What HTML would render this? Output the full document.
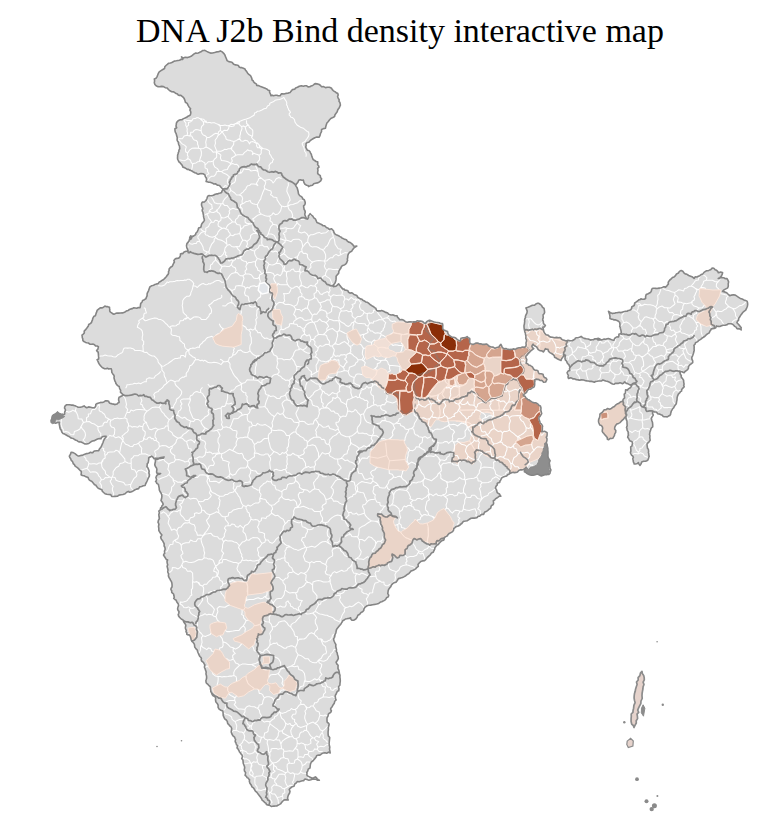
<!DOCTYPE html>
<html><head><meta charset="utf-8"><title>DNA J2b Bind density interactive map</title>
<style>
html,body{margin:0;padding:0;background:#fff;}
body{width:771px;height:815px;position:relative;overflow:hidden;font-family:"Liberation Serif",serif;}
#title{position:absolute;left:0;top:14px;width:800px;text-align:center;font-size:34px;line-height:1;color:#000;white-space:nowrap;letter-spacing:0px;}
</style></head><body>
<div id="title">DNA J2b Bind density interactive map</div>
<svg width="771" height="815" viewBox="0 0 771 815" style="position:absolute;left:0;top:0">
<defs><clipPath id="cc"><path d="M154.3 78.9l1.7-.6 1-1.4 .6-1.6 .6-1.6 1-1.9 1.8-1.2 1.8-1.1 1.8-1 .2-1.7 1.2-1.3 1.3-1.1 1.2-1.1 2-.3 1.9-.8 1.8-1.1 2.1-.3 1.6-.3 1.7-.3 1.5-.9 1.7 .2 -.5-1.4 -.8-1.2 .9 .6 1 .6 1-.5 1-.4 2 .4 1.9-.7 1.8-.6 1.5-1.2 1.5-1.2 1.7-.9 1.2 .2 1.2-.2 1.1-.5 1.1-.6 1.1-.5 1-.8 1.2-.1 1.2-.1 1.8 1 1.8 .9 2 .8 2.1-.1 2-.5 1.9-.6 2-.2 1.9-.8 1.8 1 1.5 1.4 1.2 1.7 .7 1.9 .8 1.8 .7 1.9 1.7 1 2 .4 1.1 .2 .8 .9 .7 .9 1 .5 1.1 .4 1.1 .1 1.1 .2 .9 .7 .6 1.1 1.2 .6 1.2-.1 1.2 .6 1.1 .5 1.1 .5 .5 1.1 .9 .9 1.1 1.8 1.3 1.5 1.7 1.3 1 1.9 .4 1.2 .1 1.2 1.1 .7 .5 1.1 .8 1 1 .6 1.1 .7 .2 1.3 2.1 .2 1.8 1 2 .7 1.9 .7 1.3 .6 1.4 .6 1 1.1 1.5 .3 -.2 1.4 .6 1.3 .5 1.2 .4 1.3 1.1-.7 1.2 .6 1.1-.2 1.2-.2 1.1-.1 1.1 .4 1.2 .2 1.1 0 .6-1 .8-.9 1.2-.2 1.1 .3 2-.6 2.1-.2 1.1-.4 1.2-.4 .7-1 .8-.9 .8-1 1.2-.1 1.2-.4 .7-1 1.9-.7 1.8-1.1 2-.5 2.1 .5 1.6-.4 1.7 0 1.4 1.1 1.8-.2 1.3-.8 1.5-.4 1.2-1 1.2-.9 1.8 .3 1.8 .4 1.6 1 1.3 1.4 2.1-.1 1.8 1 1.9-.4 2 0 1.2 .5 1.1 .8 .6 1.2 1 .9 1 .8 1.2 .6 .9 .9 1.3 .3 .5 1.7 -.6 1.7 .6 1.7 1 1.4 -.2 1.5 .9 1.2 .3 1.4 .2 1.3 -.6 1.3 -.5 1.3 -.8 1.1 -.8 1.2 -.5 1.8 -1.1 1.4 -1.1 1.5 -.4 1.8 -1.8 1.1 -2 .9 -1.4 1.5 -1.3 1.7 -1.2 1.3 -.6 1.8 -.5 1.6 -.3 1.8 -2 .4 -1.9 .9 -.1 2.1 -1 1.9 -.5 2 -1 1.8 -2.1-.2 -2.1 .6 -1.8 1.1 -1.8 1.1 -1.3 1.1 -1.1 1.2 -1.7 .3 -1.1 1.3 .1 1.7 -.4 1.7 .8 1.5 .8 1.5 1.5 .3 1.1 1 .6 1.3 .7 1.3 .6 2 .7 1.9 .7 1.6 1.5 .9 1.4 1 1.6 .4 .1 1.4 -.2 1.4 1 1 .4 1.4 -1.4 1.3 .4 1.9 -.3 1.6 0 1.7 1.2 1.1 1.4 1 .2 1.8 1.1 1.3 -.9 2 -1.7 1.4 -1.7 .7 -1.8 .3 -1.8 .6 -1.2 1.5 -2.1 .3 -1.8 1 -.6-1.1 -1.3-.3 -1-.5 -1-.7 -.9-1.9 -.4-2 -1.5 .1 -1.4-.5 -1.5 .3 -.8 1.4 -.4 1.1 -.9 .9 -.6 .9 -.7 1 .7 1.3 .8 1.2 .6 2 .5 2 .3 2.1 1.2 1.7 1.3 .8 1.2 1 .6 1.6 1.5 .8 .6 1.5 .4 1.7 -.5 1.7 -1.2 1.2 .1 1.2 .2 1.1 .2 1.2 .8 1 .1 1.1 .2 1.2 -.4 1.1 .1 1.2 .5 1.1 .4 1.1 .6 1.1 1.1 .6 1-1.3 -.2-1.6 .9-1.1 .9-1.2 1.3 1.3 1.4 1.2 1 1.6 1.5 1.1 .9 1.8 .7 1.8 1.9 .7 1.7 .9 1.3 .6 1.1 1 1.5 0 1.2 1 .8 .8 1.1 .4 1 .5 .6 1 1.3-.3 1.2-.4 .9 1 .9 .9 .6 1.9 1.1 1.6 1.7 1 1.8 .7 1 .6 .9 .5 1.1 .4 .6 1 1.1 .3 .9 .6 1.1 .2 1.1 .3 .9 1.4 1.4 1 1.6 .4 1.3 1.1 1.2 1.1 .8 1.3 1.6 .3 1.6-.2 -1.6 1 -1.5 1.1 -1.1 1.5 -1 1.6 -1.9 .9 -1.3 1.6 -.6 2 -.1 2 -.4 1.3 .3 1.3 -.5 1.1 -.4 1.2 -.8 1.1 -1 .8 -1.2 .6 -1.2 .4 -.9 .7 -.5 1 -.4 1.1 -.7 .8 -.5 1 -.7 1 0 1.1 -.2 1.1 -1.3 1.4 -1.2 1.4 0 1.8 -.1 1.9 -.4 1.7 -.7 1.6 -1.3 1.4 -.2 1.8 1.5 0 1.5-.5 1.1-1 1.1-1.1 .7 1.1 .9 .9 .7 1.1 .9 1 .9 1 1.4 .2 .9 1 1.4 .1 1.5 .6 .7 1.5 1.4 .8 1.6-.3 1.3 .7 1.1 1 1.4 .4 1.4 .5 .7 1.6 1.4 1 1.4 .9 1.7 .4 .8 .9 1.1 .5 1 .6 1 .7 1.2 .3 1.1 .6 .9 .8 .9 .8 1.8 1.2 1.9 1 .9 .9 1.2 .6 .4 1.2 .4 1.2 1.2 .4 1.3-.2 1.2 .2 1.2-.4 2.1 .7 1.9 1.1 1.1 .2 1.1 .3 .6 1 1 .6 1.9 .5 2-.1 1.9 .8 2 .1 .3 1.2 .8 .9 .8 .9 .7 .9 2.1-.2 2 .8 1.6 1.4 2 .6 1.6-.4 1.6-.2 1.7 .3 1.6-.3 1.8 .2 1.4-1.1 1.6 .3 1.7-.1 1.4 .3 1.4 .7 1 1.1 1.4 .5 .6-1.2 .9-1 1.2-.6 1.2-.6 1.6 .6 1.6 .6 1.6 .6 1.7 .3 1.7 .2 1.6 .2 1.5 .9 1.7 0 .3 1.6 -.1 1.7 0 1.8 1.1 1.3 1.8 .8 1.9 .7 .4 1.9 1 1.8 1.5 1 1.5 1 1.8 .1 1.7 .5 1.1 .9 1 1 1.2 .9 1.3 .5 .6-1.3 .4-1.5 1.4-.4 1.5 0 1.7-.3 1.5-1 1.1 1.2 1.5 .7 .1 1.3 -.2 1.4 .3 1.3 .5 1.2 1.3 .3 1.3 .4 1.6-.6 1.6-.7 1.2-.1 1.1 .3 1.1 .7 1.2-.3 1.8 .7 2 0 1.8-.4 1.5 1 1.4 1.3 1.8 .7 2.1 .1 1.8 1.2 1.9-.7 2-.6 .8-1.4 1.2-1.2 .8 1.5 .5 1.7 1.2 .7 1.3 .6 1.2-.3 1.1 .5 1.2 .2 1.1 .3 2-.2 1.9-.5 2.1 .5 1.8-1.1 1.9-.5 2-.2 1.8-.6 1.8 .4 1.3-1.3 .3-1.3 -.2-1.3 .1-1.3 .5-1.2 -.2-1.3 -.6-1.2 .1-1.4 0-1.3 -.4-1.3 -.1-1.3 -.6-1.2 -.2-1.4 -.3-1.3 -.2-1.3 -.1-1.3 0-1.3 .4-1.3 .1-1.3 .2-1.3 -.1-1.3 .2-1.4 .7-1.1 -.1-1.4 .5-1.3 1-1.8 .3-2.1 -.6-1.6 -.7-1.6 2-.6 1.9-.7 1-.7 1.1-.5 1.3-.2 1.2 .1 1.4-1.3 1.8-.7 1.2 0 .9 .7 .9 .7 .9 .6 .9 1.9 1.7 1.3 .2 1.3 .2 1.3 .1 1.3 -.5 1.3 -1 1 0 1.5 .2 1.4 -.5 1.3 -.1 1.2 .6 1.1 0 1.2 .2 1.1 .9 1 1 .9 -.9 1.5 -1.7 .4 .4 1.3 .3 1.3 .3 1.8 .9 1.5 1.3 1.5 2 .4 1.2 1.2 1.4 .8 2 .1 1.9 .5 2-.3 1.9 .3 1.2-.2 1.2 .4 .5 1.1 1 .7 1.9 .6 1.9 .7 1.9-.7 2 .4 2.1 .1 1.8-1.1 1-.6 .6-1.1 1.1-.2 1.2-.1 1.7-.5 1.6-.8 1.5 1.2 1.7 .8 1.9 .4 2 .2 1.2 .5 1.3 .6 1.3-.3 1.4-.1 1.5-.9 1.7 .1 1.7-.2 1.7 .3 -1.4-.6 -1.5 .1 .9 1.5 1.8-.1 1.5 0 1.5-.4 1.4-.5 1.5 .3 1.4-.5 1.4-.3 1.3 .5 1.3 .6 1.4 .4 1.4 .2 .6-1.5 1-1.1 1.4-.7 1.6 .1 .4-1.4 0-1.4 1.4-.5 1-1 -.3-2.1 -.6-2.1 -.2-1.1 -.5-1 .3-1.1 -.1-1.1 -.2-1.7 -1.2-1.2 -1.4-.8 -1.5-.6 -1.5 0 -1.4-.6 -1.4-.2 -1.4-.6 .1-1.9 -.3-1.8 -.6-1.7 -.6-1.8 .9 .7 .9 .7 1.1 .4 1.1 .5 1.1-.4 1.1 0 1.1-.4 1.2 0 1.1-.3 1.1-.2 1 .3 1.2-.2 2.1-.7 2.1-.4 1.4 0 1.2-.8 1.3-.3 1.2-.5 .9-1.2 .1-1.5 1.2-.8 1.3-.6 .3-1.3 .2-1.4 1.2-.7 1.1-.8 1-.7 .8-.9 1.2-.2 .9-.9 1.1 .6 1.3-.1 1.2-.1 1.1-.6 0-2.1 .6-1.9 1.9-.8 1.8-.9 .9-.8 .6-1.1 .2-1.3 .6-1 1.2-.4 1.2 .1 1.2 .1 1.2 .1 2.1-.4 2.2-.3 1.1-.4 1-.5 1.1 0 1.1 .2 1.5-1.5 1.3-1.6 -.3-1.1 .4-1.1 .6-.9 .7-.9 1.4-1.1 1.2-1.4 1.7-.6 1.4-1.2 1-1.8 1.9-.8 1-1.7 1.8-.9 1.6 .8 1.1 1.5 1.3 1.1 1.8 .4 1.7 1.2 1.9 .8 2 .8 1.5 1.4 1-1.6 1.8 .1 1.4-.7 1.5-.6 1.4-1.2 1.7-.6 1.1-1.5 1.5-1 1-.6 1.2-.1 1.1-.3 1-.5 1.1-.5 .8-1 1.2-.3 1.2 .4 1 1.2 1.5 .6 1.1 1 .6 1.5 1.1-.4 1.1-.4 1.1 .2 1 .6 -.5 1.8 -.9 1.6 -1.3 1.4 -1.6 .9 1.2-.1 .8-.8 1.2-.2 1.1 .2 1.2 .1 .9 .8 1.1 .1 1.1-.1 1 1.6 .7 1.8 -.4 1.9 .1 1.9 -.2 1.1 -.4 1 -.9 .6 -1 .5 -1.8 1 -1.4 1.5 2.1 .5 2 .9 1.5 1.5 1.6 1.4 1.8-.6 1.8-.4 1.9 .4 1.6 1.1 1.7 1.1 1.7 1.1 1.9 .7 1.8 .8 1.5 .5 1.5 .7 .5 1.5 .2 1.6 -.3 2 -.8 1.9 -.9 2 -1.7 1.2 -1.3 1.2 -1 1.6 -1.2 1.4 -.8 1.6 -1.1 1.3 0 1.7 -1.1 1.2 -.6 1.5 1.5 1.5 1.4 1.6 .7 .9 .7 .8 -.2 1.2 .2 1.1 -1-.6 -1-.7 -1.1 .4 -1.2-.5 -.8-1.4 -1.4-.7 -1-1.1 -1.1-1.1 -1.4-.5 -1.5 0 -1.6 .1 -1.2 1 -1.8 .5 -1.9-.1 -1.7 .5 -1.7 .8 -1.7-.1 -1.7-.5 -.6 1.8 -1.7 .8 -1.4 .1 -1.4 .3 -.6 1.3 -.9 1.1 -.5 1.5 -1.4 .9 -1.3 .8 -1.1 1.1 -1.3 1.2 -1.6 .9 -1.3 1.2 -1.5 1 -1.2 .6 -.8 1 -1.1 .6 -1.2 .6 -.5 1.5 -1.1 1.1 .3 1.6 -.1 1.5 .1 1.9 -.4 1.8 -.5 1.7 -.6 1.8 -.9 1.7 .1 1.8 .8 1.7 0 1.9 -1.5 1.1 -1.5 1.1 -1.2 1.5 -.1 2 -.8 1.3 -1.3 .9 -1.3 .9 -.9 1.2 -1.1-.4 -1-.6 -1.1-.2 -1.1-.2 .2 1.5 .4 1.4 .9 1.2 -.1 1.6 1.2 1.6 1.2 1.6 .1 1.9 .4 2 -.4 1.3 .5 1.3 -.8 1 -1 .9 -.8 1.1 0 1.3 -1.1 .6 -.7 1.1 -1.4 1.4 -.8 1.8 -.5 1.9 -.1 2 -.4 1.9 -.3 2 -1.2 1.5 -1 1.7 -.6 1.1 -1 .8 -.4 1.1 -.7 1 -.3 1.2 -.4 1.2 -.2 1.2 -.7 1 -1.3 .6 -1.2 .8 -1.4-.1 -1.4 0 -1.4-.4 -.8-1.2 -1.3-.5 -1.2-.6 -2.1-.4 -1.2-1.7 -2 0 -1.8-.8 -.2 2 .8 1.9 -1 1.6 -1 1.7 .5 2.1 .7 2.1 .2 2.1 0 2.2 -1 .7 -.6 1 -.4 1.1 -.3 1.2 -.5 1.1 -.1 1.2 -.3 1.1 .4 1.2 0 1.2 -.1 1.2 .2 1.2 .2 1.2 -.8 1 -.7 1 -1 .7 -.7 1 .2 2.2 .3 2.1 .8 .9 .2 1.2 .1 1.1 -.2 1.1 .4 1.2 0 1.2 .4 1.3 -.5 1.1 -.3 1.4 -.5 1.2 -1.1 .7 -1.2 .5 -2 0 -1.9 .7 -.6 1.9 -1.2 1.6 -.9-1.3 -.6-1.5 -.9 .8 -1 .4 -1.2 .2 -1.1 0 -.3-1.1 -.6-1 0-1.1 -.3-1.1 -.2-1.2 .6-1.2 -.6-1.1 -.9-.8 -.7-.9 -.5-1 -.3-1.2 .5-1.1 -.1-2.1 -.1-2.2 1.2-.8 .3-1.5 .3-1.3 -.3-1.4 -1.2-.7 -1.3-.5 -.6-1.2 -.6-1.2 -.8-.9 .1-1.2 .7-1 -.3-1.2 0-1.1 -.1-1.2 -.6-.9 -.5-1 0-1.1 -.5-1.1 .4-1 .3-1.1 -.2-2.1 0-2.2 -.5-1 -.4-1.1 -.2-1.1 -.3-1.1 -1.2 1 -.8 1.3 -1.2 1 -1.1 1 -1.2 1.4 -1.6 .8 -1.7 .7 -1.2 1.4 -.8 1.7 -.2 1.9 1.2 1.5 -.2 2 -.9 1.3 -.3 1.7 -.8 1.3 -.8 1.4 -1.2 .2 -1.2-.1 -1 .6 -.9 .8 -1.2-.8 0-1.5 -.9-.9 -.8-1.1 -1-.9 -.8-1.2 -1-.9 -.6-1.3 .2-1.5 .3-1.5 -.4-1.5 -1-1.2 -1.4-.4 -.6-1.3 -.6-1.3 -.2-1.3 .2-1.8 .8-1.7 .4-1.8 0-1.8 1.2-1 1.3-.8 .9-1.2 .9-1.3 1.9-.2 1.5-1.1 1.9 .7 1.8-.8 1.4-1.1 1.7-.7 1.1-1.5 1.5-1 1.5-.5 1.3-1.1 1.3-.9 1.6-.4 .5-1.9 1.4-1.4 -.2-1.9 -.2-1.9 1-.7 .3-1.2 0-1.2 .1-1.2 1.9 .3 1.2-1.5 1.6-.8 1-1.4 .7-1.4 .6-1.5 1.7 .4 1.3-1.2 -1.8 .5 -1.6 1.1 -1.9 .8 -1.8-1 -1.1-.6 -1.1-.1 -.8-.9 -1.1-.6 -.7 1.2 -1.3 .6 -1.2-.6 -1.3-.4 -1.4 .7 -1.5 0 -1.6 0 -1.4 .8 -1.5-.2 -1.4-.7 -1.2-.9 -1.4-.6 -1.4-.5 -1.4-.3 -1.4-.6 -1.4-.4 -1.3 .9 -1.5 .1 -1.5 0 -1.5 .3 -1.5 .2 -1.3 .7 -1.4-.5 -1.5-.3 -1.5 0 -1.4-.4 -1.4-.1 -1.4-.2 -2.1-.7 -2.1-.3 -1.1 .4 -1.1 0 -1.1-.2 -1.1-.1 -1.1-.2 -1-.6 -1.1-.3 -1.1 .2 -.9-.7 -1.1-.4 -1.2 .3 -1.1 .3 -.5-1.5 .4-1.5 -.8-1.3 -.5-1.4 1-1.6 1.7-.6 -.3-1.8 .5-1.7 -.7-1.1 -.4-1.3 -1-.8 -.8-1.1 -.4-1.6 -1.3-1 -.4-1.5 .1-1.6 .4-1.8 -1.9-.6 0 1.7 -1.1 1.3 -1 1.3 -.5 1.5 -1.7-.6 -1.6-.7 -1.5-1.1 -1.7-.8 -.2-1.5 -1.1-1.1 -1.6-1.1 -1.7-.9 -1.4-1.4 -.5-1.8 -1.4-.1 -1.2-.6 -1 1.6 -.9 1.7 -1.5-1.1 -1.8-.2 -1.1-.6 -.9-.6 -.7-1 -.5-1.1 -.9-.8 -1.1-.5 -1.1-.8 -.8-1.1 -.7 .9 -.6 1 .7 1.5 1.2 1.1 -1.3 1 -1.3 1 -.9 .7 -.7 .9 -.9 .7 -.7 .9 -.6 1 -.9 .7 -.6 1 .1 1.2 .9 1.5 -.3 2 -.4 1.9 1.5 .6 1.1 1.3 1.1 .1 1 .7 .9 .5 .9 .7 .9 1.9 1.7 1.3 1.5 0 1.3 .7 .3 1.4 .8 1.2 2 .2 1.9 .4 .4 1.7 .9 1.5 1.6 .6 1 1.4 -.6 1.3 -.7 1.3 -2 .3 -1.2-1.6 -1.2-.3 -1.2 .1 -1-.9 -1.2-.2 -1.7-.3 -1.5 .9 .3 1.3 -.3 1.3 .1 1.3 -.1 1.3 -.5 1.7 -1.5 .9 -1.1 .4 -.8 .9 -1.8 .2 -1.5 1.1 -.9 1.9 -1.6 1.4 -1 .7 -.3 1.2 1.6 .9 .9 1.7 1 .6 .8 .9 1.2 .2 .9 .9 1.9 1.1 2 .8 2.1 .2 1.8 1.1 1 1.3 1.6 .7 .6 2 -.2 2 .4 1.8 .5 1.8 -.6 1 -.6 .9 -.6 1 -.9 .7 -.1 1.2 .1 1.2 .5 1.1 .4 1.1 .2 1.4 1.2 .8 .8 1.1 .5 1.2 -.3 1.4 .1 1.4 -.3 1.3 -.4 1.4 1.4-.3 1.5-.2 1.3 .6 1.2 .8 0 1.2 0 1.1 -.2 1.2 -.7 1 .8 1.7 -.1 1.9 -.6 1.9 .8 1.8 .2 1.8 .5 1.8 0 1.8 .2 1.8 0 1.9 -.1 1.8 .2 1.9 .8 1.7 1.2 1.7 -.8 2 .2 1.8 .4 1.8 .1 1.9 .9 1.7 -.6 1.8 -.4 1.8 -1 .9 -1.3-.3 -1.1 .7 -1.2-.4 -1.2 .7 -1.4 .4 -1.4 .4 -1.4-.6 -1.3-.8 -1.4-.6 -1.4 .6 -1.4 .5 -1.4 .2 -1.4 .1 -1.3-.4 -1.3-.5 -1.2-.5 -1.2-.6 -1-1 -1.2-.6 .1-1.3 0-1.3 1.1-.7 .7-1.2 -1.3 1.2 -1.5 1.1 -1.8 .4 -1.8 0 -1.4 .8 -1 1.2 -1.5 .5 -1.6 .2 -1.2-.2 -1.2 .1 -1 .6 -1.1 .4 -1.1 .7 -1.2 .6 -.8 1.1 -1.4 .4 -1.5 .4 -1.4 .7 -1.2 1 -.5 1.5 -.8 1.1 -.3 1.4 -1.3 .3 -1.2 .8 .1 1.4 -1 .9 -.5 1.1 -.4 1.2 .7 1 .5 1.1 .3 1.2 .3 1.2 1.1 .7 1.1 .7 .7 1.1 .7 1.1 -1.5 0 -1.2 .9 -1.3 .9 -1.4 .9 -.8 1.2 -1.3 .6 .2 1.4 .1 1.4 -.7 1.3 -1.3 .6 -.6 1.2 -.2 1.4 -.9 .7 -1 .5 -.8 .9 -.9 .7 -1.1 .7 -1.3 .5 -.7 1.2 -.5 1.2 -1.5-.1 -1.3 .7 -1.1 1.2 -1.6 0 -.9 1.2 -1.5 .6 -1.5 .1 -1.5-.1 -1.6 .2 -1.3 .8 -1.3 .9 -1.3 .8 -1.6 .3 -1.6 .2 -1.3 1 -.9 1.3 -1.2 .7 -.8 1 -1.2 .7 -1.3 .3 -1.3 .5 -1 .9 -1.2 .9 -.2 1.5 -1 1.6 -1.6 1 -1.8 .8 -1.3 1.3 -.5 1.1 -1.1 .6 -1 .5 -.9 .8 -.2 1.3 -.5 1.1 -1.3 .3 -1 .8 -.9 .7 -.8 .9 -.8 .8 -.6 1 -1.1 .4 -.9 .8 -.6 1 -.8 .9 -.1 1.2 -.5 1.1 -.6 1.1 -.4 1.2 -1.2 .3 -1 .7 -.5 1.2 -.9 .9 -1.4 1.2 -1.3 1.3 -1.1 1.5 -1.4 1.2 -2 .3 -1.8 .7 -1.5 1.4 -1.2 1.5 .3 1.9 -1.6 1.2 -1.1 1.3 -1.5 .8 -1.5 .7 -1.6 .6 -1 1.3 -1.1 1.3 -1.7 .9 -1.4 1.2 -1.6 .9 -1.7 .9 -2.1 .6 -2 .5 -1.1 1.9 -1.3 1.7 -1.8 .4 -1.5 1 -1.2 1.3 -.7 1.7 -.8 .9 -.7 .9 -.6 1 -.5 1.1 -.2 1.6 -.2 1.6 .9 1.5 -.5 1.7 -1.7 .9 -.9 1.7 -1.1 .9 -1.4 .7 -1.3 .6 -1.4 .4 -1.7 1.3 -2 .6 -2 .4 -2.1 .3 -2 .4 -2.1 .2 -1.9 .8 -1.7 1.2 -.9 1.5 -.3 1.7 -1.1 1.3 -1.6 .7 -1.3 1.7 -1.8 1.1 -.8 2 -1.3 1.7 -1.8 1.2 -2.1 .1 -1-1.1 -.3-1.5 -1.2 .7 -1.4 .1 -1.3 .3 -1.3 .2 -1.1 1 -1.3 .5 -.7 1.2 -.8 1.2 -.8 1.5 -1.1 1.1 -1 1.3 -1 1.3 -1.1 1.4 -.4 1.8 -.3 1.7 -.8 1.6 -.2 1.4 -.3 1.3 -.8 1.3 0 1.4 .6 1.5 .8 1.6 .8 1.5 -.2 1.7 .4 1.7 .4 1.6 -.2 1.7 .9 1.5 .2 1.7 .7 2 .2 2.2 -1 1.8 -1.2 1.8 .7 1.6 1.3 1.3 -.1 1.7 0 1.8 .8 1.5 .4 1.7 .2 1.7 .6 1.6 -.1 2 .3 1.9 .1 2 -.3 1.9 -.1 2.2 -1.5 1.5 .6 2 -.3 2.1 -1.3 .5 -.7 1.2 -.4 1.2 -.7 1.1 -.4 1.3 .2 1.3 .1 1.3 .6 1.2 -1.4 1.4 -.4 1.9 -1.1 1.5 -.9 1.7 -.8 1 -.8 1 0 1.3 .7 1.1 -.4 1.1 -.8 .8 -1 .5 -.8 .9 -.4 2 -1 1.8 0 2 .1 2 .7 .9 1 .6 .3 1.1 -.2 1.1 -.6 2 .1 2.1 -.3 2 0 2.1 .2 2.1 1.4 1.6 -.2 1.9 -.2 2 -.2 1.9 .2 2 .5 1.9 -.3 2 .4 1.9 .3 1.9 -1.8-.9 -1.7 1.2 -1.7-.6 -1.8 .3 -1.3 .6 -1.1 .9 -1.3 .8 -1.5-.2 -1.4 .7 -.6 1.5 -1 1.1 -.9 1.1 -1.3 1.5 -1.6 1.2 -.7 1.8 -.3 2 -.2 2 -1.8 1.1 -.4 1.8 -1 1.6 .2 1.1 -.2 1.2 .6 1 1 .6 1.7 .8 1.7 .8 1.9-.2 1.7-.9 1 .8 .8 1.1 1 .9 1.1 .6 -1.7-.1 -1.5-.9 -1.7 0 -1.6-.3 -1.9 .7 -2 .5 -2-.6 -1.9-.6 -.8 .8 -.6 1 -1.1-.1 -1.1 .4 -2.1 .7 -2.1-.2 -1.1 1.5 -1.5 1.1 -.6 2 -2 .6 -1.5 1.2 -1.3 1.5 .8 1.8 -.5 2 -1 1.5 -.6 1.7 -.4 1.8 .7 1.7 -1.2-.2 -1.2 .1 -1.3-.1 -1.1 .7 -1 1 -1 1.2 -.9 1.2 -1.3 .7 -1.2 .6 -1.2 .8 -1.4 0 -1.4 .1 -1.4 .1 -1.3 .3 -1.1-.9 -1.3-.4 -1.3-.3 -1.2-.5 -.5-1.3 -1.2-.6 -1.1-1.3 -1.4-.9 -.6-1.6 -1-1.4 -1.2-1.6 -1.3-1.6 -1.2-1.7 -1.5-1.3 -.9-1.6 -1-1.6 -1.6-1.1 -.7-1.9 -1.3-1.7 -.6-2.1 .3-1.2 -.8-.9 -.7-.9 -1-.5 -.7-1.3 -1.3-.9 .3-1.5 .2-1.5 -1.1-1.3 -.2-1.7 .4-1.6 -.3-1.6 -.6-1.5 -.6-1.5 -.1-1.6 -.2-1.6 -1.2-1.5 .8-1.8 -.5-1.7 -1.2-1.2 -.5-1 -.8-.8 -.4-1.1 -.6-1 -.6-1.1 -.9-.9 .3-1.2 .4-1.2 -1.1-.6 -.4-1.1 -.3-1.1 -.7-1 .1-1.2 .3-1.1 -.6-1.1 -.4-1.1 -1.6-1.4 -1.1-1.8 -.7-2 .3-2.1 .2-1.3 -.4-1.2 -.7-1 -1.1-.7 -.6-1 -.9-.8 -.5-1.1 -.1-1.2 -1.1-1.6 -1.6-1.1 -.8-1.7 -.7-1.8 -.1-2.1 -.2-2.2 -2-.9 -1.8-1.1 -1-1.8 0-2.1 -.9-1.8 -1.3-1.5 -.3-1.2 -.1-1.2 .2-1.3 -.4-1.2 -1.1-.7 -1.1-.5 -.8-1 -.5-1.2 -.4-1.1 -.6-.9 0-1.2 -.3-1.1 -.1-1.1 0-1.2 -.8-.9 -.9-.8 -.8-.9 -.9-.7 -.8-.9 -.2-1.2 -.1-1.2 .4-1.1 .3-1.1 0-1.2 -.1-1.2 -.4-1.2 -.1-1.2 .2-1.2 -.3-1.2 -.5-1.1 -.3-1.2 -.6-1.1 0-1.3 .4-1.3 -.7-1.1 -.6-1.2 -.9-1 -1.1-.7 -.4-1.3 .2-1.4 -.7-1 -.8-.8 -.6-1 -.5-1.1 -.4-1.1 -.5-1 -.4-1.1 -.2-1.2 -1-.8 -.8-1.1 -.8-1.1 -.1-1.3 -.2-1.3 -.7-1.2 -.8-1.1 -1-.8 -.8-1.6 -.3-1.7 -.5-1.6 -1-1.5 -1.4 0 -1.1-.7 0-1.4 -.8-1.1 .3-1.2 -.5-1.1 -.4-1.1 0-1.2 .4-1.2 -.2-1.2 -.6-1 -.7-.9 -.6-1 -.4-1.1 -.6-1.1 -1.2-.3 -1-1 -1-1.1 -.9-1.2 -.4-1.4 .6-1.4 .2-1.6 -.9-1.2 -.5-1.5 .3-1.5 .6-1.5 0-1.6 -.9-1.3 -.9-1.3 -.5-1.5 -1.3-.7 -1.2-1 .6-1.3 -.4-1.4 -.2-1.5 -.9-1 -1.1-1 0-1.5 -.8-1.2 .2-1.4 .9-1.2 .1-1.5 -.1-1.4 -.2-1.4 -.5-1.3 -.8-1.2 -.6-1.3 -.8-1.1 -.7-1.9 .2-2 -.9-1.9 .3-2 -.4-1.8 -.5-1.8 .6-1.6 -.5-1.7 -.2-1.6 .6-1.6 -1.2-.3 -.6-1 -1.2-1.8 -1.1-1.8 .5-1 .8-.9 -.3-1.1 0-1.2 .6-1.1 0-1.2 -.2-1.2 -.7-1.1 -.1-1.1 .1-1.2 -.5-1.1 -.5-1 -.8-1.4 -1-1.2 -.5-1.1 -.3-1.2 .7-.9 .6-1.1 -1.4-1.7 -1.2-1.8 -.5-1.1 0-1.1 0-1.2 -.3-1.1 .1-1.2 .3-1.2 -.3-1.1 -.6-1.1 .4-2 1-1.8 -.4-2 -.2-2 .6-1.8 -.6-1.7 1.5-1.2 .3-1.8 1-.7 .2-1.3 .9-.8 .5-1.1 -.9-1.9 -1.3-1.7 .6-2 .3-2.1 -.2-1.8 -.7-1.6 -1-1.5 -.7-1.6 -.1-1.8 -.4-1.8 -.4-1.9 -1.7-1 -.2-1.2 -.9-.7 .6-.9 .4-1.1 -.7-2 .8-1.9 .8-.8 1-.5 1.1-.2 1-.6 -2 0 -1.9-.5 -.1-1.7 .3-1.7 -.4-1.7 -1.1-1.4 -.6-1.6 .2-1.7 .4-1.5 0-1.7 1-.7 1.2 .1 .9-.8 1.1-.4 1.3 .1 .9-.9 1.1-.2 1.1-.3 -.6 1.4 -1.5 0 -1.3-.7 -1.3 .4 -1.3 .4 -1.3-.2 -1.4 0 -1.2 .5 -1.1-1.5 -1.5-1.1 -1.4 .9 -1.4 1 0 1.7 -.3 1.6 -.2 1.4 -1 1.1 0 1.3 -.3 1.4 1 1.4 .7 1.6 .6 1.7 -.3 1.8 .6 1.7 -.2 1.7 -.9 1.5 -.7 1.6 -.6 1.5 -.7 1.5 -.8 1.4 -.5 1.6 -1.8 .3 -1.7 .7 -2 .4 -1 1.7 -2.1 .5 -1.9 .9 -1.8 1.2 -2 .7 -1.2 .4 -1-.9 -1.1 .3 -.9 .6 -1.5 1.5 -2.1 .7 -2 .3 -2 .3 -1.7 1.2 -2.1 .1 -1.8 .1 -1.7-.1 -1-1.8 -2-.1 -1.9-.2 -1.8-.6 -1.4-1.2 -1.3-1.3 -.4-1.4 -1.3-.6 -1.2-.5 -1.2-.5 -.9-.9 -.8-1 -.7-1.2 -1.3-.4 -.9-1.1 -.8-1.1 -.9-1.1 -1.3-.6 -1.2-.7 -.8-1.2 -.5-1.4 -1.4-.6 -1.4-.5 -1.3-.7 -1.6-.2 -1.3-.8 .2-1.7 0-1.6 -1.3-1.1 -1.1-1.2 -.9-.9 -1-.9 -1.1-.7 -1-.8 -.5-1.3 -1.1-.7 -.4-1.3 -.5-1.2 -1.2-1 -.5-1.5 -.9-1.2 -.5-1.5 1.2-1.8 .6-2 2.1 .3 1.8 1 .9 .7 .9 .8 1 .6 1.1 .4 2-.7 2-.3 1.9-.8 1.9-.7 2-.4 1.9-1 1.1 .5 1.2 0 .5-1.1 1.1-.6 2.1-.2 2.1-.2 .9-1.9 1.4-1.6 .7-1.6 .7-1.6 .7-1.6 .5-1.7 .6-1.1 .6-1.1 1-.9 .3-1.3 -1.5 .1 -1.5 .2 -1.5 .8 -.6 1.5 -1.7-.3 -1.7 .5 -1.6 .7 -1.5 .9 -2.1 .4 -1.9 1.1 -1.7 1.4 -2.1 .5 -2.1-.1 -1.8-1 -1.8-.9 -2.1-.1 -.9-.6 -.9-.7 -1.1-.3 -.9-.5 -1-.6 -.8-.7 -1.1-.2 -1.1-.3 -1.5-1.2 -1.7-.8 -1.7-1 -1.6-.9 -1.6-.7 -1.2-1.4 -.5-1.7 -1.1-1.4 -.4-1.6 -.2-1.6 -.4-1.7 .3-1.6 -2 0 -1.9 .8 -1.9-.6 -2-.2 -.6-1.7 .6-1.6 1-1.4 -.2-1.8 1.1-1.2 1.6-.5 1.4-.6 1.6-.3 1.1 .4 1.1 .4 .9 .8 .7 1 0-.4 1.1-1 1.5-.3 .1-2.1 .8-2 -.4-1.1 -.6-.9 .2-1.2 .5-1 1.2-1.1 1.7 0 1.5-.1 1.5 .4 1.4 0 1.3 .3 1.3 .4 1.2 .6 1.9 .9 2.1-.1 1.9-.5 1.9-.8 1.2 1.1 1.4 .7 1.9-.8 2 .4 1.9 .4 2 0 1.2-1.5 .1-1.9 1.4-.9 1.7-.5 1.7-.5 1.7 .1 1.6-.6 1.4-1 1.7-.2 1.7 .5 .3 1.2 1 .9 1.2 .3 1.1 .4 1.3 .1 1.1 .5 1.2-.3 1.2-.3 .8-1.1 1.2-.4 -.1-1.3 -.4-1.3 .1-1.3 .4-1.3 1.1-.5 1-.6 1.1-.5 .7-1 -1.3-1.3 -1.3-1.3 .3-1.2 -.3-1.1 -.6-1 -.4-1.1 -.2-1.2 -1.2-.6 -.8-.7 -.7-.9 -.7-1 -.2-1.2 -.7-1 -.3-1.1 -.4-1.2 -.2-1.1 .2-1.2 -.3-1.2 -1.1-1.4 -1-1.5 -.1-1.8 -.4-1.8 -1.3-.1 -1.3 .3 -1.3-.8 -1.3 .6 -1.5-.1 -1.4-.6 -1.2-.8 -1-1.1 -1.3-1.4 -1-1.6 -.7-1.8 -.9-1.7 1.5-.7 .1-1.7 -.2-1.4 -.1-1.4 -.1-1.1 -.1-1.2 -.9-.7 -.7-.9 .7-.9 .7-.8 .1-1.1 .3-1.1 -1.3-.7 -1.6-.1 -1-1.1 -1.3-.7 -1.7 .2 -1.7-.2 -1.4-1.1 -1.7-.2 -1.1-.4 -1.1-.6 -1-.6 -.7-1 0-1.3 -.5-1.2 -.1-1.3 -.2-1.3 1.3-1 1-1.2 -.1-1.8 1.2-1.2 1.3-1.6 1.3-1.7 .5-.9 .2-1.2 .9-.5 1-.6 .9-1 .4-1.3 .6-1.2 .2-1.3 .6-1.2 .7-1.1 1.4-.5 .4-1.5 .7-1.9 .6-2 1.5-1.3 1.6-1.3 1.3 .1 1.3-.2 1.1-.8 1-.9 1.1 .6 1.2-.1 1.2 .4 1.1 .4 .1 1.1 .2 1.1 -.1 1.1 .3 1.1 .9 .7 1 .6 .9 .8 1.1 .5 1.5-.7 1.6-.5 1.7 0 1.7-.1 2.1-.1 2-.6 1.7-1.2 2-.7 1.2-.9 1.5-.6 1.5-.3 1.4-.8 1.5 .2 1.5 .2 1.5-.6 1.6 .2 .4-1.1 .1-1.1 .2-1.1 .1-1.2 .9-.7 .6-1 .4-1.2 1.2-.4 1-.6 1-.6 .5-1.1 .4-1.1 .4-1 0-1.2 .1-1.1 .5-1 .9-1.7 .6-1.8 .7-1.9 1.6-1.1 1.1-.3 1-.3 1-.6 1-.3 1.1-.4 1.2-.1 .7-.9 .7-1 1.3-.4 .9-.9 1.2-.6 1.1-.7 .9-.9 .8-.9 1-1 .6-1.1 1-1 .5-1.3 -.1-1.4 .6-1.2 0-1.5 .9-1.1 1-1 1.3-.6 .6-1.4 .6-1.4 .9-1.5 -.5-1.6 .8-1 1-.8 1.3-.2 1.3-.1 1.1-.8 .7-1 .4-1.3 -.1-1.3 1.1-.4 1.2 .2 .7-.9 .7-.9 2-.7 2.1 .1 -.6-1.9 -.8-1.8 -.3-2 .4-2 .7-.8 .8-.9 .6-.9 .4-1 .9-.8 .3-1.1 -.2-1.2 .4-1.1 -.7 .9 -.4 1.1 -.1 1.1 -.3 1.1 1.1-.6 .9-.8 .5-1.1 .5-1.1 1.2-.3 1-.7 1.1-.8 .2-1.3 1.5-1.5 .8-2 .3-1.1 .5-1 1.2-.1 .9-.8 .3-1.5 .4-1.4 .9-1.2 1-1.1 .8-1.2 -.2-1.4 -.4-1.3 -.3-1.4 0-1.3 -.4-1.3 -.1-1.3 -.7-1.2 -.1-1.2 .6-1.1 -.3-1.2 -.5-1.1 -.4-1.1 -.1-1.2 .2-1.2 .6-1 2.1-.1 1.5-1.5 1-1.7 .5-1.9 .6-1 1.1-.4 1.1 .2 1.1 0 2.1-.4 1.8-1 1.3-.4 1.4 0 1.2-.6 1.3-.3 1.2-.5 .3-1.2 .7-1 .4-1.1 -1-.9 -1-1 -.8-1.1 -1.1-.9 -1.4 0 -1.2-.8 -1.2-.7 -1.4 .2 -1.8-1.1 -2-.6 -2-.2 -2-.7 .5-1.7 -.3-1.7 -1-1.4 -.4-1.7 -1.8-1.1 -2.1-.2 -1.3 .1 -1.2 .6 -1.3-.4 -1-.9 -1.2-.1 -1-.6 -1.1-.6 -1-.7 -1.1-.6 -1.2-.3 -1.1-.8 -1.3 .1 -1-.8 -1.1-.6 -1.1-.6 -1.2-.3 -.5-1.6 -1-1.3 -1.1-1.3 -1.3-1 -.5-1.3 -.7-1.2 -.2-1.3 .1-1.4 0-1.4 .4-1.3 .3-1.3 .6-1.2 0-1.4 .8-1.2 -.1-1.4 -.1-1.3 -.6-1.2 -.4-1.3 -.1-1.4 -.8-1.1 -.5-1.3 .1-1.4 0-1.3 -.5-1.3 -.3-1.3 -.4-1.3 -.7-1.2 -.3-1.3 -.1-2 1.8-1 -.7-1.7 .3-1.8 .1-1.2 .5-1 .8-.9 .9-.7 1-.4 1-.4 1.2 0 1-.6 1.1-.5 1-.5 1.1-.5 1-.6 1-.8 1.1-.4 1.1-.7 .4-1.2 .2-1.3 -.2-1.3 -.7-1.3 .7-1.3 -1.4-1.5 -1.1-1.8 -.9-2 -1.8-1.1 -.5-1.9 -.7-1.8 -1.2-1.6 -1.5-1.2 -1-.5 -1.2 .1 -1.1-.4 -.7-.9 -2-.9 -1.8-1.3 -2-.2 -1.7-.9 -1.6-1.3 -1.2-1.5 -2-.3 -1.7-1.1 -2-.2 -2 .3 -1.8-.1 -1.6-.8 -1.2-1.3 -.6-1.7 .3-2z"/></clipPath></defs>
<path d="M154.3 78.9l1.7-.6 1-1.4 .6-1.6 .6-1.6 1-1.9 1.8-1.2 1.8-1.1 1.8-1 .2-1.7 1.2-1.3 1.3-1.1 1.2-1.1 2-.3 1.9-.8 1.8-1.1 2.1-.3 1.6-.3 1.7-.3 1.5-.9 1.7 .2 -.5-1.4 -.8-1.2 .9 .6 1 .6 1-.5 1-.4 2 .4 1.9-.7 1.8-.6 1.5-1.2 1.5-1.2 1.7-.9 1.2 .2 1.2-.2 1.1-.5 1.1-.6 1.1-.5 1-.8 1.2-.1 1.2-.1 1.8 1 1.8 .9 2 .8 2.1-.1 2-.5 1.9-.6 2-.2 1.9-.8 1.8 1 1.5 1.4 1.2 1.7 .7 1.9 .8 1.8 .7 1.9 1.7 1 2 .4 1.1 .2 .8 .9 .7 .9 1 .5 1.1 .4 1.1 .1 1.1 .2 .9 .7 .6 1.1 1.2 .6 1.2-.1 1.2 .6 1.1 .5 1.1 .5 .5 1.1 .9 .9 1.1 1.8 1.3 1.5 1.7 1.3 1 1.9 .4 1.2 .1 1.2 1.1 .7 .5 1.1 .8 1 1 .6 1.1 .7 .2 1.3 2.1 .2 1.8 1 2 .7 1.9 .7 1.3 .6 1.4 .6 1 1.1 1.5 .3 -.2 1.4 .6 1.3 .5 1.2 .4 1.3 1.1-.7 1.2 .6 1.1-.2 1.2-.2 1.1-.1 1.1 .4 1.2 .2 1.1 0 .6-1 .8-.9 1.2-.2 1.1 .3 2-.6 2.1-.2 1.1-.4 1.2-.4 .7-1 .8-.9 .8-1 1.2-.1 1.2-.4 .7-1 1.9-.7 1.8-1.1 2-.5 2.1 .5 1.6-.4 1.7 0 1.4 1.1 1.8-.2 1.3-.8 1.5-.4 1.2-1 1.2-.9 1.8 .3 1.8 .4 1.6 1 1.3 1.4 2.1-.1 1.8 1 1.9-.4 2 0 1.2 .5 1.1 .8 .6 1.2 1 .9 1 .8 1.2 .6 .9 .9 1.3 .3 .5 1.7 -.6 1.7 .6 1.7 1 1.4 -.2 1.5 .9 1.2 .3 1.4 .2 1.3 -.6 1.3 -.5 1.3 -.8 1.1 -.8 1.2 -.5 1.8 -1.1 1.4 -1.1 1.5 -.4 1.8 -1.8 1.1 -2 .9 -1.4 1.5 -1.3 1.7 -1.2 1.3 -.6 1.8 -.5 1.6 -.3 1.8 -2 .4 -1.9 .9 -.1 2.1 -1 1.9 -.5 2 -1 1.8 -2.1-.2 -2.1 .6 -1.8 1.1 -1.8 1.1 -1.3 1.1 -1.1 1.2 -1.7 .3 -1.1 1.3 .1 1.7 -.4 1.7 .8 1.5 .8 1.5 1.5 .3 1.1 1 .6 1.3 .7 1.3 .6 2 .7 1.9 .7 1.6 1.5 .9 1.4 1 1.6 .4 .1 1.4 -.2 1.4 1 1 .4 1.4 -1.4 1.3 .4 1.9 -.3 1.6 0 1.7 1.2 1.1 1.4 1 .2 1.8 1.1 1.3 -.9 2 -1.7 1.4 -1.7 .7 -1.8 .3 -1.8 .6 -1.2 1.5 -2.1 .3 -1.8 1 -.6-1.1 -1.3-.3 -1-.5 -1-.7 -.9-1.9 -.4-2 -1.5 .1 -1.4-.5 -1.5 .3 -.8 1.4 -.4 1.1 -.9 .9 -.6 .9 -.7 1 .7 1.3 .8 1.2 .6 2 .5 2 .3 2.1 1.2 1.7 1.3 .8 1.2 1 .6 1.6 1.5 .8 .6 1.5 .4 1.7 -.5 1.7 -1.2 1.2 .1 1.2 .2 1.1 .2 1.2 .8 1 .1 1.1 .2 1.2 -.4 1.1 .1 1.2 .5 1.1 .4 1.1 .6 1.1 1.1 .6 1-1.3 -.2-1.6 .9-1.1 .9-1.2 1.3 1.3 1.4 1.2 1 1.6 1.5 1.1 .9 1.8 .7 1.8 1.9 .7 1.7 .9 1.3 .6 1.1 1 1.5 0 1.2 1 .8 .8 1.1 .4 1 .5 .6 1 1.3-.3 1.2-.4 .9 1 .9 .9 .6 1.9 1.1 1.6 1.7 1 1.8 .7 1 .6 .9 .5 1.1 .4 .6 1 1.1 .3 .9 .6 1.1 .2 1.1 .3 .9 1.4 1.4 1 1.6 .4 1.3 1.1 1.2 1.1 .8 1.3 1.6 .3 1.6-.2 -1.6 1 -1.5 1.1 -1.1 1.5 -1 1.6 -1.9 .9 -1.3 1.6 -.6 2 -.1 2 -.4 1.3 .3 1.3 -.5 1.1 -.4 1.2 -.8 1.1 -1 .8 -1.2 .6 -1.2 .4 -.9 .7 -.5 1 -.4 1.1 -.7 .8 -.5 1 -.7 1 0 1.1 -.2 1.1 -1.3 1.4 -1.2 1.4 0 1.8 -.1 1.9 -.4 1.7 -.7 1.6 -1.3 1.4 -.2 1.8 1.5 0 1.5-.5 1.1-1 1.1-1.1 .7 1.1 .9 .9 .7 1.1 .9 1 .9 1 1.4 .2 .9 1 1.4 .1 1.5 .6 .7 1.5 1.4 .8 1.6-.3 1.3 .7 1.1 1 1.4 .4 1.4 .5 .7 1.6 1.4 1 1.4 .9 1.7 .4 .8 .9 1.1 .5 1 .6 1 .7 1.2 .3 1.1 .6 .9 .8 .9 .8 1.8 1.2 1.9 1 .9 .9 1.2 .6 .4 1.2 .4 1.2 1.2 .4 1.3-.2 1.2 .2 1.2-.4 2.1 .7 1.9 1.1 1.1 .2 1.1 .3 .6 1 1 .6 1.9 .5 2-.1 1.9 .8 2 .1 .3 1.2 .8 .9 .8 .9 .7 .9 2.1-.2 2 .8 1.6 1.4 2 .6 1.6-.4 1.6-.2 1.7 .3 1.6-.3 1.8 .2 1.4-1.1 1.6 .3 1.7-.1 1.4 .3 1.4 .7 1 1.1 1.4 .5 .6-1.2 .9-1 1.2-.6 1.2-.6 1.6 .6 1.6 .6 1.6 .6 1.7 .3 1.7 .2 1.6 .2 1.5 .9 1.7 0 .3 1.6 -.1 1.7 0 1.8 1.1 1.3 1.8 .8 1.9 .7 .4 1.9 1 1.8 1.5 1 1.5 1 1.8 .1 1.7 .5 1.1 .9 1 1 1.2 .9 1.3 .5 .6-1.3 .4-1.5 1.4-.4 1.5 0 1.7-.3 1.5-1 1.1 1.2 1.5 .7 .1 1.3 -.2 1.4 .3 1.3 .5 1.2 1.3 .3 1.3 .4 1.6-.6 1.6-.7 1.2-.1 1.1 .3 1.1 .7 1.2-.3 1.8 .7 2 0 1.8-.4 1.5 1 1.4 1.3 1.8 .7 2.1 .1 1.8 1.2 1.9-.7 2-.6 .8-1.4 1.2-1.2 .8 1.5 .5 1.7 1.2 .7 1.3 .6 1.2-.3 1.1 .5 1.2 .2 1.1 .3 2-.2 1.9-.5 2.1 .5 1.8-1.1 1.9-.5 2-.2 1.8-.6 1.8 .4 1.3-1.3 .3-1.3 -.2-1.3 .1-1.3 .5-1.2 -.2-1.3 -.6-1.2 .1-1.4 0-1.3 -.4-1.3 -.1-1.3 -.6-1.2 -.2-1.4 -.3-1.3 -.2-1.3 -.1-1.3 0-1.3 .4-1.3 .1-1.3 .2-1.3 -.1-1.3 .2-1.4 .7-1.1 -.1-1.4 .5-1.3 1-1.8 .3-2.1 -.6-1.6 -.7-1.6 2-.6 1.9-.7 1-.7 1.1-.5 1.3-.2 1.2 .1 1.4-1.3 1.8-.7 1.2 0 .9 .7 .9 .7 .9 .6 .9 1.9 1.7 1.3 .2 1.3 .2 1.3 .1 1.3 -.5 1.3 -1 1 0 1.5 .2 1.4 -.5 1.3 -.1 1.2 .6 1.1 0 1.2 .2 1.1 .9 1 1 .9 -.9 1.5 -1.7 .4 .4 1.3 .3 1.3 .3 1.8 .9 1.5 1.3 1.5 2 .4 1.2 1.2 1.4 .8 2 .1 1.9 .5 2-.3 1.9 .3 1.2-.2 1.2 .4 .5 1.1 1 .7 1.9 .6 1.9 .7 1.9-.7 2 .4 2.1 .1 1.8-1.1 1-.6 .6-1.1 1.1-.2 1.2-.1 1.7-.5 1.6-.8 1.5 1.2 1.7 .8 1.9 .4 2 .2 1.2 .5 1.3 .6 1.3-.3 1.4-.1 1.5-.9 1.7 .1 1.7-.2 1.7 .3 -1.4-.6 -1.5 .1 .9 1.5 1.8-.1 1.5 0 1.5-.4 1.4-.5 1.5 .3 1.4-.5 1.4-.3 1.3 .5 1.3 .6 1.4 .4 1.4 .2 .6-1.5 1-1.1 1.4-.7 1.6 .1 .4-1.4 0-1.4 1.4-.5 1-1 -.3-2.1 -.6-2.1 -.2-1.1 -.5-1 .3-1.1 -.1-1.1 -.2-1.7 -1.2-1.2 -1.4-.8 -1.5-.6 -1.5 0 -1.4-.6 -1.4-.2 -1.4-.6 .1-1.9 -.3-1.8 -.6-1.7 -.6-1.8 .9 .7 .9 .7 1.1 .4 1.1 .5 1.1-.4 1.1 0 1.1-.4 1.2 0 1.1-.3 1.1-.2 1 .3 1.2-.2 2.1-.7 2.1-.4 1.4 0 1.2-.8 1.3-.3 1.2-.5 .9-1.2 .1-1.5 1.2-.8 1.3-.6 .3-1.3 .2-1.4 1.2-.7 1.1-.8 1-.7 .8-.9 1.2-.2 .9-.9 1.1 .6 1.3-.1 1.2-.1 1.1-.6 0-2.1 .6-1.9 1.9-.8 1.8-.9 .9-.8 .6-1.1 .2-1.3 .6-1 1.2-.4 1.2 .1 1.2 .1 1.2 .1 2.1-.4 2.2-.3 1.1-.4 1-.5 1.1 0 1.1 .2 1.5-1.5 1.3-1.6 -.3-1.1 .4-1.1 .6-.9 .7-.9 1.4-1.1 1.2-1.4 1.7-.6 1.4-1.2 1-1.8 1.9-.8 1-1.7 1.8-.9 1.6 .8 1.1 1.5 1.3 1.1 1.8 .4 1.7 1.2 1.9 .8 2 .8 1.5 1.4 1-1.6 1.8 .1 1.4-.7 1.5-.6 1.4-1.2 1.7-.6 1.1-1.5 1.5-1 1-.6 1.2-.1 1.1-.3 1-.5 1.1-.5 .8-1 1.2-.3 1.2 .4 1 1.2 1.5 .6 1.1 1 .6 1.5 1.1-.4 1.1-.4 1.1 .2 1 .6 -.5 1.8 -.9 1.6 -1.3 1.4 -1.6 .9 1.2-.1 .8-.8 1.2-.2 1.1 .2 1.2 .1 .9 .8 1.1 .1 1.1-.1 1 1.6 .7 1.8 -.4 1.9 .1 1.9 -.2 1.1 -.4 1 -.9 .6 -1 .5 -1.8 1 -1.4 1.5 2.1 .5 2 .9 1.5 1.5 1.6 1.4 1.8-.6 1.8-.4 1.9 .4 1.6 1.1 1.7 1.1 1.7 1.1 1.9 .7 1.8 .8 1.5 .5 1.5 .7 .5 1.5 .2 1.6 -.3 2 -.8 1.9 -.9 2 -1.7 1.2 -1.3 1.2 -1 1.6 -1.2 1.4 -.8 1.6 -1.1 1.3 0 1.7 -1.1 1.2 -.6 1.5 1.5 1.5 1.4 1.6 .7 .9 .7 .8 -.2 1.2 .2 1.1 -1-.6 -1-.7 -1.1 .4 -1.2-.5 -.8-1.4 -1.4-.7 -1-1.1 -1.1-1.1 -1.4-.5 -1.5 0 -1.6 .1 -1.2 1 -1.8 .5 -1.9-.1 -1.7 .5 -1.7 .8 -1.7-.1 -1.7-.5 -.6 1.8 -1.7 .8 -1.4 .1 -1.4 .3 -.6 1.3 -.9 1.1 -.5 1.5 -1.4 .9 -1.3 .8 -1.1 1.1 -1.3 1.2 -1.6 .9 -1.3 1.2 -1.5 1 -1.2 .6 -.8 1 -1.1 .6 -1.2 .6 -.5 1.5 -1.1 1.1 .3 1.6 -.1 1.5 .1 1.9 -.4 1.8 -.5 1.7 -.6 1.8 -.9 1.7 .1 1.8 .8 1.7 0 1.9 -1.5 1.1 -1.5 1.1 -1.2 1.5 -.1 2 -.8 1.3 -1.3 .9 -1.3 .9 -.9 1.2 -1.1-.4 -1-.6 -1.1-.2 -1.1-.2 .2 1.5 .4 1.4 .9 1.2 -.1 1.6 1.2 1.6 1.2 1.6 .1 1.9 .4 2 -.4 1.3 .5 1.3 -.8 1 -1 .9 -.8 1.1 0 1.3 -1.1 .6 -.7 1.1 -1.4 1.4 -.8 1.8 -.5 1.9 -.1 2 -.4 1.9 -.3 2 -1.2 1.5 -1 1.7 -.6 1.1 -1 .8 -.4 1.1 -.7 1 -.3 1.2 -.4 1.2 -.2 1.2 -.7 1 -1.3 .6 -1.2 .8 -1.4-.1 -1.4 0 -1.4-.4 -.8-1.2 -1.3-.5 -1.2-.6 -2.1-.4 -1.2-1.7 -2 0 -1.8-.8 -.2 2 .8 1.9 -1 1.6 -1 1.7 .5 2.1 .7 2.1 .2 2.1 0 2.2 -1 .7 -.6 1 -.4 1.1 -.3 1.2 -.5 1.1 -.1 1.2 -.3 1.1 .4 1.2 0 1.2 -.1 1.2 .2 1.2 .2 1.2 -.8 1 -.7 1 -1 .7 -.7 1 .2 2.2 .3 2.1 .8 .9 .2 1.2 .1 1.1 -.2 1.1 .4 1.2 0 1.2 .4 1.3 -.5 1.1 -.3 1.4 -.5 1.2 -1.1 .7 -1.2 .5 -2 0 -1.9 .7 -.6 1.9 -1.2 1.6 -.9-1.3 -.6-1.5 -.9 .8 -1 .4 -1.2 .2 -1.1 0 -.3-1.1 -.6-1 0-1.1 -.3-1.1 -.2-1.2 .6-1.2 -.6-1.1 -.9-.8 -.7-.9 -.5-1 -.3-1.2 .5-1.1 -.1-2.1 -.1-2.2 1.2-.8 .3-1.5 .3-1.3 -.3-1.4 -1.2-.7 -1.3-.5 -.6-1.2 -.6-1.2 -.8-.9 .1-1.2 .7-1 -.3-1.2 0-1.1 -.1-1.2 -.6-.9 -.5-1 0-1.1 -.5-1.1 .4-1 .3-1.1 -.2-2.1 0-2.2 -.5-1 -.4-1.1 -.2-1.1 -.3-1.1 -1.2 1 -.8 1.3 -1.2 1 -1.1 1 -1.2 1.4 -1.6 .8 -1.7 .7 -1.2 1.4 -.8 1.7 -.2 1.9 1.2 1.5 -.2 2 -.9 1.3 -.3 1.7 -.8 1.3 -.8 1.4 -1.2 .2 -1.2-.1 -1 .6 -.9 .8 -1.2-.8 0-1.5 -.9-.9 -.8-1.1 -1-.9 -.8-1.2 -1-.9 -.6-1.3 .2-1.5 .3-1.5 -.4-1.5 -1-1.2 -1.4-.4 -.6-1.3 -.6-1.3 -.2-1.3 .2-1.8 .8-1.7 .4-1.8 0-1.8 1.2-1 1.3-.8 .9-1.2 .9-1.3 1.9-.2 1.5-1.1 1.9 .7 1.8-.8 1.4-1.1 1.7-.7 1.1-1.5 1.5-1 1.5-.5 1.3-1.1 1.3-.9 1.6-.4 .5-1.9 1.4-1.4 -.2-1.9 -.2-1.9 1-.7 .3-1.2 0-1.2 .1-1.2 1.9 .3 1.2-1.5 1.6-.8 1-1.4 .7-1.4 .6-1.5 1.7 .4 1.3-1.2 -1.8 .5 -1.6 1.1 -1.9 .8 -1.8-1 -1.1-.6 -1.1-.1 -.8-.9 -1.1-.6 -.7 1.2 -1.3 .6 -1.2-.6 -1.3-.4 -1.4 .7 -1.5 0 -1.6 0 -1.4 .8 -1.5-.2 -1.4-.7 -1.2-.9 -1.4-.6 -1.4-.5 -1.4-.3 -1.4-.6 -1.4-.4 -1.3 .9 -1.5 .1 -1.5 0 -1.5 .3 -1.5 .2 -1.3 .7 -1.4-.5 -1.5-.3 -1.5 0 -1.4-.4 -1.4-.1 -1.4-.2 -2.1-.7 -2.1-.3 -1.1 .4 -1.1 0 -1.1-.2 -1.1-.1 -1.1-.2 -1-.6 -1.1-.3 -1.1 .2 -.9-.7 -1.1-.4 -1.2 .3 -1.1 .3 -.5-1.5 .4-1.5 -.8-1.3 -.5-1.4 1-1.6 1.7-.6 -.3-1.8 .5-1.7 -.7-1.1 -.4-1.3 -1-.8 -.8-1.1 -.4-1.6 -1.3-1 -.4-1.5 .1-1.6 .4-1.8 -1.9-.6 0 1.7 -1.1 1.3 -1 1.3 -.5 1.5 -1.7-.6 -1.6-.7 -1.5-1.1 -1.7-.8 -.2-1.5 -1.1-1.1 -1.6-1.1 -1.7-.9 -1.4-1.4 -.5-1.8 -1.4-.1 -1.2-.6 -1 1.6 -.9 1.7 -1.5-1.1 -1.8-.2 -1.1-.6 -.9-.6 -.7-1 -.5-1.1 -.9-.8 -1.1-.5 -1.1-.8 -.8-1.1 -.7 .9 -.6 1 .7 1.5 1.2 1.1 -1.3 1 -1.3 1 -.9 .7 -.7 .9 -.9 .7 -.7 .9 -.6 1 -.9 .7 -.6 1 .1 1.2 .9 1.5 -.3 2 -.4 1.9 1.5 .6 1.1 1.3 1.1 .1 1 .7 .9 .5 .9 .7 .9 1.9 1.7 1.3 1.5 0 1.3 .7 .3 1.4 .8 1.2 2 .2 1.9 .4 .4 1.7 .9 1.5 1.6 .6 1 1.4 -.6 1.3 -.7 1.3 -2 .3 -1.2-1.6 -1.2-.3 -1.2 .1 -1-.9 -1.2-.2 -1.7-.3 -1.5 .9 .3 1.3 -.3 1.3 .1 1.3 -.1 1.3 -.5 1.7 -1.5 .9 -1.1 .4 -.8 .9 -1.8 .2 -1.5 1.1 -.9 1.9 -1.6 1.4 -1 .7 -.3 1.2 1.6 .9 .9 1.7 1 .6 .8 .9 1.2 .2 .9 .9 1.9 1.1 2 .8 2.1 .2 1.8 1.1 1 1.3 1.6 .7 .6 2 -.2 2 .4 1.8 .5 1.8 -.6 1 -.6 .9 -.6 1 -.9 .7 -.1 1.2 .1 1.2 .5 1.1 .4 1.1 .2 1.4 1.2 .8 .8 1.1 .5 1.2 -.3 1.4 .1 1.4 -.3 1.3 -.4 1.4 1.4-.3 1.5-.2 1.3 .6 1.2 .8 0 1.2 0 1.1 -.2 1.2 -.7 1 .8 1.7 -.1 1.9 -.6 1.9 .8 1.8 .2 1.8 .5 1.8 0 1.8 .2 1.8 0 1.9 -.1 1.8 .2 1.9 .8 1.7 1.2 1.7 -.8 2 .2 1.8 .4 1.8 .1 1.9 .9 1.7 -.6 1.8 -.4 1.8 -1 .9 -1.3-.3 -1.1 .7 -1.2-.4 -1.2 .7 -1.4 .4 -1.4 .4 -1.4-.6 -1.3-.8 -1.4-.6 -1.4 .6 -1.4 .5 -1.4 .2 -1.4 .1 -1.3-.4 -1.3-.5 -1.2-.5 -1.2-.6 -1-1 -1.2-.6 .1-1.3 0-1.3 1.1-.7 .7-1.2 -1.3 1.2 -1.5 1.1 -1.8 .4 -1.8 0 -1.4 .8 -1 1.2 -1.5 .5 -1.6 .2 -1.2-.2 -1.2 .1 -1 .6 -1.1 .4 -1.1 .7 -1.2 .6 -.8 1.1 -1.4 .4 -1.5 .4 -1.4 .7 -1.2 1 -.5 1.5 -.8 1.1 -.3 1.4 -1.3 .3 -1.2 .8 .1 1.4 -1 .9 -.5 1.1 -.4 1.2 .7 1 .5 1.1 .3 1.2 .3 1.2 1.1 .7 1.1 .7 .7 1.1 .7 1.1 -1.5 0 -1.2 .9 -1.3 .9 -1.4 .9 -.8 1.2 -1.3 .6 .2 1.4 .1 1.4 -.7 1.3 -1.3 .6 -.6 1.2 -.2 1.4 -.9 .7 -1 .5 -.8 .9 -.9 .7 -1.1 .7 -1.3 .5 -.7 1.2 -.5 1.2 -1.5-.1 -1.3 .7 -1.1 1.2 -1.6 0 -.9 1.2 -1.5 .6 -1.5 .1 -1.5-.1 -1.6 .2 -1.3 .8 -1.3 .9 -1.3 .8 -1.6 .3 -1.6 .2 -1.3 1 -.9 1.3 -1.2 .7 -.8 1 -1.2 .7 -1.3 .3 -1.3 .5 -1 .9 -1.2 .9 -.2 1.5 -1 1.6 -1.6 1 -1.8 .8 -1.3 1.3 -.5 1.1 -1.1 .6 -1 .5 -.9 .8 -.2 1.3 -.5 1.1 -1.3 .3 -1 .8 -.9 .7 -.8 .9 -.8 .8 -.6 1 -1.1 .4 -.9 .8 -.6 1 -.8 .9 -.1 1.2 -.5 1.1 -.6 1.1 -.4 1.2 -1.2 .3 -1 .7 -.5 1.2 -.9 .9 -1.4 1.2 -1.3 1.3 -1.1 1.5 -1.4 1.2 -2 .3 -1.8 .7 -1.5 1.4 -1.2 1.5 .3 1.9 -1.6 1.2 -1.1 1.3 -1.5 .8 -1.5 .7 -1.6 .6 -1 1.3 -1.1 1.3 -1.7 .9 -1.4 1.2 -1.6 .9 -1.7 .9 -2.1 .6 -2 .5 -1.1 1.9 -1.3 1.7 -1.8 .4 -1.5 1 -1.2 1.3 -.7 1.7 -.8 .9 -.7 .9 -.6 1 -.5 1.1 -.2 1.6 -.2 1.6 .9 1.5 -.5 1.7 -1.7 .9 -.9 1.7 -1.1 .9 -1.4 .7 -1.3 .6 -1.4 .4 -1.7 1.3 -2 .6 -2 .4 -2.1 .3 -2 .4 -2.1 .2 -1.9 .8 -1.7 1.2 -.9 1.5 -.3 1.7 -1.1 1.3 -1.6 .7 -1.3 1.7 -1.8 1.1 -.8 2 -1.3 1.7 -1.8 1.2 -2.1 .1 -1-1.1 -.3-1.5 -1.2 .7 -1.4 .1 -1.3 .3 -1.3 .2 -1.1 1 -1.3 .5 -.7 1.2 -.8 1.2 -.8 1.5 -1.1 1.1 -1 1.3 -1 1.3 -1.1 1.4 -.4 1.8 -.3 1.7 -.8 1.6 -.2 1.4 -.3 1.3 -.8 1.3 0 1.4 .6 1.5 .8 1.6 .8 1.5 -.2 1.7 .4 1.7 .4 1.6 -.2 1.7 .9 1.5 .2 1.7 .7 2 .2 2.2 -1 1.8 -1.2 1.8 .7 1.6 1.3 1.3 -.1 1.7 0 1.8 .8 1.5 .4 1.7 .2 1.7 .6 1.6 -.1 2 .3 1.9 .1 2 -.3 1.9 -.1 2.2 -1.5 1.5 .6 2 -.3 2.1 -1.3 .5 -.7 1.2 -.4 1.2 -.7 1.1 -.4 1.3 .2 1.3 .1 1.3 .6 1.2 -1.4 1.4 -.4 1.9 -1.1 1.5 -.9 1.7 -.8 1 -.8 1 0 1.3 .7 1.1 -.4 1.1 -.8 .8 -1 .5 -.8 .9 -.4 2 -1 1.8 0 2 .1 2 .7 .9 1 .6 .3 1.1 -.2 1.1 -.6 2 .1 2.1 -.3 2 0 2.1 .2 2.1 1.4 1.6 -.2 1.9 -.2 2 -.2 1.9 .2 2 .5 1.9 -.3 2 .4 1.9 .3 1.9 -1.8-.9 -1.7 1.2 -1.7-.6 -1.8 .3 -1.3 .6 -1.1 .9 -1.3 .8 -1.5-.2 -1.4 .7 -.6 1.5 -1 1.1 -.9 1.1 -1.3 1.5 -1.6 1.2 -.7 1.8 -.3 2 -.2 2 -1.8 1.1 -.4 1.8 -1 1.6 .2 1.1 -.2 1.2 .6 1 1 .6 1.7 .8 1.7 .8 1.9-.2 1.7-.9 1 .8 .8 1.1 1 .9 1.1 .6 -1.7-.1 -1.5-.9 -1.7 0 -1.6-.3 -1.9 .7 -2 .5 -2-.6 -1.9-.6 -.8 .8 -.6 1 -1.1-.1 -1.1 .4 -2.1 .7 -2.1-.2 -1.1 1.5 -1.5 1.1 -.6 2 -2 .6 -1.5 1.2 -1.3 1.5 .8 1.8 -.5 2 -1 1.5 -.6 1.7 -.4 1.8 .7 1.7 -1.2-.2 -1.2 .1 -1.3-.1 -1.1 .7 -1 1 -1 1.2 -.9 1.2 -1.3 .7 -1.2 .6 -1.2 .8 -1.4 0 -1.4 .1 -1.4 .1 -1.3 .3 -1.1-.9 -1.3-.4 -1.3-.3 -1.2-.5 -.5-1.3 -1.2-.6 -1.1-1.3 -1.4-.9 -.6-1.6 -1-1.4 -1.2-1.6 -1.3-1.6 -1.2-1.7 -1.5-1.3 -.9-1.6 -1-1.6 -1.6-1.1 -.7-1.9 -1.3-1.7 -.6-2.1 .3-1.2 -.8-.9 -.7-.9 -1-.5 -.7-1.3 -1.3-.9 .3-1.5 .2-1.5 -1.1-1.3 -.2-1.7 .4-1.6 -.3-1.6 -.6-1.5 -.6-1.5 -.1-1.6 -.2-1.6 -1.2-1.5 .8-1.8 -.5-1.7 -1.2-1.2 -.5-1 -.8-.8 -.4-1.1 -.6-1 -.6-1.1 -.9-.9 .3-1.2 .4-1.2 -1.1-.6 -.4-1.1 -.3-1.1 -.7-1 .1-1.2 .3-1.1 -.6-1.1 -.4-1.1 -1.6-1.4 -1.1-1.8 -.7-2 .3-2.1 .2-1.3 -.4-1.2 -.7-1 -1.1-.7 -.6-1 -.9-.8 -.5-1.1 -.1-1.2 -1.1-1.6 -1.6-1.1 -.8-1.7 -.7-1.8 -.1-2.1 -.2-2.2 -2-.9 -1.8-1.1 -1-1.8 0-2.1 -.9-1.8 -1.3-1.5 -.3-1.2 -.1-1.2 .2-1.3 -.4-1.2 -1.1-.7 -1.1-.5 -.8-1 -.5-1.2 -.4-1.1 -.6-.9 0-1.2 -.3-1.1 -.1-1.1 0-1.2 -.8-.9 -.9-.8 -.8-.9 -.9-.7 -.8-.9 -.2-1.2 -.1-1.2 .4-1.1 .3-1.1 0-1.2 -.1-1.2 -.4-1.2 -.1-1.2 .2-1.2 -.3-1.2 -.5-1.1 -.3-1.2 -.6-1.1 0-1.3 .4-1.3 -.7-1.1 -.6-1.2 -.9-1 -1.1-.7 -.4-1.3 .2-1.4 -.7-1 -.8-.8 -.6-1 -.5-1.1 -.4-1.1 -.5-1 -.4-1.1 -.2-1.2 -1-.8 -.8-1.1 -.8-1.1 -.1-1.3 -.2-1.3 -.7-1.2 -.8-1.1 -1-.8 -.8-1.6 -.3-1.7 -.5-1.6 -1-1.5 -1.4 0 -1.1-.7 0-1.4 -.8-1.1 .3-1.2 -.5-1.1 -.4-1.1 0-1.2 .4-1.2 -.2-1.2 -.6-1 -.7-.9 -.6-1 -.4-1.1 -.6-1.1 -1.2-.3 -1-1 -1-1.1 -.9-1.2 -.4-1.4 .6-1.4 .2-1.6 -.9-1.2 -.5-1.5 .3-1.5 .6-1.5 0-1.6 -.9-1.3 -.9-1.3 -.5-1.5 -1.3-.7 -1.2-1 .6-1.3 -.4-1.4 -.2-1.5 -.9-1 -1.1-1 0-1.5 -.8-1.2 .2-1.4 .9-1.2 .1-1.5 -.1-1.4 -.2-1.4 -.5-1.3 -.8-1.2 -.6-1.3 -.8-1.1 -.7-1.9 .2-2 -.9-1.9 .3-2 -.4-1.8 -.5-1.8 .6-1.6 -.5-1.7 -.2-1.6 .6-1.6 -1.2-.3 -.6-1 -1.2-1.8 -1.1-1.8 .5-1 .8-.9 -.3-1.1 0-1.2 .6-1.1 0-1.2 -.2-1.2 -.7-1.1 -.1-1.1 .1-1.2 -.5-1.1 -.5-1 -.8-1.4 -1-1.2 -.5-1.1 -.3-1.2 .7-.9 .6-1.1 -1.4-1.7 -1.2-1.8 -.5-1.1 0-1.1 0-1.2 -.3-1.1 .1-1.2 .3-1.2 -.3-1.1 -.6-1.1 .4-2 1-1.8 -.4-2 -.2-2 .6-1.8 -.6-1.7 1.5-1.2 .3-1.8 1-.7 .2-1.3 .9-.8 .5-1.1 -.9-1.9 -1.3-1.7 .6-2 .3-2.1 -.2-1.8 -.7-1.6 -1-1.5 -.7-1.6 -.1-1.8 -.4-1.8 -.4-1.9 -1.7-1 -.2-1.2 -.9-.7 .6-.9 .4-1.1 -.7-2 .8-1.9 .8-.8 1-.5 1.1-.2 1-.6 -2 0 -1.9-.5 -.1-1.7 .3-1.7 -.4-1.7 -1.1-1.4 -.6-1.6 .2-1.7 .4-1.5 0-1.7 1-.7 1.2 .1 .9-.8 1.1-.4 1.3 .1 .9-.9 1.1-.2 1.1-.3 -.6 1.4 -1.5 0 -1.3-.7 -1.3 .4 -1.3 .4 -1.3-.2 -1.4 0 -1.2 .5 -1.1-1.5 -1.5-1.1 -1.4 .9 -1.4 1 0 1.7 -.3 1.6 -.2 1.4 -1 1.1 0 1.3 -.3 1.4 1 1.4 .7 1.6 .6 1.7 -.3 1.8 .6 1.7 -.2 1.7 -.9 1.5 -.7 1.6 -.6 1.5 -.7 1.5 -.8 1.4 -.5 1.6 -1.8 .3 -1.7 .7 -2 .4 -1 1.7 -2.1 .5 -1.9 .9 -1.8 1.2 -2 .7 -1.2 .4 -1-.9 -1.1 .3 -.9 .6 -1.5 1.5 -2.1 .7 -2 .3 -2 .3 -1.7 1.2 -2.1 .1 -1.8 .1 -1.7-.1 -1-1.8 -2-.1 -1.9-.2 -1.8-.6 -1.4-1.2 -1.3-1.3 -.4-1.4 -1.3-.6 -1.2-.5 -1.2-.5 -.9-.9 -.8-1 -.7-1.2 -1.3-.4 -.9-1.1 -.8-1.1 -.9-1.1 -1.3-.6 -1.2-.7 -.8-1.2 -.5-1.4 -1.4-.6 -1.4-.5 -1.3-.7 -1.6-.2 -1.3-.8 .2-1.7 0-1.6 -1.3-1.1 -1.1-1.2 -.9-.9 -1-.9 -1.1-.7 -1-.8 -.5-1.3 -1.1-.7 -.4-1.3 -.5-1.2 -1.2-1 -.5-1.5 -.9-1.2 -.5-1.5 1.2-1.8 .6-2 2.1 .3 1.8 1 .9 .7 .9 .8 1 .6 1.1 .4 2-.7 2-.3 1.9-.8 1.9-.7 2-.4 1.9-1 1.1 .5 1.2 0 .5-1.1 1.1-.6 2.1-.2 2.1-.2 .9-1.9 1.4-1.6 .7-1.6 .7-1.6 .7-1.6 .5-1.7 .6-1.1 .6-1.1 1-.9 .3-1.3 -1.5 .1 -1.5 .2 -1.5 .8 -.6 1.5 -1.7-.3 -1.7 .5 -1.6 .7 -1.5 .9 -2.1 .4 -1.9 1.1 -1.7 1.4 -2.1 .5 -2.1-.1 -1.8-1 -1.8-.9 -2.1-.1 -.9-.6 -.9-.7 -1.1-.3 -.9-.5 -1-.6 -.8-.7 -1.1-.2 -1.1-.3 -1.5-1.2 -1.7-.8 -1.7-1 -1.6-.9 -1.6-.7 -1.2-1.4 -.5-1.7 -1.1-1.4 -.4-1.6 -.2-1.6 -.4-1.7 .3-1.6 -2 0 -1.9 .8 -1.9-.6 -2-.2 -.6-1.7 .6-1.6 1-1.4 -.2-1.8 1.1-1.2 1.6-.5 1.4-.6 1.6-.3 1.1 .4 1.1 .4 .9 .8 .7 1 0-.4 1.1-1 1.5-.3 .1-2.1 .8-2 -.4-1.1 -.6-.9 .2-1.2 .5-1 1.2-1.1 1.7 0 1.5-.1 1.5 .4 1.4 0 1.3 .3 1.3 .4 1.2 .6 1.9 .9 2.1-.1 1.9-.5 1.9-.8 1.2 1.1 1.4 .7 1.9-.8 2 .4 1.9 .4 2 0 1.2-1.5 .1-1.9 1.4-.9 1.7-.5 1.7-.5 1.7 .1 1.6-.6 1.4-1 1.7-.2 1.7 .5 .3 1.2 1 .9 1.2 .3 1.1 .4 1.3 .1 1.1 .5 1.2-.3 1.2-.3 .8-1.1 1.2-.4 -.1-1.3 -.4-1.3 .1-1.3 .4-1.3 1.1-.5 1-.6 1.1-.5 .7-1 -1.3-1.3 -1.3-1.3 .3-1.2 -.3-1.1 -.6-1 -.4-1.1 -.2-1.2 -1.2-.6 -.8-.7 -.7-.9 -.7-1 -.2-1.2 -.7-1 -.3-1.1 -.4-1.2 -.2-1.1 .2-1.2 -.3-1.2 -1.1-1.4 -1-1.5 -.1-1.8 -.4-1.8 -1.3-.1 -1.3 .3 -1.3-.8 -1.3 .6 -1.5-.1 -1.4-.6 -1.2-.8 -1-1.1 -1.3-1.4 -1-1.6 -.7-1.8 -.9-1.7 1.5-.7 .1-1.7 -.2-1.4 -.1-1.4 -.1-1.1 -.1-1.2 -.9-.7 -.7-.9 .7-.9 .7-.8 .1-1.1 .3-1.1 -1.3-.7 -1.6-.1 -1-1.1 -1.3-.7 -1.7 .2 -1.7-.2 -1.4-1.1 -1.7-.2 -1.1-.4 -1.1-.6 -1-.6 -.7-1 0-1.3 -.5-1.2 -.1-1.3 -.2-1.3 1.3-1 1-1.2 -.1-1.8 1.2-1.2 1.3-1.6 1.3-1.7 .5-.9 .2-1.2 .9-.5 1-.6 .9-1 .4-1.3 .6-1.2 .2-1.3 .6-1.2 .7-1.1 1.4-.5 .4-1.5 .7-1.9 .6-2 1.5-1.3 1.6-1.3 1.3 .1 1.3-.2 1.1-.8 1-.9 1.1 .6 1.2-.1 1.2 .4 1.1 .4 .1 1.1 .2 1.1 -.1 1.1 .3 1.1 .9 .7 1 .6 .9 .8 1.1 .5 1.5-.7 1.6-.5 1.7 0 1.7-.1 2.1-.1 2-.6 1.7-1.2 2-.7 1.2-.9 1.5-.6 1.5-.3 1.4-.8 1.5 .2 1.5 .2 1.5-.6 1.6 .2 .4-1.1 .1-1.1 .2-1.1 .1-1.2 .9-.7 .6-1 .4-1.2 1.2-.4 1-.6 1-.6 .5-1.1 .4-1.1 .4-1 0-1.2 .1-1.1 .5-1 .9-1.7 .6-1.8 .7-1.9 1.6-1.1 1.1-.3 1-.3 1-.6 1-.3 1.1-.4 1.2-.1 .7-.9 .7-1 1.3-.4 .9-.9 1.2-.6 1.1-.7 .9-.9 .8-.9 1-1 .6-1.1 1-1 .5-1.3 -.1-1.4 .6-1.2 0-1.5 .9-1.1 1-1 1.3-.6 .6-1.4 .6-1.4 .9-1.5 -.5-1.6 .8-1 1-.8 1.3-.2 1.3-.1 1.1-.8 .7-1 .4-1.3 -.1-1.3 1.1-.4 1.2 .2 .7-.9 .7-.9 2-.7 2.1 .1 -.6-1.9 -.8-1.8 -.3-2 .4-2 .7-.8 .8-.9 .6-.9 .4-1 .9-.8 .3-1.1 -.2-1.2 .4-1.1 -.7 .9 -.4 1.1 -.1 1.1 -.3 1.1 1.1-.6 .9-.8 .5-1.1 .5-1.1 1.2-.3 1-.7 1.1-.8 .2-1.3 1.5-1.5 .8-2 .3-1.1 .5-1 1.2-.1 .9-.8 .3-1.5 .4-1.4 .9-1.2 1-1.1 .8-1.2 -.2-1.4 -.4-1.3 -.3-1.4 0-1.3 -.4-1.3 -.1-1.3 -.7-1.2 -.1-1.2 .6-1.1 -.3-1.2 -.5-1.1 -.4-1.1 -.1-1.2 .2-1.2 .6-1 2.1-.1 1.5-1.5 1-1.7 .5-1.9 .6-1 1.1-.4 1.1 .2 1.1 0 2.1-.4 1.8-1 1.3-.4 1.4 0 1.2-.6 1.3-.3 1.2-.5 .3-1.2 .7-1 .4-1.1 -1-.9 -1-1 -.8-1.1 -1.1-.9 -1.4 0 -1.2-.8 -1.2-.7 -1.4 .2 -1.8-1.1 -2-.6 -2-.2 -2-.7 .5-1.7 -.3-1.7 -1-1.4 -.4-1.7 -1.8-1.1 -2.1-.2 -1.3 .1 -1.2 .6 -1.3-.4 -1-.9 -1.2-.1 -1-.6 -1.1-.6 -1-.7 -1.1-.6 -1.2-.3 -1.1-.8 -1.3 .1 -1-.8 -1.1-.6 -1.1-.6 -1.2-.3 -.5-1.6 -1-1.3 -1.1-1.3 -1.3-1 -.5-1.3 -.7-1.2 -.2-1.3 .1-1.4 0-1.4 .4-1.3 .3-1.3 .6-1.2 0-1.4 .8-1.2 -.1-1.4 -.1-1.3 -.6-1.2 -.4-1.3 -.1-1.4 -.8-1.1 -.5-1.3 .1-1.4 0-1.3 -.5-1.3 -.3-1.3 -.4-1.3 -.7-1.2 -.3-1.3 -.1-2 1.8-1 -.7-1.7 .3-1.8 .1-1.2 .5-1 .8-.9 .9-.7 1-.4 1-.4 1.2 0 1-.6 1.1-.5 1-.5 1.1-.5 1-.6 1-.8 1.1-.4 1.1-.7 .4-1.2 .2-1.3 -.2-1.3 -.7-1.3 .7-1.3 -1.4-1.5 -1.1-1.8 -.9-2 -1.8-1.1 -.5-1.9 -.7-1.8 -1.2-1.6 -1.5-1.2 -1-.5 -1.2 .1 -1.1-.4 -.7-.9 -2-.9 -1.8-1.3 -2-.2 -1.7-.9 -1.6-1.3 -1.2-1.5 -2-.3 -1.7-1.1 -2-.2 -2 .3 -1.8-.1 -1.6-.8 -1.2-1.3 -.6-1.7 .3-2z" fill="#dcdcdc" stroke="none"/>
<g clip-path="url(#cc)">
<path d="M516 405.2l-1 1.8 -3.2 3.2 -2.3 0 -3.5 1.6 -6.8 5 -4.4 1.4 -2.6-.7 -1 1.5 -4.4 2.5 -2.3 0 -1 2.3 -5.7 .2 -4 2.2 -1.6 3 -.7 .3 .5 3.7 3 1.8 3.5 .8 9 3.7 -.5 1 0 2 .5 1 5.7 6 1.6 3.3 .4 4.7 -.7 1 1 0 7.5 5.3 6 6.2 .8 1.2 0 2.3 2.2-1.3 2.2 .3 5.3-2.7 3-.8 3.5-1.8 3.2-4.7 8.8-3.5 4.8-5.8 1.7-3.2 .5-2.2 2-3.3 -.8-1.7 .3-1.3 -.5-2.7 .8-5.8 -3-.5 -1.8-1 -1.8 3 -2.2 6.3 -3.5-2.3 -1.3-3.3 0-4 -1-5.2 -2-4 -1.2-1.5 0-1 -4.8-2.3 -3.7-3.7 .7-3.3 -7-.2z" fill="#ead4c8" stroke="#fde8dd" stroke-width="0.9" stroke-linejoin="round"/>
<path d="M455.8 421l5.4 .5 4 1.3 1.3 1 1.7 3 2.6 1.4 .7 1 .5 0 1.2-2.4 -.4-1 -3.8-3 -10.5-1.8zM479.5 418l1.5 2.5 2 2.3 .5 0 .7-1.3 -3.2-2.3 -1-1.4zM485.2 412.2l4.3 .6 2.5 2.4 .2 2 2 .6 -1.2-4.3 -5.5-1.5zM415.2 398.8l-1.7 13 2 .7 2.7 3 2.8 4 4.8 3.7 2 3.8 1.4-.5 1.8 .5 4.2-6.5 1-.7 1.8 0 2-5 0-4.6 -.8-2.2 .6-4 4-3.2 2-1 -.6-.3 -3.4 2.3 -3 2.7 -3.8-3.3 -6-3zM473 391l0 1 2 0 -.8-1.5z" fill="#ead4c8" stroke="#fde8dd" stroke-width="0.9" stroke-linejoin="round"/>
<path d="M438.2 419.8l.8 0 1.8 1.2 4 .8 5.4-1 8.3 0 9.5 1.4 1.8 .8 3.7 3.2 4.5-2.7 5.5 0 0-.5 -1.3-.8 -3-3.7 .6-.7 0-2.3 .7-1 -.3-.7 .8-1.3 6.5-.7 5.5 1.4 .8 1 1 3.8 5-1.8 5-4 4.4-2 -8.7-.2 -8.7 .5 -2.3-.7 -7.5 0 -2.2 .7 -4.6 0 -1.7-.5 -13.5 .2 -.8-3.2 .6-8.2 1.4-.8 -3.7 1 -4 2.2 -3.7 .8 -1-.2 -2.8-2 -6 4.2 -.5 4 .7 2.2 0 4.6zM498.2 397l-3 .8 -4.2-.3 -2.5 2.7 2.5-2 4.8 0z" fill="#ead4c8" stroke="#fde8dd" stroke-width="0.9" stroke-linejoin="round"/>
<path d="M415 397.5l.5 1 4.7-.3 -4.2-1.4zM474 388.8l-2.2 0 -8 7.7 -3.3 1.5 3.5-1.5 3.5-3.5 4.3-2.2 2.2-.6zM466.8 382.8l-3.8 2.4 -4-.4 -2.2-4 .7-5.3 -4.5 3 -3 1 4.2-1.3 .6 .3 .4 5.3 -2.7 2.2 -3.5-1 0-5 .5-.5 -4 0 0 2.3 3.3 3.2 -4 3 -3.8 5.2 -5 2.6 -4.8 .7 -1.2-.5 -1-1.8 6-8.2 -4.5 5.2 -2 3.6 -3.3 3 -2.4 .4 6.2-.2 6 3 3.8 3.2 3-2.7 3.4-2.3 4 2.6 4.3-.8 4-2.2 2.3-.6 -.6-4 -2.7 2.8 -3 .8 -3.5 2 -4.8-1.3 -1-.7 -2.2-3.6 1.8-3.2 .7-2.5 5.3-2.3 5.4 0 3.8 1.3 .5 1.7 .5-3 2.8-.7 3.4-1.7z" fill="#ead4c8" stroke="#fde8dd" stroke-width="0.9" stroke-linejoin="round"/>
<path d="M564.2 352l-1.4 4 -2.8 4 1 .2 .2-1.4 1.6-1.8zM560.2 338.5l0 1.5 7 1.2 -1.2 6.6 .8-1.6 .4-5.2 -1.4 0zM526 337.2l.5 4.6 -.5 3.4 -1 1.6 1.8 .7 .4-.3zM542 329.2l-4-.7 -13.5 2 .7 2.3 .3 2.2 0-4 2.5-.5 5 0 4.2-1.3z" fill="#ead4c8" stroke="#fde8dd" stroke-width="0.9" stroke-linejoin="round"/>
<path d="M525.5 331.2l.3 4.8 1.2 5.2 .5 6.3 2 2.5 0 1.8 4-3.3 -1.7-2.3 1.2-2.2 1 1.5 2.5 1.3 1 1.7 1.7 0 .8-3.3 -.5-2.4 0-11.6 .5-1.7 6.8 6.5 1.7 2.2 4.7 .3 6.8 1.5 .2-1.8 -1-.7 -5.7-.3 -2.7 .6 -3-2.8 -1.8-.5 -1.8-1.7 -2-3.3 -5 0 -4.2 1.3 -5 0z" fill="#ead4c8" stroke="#fde8dd" stroke-width="0.9" stroke-linejoin="round"/>
<path d="M516.8 378.2l-2.3 0 -1.7-.7 -.3 1 -2.3 2.3 -5 3.7 -3 10.5 -.7 .8 -2.7 1 0 7.2 .7 2.2 -.5 3.8 12.8 0 3-3 4-7.5 .4-5.5 1.3-2.8 .7-.4 2 2 -1.2-5 -3-4.3z" fill="#ead4c8" stroke="#fde8dd" stroke-width="0.9" stroke-linejoin="round"/>
<path d="M460 398.8l-.5 5.7 .5 5.5 13.5-.2 1.7 .4 4.6 0 2.2-.7 7.5 0 2.3 .7 7-.2 .4-2.5 -.7-3.5 .3-7 -3 1.5 -4.8 0 -5.2 4.5 -4-3.5 -3.6-2.3 -2.7-4 -2.5-1 -.2-1.2 -1 0 -4 2.2 -4 3.8z" fill="#ead4c8" stroke="#fde8dd" stroke-width="0.9" stroke-linejoin="round"/>
<path d="M540 329.8l-.2 13 .4 2.4 -.7 2.3 .3 2.7 1.4 .6 2.8-.6 1.2-1.7 1.3 .7 1.3 0 1 2 2.2 1 .8 1.6 2.4 1.7 .3 1.5 3 2 2.5 .8 2.5-3.8 1-3 2-3.2 .5-4.8 1-3.8 -4-.2 -9.8-2.2 -4.7-.3 -2-2.5z" fill="#ead4c8" stroke="#fde8dd" stroke-width="0.9" stroke-linejoin="round"/>
<path d="M477 450l-2-.5 -1-.7 -4.5-8 -5.7 1.7 -5-.5 -4 3.8 -1.3 5 .5 2.4 -.2 4.8 -2.8 4 4.2 0 2.3 2 3.7-3.5 2-.3 5.6 1.6 3.7 2.7 2.5-3 1.2-3.7 -.2-4 1.5-1.8z" fill="#ead4c8" stroke="#fde8dd" stroke-width="0.9" stroke-linejoin="round"/>
<path d="M472 433.5l-2.2 7.3 4.4 8 2.8 1 .8 2 2.4 0 4.8 3.4 7.2 3.6 1.8-.3 1-1 -.5-4.7 -1.5-3.3 -5.8-6 -.4-1 0-2 .4-1 -8.7-3.5 -3.5-.8z" fill="#ead4c8" stroke="#fde8dd" stroke-width="0.9" stroke-linejoin="round"/>
<path d="M519.5 359.8l.5 4.7 2 1.5 1.8 3 -.3 3 -2.3 2.5 2.6 .5 2.4 4 4.3 0 3.5 .8 .5 .4 1-1 1.3-.2 5.7 1.5 3 1.5 1.3-2.8 -2.8-2.2 -.8-1.2 -.2-1.8 -4-.5 -3.5-2.7 -2.3-2.3 -1-1.7 -4.4-2.3 -1.8-1.7 .8-3.6 -1.3-1 -.7-1.7 -1.3 0z" fill="#ead4c8" stroke="#fde8dd" stroke-width="0.9" stroke-linejoin="round"/>
<path d="M459 387.8l-3.8-1.3 -5.4 0 -5 2 -.8 2.5 -1.8 3.2 2.6 3.8 5.2 1.5 3.5-2 3-.7 2.7-2.8z" fill="#ead4c8" stroke="#fde8dd" stroke-width="0.9" stroke-linejoin="round"/>
<path d="M1049.9 -80.4l-.1 1.9 .8 1.7 -1.9 .7 -1 1.7 -.3 3.2 -1.7 2.8 -1.7-1.1 -1.7 1 -1.1 1.4 -1.6 .8 -2.6 2 -2.2 2.3 -3.2-.8 -3.3 .7 -1.9 2.7 -2.9 1.5 -2.5 1.7 -2.8 1.3 -1.5 2.9 -3.2 .8 -2.5 1.8 -3.1 .8 -3.2-.1 -2.7 1.8 -3.1 0 -3.1 .6 -2.8-1.8 -3.3 1 -1.4-3.1 -2.9-1.6 -3-1.1 -2.9-1.4 -3-1.3 -3.2 .6 -3.1-.4 -3.2 .1 -.6 3 .1 3.1 -.3 3.1 .7 3 -.9 3.1 -2.7 2 -1 1.5 -.8 1.5 -1.8 .5 -1.8-.4 -1.7 .3 -1.6 .6 -.1 1.9 -1.5 1.1 -2.9 1.2 -3.1 .4 .9 3.2 -1.5 3 -1.5 2.7 -1.3 2.8 -1.5 2.7 .5 2.9 -.6 3 -2.3 1.9 -.4 1.8 .4 1.9 -1.6 .9 -1.6 .7 .7 1.7 1.6 .8 -.3 1.7 -.2 1.7 .4 2.9 -.9 2.8 2.3 2.3 -.9 3.2 -1.5 1.3 -2 .2 .2 1.9 -.5 1.9 1.3 3 1.7 2.8 .8 1.7 1.4 1.3 .3 1.9 -.6 1.8 .4 1.7 -.1 1.8 .8 1.6 .1 1.8 -.5 1.8 -.4 1.8 -.1 1.9 .8 1.7 -1.4 1.9 1.1 2.1 -1.9 .8 -1.5 1.3 1 1.5 1 1.4 -.3 2 1.4 1.4 0 1.8 -.5 1.7 1 1.6 -.2 1.8 2.2-.4 1.6 1.5 1 1.7 1.4 1.3 .7 1.8 0 1.9 .4 1.8 .3 1.8 2.1 .7 2.2 .2 1.6 1.4 2 1.1 1.6-1.6 2.2-.4 1.6-2 2.5 .5 1.1-1.7 1.3-1.6 1.8-1.3 2-.4 1.2-2 2.4 .1 2-.2 2.1-.3 2.2-.1 2.2 0 2 1 2.3 .1 1.5 1.7 1.4 1.7 1.1 1.9 1 1.9 -1.2 2.1 -.1 2.5 1.7 1.6 1.6 1.7 2.1 1.1 2.2 .8 1.7 2.2 -1.2 2.5 -.9 1.7 -1.5 1.1 -.3 2 -1.5 1.4 .2 1.9 1.3 1.5 -.1 1.9 .3 1.9 .2 2.3 -.2 2.2 2.3 .5 1.7 1.6 .7 2.2 -1.5 1.6 -1.6 1.3 -.7 2 -1.8 .2 -1.8-.1 -1.8-.4 -1.7 .5 -1.8-1 -2 .6 -1.8 .5 -1.5 1.2 -1.3 1.3 -.7 1.8 -1.1 1.5 -1.8 .6 -.9 1.9 -.6 2 -1.8 1.2 -2.2-.5 -1.6 2.8 -1.9 2.7 .6 3.2 .7 3.2 -1.2 2.9 -2.2 2.1 .2 3.4 -2.4 2.3 -1.9 2.8 -1.3 3.1 .9 1.8 1.1 1.6 -1.2 1.5 -.8 1.8 1.8 .5 1.7 .8 1 1.5 .9 1.6 .1 2 -1 1.7 1.5 1.3 .9 1.7 -.1 2.1 1.4 1.6 1.6 1 1.1 1.7 -1.1 1.7 0 2 -1.2 1.5 -1.3 1.4 -2.8 1.9 -3.2 .8 -2.7 1.9 -2.6 2 -1.7 .3 -1.7-.6 -.8-1.6 -1.5-1 -1.1 1.5 -.7 1.7 -1.9 1.1 -1.8-1.2 -2.9 .2 -2.9-.3 -2.9 .6 -2.3 1.9 -2.7 .9 -2.7-.9 -1.9 2 -2.2 1.6 -2.6 0 -2.5 .4 -2.2 1.4 -2.6 .4 -2.1-2.1 -1.9-2.2 -3 .1 -2.7-1.3 -2.2 1.8 -2.8 .7 -2.9-.4 -2.6 1.5 -2.7-1.2 -2.7-1.1 -2.7-1.4 -3 0 -1.6-1.3 -.1-2.1 .4-2 1.8-1 -1.4-1 -1.7-.5 -.7-1.6 -.5-1.6 -2.2-2.3 -3.2-.6 -2.8-1.1 -2.4-2 -2.5 1.7 -2.6 1.5 -1.8 1 0 2 -1.8-.2 -1.7 .4 -2.4-.2 -2.5 0 -2.2-1.2 -2.6 .1 -2.5-.1 -2.5 .7 -1.9-2.2 -2.8 .7 -1.7-2 -1.7-2 -2.3-1 -2.2-1.4 -2.5-.5 -2.4-.7 -2.6 .3 -2.5-.7 -1.8-.3 -1.1-1.6 -1.7-.4 -1.7 .6 -3 1.3 -3 1.3 -2.8-1.6 -3.2 .4 -3.2 0 -2.7-1.7 -1.9-.9 -1.8-1 -2.1-.2 -1.8-1.2 -1.5 1.5 -2 .8 -1.4 1.6 -1.6 1.3 .4-2 -1.4-1.5 -.8-1.7 -1-1.5 -1.3-1.3 -1.1-1.5 -1.3-1.4 -1.7-.6 .3 2.3 -1.5 1.8 -2 .7 -2.1 .5 -1.6 1.1 -1.9 .2 -1.9 .1 -1.9 .1 -1.8 0 -1.8 .5 -1.7-.7 -1.8 .4 -1.6 1.4 -2-.7 -1.8-.2 -1.7 .6 .3 1.9 -.3 1.8 -.1 1.9 0 1.9 -1.7 1.6 .6 2.3 -1.9 .9 -1.7 1 -.2 1.8 .1 1.7 .1 1.8 -.1 1.8 .7 1.9 .9 1.8 -2.1 1 0 2.3 -.6 1.9 .7 1.8 -1 1.9 -2.2 0 1.5 2.9 2.1 2.4 1.8 2.6 2.6 2 -1.7 2.8 -.3 3.2 .9 2.9 1.2 2.7 -.5 3 -1.6 2.6 .9 1.6 1 1.4 -.9 1.6 -.9 1.5 -3.3 .9 -1.5 3 -2 2.6 -1.6 2.7 .8 3.1 1.3 2.9 .6 1.9 -1 1.6 .6 1.6 1.1 1.5 -.9 1.5 -1.1 1.3 -1.4 1.2 -1.8 .1 -1.8 2.6 -1.8 2.5 -3.1 0 -3 .9 -2.4 1.7 -2.5 1.4 -2 2.1 -1.6 2.4 M718.5 281.4l-2 2.2 -.2 3 2 2 1.6 2.3 M728.7 294.8l-2.6 .3 -2.4-.9 -2.8-.5 -1-2.8 M130.6 750.7l1.7 1.8 2.4 .7 2.4 .5 2.3-1.1 .8-2.4 .1-2.6 3 .6 1.9-2.3 1.7-1.2 1.7-1.2 .4-2.1 1.1-1.8 1-1.8 -.3-2.1 0-2 .3-2 1.8-.5 1.4-1.3 1.9-.5 1.3-1.4 1.2-1.8 2-.8 -.2-2 .1-2.1 .3-1.9 1.3-1.3 0-1.9 1.2-1.4 .5-1.7 .3-1.8 1-1.5 1.2-1.4 2.1 .9 1.7-1.5 1.1-1.5 1.3-1.4 1.5-1.1 1.4-1.2 1.6-1.1 .3-1.9 1.5-1.1 1.4-1.2 1.2-1.6 2-.1 1.8-.6 1.8-.6 1.7 1 2-.6 1.6 1.3 1.9 .8 1.4-1.6 2.2-.5 1.8 .8 1.9-.9 1.2-1.5 1.8-.7 1.8-.1 1.4-1.2 1.4-1.4 2 .3 1.7-.3 1.7-.4 1.7-.7 1.4-1 M145.4 680l1.8 1.8 2.6 .3 1.8-1.7 2.3-.9 2.1 0 2-.8 2-.6 2.2 0 2 1.1 2.2-.7 2.2-.3 2 .8 2.3-.9 2 1.5 2.2-.4 1.9-.9 2-1.3 1.8-1.3 2.3 .8 2.2-.9 2-2 2.7 .8 .7-2.3 1.5-1.9 1.3-2.2 2.5-.6 2.4 .3 2.3 .6 2.4-.8 2.1-1.5 2 1.6 2.1 1.3 M211.3 668.9l.9 2.6 .8 2.7 2.3 1.7 2.8 .6 M218.1 676.5l.1 2.8 -.3 2.8 -.8 2.8 .6 2.8 M1140.9 740.9l-2.9 0 -2.6-1.3 -1.9 2.4 -3.1 .2 -2.4-1.2 -2.7-.6 -2.5-1.7 -2.8 1.5 -1.1-2.7 -1.7-2.2 -2.2-2.2 -3.1 .3 .2-3 -2.4-1.8 -2.2-1.6 -1.4-2.4 -1.9-2 -.6-2.7 -.1-2.7 -.8-2.5 -2.8-.6 -1.7-2.3 -1-2.6 -2.7-1.1 -2.6-.4 -2.7 .3 -2.3-1.2 -2-1.8 -2.2-1.3 -2.3-.9 -2.6-.4 -2.4-.8 -2.9-.5 -2.9 .3 -3 .5 -2.2 2.1 -2.5 1.2 -2.7 1 -2.5 1.2 -2.6 1.1 -1.4-1.2 -1.7-.9 -.3-1.8 -.8-1.7 -.2-1.8 -.5-1.8 .8-1.7 .7-1.7 -3.1-1.2 -3.3-.3 -1-1.7 -1.7-.9 -1.9 .3 -1.8 .9 -2 1.7 -1.7 2.1 -3-.7 -2.1 2.4 -2.5-1.8 -2.8 1.4 -2.6 .6 -2.4 1.2 -1.6-2.4 -1.6-2.4 -2.9-.6 -2.9 .5 -2.6-.4 -2.6 .2 -2.5-.9 -2.6-.2 -2.2-1.7 -2.7 .5 -2.3-1.3 -2.6-.2 -2.4-.9 -2.4-.7 -2.4-1 -2.6-.1 -1.3 1.2 -1.3 1.3 -1.7 .6 -1.8 .2 -1.7-.6 -1.8-.4 -.9-1.6 -1.3-1.2 -2.7-1.9 -.2-3.3 -1-2.8 -1.2-2.7 -3.2 .6 -3-1.3 -2.4-2 -2.3-2 -1.4-2.6 -.9-2.9 -.5-2.9 -1.4-2.7 -3-.6 -2.5 1.6 -2.7 0 -2.8 .3 -2.7-.5 -2.7-.1 -2.7-.3 -2.8-.3 1.4-2.7 1.8-2.4 2.9-1.6 .9-3.1 -1.5-2.9 -.5-3.3 1.5-2.9 1.7-2.8 -1.9-.3 -1.9 .3 -1.2-1.5 -1.7-.9 -1.1-1.5 -1.4-1.1 -.4-1.7 -1.3-1.4 1.9-1.1 2-.7 .7-2.1 .1-2.2 -1.6-1.5 .1-2.1 0-2 -1.2-1.7 -.7-1.8 .7-1.9 -.8-1.7 -.4-1.8 -1.7-.6 -1.7-.8 -2-.6 -.6-2 .4-3.3 .6-3.3 -.2-3.4 .6-3.3 -2.3-1.2 -2.2 1.4 -.5 2.2 -1.3 1.8 -1.6-1.6 -1.8-1.1 -2.5-.6 -1.6 2 .4-2.2 -.2-2.2 -2-1 -1.2-1.9 -2.1 .6 -1.8-1.2 -1.6-1.4 -2.1 .1 -1.6-1.8 -2.2-1 -1.8-1.8 -2.5-.1 -2.1-1.2 -1.4-1.9 -1.9-1.4 -2-1.2 -.5-3 .5-3.1 -2.4-1.7 -2.4-1.9 -2.7 .5 -2.8 .2 -2.8-.1 -2.6-1 -1.7-2 -1.8-1.8 -2.3-1.3 -2.6-.6 -2.4-1.9 -3.1-.1 -2.7 1.5 -1.7 2.5 -2.6 .5 -2.5-.8 -2.5 .7 -1.9 1.8 -2.1-1.5 -2.6-.1 -2.3-.8 -2.1-1.2 -1.1-2.2 -2.2-1.2 -1.8-1.4 -2.1-1.3 -2-1.3 -2.4-.3 -2.3-.3 -2.2-.7 -.9-2.6 -.1-2.7 -1.9-2 -2.4-1.4 -2.8 .6 -2.6 1.1 -2.9-.6 -1.8-2.4 -2.6 .6 -2 1.7 -2.5-1.1 -2.6 0 -3.2 .2 -1.7-2.7 -2.9 .4 -2.1 2 -2.9-.5 -2.6-1.6 -1.1-1.3 -1-1.3 .4-1.7 .9-1.5 -2.6-1.5 -2.8 1 -1.5-2.3 -1.9-2 -2.3-.9 -2.3-1.3 -.2-2.8 -2.3-1.7 -.9-2.7 -2.8-.4 -2.2-1.4 -.8-2.5 -1.1-2.8 -2.9-.4 -2.5-.7 -2.6 .4 -2.4-.9 -2.4-.5 -2.5 .7 -2.4-.9 -1.3-2 -1.5-1.8 -1.5-2 -2-1.3 -2.7-.5 -1-2.5 -2-1.4 -1.3-2.1 -.2-2.4 -1.2-2.2 -.9-2.3 -1.8-1.7 -.8-2.4 -2.2-1.3 -1.5-2 -.4-2.4 -2-1.4 -2.1-1.1 -2-1.4 -1.8-1.5 -2.5-1.4 -2.4 1.5 -2.3-.3 -2.4-.6 -2.2 1.9 -2.9 0 -1.9-2 -2.1-1.6 -1.7-1.9 -2.5-.3 -2-1.6 -2.5 .5 -2.4-1.6 -2.8 .7 -.3-3 -2.8-1.2 -.9-2.6 0-2.8 -2.2-1.7 -2.8-.6 -2.1 1.9 -2.9-.1 -2.1-1.7 -2.4-1.4 -2.5-1 -1.4-2.3 -2.6-1.1 -2.5 1.3 M637.9 454l-1.8-.5 -1.9-.1 -1.5 1.2 -1.5 .9 -1.9-.4 -1.9-.1 -.7 2 -2.2 .3 -.4 2 .2 2.1 -.4 1.9 -.5 2 -1.8 .8 -2 .6 -1.7 1.2 -2 .1 -.5 2 -1.8 .8 -1.9 .3 -1.5 1.2 -1.4 1.3 -.3 1.9 0 1.8 -.1 1.8 -1.6 .8 -1.2 1.4 -1.8 .6 -1.8-.5 -1.4 1.1 -1.7 .6 -1.5 1.1 -.5 1.8 M718.5 281.4l-3.2 .4 -2.9-1.6 -3.1 .1 -3.1 0 M624.3 -87.7l.7 2.6 -.5 2.7 2 2.4 -1.2 2.9 2.8 1.3 .2 3.1 1.7 2.2 .7 2.6 -2.6 1.8 -2.4 2.1 .6 1.9 -1.4 1.5 1.4 1.2 .5 1.7 -2.5 1.9 -3.1-.5 -2.5 1.7 -1.2 2.8 -2.4 1.7 -.8 2.9 -2.8-.6 -2.8 .3 -3.1-.3 -1.8 2.6 -1.3 2.3 -.4 2.7 -2.1-2 -2.7 .9 -2.4 .8 -2.5 0 -2.2 1.5 -2.7 .2 -2.3-1.3 -2.5-.8 -.9 2 -1.9 1 -2 .8 -1.5 1.5 -2.3-.6 -2.4-.5 -1.1 2.3 -2.1 1.4 -2.6-.1 -1.7 2 -2.3 .9 -1.8 1.5 1.4 2.4 -1.4 2.4 -.1 2.3 0 2.4 -1.1 1.8 -1.9 1.1 -1.6 1.5 -.1 2.3 -1.7 1.3 -1.3 1.7 -2.1 0 -2 1 -1.9 1.9 .4 2.7 -1.9 1.5 -2.1 1.1 -2.2 .6 -2.4 0 -2.2-.5 -2.2-.8 2 2.2 .6 3 -2.5 2.3 1 3.2 2.8 .7 1.6 2.4 2.7 .7 2.1 1.9 -2.9 0 -2.1 2 -1 2.6 -1.1 2.4 -1.3 2.3 -1.4 2.2 -.3 2.6 .5 2.6 .3 2.4 1.8 1.7 -1.4 2.3 1.4 2.3 1.5 1.7 2.1 .8 1.8 1.4 2 1 .6 2.2 1.9 1.2 2.3 .3 1.2 2.1 1.1 2.4 2.7 .3 -1.2 2.4 1.5 2.2 2.7 .3 1.4 2.3 2.3 1.7 -.4 2.7 .9 2.2 1.1 2.1 1.8 1.5 1.3 2 1.1 2.5 1.1 2.5 2.9-.2 2.4 1.8 -.8 2.5 1.2 2.4 .6 2.5 -.2 2.5 -2.7 1.1 -.4 2.8 -2.4 .7 -2.2 1.3 -1.1 2.1 -.7 2.4 -1.2 2.2 0 2.5 -1.9 1.7 -2.2 1.3 -2.7 .9 -1 2.6 -1 2.9 -2.1 2.2 1.1 2.8 2 2.3 1.2 1.9 1.2 1.9 2.3 0 2.2-.4 2.1-.1 2.1 .7 1.9 1.1 .6 2.2 .9 1.8 1.2 1.7 1.3 2 2.4-.2 1.6 1.1 1.6 1.2 2.1-.2 1.7 1.3 2.7 .1 2.6-.3 .5 2.8 2.2 1.8 -.9 2.3 .9 2.3 -.7 2.2 .5 2.3 1.4 2.1 -.8 2.5 .7 2.2 1.5 1.8 2.7-.1 1.4 2.4 2.3-.7 2.4 .4 2.9 1 .5 3.1 2.8 0 2.4 1.5 -1.3 2.7 1.6 2.5 1 2.5 -.4 2.6 2.6 0 2.4-.7 1.9 2.3 2.9-.6 2.8 .3 2.7 .9 1.9 2.4 -.2 3 2.7-.7 1.8-2.1 2.2 1.6 2.4 1 2.1-1 2.2-.7 2.5-.3 1.4-2.1 1-2.2 2.3-.9 1.8-1.5 2.1-.9 2.4 .7 2.2-1.2 1.8-1.5 2.4-.5 2.4 .1 1.7 1.7 2 1.1 2.3 .4 -1.2 2.3 1.5 2.2 .9 2.1 .5 2.3 1.5 1.3 1.2 1.6 1.6 1.4 1.9 .6 1.2 1.8 2.1 .5 1.9 .9 .8 2 .5 2.3 1.8 1.5 -1.2 1.9 -.5 2.2 1.1 1.9 -.8 2 .7 2.1 -.9 1.9 1.6 1.7 1 2.1 2.1 1.4 .2 2.6 -.9 2.2 -1.7 1.6 -1.2 2 -.8 2.2 1.4 1.9 1.7 1.8 .4 2.7 2.7 .9 -.5 2.4 -.2 2.4 -.6 2.4 -1.2 2.1 1.1 2.1 1.8 1.6 2.3 .5 2.3-.3 1.7 1.4 1.9 1 2.3-.2 2 1.2 .7 2.5 -.8 2.6 -2.5 .7 -2.1 1.6 2.1 2 -.2 2.8 -1 2.5 -2.4 1.3 .6 2.4 .6 2.4 2 1.8 2.7-.2 .5 2.5 2.2 1.1 1.6 1.9 -.7 2.4 M1199.8 84.5l-1.5-1.2 -.7-1.8 -1.8-.5 -1.8-.4 -1.8-.5 -1.3-1.4 -1.8 .2 -1.9 .2 -.9-1.7 .8-1.8 .6-1.6 0-1.8 -.8-1.6 -.6-1.6 -.2-1.8 0-1.7 -1.8 .5 -1.7-.6 -1.5 .9 -1.5 .9 -1.7-.9 -1.7 .9 -1.6 .8 -1.5 .8 .7-2 -.9-1.9 -1.5-1.3 -1.4-1.3 -2-.4 -1.9 .4 -1.9-.8 -.9-1.8 -.5 1.7 .4 1.7 -1 1.5 -1.1 1.3 -1.3 1.1 -1.6 .6 -1.7-.6 -1.8 .4 -2.5 1.6 -2.7 1 -2.5 1.7 -3 .1 -3-.7 -2.7-1.6 -2.7-1.7 -3.2 0 -2.6 1.9 -2.2 2.4 -3.3-.4 -3.1 1.2 .6 3 -1.2 2.9 2.7 1.9 -.1 3.4 -2.2 2.4 -.4 3.2 2.1 .2 .8 2 .1 1.8 -.7 1.8 -3.1 1.1 -2.7 1.8 -3.3 .8 -2.8 1.9 -1.2 1.5 -.8 1.7 -.8 1.7 -1.1 1.6 1.3 1.4 .6 1.8 0 2.1 1.4 1.4 -3-.6 -2.1 2.3 -2.2 1.8 -2.5 .9 -2.9 .1 -2.8 .5 -1.8 2.2 -2.4 1.6 -.1 1.7 -.4 1.7 .5 1.7 .4 1.7 -1.4 1 -1 1.5 -1.7 .5 -1.1 1.4 -1.2 1.5 -.5 1.9 -1.9-.4 -1.9 .8 -1.8-.4 -1.2-1.5 -1.7 .2 -1.8 .3 -2.6 .3 -2.3 1.5 -2.2 1.4 -2.7 .3 -2.7-.1 -2.6-.7 -2.2 1.9 -2.9 0 -1.7-1 -1.8 .8 -1.8 1 -1.7-1.1 -.9-1.5 -1.1-1.4 -1.6-1.4 .5-2 -1.8-.4 -1.7 .8 -1.9 .1 -1.6-.7 -.7 1.6 -.7 1.7 -.8 1.6 -1.4 1.2 -2.9 .7 -.7 2.9 -2.2 1.5 -2.2 1.3 -2.7 .4 -1.8 2.1 -2.4 1.3 -1.3 2.3 -3-1.4 -3.1-1.3 -.5 1.8 -1.5 1 -1.4 1.1 -1.8 .2 -1.3 2.7 -.5 2.9 -1.9 2.2 -2.5 1.7 -.5 3.1 2.4 2.1 -.4 2.7 -.5 2.7 -.6 2.7 -1.4 2.4 -.1 2.8 .7 2.7 1.2 2.4 1.6 2.2 .2 2.9 2.3 1.8 -1.1 2.8 1.2 2.7 1.6 2.3 .4 2.8 -1.8 .7 -1 1.5 .4 1.8 -.9 1.7 1.5 2.9 2 2.6 -.6 1.7 -1.3 1.3 .9 1.6 -.1 1.9 -3.2 .7 -3 1.3 -.6 1.7 -.8 1.5 -1.9-.4 -1.4 1.3 -3 1 -3 .7 1.6 1.1 0 2 1.2 1.3 .7 1.7 -1.4 1.2 -.4 1.8 -.8 1.7 -1.2 1.3 -2.7 .6 -2.4-1.6 -1.8 1.9 -1.6 2.1 -2.6 .3 -2.7-.2 -.8 2.5 -1.6 2.1 -2.3 .3 -2 1.3 -2.3-.3 -2.2 .7 -2.1 1 -1.8 1.4 -2.5-.1 -1.7 1.9 -1.6-2.2 -.2-2.6 -2.9 0 -2-2 -2.5 .5 -2.6-.3 -2.6-1.1 -1.2-2.5 -2.4-.5 -2.2 1.2 -2.3-.3 -2.4-.1 -2.4 .1 -2.4 .4 -2.2-.9 -2.3-.8 -2.5 .4 -2.2 1.1 -2.6 0 -2.3 1 -2.3-1 -2.5-.5 -1.8-2 -2.7-.1 -2-1.8 -2.3-1.4 -2.5-1 -2.6-.8 -2.9-.8 -2.9 .9 -2.1 2.1 -1.6 2.4 -.5 3.1 -1.8 2.4 -2.6 1.7 -1.7 2.6 1.9 .8 2 .1 .9 1.8 0 2.1 -.7 1.7 -1.5 1.2 -.1 1.8 .4 1.8 -1.9 .3 -1.8 .4 .1 2 -1.3 1.5 -2.9-1.4 -3.1-.9 -2.3 1.6 -2 1.9 -2.2 1.7 -2.1 1.8 -1.9 1.3 -2.4 .4 -2 1.7 -2.5-1 -2.5-1.3 -2.7 .4 -.4 3 -2.9 1.1 -.7 1.7 -.7 1.5 .5 1.7 1.3 1.2 -3 1 -2.2 2.3 -2.6-.8 -2.6 .8 -2.6 .4 -2.6 .3 -2.1 1.1 -2.2 1 -2 1.5 -2.3 .7 -1.4 2.2 -1.7 2.2 -2.6 1 -2.7-.8 .8 2.7 .7 2.7 .3 2.8 -.3 2.8 -2.3 1.9 -1.3 2.7 -3.2-.1 -2.3 2.1 -2.2 .9 -2.5 .3 -2.1 1.2 -1.9 1.5 -2.2-1.1 -2.4 0 -2.5-.1 -2.1-1.2 -2.4 .9 -2.1-1.3 -2.1-1.1 -2.4 .3 -.9-2.6 -2.6-.9 -2.4 1.5 -2.5-1.3 -3-1.5 -.6-3.3 -3 .3 -2.9 .6 -1.2-2.9 -3-.3 .1-3.1 -2.7-1.5 -2.6-.2 -2.7 .4 -1.7 2.1 -2.3 1.4 -2.5 .6 -2 1.6 -2.4 1.3 -2.7-.5 M1157.5 490.9l-2 .9 -2.1 .7 -2.1-.8 -2.2 0 -.8 2 -1.4 1.7 -1.3 1.8 -2.2 .8 -1.5 1.3 -1.5 1.4 -1.9 .7 -2 .5 -1.8 1.3 -1.5 1.8 -2.4 .4 -2-1.6 -2.3 .8 -2.5 .2 -2 1.9 .5 2.8 -2.3 .2 -1.9 1.3 -1 2 -1.3 1.9 -2-1.3 -2-1.4 -2.2 .9 -2.2 1 -1.9 1.4 -2.3 0 -2-.9 -2.2-.3 -.7-2.4 -1-2.3 -1.9-1.6 -1.8-1.7 -1.6 2.4 -2.9 .1 -2.7-.1 -2.3-1.4 -1.9-1.7 -.4-2.5 -2.2-1 -2.3-.7 -2.2-1.4 -2.4 .9 -2.4 .3 -1.9 1.3 -1.8 1.4 -1.4 1.9 -2.2-.6 -2.3 .3 -2.1 .1 -2.1 .3 -1.8 1 -2.1 .4 -2.5 .1 -2.3-.9 -1.7-1.9 -2.2-1.2 -2.6 .4 -2.4 1.1 -.5 2.7 -2.1 1.7 -2.2-1.1 -2.4-.1 -1.1-2.2 -2.1-1.4 -2 1.1 -2.1 .9 -1.7 1.6 -2.4 .3 -2.1-.9 -2.2 .7 -1.2-1.8 -1.9-1.2 -1.6-1.5 -.8-2 -1.9-.7 -1.9-1 -2.3-.2 -2.1-.7 -.3-2.3 -1.5-1.8 -1.9-.8 -2.1 .1 -1.7-.9 -1.8-1 -1.9-1.9 -2.5 .9 -2.2-.6 -2.3-.6 -2-1.5 -.5-2.5 1.3-2.3 -1.1-2.5 -2.3 1 -2.4 .6 -2.3 1.1 -1.4 2.2 -1.5-2.4 -2.7-.6 -2.6 .7 -2.5-.7 -1.9-2 -2.7 .1 -2.4-.4 -2.3-1 -2.5 .5 -2.2 1.1 -1.7 2 -2.1 1.4 -1.2-2.5 -1.4-2.4 -2.7 .8 -2.8-.8 1.2-2.6 -.2-2.9 -1.2-3 -3.2-.4 1.5-2.4 .6-2.7 -1.2-2.6 -.3-2.7 -2.3-1.4 -2.1-1.5 -3 .1 -1.5-2.7 -2.5 0 -2-1.4 -2.1-1.4 -2.4-.3 -.7-2.3 -1.7-1.8 -2.1-1.8 .6-2.7 -2.6 .4 -1.6-2.1 -.9-2.3 -2.4-.7 -2.4-.9 -.6-2.4 -1.5-1.7 -.7-2.2 2.3-1.5 1-2.6 -.7-2.6 -.9-2.6 2.2-1.3 2-1.5 1.8-2.2 -.6-2.8 .7-2.4 -.4-2.4 -.6-2.3 -.4-2.4 -1.5-1.8 -1.5-2 -1.7-1.8 -.3-2.5 .9-2.3 .5-2.3 -1.1-2.1 -.6-2.3 -1.5-1.7 -1.7-1.5 -1.1-2 -1.5-1.7 -1.2-2 -1.8-1.4 -2.2-.7 -2.3 .1 -2.3 .1 -1.9-1.3 -1.7-1.4 -1.6-1.5 -2.2 .6 -2-1 -2.2 .3 -2.1-.3 -1.2-1.9 -1.8-1.2 -2-.8 -1.7-1.4 -1.6-1.3 -1.4-1.7 -1.7-1.3 -2.1-.3 -1.3-2 -2.3-.4 .5-2.5 -2-1.6 -1.9 2.1 -1 2.7 -2.8-.7 -2.8 .9 -2.4 1.2 -1.9 1.9 -.6 2.6 -.3 2.7 -2.8 .5 -1.8-2.2 -2.7 .9 -2.1-2 -2.4-1 -2.5 .9 -2.2 1.5 -2.6-.1 -2.3 .5 -2.2-1.2 -1.7 1.9 -2.6-.5 -2.3 .1 -2 1 -2.2-.7 -2.3 .6 -2.8-.9 -2.2 2.1 -2.1-1.6 -1.3-2.3 -2.7-.8 -1.1-2.6 -2.7 .2 -2.2 1.4 -2.4-.7 -2.4-.1 -2.4-.8 -2.5 .8 -3.1-.2 -1.7-2.6 -2.4 1.3 -2.5 1.3 -1.2-2.2 -1-2.4 -2.2-1.2 -2.3-1.1 -2-1.4 -1.8-1.6 -1.5-2 -2-1.4 -1.5-2 .3-2.5 -1.3-1.9 -1.5-1.8 .7-2.4 -1-2.3 -2.3-1.3 -.5-2.6 1-2.7 -1.8-2.4 .4-2.6 .2-2.5 -2.1-1.5 -1.9-1.8 -2.7-.5 -1.8-1.9 M737.6 318.3l-2-2.3 -.2-3 -1.3-2.6 -1.8-2.2 M728.7 294.8l-.9 1.6 -1.4 1.3 0 1.8 -.8 1.7 -.1 2 1.4 1.3 1.3 1.3 1.4 1.2 M732.3 308.2l-2.7-1.2 M276.9 797.5l1.2 2.2 .2 2.5 1 2.2 .5 2.4 1.3 2.2 .2 2.6 -.2 2.6 -1.1 2.3 .6 2.6 .9 2.5 2.8 .5 1.4 2.5 2.4 1.1 1.5 2.2 2.8-.8 2 2.2 -1.6 2.2 -1.3 2.4 -1.5 2.5 .5 2.8 -2.3 2.1 -1 2.9 -2.8 1.3 -3-.8 -.3 2.6 -.3 2.6 .1 2.8 1.8 2.1 -.6 2.6 1.2 2.4 1.2 2.3 .9 2.4 2.5 .8 1.7 1.9 .6 2.6 -.8 2.5 .7 2.1 .1 2.2 2 1.5 -.4 2.5 .4 2.6 2.4 .9 .2 2.2 1.5 1.8 .6 2.2 0 2.2 .7 2.2 1.4 1.7 .8 2.2 .9 2.2 2.3 .6 2 1.3 -.1 2.8 2.2 1.6 2.4 1 2.5-.2 2.6 .1 2.5-.6 2.1 1.5 2.2 1.3 1.2 2.5 -.7 2.6 2.6 1.2 .7 2.7 1.1 2.3 .5 2.7 -1.3 2.6 1.3 2.6 1 2.5 1.5 2.3 1.1 2.9 -1.6 2.5 -.1 2.8 -1.1 2.7 -1.4 2.4 -2.2 1.8 -2.8 .4 -2.6 1.2 -1.3 2.6 -2.4 1.6 -1.9 1.8 -2.7 .3 -1.9 1.6 -1.5 2.1 -2.8-1.7 -3 1.2 -1.7 2.3 -1.4 2.6 -.9 2.6 -1.1 2.5 -2.5 1.3 -2.2 1.6 1 2.7 -1.5 2.5 .4 2.6 -.3 2.6 .2 2.8 -.2 2.7 .8 2.6 1.1 2.5 1.8 2.4 3 .6 .5 2.8 1.8 2.3 -2.4 1.9 -2.4 1.8 .9 2.9 0 3.1 .3 3.2 -2.6 1.7 2 2.5 -1.2 2.9 0 2.7 .1 2.7 2.4 1.9 -.4 3.1 3.1 .3 1.1 2.9 1.5 2.3 2.3 1.4 2.6 .5 2 1.6 1.5 2.1 2.2 1.4 .3 3.2 2.9 1.4 2.9-.9 2.8 1 -2.5 1.2 -1.4 2.4 -2.6-.7 -2.6 .3 -.3 2.5 -1.5 2.1 0 2.5 -1 2.2 -1.6 1.6 -.5 2.2 -1.3 1.9 -.2 2.2 -1 1.9 -.8 2 -.4 2.2 -1.3 1.7 -2 .9 -1.7 1.3 -1.7 1.4 -1.3 1.7 -1.8 1.9 -2.5-.5 -1.2 1.8 -1.6 1.6 -2.4 .8 -1.1 2.2 -1 2.1 -.4 2.3 -2.2 .7 -1.6 1.6 -2.2 .7 -2.1 .6 .2 2.7 -.8 2.6 2.3 1.3 2.1 1.6 -1.2 2.3 .9 2.4 2.2 1.5 .1 2.6 1.4 2.6 2.7 1 -1 2.6 .3 2.8 -.8 2.2 -.2 2.5 -2.3 1.5 .3 2.8 -1.8 1.9 -1.5 2.1 1 2.4 0 2.6 -1.5 2.4 -2.8-.3 -.5 2.6 -1.8 1.7 -2.4 1.1 -1.8 2 1.4 2.4 -.6 2.7 -2.7 .6 -.8 2.6 -1.2 2.2 .5 2.5 .3 2.6 -.1 2.6 -1.8 2 -2.3 1.3 -2.3 1.1 -2.6-.5 -2.4 1.3 -.9 2.5 -2.4 1.2 -2.7 .3 -1.1 2.5 0 2.7 -1.2 2.1 -1.4 2 .6 2.3 -.2 2.5 -.6 2.6 -2.3 1.4 -1.6 2 -2.1 1.4 -1.2 2.6 -2.1 1.8 .7 2.7 .5 2.7 .7 2.8 2.8 .8 1.1 2.2 1 2.3 1.1 2.3 -.2 2.6 0 2.5 1.1 2.3 -2.2 .3 -2.3 .1 -2.1 .5 -2.1 .8 -2.6 .2 -1 2.4 -1.6 1.5 -1.3 1.8 -2.2 1.4 -2.5 .2 -2.4 .7 -2.6 0 -1 2.2 -.7 2.4 -.4 2.5 -.4 2.4 -2 1.3 -2.4-.2 -1.9 1.6 -2.5-.6 -2.3 1.3 -2.6 .4 .9 2.8 -1.7 2.4 -2.6-1.5 -2.9 .8 -.7 3.2 -3.1 .9 -.6 2.4 -.7 2.4 .1 2.5 -.3 2.5 M276.9 797.5l2.9-.4 2.7-1 M327.8 832.4l-1.7-1.3 -2.2-.2 -1.9 .6 -2.1 .4 -1.6-1.2 -1.8-1.1 -2.1 0 -2 .4 -2.2-.4 -2.1 .5 -2.1-.7 -1.6-1.4 -2-1.5 .5-2.5 -1.9-1.2 -1.9-1.1 -1.9-1.4 -2.4-.1 -.3-2.7 -2.5-1 -.2-2.3 1.2-2 -.8-2.2 .4-2.3 -2.4-.3 -2.4 .7 -1.8-1.8 -.8-2.3 -.6-2.3 -2-1.3 .4-2.2 -.5-2.1 M314.9 723.5l2.5 1.3 1.6 2.3 1.2 2.7 2.6 1.1 M314.9 723.5l1.9-1.7 1.6-1.8 .7-2.4 .8-2.3 M319.9 715.3l1.8 .1 1.7 .5 1.7-.8 1.8 .6 1.8 .6 1.2 1.6 .1 1.9 .4 1.9 3.1-.7 2.9-1 3.2 1.1 2.9-1.7 M322.8 730.9l2.3-2.1 2.2-2.1 3-1.1 3.1 .9 1.9-.5 1.1-1.6 .1-1.8 -.2-1.8 2.9-1.5 3.3 .1 M233.9 675.5l-2 .6 -2 0 -1.9 .4 -2 .3 -2-.4 -2 .7 -1.9-.6 -2 0 M233.9 675.5l2.2 1.1 .5 2.4 -.2 2.3 .6 2.2 -.3 2.5 -.6 2.3 2.7 .8 .5 2.8 M217.7 687.7l2.9-.5 2.8 .3 1.3 2.5 2.1 2 1.9 1.7 1.8 1.7 2.3 1.1 2.1 1.3 M239.3 691.9l-1.8 .8 -.7 1.9 -.6 1.8 -1.3 1.4 M130.6 750.7l-.5-2.3 1.1-2 1.5-1.7 2.1-.6 2 1 2.2 .6 2-.9 1.6-1.6 .9-1.7 .2-1.8 1-1.9 -1.2-1.8 -.7-2.2 1.5-1.7 1.8-.9 1.5-1.2 1.9 1.1 2-.8 1.5-1.7 2.2 .5 .3-2 1.2-1.5 1-1.7 .7-1.8 1.4-1.5 1.9 .5 1.5-.8 1.4-1 .6-1.7 1.3-1.2 1.4-1 1.4-1 2.2 .4 1.9 1 2-.8 2.1-.6 2.2 .1 1.5 1.7 2.1 .2 2.1-.4 1.9 .9 2.1 .7 1.8 1.3 .7 2.1 .8 1.9 .8 2 1.8 1.1 .9 2 1.2-1.6 1.8-1 1.9-.9 2-.2 1.3-1.5 1.3-1.6 0-2.3 2-1.1 .2-2.4 2-1.4 2.3 0 2-1.2 2.3-.6 1.8-1.5 1.3 2.4 2.8 0 M234.9 697.8l-.3 2.5 M222.4 713.1l.8-2.3 1.7-1.8 1-2.2 .2-2.4 .6-2.9 2.8-.9 2.6-.1 2.5-.2 M594.7 -23.8l-.9 2 1.3 1.8 2 .1 1.6 1.3 .7 3.2 .9 3.1 1.6 .5 1.7 .5 1.7 .9 .2 1.9 .3 1.8 .7 1.6 1.5 .8 1.6 .9 1.5 .8 1.7 .7 1.7-.8 1.8 .7 .2-2.2 1.7-1.3 2 .5 2-.5 1.5-1.3 1.9-.3 1.8-.5 1.8-.5 1.9 .9 .7 1.8 1.6 1.1 1.4 1.2 .9 1.5 1.3 1.1 1.3 1.3 1.5 .8 1.4 1.1 .7 1.7 .7 1.6 .7 1.5 -1.4 1.3 -.5 1.8 -1.4 1.2 -.7 1.7 .3 1.8 .1 1.8 .9 1.8 -.6 1.8 3.4 .3 3.4-.4 1.1 1.4 1.7 .6 .9 1.4 .9 1.5 3.2 .8 2.7 2 1.6 2.9 1.5 2.8 -1.9 2.6 -2.1 2.3 -.7 3.1 -1 3 -1.5 2.9 -1.2 3.1 1.1 1.5 1.3 1.3 -1.3 1.6 .1 2 1.7 2.9 -.6 3.3 2 2.6 2.4 2.1 3.2 1.1 1.8 2.9 .4 3.2 1.3 3 -.7 1.6 -1 1.5 -.4 1.8 -1.6 1 .8 1.6 .4 1.7 1.1 1.5 .1 1.8 -.1 3.3 .7 3.1 2.4 2.3 1 3.2 .6 1.7 1 1.4 .8 1.7 -.1 1.8 1.4 1.7 -.7 2.1 1.4 1.6 2.1 .1 1.7 .8 1.8-.6 1.8-.6 1.6 1 2.1 .2 .9 1.9 1.8-.4 1.9-.3 .9 3.2 2.8 1.9 2 2.4 2.1 2.3 2.6 1.9 1.5 2.9 2.9 1.3 2.1 2.5 -.4 1.8 -1.2 1.4 .2 1.7 .2 1.8 1.1 2.1 -1.4 1.9 1.7 1.1 1.7 1 2 2.6 2 2.6 2.7 2 2.1 2.5 2.1 2.6 3.3 1 -.4 1.8 .9 1.6 1.3 1 1.2 1.3 1.9 2.5 2.6 1.9 .9 3.1 2.3 2.4 1.6 1.4 -.4 2.1 1 1.7 1.8 .7 1.7 .8 1.7 .6 2 .4 .8 1.9 -.8 2.1 -2.1 .7 -.6 1.9 -.8 1.9 .9 1.7 .7 1.8 -.2 2.1 1.2 1.7 -1 1.6 -1.5 1 -1.3 1.3 -1.7 .7 -1.9-.1 -1.4 1.4 -1.5 1 -1.7 .5 -1.1 1.5 -1 1.5 -1.5 1.4 -2-.2 -1 1.7 -1.8 .6 -1.7 1 -1.9-.2 -1.4 1.4 .6 2 0 1.8 .4 1.8 .4 1.8 -.9 1.6 -.2 1.8 -.2 1.7 .2 1.9 -.7 1.7 .9 1.6 .3 1.8 0 1.8 -.3 1.8 -.5 1.7 .6 1.8 -1 1.5 -1.1 1.5 .1 2 -1.4 1.5 1.5 1.4 -.2 2.1 .9 1.6 .1 1.9 -2 .4 -1.3 1.6 -1.9-1.2 -1.9 .9 .8 2.2 -1.3 1.9 -2.1 .4 -1.4 1.7 -2.3 2.4 -1.2 3.2 -.3 3.3 .4 3.3 -1.5 1.2 -.1 1.9 -1.7 .3 -1.6 .7 -1.8 2.7 -2.2 2.3 M659.3 276.6l1.3 2.9 .5 3.1 -1.2 1.6 .3 1.9 1.7 .8 .9 1.6 2.8 1.4 3.1 .6 2.9 1.2 3.1 .7 M691.1 286l-2.3 .5 -1.9 1.4 -2.4 .7 -.9 2.4 -2.4-.8 -2.4-.5 -2 1.4 -2.1 1.3 M312.9 706l1.1-1.5 .7-1.7 1.9-.1 1.4-1.3 .5-1.9 1.6-1 1.6-.8 1.5-.9 M312.9 706l1.9 2.2 1.4 2.6 3 1.3 .7 3.2 M361 715.6l-1.2 1.5 -2-.1 -1.2-1.5 -1.9 0 -.9-3.1 -2-2.5 -2.8 .2 -2.7-.2 -2.4-2 -3 .8 -1-3 -2.7-1.8 -2.3-2.4 .3-3.4 -2.9-1.6 -3.1 1.1 -3-.5 -3-.3 M413 500.3l2.5 0 1.9-1.8 2.4-.1 2.2 1.1 1.9-1.4 2-1 1.7-1.7 1.5-1.7 M413 500.3l-1.5-.9 -1.7-.6 .8-1.7 -1-1.7 -1-2.8 -2.1-2.1 M406.5 490.5l1.6-2.4 -.3-2.7 M429.1 493.7l-.8-2 .2-2.1 -1.3-1.5 -1.6-1.3 -2-1.2 -.5-2.3 0-2.2 1-1.9 M407.8 485.4l2.5-.3 1.4-2 2.2-.5 2.3 .3 2.1-.8 2.3-.2 1.9-1.2 1.6-1.5 M328.8 744.3l-2.8 .8 -2.3 1.7 -2.9-.6 -2.8 1 M328.8 744.3l1.8 .3 1.4 1 .7 2 2 .3 1.8-.4 1.2-1.3 1.1-1.6 1.9-.2 3.1 1 2.8-1.5 3-.7 3 .3 -.7 1.9 -.5 1.9 -1.9 1.1 -.7 2 2.1 .8 .8 2.1 -.4 2.1 1.1 2 1.8 .8 1.5 1.2 .9 1.8 .5 1.9 1.9-.1 1.9-.2 2.2-.4 1.4 1.7 2-2.2 2.4-1.8 2-2.4 3-.9 2.3-1.9 2.3-1.9 1.3-2.9 2.5-1.8 1.3 1.7 1.1 2 2.3 .3 2.1-.8 1.2-1.7 2-.4 2.1-.4 1-1.8 .5 1.6 .8 1.5 1.9 .7 .3 2 1.6 1.2 2-.7 1.2 1.4 .9 1.7 0 3.1 1.1 2.9 1.5 2.9 -1.1 3.2 .7 1.8 -.9 1.7 -1.3 1.2 -.9 1.5 .6 2 2.1 .4 0 1.8 -.1 1.9 1.7-.9 1.8 .2 1.7 .6 1.2 1.3 1.7 .9 1.4 1.3 2.1-.1 1.3-1.5 2.3 2.3 2 2.6 1.8 .2 1.3 1.4 -.1 1.9 1.4 1.3 3.3 .1 2.6-2.1 2.9-.8 3.1-.4 1.9 2.4 1.9 2.5 3.3 .7 2.1 2.5 2.9 .2 2.4-1.6 2.7-.3 2.8 .2 2.7 .3 2.7-.6 2.6 1.4 2.8-1.2 2.7 2.1 3 1.4 1.9 1.1 -.1 2.1 -.8 1.7 -.7 1.7 2.9 1.5 2.9 1.8 1.1-1.3 1.4-1 1.6-.7 1.8-.1 2.4-.8 2.5-1 2.1-1.4 2.6-.7 2.4-1.3 2.7-.3 2.5 1 2.7 .1 2.6 .9 1.3 2.4 2.5 .4 2.5 .1 2.4-1 2.5 .5 2.2 1.4 2.5 0 1.6 2.1 2.6 .2 1.9 1.6 2.5 .3 2.8 0 2.7-.6 1 2.7 2.4 1.6 2.5 1.6 3.1-.2 2.7-1.1 2.5-1.4 2.8 .4 2.6-1.3 2.6-.8 2.6-.7 1.3 2.8 2.9 .9 2.3 1.5 2 1.9 1.3 2.5 2 1.9 1.6 2.3 .9 2.6 2.1 1.6 1.3 2.2 2.3 1.3 2.7-.4 2.2 1.3 2.5 .1 1.8 1.8 1.3 2.2 2.4 .3 2.3 1 1.7 1.7 2.1 1.3 1.4 2.1 1.6 2 2.7 0 2.4 .9 M325.4 765.9l-.3-3.4 -2.9-1.7 2.4-2.1 .6-3.1 -1.3-2.3 -2-1.8 -2.9 0 -1.8-2.3 M317.2 749.2l.8-2 M322 732.8l-1.6 2.1 -1 2.5 -2.8-1.3 -2.4 1.8 M322 732.8l1 1.5 .3 1.7 -.3 1.8 1.1 1.5 1.6 .8 .9 1.6 1.9 .6 .3 2 M314.2 737.9l1.6 2.6 2.9 1 -2.1 2.6 1.4 3.1 M322 732.8l.8-1.9 M312.9 706l-2.1 .1 -1.4 1.5 -2 .1 -1.6-1.2 M314.9 723.5l-1.7-1.4 -2 .6 -1.7 .8 -1.7 .9 M307.8 724.4l-1.5-1.9 -.9-2.2 -.7-2.3 .2-2.4 .8-2.3 -.8-2.3 1.8-2 -.9-2.5 M226.6 758.8l-.1-1.9 .7-1.7 1.7-.7 1.3-1.3 2.5-2.2 1.5-3 3.1-1.5 2.8-1.8 1.3-1.1 1.1-1.3 .6-1.7 1.1-1.3 M228.5 758.8l.4-2.4 2.4-.8 2.1-.2 2.1 .6 1.7-.9 1.4-1.3 1.3-1.5 .4-1.9 2.1-.2 2 .7 1.9 .8 1.2 1.8 2.1 .5 2.1-.6 2.2-.8 .8-2.2 M254.7 750.4l.5-1.8 1-1.7 -1.3-1.5 -.2-2.1 M254.7 743.3l-2.9-1.4 -3 1.3 -2.2-2 -2.4-1.9 M109.1 419.2l-1.5-.9 -1.7-.7 -.7-1.7 -.7-1.7 -1.4-.9 -1.1-1.3 -1.7-.4 -1.2-1.4 0-2.1 .6-2 -.5-2.2 -2-1.1 1.1-1.6 1.6-1.1 1.2-1.5 1.2-1.5 M109.1 419.2l-1.4 1.3 -.7 1.9 -2.1-.3 -1.5 1.4 -.6 2.2 -2.3 .5 -2.1 .6 -1.8-1.2 M102.3 397.1l-1.5 1.2 -.9 1.7 .1 2 -1 1.7 -.6 1.9 -1.8 .8 -.6 1.9 -1.4 1.2 -2.3 .1 -1 2 -.8 2.2 -2.2 .3 .2 2.3 -2 1.3 .1 2 -.2 2 M96.6 425.6l-2.3-1.6 -2.6-.8 -2.4-1.7 -2.9 .2 M46.2 453.8l-.1-1.9 0-1.9 1.2-1.4 1.5-1.3 .2-1.8 .9-1.7 1.8-.6 1-1.7 1.8-1.1 1.3-1.7 1.3-2.1 -1.3-2.1 1.7-1 1.9-.1 2-.3 1.7-.9 M85.9 444.7l-.9-2.7 -2-2 1.8-2.2 .7-2.8 -.4-2.5 -1.3-2.1 -1.7-1.8 -1.1-2.2 M63.1 432.2l2.8-.7 2.8 .8 2.1 2.2 3 .2 .6-3.1 3-1.1 2.5-1.5 1.1-2.6 M79.1 394.8l-.2 2.3 -1.2 2 0 2.3 -.2 2.3 -.8 2.2 -.6 2.2 -.8 2.4 1.3 2.2 M60.8 413.3l1.9-.5 2-.2 1.9-1.4 2 1 2.3-.6 1.9-1.5 2 1.1 1.8 1.5 M63.1 432.2l.2-2.5 -1.2-2.2 -.9-2.2 -.1-2.5 .2-2.4 -.1-2.4 -1.4-2.2 1-2.5 M86.4 421.7l-2.9 .7 M83.5 422.4l-1-1.6 -.6-1.8 -1.8 .1 -1.8-.3 -.5-3.2 -1.2-2.9 M81 426.4l1.2-2 1.3-2 M40 324.7l-1.6-.9 -1.8 .5 -1.5-.9 -1.2-1.2 -1-1.7 -.2-1.9 -1.9-.4 -1.9-.3 .1-2.1 -1.6-1.3 -.7-1.9 .6-1.9 -1.8-.6 -1.6-.9 -1.6-1.3 -2.1 .4 -1.8-.8 -1.9 .4 -1.7-1.1 -2 .7 -.7-1.9 -1.7-1 -.9-1.8 -1.6-1 -1.8-.4 -1.8 .1 -1.7 .8 -1.8 .4 -1.1 1.5 -1.7 .7 -1.9 .1 -1.4 1.2 -3.1-1.2 -3.3-.2 -1.6 1.1 -1.9 0 -1.4-1.2 -1.5-1 -1.9 .3 -1.9 .6 -2.1-.9 -.5-2.1 -3.2 .9 -3.3 .7 -2-.7 -1.5-1.4 -2.1 .2 -1.9 .9 -1.8 .9 -1.9-.4 -2-.3 -1.6 1.3 -1.2 1.9 -2.1 .9 .7 2 -.1 2.2 -.7 1.9 -1.7 1 -1.8 1 -.5 1.9 M637.9 454l.5-1.9 M620.6 440.2l3.4 .4 3.3-.1 1.8 .1 1.4 1.3 1.7 .6 1.7-.6 M638.4 452.1l-2.1-2 -.8-2.8 -1.5-2.5 -.1-2.9 M737.6 318.3l-1.6 1.2 -1.8 .8 -1.5 1.2 -.8 1.9 -1.4 1.4 -1.9 .6 -1.2 1.6 -1.2 1.4 M729.6 307l-2.1-.1 -1.1 1.8 -1.7 .7 -1.5 1.1 -1.6 1.1 -1.9-.1 -1.9-.5 -1.7 1.2 M716.1 312.2l0 .2 M716.1 312.4l.5 2.5 .6 2.5 2.1 1.4 2 1.5 1.1 2.1 1.4 1.9 1.2 2.1 1.2 2 M710.4 298.4l.1 2 -.8 1.8 .1 2 .6 1.8 M710.4 298.4l-1.1-1.4 -.7-1.8 -.3-1.9 -1.4-1.4 -.9-1.9 -1-2 -2.2-.6 -2.2 .5 M710.4 306l-3.1-.3 -3-.6 -2 2.7 -3.3 .3 M699 308.1l-2.4-1.4 -2.6-.6 -2.1-2.1 .4-3 M692.3 301l1.6-.8 .7-1.7 -.7-1.8 1.1-1.6 .5-1.6 .8-1.5 .7-1.9 -1.4-1.5 M700.6 287.9l-2.3 1.9 -2.7-1.2 M719.9 290.9l-3.1 .8 -2.9 1.5 -2 2.4 -1.5 2.8 M716.1 312.2l-1.2-1.7 -1.3-1.7 -1-2.1 -2.2-.7 M706.2 280.3l-2.5 .9 -.7 2.6 -1.3 2 -1.1 2.1 M691.1 286l2.4 1 2.1 1.6 M710.5 319.9l1.4-2.1 2.3-1 1.7-1.9 .2-2.5 M710.5 319.9l-.1 2.2 -.4 2.3 .6 2.2 1 2 1.6 1.5 1.6 1.6 1.8 1.2 1.8 1.2 -.4 2.5 2.1 1.6 .5 2.2 -1.1 2.1 -.3 2.5 -2.3 1 -.9 2 .2 2.3 M674.7 292.4l.4 2.9 M692.3 301l-1.4 1.8 -2.2 .5 -2.2 .5 -2.1-.6 M684.4 303.2l-1.8-.2 -1.7-.8 -1.8-.1 -1.7 0 .4-2 .4-2.1 -1.2-1.8 -1.9-.9 M433 579.9l-2.1 .2 -1.8-.8 -2 .2 -1.9-.7 -1.8-1 -1.9-.6 -1.5-1.4 -1.4-1.4 -1.1-1.8 -.7-1.9 -1.7-1.3 -.9-2 -1.8-1 -2-.3 -2-.8 -1.9-.5 M433 579.9l-.9-1.8 -.9-1.7 -1.2-1.6 -1.5-1.3 -.9-2 .5-2.1 -1.3-1.5 -1.2-1.7 -.1-2.1 -.3-2.1 -.8-1.9 .1-2.2 -.7-2.3 -.7-2.3 -2.6 .6 -2.2-1.6 M418.3 552.3l-1.7 2.9 -3.1 1.3 -3.2-.1 -3.1 1 M406.5 564.8l-.8-2 1.4-1.7 -.7-1.9 .8-1.8 M422.2 516.1l-1.7 1.3 -.3 2.1 -2.1 .2 -1.5 1.5 -1.3 1.5 -.9 1.8 .7 2 -.5 2 M422.2 516.1l-1.2-1.4 -1-1.5 -.4-2 -1.8-1 -1.9-.1 -1.7-.9 -.6-2.1 -2-.7 M414.6 528.5l-2.1-1.5 -2.5-.3 -1.8 1.8 -2.4 .6 -2-1.2 -2.3-.5 -.4-2.5 -2-1.5 M411.6 506.4l-1.6-1.2 -2.1 .3 -1.6 1.4 -2.1-.8 -1.3 1.4 -.4 2 -1.4 1.3 -1.6 1 M399.5 511.8l.3 3 .9 2.8 -1.6 2.7 0 3.1 M413 500.3l-1.3 1.3 -1.3 1.3 1.4 1.5 -.2 2 M429.6 494.1l-.5-.4 M429.6 494.1l-1.2 2.7 1 2.9 -2.5 1.7 -.7 2.9 -.7 2.8 .2 2.9 2.2 2 .7 2.9 M428.6 514.9l-1.7 .3 -1.7-.7 -1.8 .3 -1.2 1.3 M406.5 490.5l-1.9-.2 -1.9-.4 -2-.1 -1.9-.2 -2 .8 -1.6 1.3 -1.1 1.8 -.4 2 M391.6 504.7l1.4-2 0-2.5 .8-2.3 -.1-2.4 M391.6 504.7l2.9 .6 2.4 1.5 2.1 2 .5 3 M380.1 525.4l-1.6-2.9 -3.1-1.3 M380.1 525.4l2.1-1.2 2.4 .3 2.1 1.1 2.3 .5 2.2-.1 2.2-.7 2.2 0 2.1-.7 M397.7 524.6l1.4-1.2 M391.6 504.7l-1.3 1.3 -2 .1 -1.8-.4 -1.7 .6 M375.4 521.2l2.9 .1 1.3-2.5 1.5-2.3 -.8-2.6 -.2-2.5 2-1.5 1.1-2 1.6-1.6 M412.3 540l.5 3.3 2 2.7 1.3 3.1 2.7 2 M412.3 540l1.2-2.1 0-2.4 1.5-1.9 .6-2.4 M415.6 531.2l1.6 .9 1.7 .8 1.8-.1 1.9 .3 1.3 1.5 2-.1 1.9 .2 1.3 1.5 M429.1 536.2l-1.5 2.3 .5 2.6 -.1 2.6 1.1 2.3 M418.8 551.1l3.2 .8 2.5-2.1 2.9-1.2 1.7-2.6 M418.3 552.3l.5-1.2 M395.6 545.9l1.4-1.9 1.8-1.6 2.1-1 2-1.4 2.6-.3 2.1 1.8 1.9-2.1 2.8 .6 M395.6 545.9l-.4 .4 M407.2 557.4l-1.8-1.4 -1.2-1.8 .6-2.5 -1.9-1.7 -.7-2.5 -2.1-1.5 -2.3 1.1 -2.6-.8 M397.7 524.6l.4 2.7 .1 2.7 1.5 2.6 -1.1 2.8 -2.6 1.9 -2 2.4 .2 3.3 1.4 2.9 M414.6 528.5l1 2.7 M428.6 514.9l1.6 .8 1.8 .6 M432 516.3l1.9 1.7 .3 2.6 -1.5 1.9 -1.2 2.1 1.2 2 2.1 1.2 -.5 2.2 .2 2.3 M434.5 532.3l-1.5 1.1 -1.9-.1 -1.2 1.3 -.8 1.6 M501.6 595.4l.1-2 -.8-1.8 -1.5-1.5 -2.1-.1 1.4-1.2 .1-2 -.1-1.7 .2-1.8 -2.6-1.7 -2.9-1.1 -1.7 0 -1.8-.1 -1.4-1.3 -.4-1.8 -1.8-2.5 -2.1-2.2 -3.1 .3 -2.9-1 -3.3 .5 -3.3-.7 -1.5-2.9 -1.4-3 -3.3 0 -2.5-2.1 -2.8-1.2 -2.6-1.4 -3.3 0 -2.6 2.2 -3-1.5 -3.2 1 -.7-3.2 -.4-3.2 -1.7-.9 -1.9 .1 .4-2.1 -1.4-1.5 -2.9-1.1 -2.3-2.1 -3.2-.5 -2.2-2.3 M419.1 676.5l-3.3-.8 -3.2 .7 -3.1 1 -3.2 .5 -1.6-.8 -1.5-1 -1.5 1.5 -2-.7 -2.6-2 -3-1.4 -1.6 2 -2.5-.6 .1 2.3 -1.3 2 -1.9-1 -2 .7 -1.6-1.4 -2.1-.2 -1.9-.6 -2-.1 -2.3-.4 -1.5 1.8 -2.5 .2 -1.4-2.2 -.5-2.1 0-2.2 -1.7 .7 -1.8 .1 -.9 1.6 -1.3 1.2 -1.1 1.5 -1.8 .4 -1.8 .2 -1.7 .1 -1.2 1.3 -.9 1.4 -1.8 .5 -1.1 1.4 -1.7 .3 -1.6 .7 -1.6 .6 -1.5 .8 -1.2 2 -2.3-.1 -2.1-.1 -2 .2 -1.3 1.6 -2 .6 -1.5 1.7 -2.3-.6 -.5-2.3 -2.3-.5 -1.7-1.3 -.3-2.1 -1.3-1.7 -1.6-1.2 -2.1-.1 -1.7-1.3 M319.4 679.3l1.1 2.3 1 2.4 1.3 2.5 2.8 .6 -.7 2.6 .7 2.6 -2 1.9 -.4 2.6 M406.5 564.8l-3.3 .6 -2.9 1.6 -1.4 3 -2.7 2 M396.2 572l-1.3 2.7 .6 2.9 -.6 2.9 -1.9 2.3 M499.6 715.1l-3.2-.3 -3.2 .7 -3.1 .7 -2.9 1.5 -2.8-1.7 -3.2-1.1 -3.2 .9 -3.3 .6 -1.7-3 -2.6-2.2 -1.7 .4 -1.8 .5 -1.7-.6 -1.4-1.3 -2.8-1.5 -2.8-1.7 -1.1-1.7 -2 .1 -1.7 .6 -1.6 .7 -.1-2.2 -.2-2.2 -1.6-1.7 -.9-2.1 1.9-1.6 2.6-.1 1.7-2 -.3-2.6 -1.4-2.3 -2.5-1 -2.4 .8 -2.3 1.1 -1.5-1.7 -1.5-1.8 .2-2.3 0-2.4 -1.8-.2 -1.9 0 -1.8-.4 -1.9-.2 -2-.2 -1.7 1.2 -1.6-1.3 -2.1 0 -1.2-1.5 -1.4-1.4 0-2 -.4-1.9 -.4-1.9 -.2-1.9 -1.3-1.4 -1.1-1.6 2.4 .3 2.1 .9 1-2.5 2.7-.3 -.4-2.2 .6-2.2 .2-2.3 2-1.4 -.3-1.9 .9-1.7 1.7-1.1 .5-1.9 -.7-1.9 1.1-1.8 .6-1.7 -.1-1.8 -1.2-1.4 -1.2-1.5 -1.7-.7 -1.3-1.5 -1.3-1.7 -2.2-.7 1.3-2 -.8-2.2 -.4-2.2 -.7-2 -1.5-1.5 -1.6-1.4 1.2-1.8 1.8-1.3 -.2-2.2 .9-2 -2.8-1.9 -3-1.6 -3.3-.2 -3.2-1.2 .9-1.8 -.4-1.9 -1.1-1.5 -1.2-1.4 -1.3-1.3 -1.3-1 -1-1.4 -1-1.4 -2.9-1.5 -2-2.6 -2.2-2.2 -1.5-2.8 -1.7-.9 -1.9 .1 -2-.2 -1.2-1.6 -1.1-1.7 .6-1.9 -1.3-1.7 .8-1.9 M481.8 499.1l-1.6 2.1 -1.3 2.4 .3 2.8 -1.5 2.4 2.4 1.6 .4 2.9 1 2.5 .1 2.7 M481.8 499.1l-2.2-.1 -2.2-.6 -1.3-1.8 -1.7-1.4 -2.6 0 -1.2 2.2 -2.2 .1 -2.2-.4 M481.6 518.5l-1.8 .3 -1.7-.9 -.5-1.9 -1.9-.6 .6-1.7 .2-1.8 -.8-1.5 -.6-1.7 -2.9 .7 -2.9 1.2 -3.1-.5 -2.9-1 M463.3 509.1l.2-3.1 1.2-2.9 0-3.2 1.5-2.8 M409.8 450.3l-1.7 2.5 0 3.1 -1 2.8 .1 2.9 M409.8 450.3l-1.4-2.2 -2.3-1.1 -2.8-.9 -.5-2.9 M407.2 461.6l-3.3 .1 -2.2-2.4 -2.9-.1 -3 .6 M395.8 459.8l-1.6-.9 -1.2-1.5 .2-1.9 -.5-1.7 -1-1.8 .7-1.8 -1.4-1.2 -1.1-1.5 M402.8 443.2l-3.1 0 -2.9 1.2 -3.2-1 -2.9 1.7 M389.9 447.5l.8-2.4 M-103.6 1117.5l-.7-2.5 -1.3-2.2 1.6-2 1.6-2 2-1.4 2.5 0 1.1-2.1 1.4-1.9 -1.1-2.2 1.3-2.1 -1.1-1.9 .1-2.2 -.1-2.2 .2-2.3 1.8-1.3 1.2-2 2.4-.7 1.2-2.3 1.7-2.1 2.7 .5 2.4-.2 1.7-1.8 2.4-.5 1.7-1.7 .4-2.4 -.5-2.3 -.7-2.3 -.7-2.3 1.1-2.1 .4-2.4 -.1-2.4 .9-2.2 2.8 .4 2.7 1 1.9 2.1 2.3 1.8 2.1-.2 .9-1.9 1.6 1 1.7 .7 1.4-2.9 1.4-2.8 .1-2.5 .2-2.5 1.8-1.8 1.2-2.2 2.5-.6 2-1.8 .6-2.5 1.5-2.1 2.3-.7 2.3-.4 2.6-.9 .5-2.8 0-2.4 -.1-2.4 1.7-1.7 1.4-2 1.2-1.9 .4-2.2 -1.6-2 .9-2.4 1.1-2.1 1.8-1.4 .6-2.2 -.4-2.3 0-2.7 .2-2.6 1-2.9 3-.4 1.6-1.9 1.4-2 2.1-1.3 2.3-.8 .8-2.5 -1.2-2.3 1.2-2.6 -1.7-2.2 .8-2.5 1.9-1.6 .8-2.3 .3-2.4 1-2.3 1.8-1.6 2.2-1.3 .8-2.5 .2-2.5 .7-2.6 1.7-2.1 2.5-.8 2.6 .1 2.5-.5 1.9-1.7 1.8-1.8 2.2-1.3 2.5 .1 2.4 .1 2.4-.5 2-1.1 2.2-.3 2.2-1.5 2.3 1.3 2.2-.3 2.2 .7 2.3-1 2 1.6 2.5-.9 1.4-2.2 2.5-.7 2.5 .6 1.7 2.1 2.8-.5 1.6 1.8 2.4 .6 1.7 2.3 2.8 .3 2.5-.2 2.6-.6 2.8-.4 2.8-.2 1-2.7 1.1-2.6 1.5 2.2 1.7 2 2.2 1.4 2.5 .7 3.2-1.3 2.6 2.2 .7-3.2 3.1-1.1 -.4-2.3 .9-2.1 1-2 .6-2.1 1.9-1.2 1.6-1.5 1.6-1.4 1.9-1.2 1.5-1.8 2.2-.8 1.4-1.8 1.8-1.4 1.9 1.4 2.3 .7 2.7 1 2-1.9 1.2-2 2.1-.9 2.1-.7 2.3 .4 2 .3 2.1 .1 2.2 .1 1.9-.9 1.5-2.1 -1-2.4 1.9-1.4 .6-2.2 2.2-.8 1.4-1.7 1.9-1 2-.9 -.3-2.6 .5-2.6 2.9-.1 1.7-2.3 1.7-1.4 1.8-1.4 2.1-.7 1.9-1.4 2.4-.6 2.1 1.4 2.4 .5 2.2-.8 2.4-.7 2.3-.5 2.7-1 .4-2.8 .4-2.7 2.2-1.7 1.8-2.4 3 .3 -2.2-1.8 -1.8-2.3 1.5-2.5 .2-3 .2-2.2 1.1-1.9 1.7-1.7 0-2.3 -1-2.1 -1-2.1 1.1-2.1 .2-2.4 .3-3.1 2.9-1.2 2.3-1.5 2.6-.6 1.7-2.2 2.6-1 1.8-2 .8-2.6 1.7 1 1.8-.7 .1-2.1 1.9-.8 2.7 1.4 2.5 1.7 2.4 1.5 2.8 .4 1.2 2.7 2.5 1.5 -1.1-3.1 1.5-2.9 2.6-1.8 1.3-2.8 2.7-1 2.5-1.4 2.5-1.9 3.1 .6 .4-2.6 -.5-2.7 -.2-2.6 -.4-2.6 -2.4-1.6 -.7-2.8 -.9-2.5 -.8-2.6 1.2-2.5 2.9-.1 .5-2.4 1.2-2.2 .1-2.5 -.9-2.3 2.2-1.7 -.1-2.7 -.4-2.5 -1.2-2.1 1-2.3 1.4-2 1.5-2.2 1.8-1.8 -.8-2.5 -.9-2.4 1.1-2.3 2.5-.8 1.4-1.9 2-1.5 2.2-1.3 2.3-1.1 2.8-.3 2.2 1.7 2.4-.2 2.1 1 2.4-.3 2.2 .8 2.4 .7 2.2-1.1 2.1-1.2 2.3 .1 M36.2 1293.1l3.2 .9 2.9-1.5 2.2-2.1 2.3-2 2.1 2.3 2.8 1.2 1.2 1.3 1.7 .6 1.8 .1 1.3-1.4 1.8-2.4 2.3-1.9 3-.6 2.7-1.3 -1.4-3 -.3-3.4 .5-1.8 .4-1.9 1.8-.4 1.9-.7 2.8-.2 2.8-.7 3-1 1.1-3 -.6-2.9 -.9-2.8 0-1.8 .2-1.7 1.6-.7 1.5-.8 .6-2.7 1.6-2.2 -2.2-2.3 1-3 1.3-2.3 1.2-2.4 2.4-1.2 2.1-1.6 .9-3.1 1.5-3 .9-3.1 1.3-3 -.6-1.7 -1-1.4 -1.6-.8 -1.7-.5 -1.3-1.1 -1.5-.9 -.3-1.7 -.7-1.6 1.6-2.5 .7-2.9 .1-2.9 -.8-2.9 .9-3.1 -1-3.2 2.1-2.4 2.8-1.5 2.4-2.1 3-.8 2.8-1.4 2-2.4 2.1-.6 .8-2 1.9 .5 2-.1 2 .2 2 .7 .3 2.1 .8 1.9 1.2-1.2 1.4-1.1 -.5-1.7 -.2-1.8 1.6-.7 1.7-.4 0-1.8 .6-1.7 3-1.7 1.9-2.8 3.3 0 3.2 .6 .1-2.4 -1.4-2.2 -1-2.2 0-2.4 .9-2.4 .7-2.5 -1.3-2.2 -.6-2.5 1.6-2 .1-2.6 -.5-2.5 .2-2.5 1-2.2 1.5-1.9 .3-2.5 1.8-1.8 .1-2.9 2.5-1.4 2.1-2 -.8-2.8 -.2-2.4 -1.1-2.3 -.7-2.4 .1-2.5 .7-2.3 -.2-2.5 .4-2.7 -2.1-1.8 -.4-2.5 .6-2.5 -1.3-2.2 -1.7-1.8 .8-2.5 .1-2.6 -.9-2.5 -.1-2.6 -1.2-2.3 -.8-2.4 0-2.6 -.6-2.5 -.6-2.7 .7-2.7 .6-2.7 2-2 1.8-2.2 2.7-.7 1.5-2.2 1.7-2 -1.7-2.8 -.6-3.3 2.3-2.3 2-2.6 -2.4-1.4 -2.1-1.8 -1-3.1 -3.2-.6 .2-2.4 -1.1-2.3 -.5-2.3 -.4-2.4 -1.3-2.4 -2.1-1.8 1.5-2.4 .4-2.8 1.5-2.9 2.8-1.7 1.7-2.6 2.4-2.1 3-1.4 2.6-1.9 1.9-.4 1.4 1.5 1.5-.9 1.6-.8 1.8-.8 1.6-1.1 -.2-1.9 .2-1.9 .5-1.7 .6-1.7 1.9-.1 1.2-1.6 3.4 .4 3.4 .2 1.4-1.1 1.4-1 1.7-.3 1.8-.2 -.1-1.9 -.7-1.8 .3-1.9 -1-1.8 1.6-1.5 2.1 .2 2.1-1.1 .1-2.3 .4-1.8 1.1-1.4 1.8-.1 1.5-1 2.1-2.6 1.2-3.1 .9-1.6 .6-1.8 -1.4-1.2 -.9-1.7 -1.7-2.9 -.1-3.3 -.9-3.2 -.2-3.3 1.6-2.9 .2-3.4 -.7 2 .1 2.1 .8 2.3 2.3 .6 1.1 1.5 1.2 1.5 1.5 1.4 -.3 2.1 2.1 1.2 .1 2.4 2.1-.8 2.1 .9 1.3 1.6 2 .3 1 1.7 1.1 1.5 2 .6 2 .8 1.8 1.2 .7 2.2 1.9-1 2.1 .1 1.6-1.4 2.1-.4 1.1-1.9 1.8-1.1 2.5 .2 1.4-2.1 2.4 .7 2.3-.9 2.2 1.4 .6 2.5 .4-1.8 1.5-1.1 -.2-1.9 1.1-1.5 1.3-1.6 2.1-.2 1.1-1.8 -.4-2 1.7-.9 2 .1 1.9 .2 1.8 .4 1-1.7 1.3-1.3 1.5-1.1 1.4-1.3 3.1-1.1 3.2-.6 1.8-.1 1.7 .1 1.2-1.4 1.6-.7 1.4-1.1 1.8-.1 1.7-.3 1.7-.4 1.3-1.1 1.4-1 .8-1.6 1.2-1.3 -1.3-2.9 .5-3.1 -.6-3 -2-2.5 -1.3-2.9 -2.6-2 -3-.9 -3.1-.8 -.7-3.1 -2.7-1.8 -1.3-2.7 -1.5-2.6 -.8-3 1.1-2.9 -.5-3.1 1.4-2.8 1.1-2.7 0-2.9 -1.8-2.8 1.6-2.9 2.4-2 -.3-3.2 .5-3 2.1-2.1 1.2-2.6 1.5-2.5 2.3-1.7 2.2-1.9 .6-2.8 1.6-2.4 .4-2.8 1.8-2.4 -1.7-1.3 .4-2.2 -1.9-.9 -.3-2.1 .9-1.7 1.6-1.1 0-2.1 1.7-1.2 2.7-2.1 1.5-3 1.8-.2 1.7 .4 1.3-1.2 1.4-1 -1.3-2.8 .2-3.2 -2.8-1.3 -1.7-2.7 1-3.1 -1.9-2.6 -1.1-2.7 -1.8-2.3 -3.1-1 -2.5-2.1 -.5-3.1 -.7-3.2 .9-1.5 .2-1.8 -1.3-1.4 .3-2 -3-1.6 -2.9-1.6 1.6-.7 1.6-.7 1.7-.3 1.5-.9 1-1.4 1.3-1.2 1.1-1.3 1.2-1.2 -.4-2.2 1.6-1.4 -.8-1.7 -1.3-1.4 .1-3.4 -.8-3.3 M256.8 790l2.2 0 2.1 .5 2-.7 2-.6 M265.1 789.2l2.6 1.1 1.6 2.2 M276.9 797.5l-1-1.9 -1.3-1.7 -2.2 .1 -1.8-1.4 M269.3 792.5l1.3 .1 M318.1 766.7l.4 2.2 -1.5 1.5 -2 .8 -1.2 1.6 -.9 1.8 -1.1 1.6 -1.7 1 -1.8 .8 M309 797.9l1.3-2.4 .8-2.6 .6-2.7 1.3-2.4 -1.8-2.2 -.4-2.8 -1.2-2.4 -1.3-2.4 M154 458.5l-.6 2.5 .9 2.3 -2 1.2 -2 1.3 -1.8 1.5 -1.9 1.4 .8 2.2 -.3 2.4 M154 458.5l2.3 1.3 2.4 1.1 2.5-.6 2.3-1.3 1.4 2.1 2 1.5 2 1.9 -.5 2.7 M168.4 467.2l-.6 2 1.2 1.7 .6 1.8 -.8 1.8 M168.8 474.5l-1.6 1.4 -2 .8 -1.9 .9 -2.1 .6 -2 1.1 -2.3-.5 -2.5 .3 -.9 2.4 M147.1 473.3l.1 2.9 1.7 2.3 2.1 1.8 2.5 1.2 M139.4 512.2l-1.2-1.9 -.3-2.3 -1.7-1.6 -1.8-1.3 .2-2.3 1.5-1.8 .9-2 1.4-1.7 -1.7-1.1 -1.2-1.6 -.6-1.8 -.4-1.9 -1.7-1.2 -1.5-1.4 -.9-1.9 .5-2.1 M130.9 484.3l1.4-2.8 1.5-2.8 1.3-1.2 1.4-1.2 .4-1.8 -.6-1.7 M136.3 472.8l2.3-2.4 3.2-.3 2.8 1.4 2.5 1.8 M273.4 699.4l2.2-1 2 1.4 2.3-.9 .3-2.4 -.4-2.2 0-2.1 1.3-1.9 2.3-.5 M273.4 699.4l-1.7-2 -2.5-.6 -2.5 0 -2.4 .9 M256.5 687.4l2.1 2.7 .7 3.3 1.8 .2 1.6 1 .6 1.7 1 1.4 M256.5 687.4l.1-2.1 .2-2.2 .9-1.9 1-1.9 M283.4 689.8l.8-2.2 -.9-2.2 -1.4-2.1 .9-2.3 -.1-2.3 -1.6-1.8 -1.5-1.6 -1.5-1.7 M258.7 679.3l2.5-.4 2.6 .2 2.3-1.3 2.6-.4 1.6-2.3 2.7-.5 2.6-.2 2.5-.8 M140.7 397.1l.5 1.8 .7 1.8 -.9 1.7 -.4 1.9 1.9 .7 .4 2.1 1.2 1.3 1.1 1.5 M119 393.5l2.1 2.1 2.8 .7 1.4 2.6 .6 2.8 .6 2.7 -.7 2.7 1.9 2.3 -.9 3 M145.2 409.9l-2.4-.2 -2.3-.2 -2.3 .1 -2.4 .1 -2.3 1.2 -2.5-.9 -1.4 2.4 -2.8 0 M110.9 420.3l1.8-.5 1.4-1.2 1.8-.1 1.7-.5 1.7 .7 1.9-.3 1.7-.2 1.8-.3 M110.9 420.3l-1.8-1.1 M126.8 412.4l-1.2 2.7 -.9 2.8 M153.6 457.7l-2.5-1.9 -3-.9 -3-1.1 -3.2 .3 M153.6 457.7l1.9-1 .4-2.1 -.8-1.7 -.5-1.8 1.4-.9 1.5-.8 1.2-1.3 .7-1.6 M159.4 446.5l-.4-1.8 0-1.9 -1.4-1.2 -1.5-1.1 M156.1 440.5l-2-.1 -.8-1.8 -1.9 0 -1.2-1.5 -2 .3 -1.1 1.8 -2.1 .1 -1.5-1.3 M141.9 454.1l-.5-2.9 .4-3 -1.8-2.3 -1.5-2.6 M143.5 438l0 2.1 -1.7 1.3 -2 .4 -1.3 1.5 M136.3 472.8l-1.5-2.9 -3.1-.7 -.6-2.9 .2-2.9 M154 458.5l-.4-.8 M131.3 463.4l-.2-2.2 0-2.2 1.7-1.3 1.2-1.9 2 0 2.1-.1 1.7-1.4 2.1-.2 M172.4 445.9l-.3 2.2 -1.7 1.4 0 2.1 1.3 1.7 1.6 1.2 1.6 1.2 -.4 2.1 1.1 1.9 M172.4 445.9l-1.8 .8 -1.5 1.1 -1.6-1 -1.6-1 -3.4-.3 -3.1 1 M175.6 459.7l-1.6 2.4 -2.8 .6 -2.6 1.6 -.2 2.9 M142.8 426.4l-1.9 .1 -1.7-.7 -1.5 1.5 -2-.6 -1.9-.1 -1.8 .6 -1.5-1.3 -1.9-.1 M142.8 426.4l0 3.3 2.5 2.3 -.3 3.2 -1.5 2.8 M128.6 425.8l-.9 2 .7 2.2 -1.1 1.9 -1.9 1.2 -1.6 1.6 -1.9 1.4 1.4 2 -.5 2.5 M122.8 440.6l1.4 1.9 1.4 1.8 2.3 .7 2 1.2 2.6 .4 1.6-2.1 2.3-.3 2.1-.9 M145.2 409.9l1.8 1.3 M142.8 426.4l1-2.8 2.6-1.4 M128.6 425.8l-.2-2.3 -1.3-1.9 -.1-2.6 -2.3-1.1 M147 411.2l-2 2.4 -1 2.9 .2 1.8 -.4 1.7 1 1.4 1.6 .8 M156.1 440.5l.3-1.9 -1.3-1.4 -.1-1.8 .4-1.7 .5-1.8 1.1-1.4 1.5-1.2 1.9-.3 M146.4 422.2l.5 2.2 1.1 2.1 1 2.4 2.4 .8 2.1-1 2.3-.6 2.1 1.3 2.5-.4 M172.4 445.9l2-1.6 1.6-2 .6-2.7 2.2-1.7 M178.8 437.9l-2.1-.4 -1.9-1.2 -1.8-1.3 -.8-2.1 -1.8-1.5 -2.1-1 .1-2.4 -.3-2.3 M160.4 429l2-.5 2.1-.5 1.3-2 2.3-.3 M-30.7 669.6l1.7-1.6 1.6-1.7 2.1-1.2 2.5 .4 1.6-1.9 -.9-2.4 -.3-2.2 .1-2.3 .7-1.8 .4-1.9 1.1-1.8 -.1-2 -1.1-2.1 1.2-1.9 .1-2.1 -1.3-1.7 1.8-1.2 2-1.2 2.4-.6 1.4-1.9 2.3-.3 2.2 1.1 2.3 .2 2.2-.7 1.3-2.3 -1.5-2.2 -1.2-2.2 .5-2.3 -.3-2.6 1.8-1.9 1.7-1.6 1.5-1.7 1.7-2 -.6-2.5 1-2.2 -.6-2.3 -1.4-2 -1.7-1.6 -.4-2.3 -.4-2.3 .2-2.7 2.4-1.1 .6-2.3 2.1-1.3 2-1.1 2-1.2 2.2-.9 2.3 0 .5-2.3 .1-2.4 -.8-2.2 .1-2.5 -.3-2.9 2.3-1.9 2-2.2 2.9 .7 2.2-1.2 2.5-.1 2.3 .8 1.8 1.6 1.3-2.2 2.4-.6 2.1-1.2 2.4 .4 1.7-2.2 2.8-.5 2.4 .9 2.4 1 2.4-.5 1.7-1.9 2.6 1.2 2.2-1.7 2.3-1.4 2.7-.7 1.9-2 2.6-1 -2-2.4 .9-3 .3-2.8 .8-2.6 .1-2.8 2.5-1.3 2.6-.1 1.9-1.7 1.4-2 1.6-1.8 2.1-1.5 2.6 .2 2.7-.4 2.8-.3 1.8 2 1.4 2.4 2.2-1.5 2.5 .6 2.4 .7 2.4-.7 -1.8-2.6 -3.1-.3 -3-1.5 -.1-3.3 2.3-2.3 -1-3.1 .2-2.8 .4-2.7 -.9-2.4 -1.5-2 -1.4-2.1 -.4-2.5 -2.2-1.5 -.8-2.5 -2.3-1.2 -1.2-2.3 2.1-1.6 2.3-.9 1.7-1.9 2-1.5 2.4-1.5 .2-2.9 .8-2.4 1-2.3 2.2-1.7 2.6-1.1 2.1-1.8 2.8-.7 1-2.7 0-2.8 -1.7-2.7 1.6-2.8 M-384.1 764.2l2.4-1.7 1.9-2.2 1-2.7 2.2-2 1.6-2.3 1.6-2.4 0-3.1 2.2-2.2 2.2-1.9 2.8-.9 2.8-1.3 1.4-2.7 1.4-3 -.4-3.2 3.2-.9 1.9-2.6 .7-1.6 .6-1.7 1.7-.3 1.6-.7 1.8 1.1 1.9-.8 1.2-1.4 .7-1.7 3.3 0 3.2 1.1 3-1.2 2.7-1.9 .1-1.9 .2-1.8 .5-1.7 .3-1.8 -1.1-1.7 .4-1.9 -.6-1.8 -1.1-1.5 2-1 1.2-1.8 1.9 1 2.2 .1 1.2-1.5 .8-1.7 1.2-1.4 1.3-1.4 1.8 .3 1.7 .5 .4-2 1.9-.7 1.2-1.7 -.8-1.8 1.2-1.3 1.8-.3 1.7-.9 1.1-1.5 .2-1.8 .2-1.8 1.9-.7 1.5 1.3 1.7-.5 1.7-.1 1.4 1.2 1 1.4 1.7-.7 1.9 .5 3.1-.7 3.1-.8 -.6-2 1-1.8 1.7-.9 1.9-.5 3.1-1.1 3.3 0 3.2-.1 3-.8 3.4-.3 2.8 1.7 2.8 1.2 2.8 1.4 2.5 1.8 2.7 1.5 2.2-2.3 2.1-2.4 2.5-2.1 3.1-1.1 3.1-.8 3.1-.4 3.2 .8 3.2-.2 1.3 1.8 .9 1.9 2 1.1 2.2-.6 1.6-1.3 2-.2 2.1-.8 1.8 1.2 1-2.1 2.1-.9 1.7-1.2 2.1-.5 2.3-1.5 2.5 1.3 .5 2.6 2.1 1.5 2 .3 2-.9 2.2 .9 1.8-1.5 1.8-1.1 1-1.9 1.7-1.1 2.1-.6 -.7-2.7 1.6-2.3 -2.3-1.4 -1-2.4 .3-2.7 2-1.6 2-1.5 2.4-.5 2.2 .3 1.1 1.7 2-.4 1.6-1.1 1.8 .4 1.3 1.4 1.7-.6 1.8 .6 1.5 1.2 1.8 .2 1.9-.3 1.7 .5 1.3 1.5 1.8 .5 1.8 1.1 .1 2.1 1.1 1.9 -.5 2.2 -1.5 1.6 -.5 2.1 .6 2 .2 2 1.5 1.7 -.8 2.2 2.3-.9 2.1-1.2 1.9 1.9 2.6 .1 1.3 1.8 1 2 1.5 1.6 1.2 1.9 3 1.5 3 1.3 2.1 2.6 1.9 2.7 1.9 .1 1.8 .4 2-.3 1.7-.8 1.7 1 1.2 1.5 1.2 1.7 0 2.1 0 3.2 .7 3.2 .3 1.8 1.4 1.3 -.6 1.7 -.7 1.6 1.5 1.2 .6 1.6 1.5 1 1.3 1.1 -1.2 1.6 .2 2 1.1 1.5 .6 1.7 2.1 .4 2.1 .2 1.7 1.2 1.9 .9 2.1-.4 1.7-1.4 .3-2.3 2.1-1.2 1.2 1.4 1.2 1.3 1.3 1.3 .6 1.7 1.6 1 1.1 1.4 1.4 1.2 .5 1.9 1.8 .2 1.8-.1 1.7-.7 1.2-1.3 1.5 .7 1.6 .7 1.9 .3 .9 1.7 3.2 0 3.2-.6 2.6-1.8 2.9-1.5 1-2.6 1.4-2.4 1.5-3 3.2 0 .9-2.7 2.2-1.9 -.7-2.9 1.8-2.4 .6-2.6 .5-2.7 .1-2.8 2.1-2 1.4-2.4 .3-2.8 -1.1-2.6 1-2.8 .1-2.7 -.4-2.8 -2.1-2 -.6-2.8 -1.4-2.8 -1.6-2.6 .7-3.2 2.3-2.2 -.3-1.8 -1.3-1.2 -1.4-1.1 -1.2-1.2 .4-1.7 .5-1.6 .9-1.5 .9-1.4 .2-3.1 2.3-2.2 2.2-2 2.4-1.8 3 .7 2.9-.9 2.9-1.2 3.1 .7 3.1-.2 3.1-.5 3.2 .4 2.4 2.1 1.8-.7 1.4-1.3 2.2-.5 1.4 1.7 1.4-1.2 .5-1.7 .7-1.6 1.5-1 1.9-.4 1-1.6 1.2-1.2 .8-1.6 .1-1.9 1.1-1.6 -.1-1.9 -1.3-1.5 1.7 .5 1.7 0 1.7 .2 1.8-.1 .1-1.9 1.6-1 .8-1.6 1.2-1.2 2.9-1.5 1.3-3 1.8-.3 1.6 1.1 .8-1.7 1.5-1 -1.7-2.9 -1-3.2 .8-3.3 2.1-2.6 .4-3.1 2.2-2.3 .6-3 1.3-2.7 .3-3.3 -.2-3.3 1.9-.4 1.8-.7 .1-2 .6-1.8 3 1.5 3.4-.4 1.7-.7 1.7 .6 1.5-.9 1-1.5 2.4-1.3 1.5-2.4 1-2.5 1.7-2.1 -.6-3.1 1.8-2.5 3-.7 1.9-2.3 2 .3 1.8-.9 .4-2 1.5-1.3 -.8-1.7 -.3-1.8 .1-2 1.3-1.4 -1.6-2.6 -1.4-2.8 -1.6-.7 -1.6-.7 -.5-1.7 0-1.8 -1.9-2.3 -.1-2.9 2.1-2.5 -1.2-3.1 .7-2.7 2-2 1.3-2.6 -.3-2.8 2.5-1.8 1.5-2.7 1.5-1 .8-1.6 1.5 1.1 1.9-.3 2.8-.9 2.2-2 2.9-.3 2.7-1.4 1.6-2.6 -.2-3.2 1.1-2.8 1-2.8 1.3-1.4 1.2-1.6 -.5-1.9 -1-1.8 -.3-1.8 -1.1-1.4 -1.4-1.1 -1.8-.5 2.3-2.4 1.8-2.9 -.8-1.5 -1.4-1.1 -.4-1.7 0-1.8 1.7-2.7 2.5-2.2 1.4 1.4 1.6 1 1.7-1 1.8-.6 2.2-1.8 .5-2.8 1.1-2.4 .2-2.7 1.3-2.8 3.1-.2 2.5-.9 2.6-.7 M101.3 479.8l-.9-2.3 -1.7-1.7 -1-2.3 -2-1.5 -2.6-.2 -2.7 .5 -1.6-2.1 -1.8-1.9 M82.4 448.9l1.7 1.6 -.3 2.2 0 2.1 .4 2 1.5 1.4 .5 2.1 1.8 1.1 .8 2 M87 468.3l1.2-2.4 .6-2.5 M307.8 724.4l-1.1 1.2 M306.7 725.6l-3 .9 -2.9 1.1 -3-1.3 -1.5-3 M305.8 706.5l-1.8-2.3 -2.9 .3 M301.1 704.5l-1.8 .6 -1.2 1.5 -1 1.7 -1.7 .9 M295.4 709.2l.8 2.4 -.5 2.4 -2.6 .3 -1.4 2.2 .8 2.2 2.2 .8 -.2 2.4 1.8 1.4 M273.4 699.4l.9 2 1.3 1.7 -1.4 1.7 -.2 2.2 2.1 1.2 -.1 2.3 2.2 .2 1.6 1.4 M297.5 691.6l-1.8 1.3 -1.4 1.7 -2.2 .5 -2.2-.8 -1.9-.6 -1.3-1.7 -1.1-2 -2.2-.2 M297.5 691.6l.6 3.3 .7 3.3 1.1 1.5 1.4 1.2 -.7 1.8 .5 1.8 M279.8 712.1l.2 0 M295.4 709.2l-2.2 .4 -1.9-1.1 -1.3 1.8 -2.2 .6 -1.7 1.3 -2 .6 -2.2 .6 -1.9-1.3 M85.7 805l2.4-1.6 1.5-2.4 2.1-2 2.9-.4 1.5-2.4 2.1-1.9 1.7-2.3 2.9-.7 2-2.2 2.9-.5 3 1.4 2.6-2 2.6-1.5 3 0 3.2-.9 2.3 2.5 2.9 1.4 2.7 1.7 2.6-1.9 2.7-1.6 2.5-1.4 2.7-.7 1.9-2 2.2-1.7 1.8-2.5 3.1 .2 2.8-.7 1.6-2.5 2.7 .2 2.7-.3 2.3-1.8 2.9 .5 3-1.5 .3-3.3 2.1-2.1 2.7-1.1 .1-3 2-2.3 1.1-2.7 1.8-2.1 3 .3 2.5-1.5 2.7-.9 2.6-1.1 2.9-.4 2.3-1.7 2.9 .1 2.7-.7 2.6-1.8 .5-3.1 2.9-1.6 .2-3.3 2.4-2.1 2.9-1.3 3.3-.2 2.9 1.7 2.5-.8 2.3-1.4 2.4-1.2 2.6-.6 2.7-.6 1.9-2.1 2-2 2.8-.2 M222.4 713.1l2 .2 1.7 1.1 2 .3 1.8 1 1.7 1.3 .4 2.1 1.4 1.4 1.7 1.1 M236.1 730.4l.4-2.2 .3-2.3 -.8-2.2 -.9-2.1 M244.2 739.3l.5-3.1 -1.1-3 M236.1 730.4l1.9 .7 1.7 1 2.1-.1 1.8 1.2 M243.6 733.2l1.5-2.2 .7-2.5 2.7-.6 1.7-2.1 M235.1 721.6l2.2-1.2 2.3-1 2.6-.2 2.5-.2 M250.2 725.8l-1.9-1.2 -1.2-1.9 -.4-2.4 -2-1.3 M234.6 700.3l1.1 2.3 -1.5 2 1.5 1.6 1.4 1.7 1.7 1.2 2.1-.1 2.1 .2 2 .1 M244.7 719l.9-2.7 -2-2.2 1.4-2.2 0-2.6 M239.3 691.9l1.8-1.8 2.5 .2 2.6 .3 1.4-2.1 2.3-.5 2.1-.7 2.3 .3 2.2-.2 M264.3 697.7l-1.3 3 -.5 3.2 -1.6 .9 -1.8 .2 -.3 1.8 -1.2 1.4 M257.6 708.2l-1.6-.5 -1.5-.9 -1.7-.1 -1.7-.3 -1.9-.6 -1.9 .6 -1.4 1.3 -.9 1.6 M200.6 392.4l0-2.9 1.9-2.1 M200.6 392.4l2 1.2 1.1 2.1 1.5 1.7 1.1 2.1 -.7 2.6 .2 2.7 2 1.8 2.4 1.2 M210.2 407.8l2.6 .9 2.8 .7 2.6-.9 2.8-.6 M207.8 384.2l2.1 2.4 3.1-.8 2.6 .7 2.2 1.7 2.4 1.4 2.4 1.3 2.7 .5 2.5 1 M227.8 392.4l-.2 2.8 0 2.8 -.6 2.7 -1 2.7 M221 407.9l1.3-1.6 2 .2 1.4-1.3 .3-1.8 M87.9 215.9l1.8 1.9 .3 2.6 -.1 2.6 .1 2.5 1.8 2 -.2 2.7 1 2.3 .2 2.4 1.2 2.4 1.3 2.3 1.2 2.4 0 2.8 2.2 1.4 2.4 1 2.8 .6 1.5 2.3 2.5 .2 2.4-.6 2.4 .9 2.5-.2 2.7-.8 2.1 1.9 2.1 1.2 2.5 .3 2.6-.5 2.4 1.3 2.4 .7 2.5-.4 1.9-2 2.8 .1 2-1.7 2.7 .3 M187.9 251.3l-.5-2.4 .6-2.4 -2.4-1 -.9-2.4 M221.4 364.1l2.1-2.5 M220 359.3l1.9 .8 1.6 1.5 M241.5 383.5l-1.4 1.5 -2 .8 -1.9 .9 -1.2 1.8 -1.5 1.5 -2.1 .3 -1.2 2.1 -2.4 0 M241.5 383.5l-2.5-2.2 -1.8-2.8 -2.4-2.3 -1.8-2.8 -1.3-3 -1.6-2.9 -.2-1.7 .2-1.8 -.9-1.5 -1.3-1.2 M223.5 361.6l2.2 .1 2.2-.4 M250 350.9l-.3-2.7 .3-2.7 1.4-2.4 -.1-2.8 -.1-2.7 -1.1-2.5 .3-2.8 -1.8-2.3 M250 350.9l-2.3 1.3 -2.6 .4 -2.5-.9 -2-1.8 -2.5 .6 -1.3 2.2 -1.7 1.8 -2.4 .7 M248.6 330l-1.9-.8 -.9-1.9 -1.6-1 -1.7-1 -2-.6 -1.8 1.1 -1.8 .8 -2-.2 M232.7 355.2l.2-1.8 1.1-1.4 -.5-1.9 .9-1.6 -1.2-1.3 -.8-1.6 -.2-1.8 -.4-1.7 -1.7-.9 -1.5-1.3 -1.6-1.1 -1-1.7 0-2.1 1.4-1.5 .1-1.9 .1-1.9 M234.9 326.4l-2.1 .1 -1.6 1.5 -1.5 1.3 -2.1 .4 M232.7 355.2l-1.1 1.9 -2.2 .5 -.6 1.9 -.9 1.8 M215.2 335.6l2.3-1.5 2.7-.7 1.3-2.4 1.6-2.2 M227.6 329.7l-2.3-.3 -2.2-.6 M77.4 202.9l1.8-2.1 2.7 .6 1.2-2.2 1.7-1.6 2.1-1.5 1.9-1.6 2.8-.9 2.2 2 2 1.1 2 1 2.3 .4 2 1.2 1.8-2.3 2.8 .5 2 1.6 2.6 .2 1.4-2.1 -.6-2.4 1.8-1.5 2-1.1 1.8-1.5 1-2 0-2.3 .3-2.2 .6-3 -2.3-1.9 -.2-2.7 1.4-2.3 2.3-.9 2.1-1.4 1.2-2.6 2.8-.3 1.6 2 1 2.3 2.3 .9 2.6 0 1-2.4 2.2-1.3 2.4-.8 2.5 .4 -.1-2.5 1-2.2 1.8-1.9 2.6-.1 2.2 .5 2.1 .7 2.6 .5 1.6-2.1 2.3-.1 2.1 .9 2 1.1 1.9 1.1 2.2-2 -.7-2.9 2.6-.1 2.4-.9 1.6-1.4 2.1-.2 2 .4 1.8 .9 1.9 .1 1.9 .5 2 .3 1.8-.9 M191.6 188.7l-1.9-.7 -.3-1.9 -.1-1.9 -1.3-1.3 .7-1.6 1-1.5 -.5-1.8 .4-1.7 1.2-3 .7-3.1 .8-3.1 .3-3.1 M186.2 159.9l2.2-1.2 2.1 1.5 .6 2.1 1.5 1.7 M546.6 529.5l-1-2 -1.2-2 -.9-2.3 -2.1-1.2 1.9-1.6 1.4-1.9 .7-2.3 .1-2.4 0-2.2 -.5-2.2 -1.9-1.2 -1.9-1.1 -2.3-.3 -2.3-.3 .2-2.6 -1.9-1.7 2-1.2 .6-2.3 1-2 0-2.2 2.4-.5 2.2-1.1 .4-2.3 .7-2.3 .7-2.2 -.9-2.1 -.5-2.3 -1.7-1.5 -1.7-1.4 -1.3-1.8 .3-2.3 -.8-2.1 M522.1 503.2l1.2-2.8 -1.3-2.8 1.8-2.7 -1.6-2.8 2.8-.9 2.3-1.6 2-2 1.7-2.3 -1.8-2.3 -2.1-2 -.7-3.1 1.6-2.7 -2-1.9 -2.6-.7 -3-.6 -1-3 M538.3 472.6l-2.3-2.4 -3.2-1.3 -.1-1.9 0-1.9 -2.1 0 -1.3-1.7 M529.3 463.4l-1.7 2.6 -2.1 2.3 -2.9 1.6 -3.2-.9 M482 498.9l1.4-1.6 2-1 2.3-.7 1-2.2 1.9-1.1 1.8-1.1 1.7-1.4 1.9-1 2.3-1.3 2.2 1.5 1.4 2 2.4 .5 2 1.7 2.5-.6 1 2.2 1.8 1.5 M482 498.9l-.2 .2 M682.2 315.2l-2 .6 -1.8-.9 -2-.5 -1.9 .4 M682.2 315.2l-1.7-1.1 .1-2.1 .5-1.8 1.5-1.1 .3-3.1 1.5-2.8 M675.1 295.3l-1.1 2 -.6 2.3 .8 2.1 .8 2.1 -1.5 1.5 -1.8 1.3 -1.8 1.5 -2.4-.3 M674.5 314.8l-2-2.3 -3 .3 -1.5-2.3 -.5-2.7 M659.3 276.6l0 2 .5 1.9 -1.4 1.7 .7 2.2 .3 2.1 1.5 1.6 -.3 2 -.7 2 -.7 1.9 -1.5 1.4 .2 2.1 .1 2 -.6 1.9 0 2 -.6 1.9 -1.2 1.6 M655.6 306.9l1.4 1.9 M667.5 307.8l-3-.1 -2.5-1.7 -2.7 1 -2.3 1.8 M393.7 495.5l-1.2-2.9 -2-2.3 -2.8-1.7 -1-3 M375.4 499.1l1.4 3 3.2 .7 -.1 1.9 1.4 1.3 1.8 0 1.7 .3 M375.4 499.1l-.6-2.1 .5-2.2 -1.8-1.3 -.6-2.2 .8-2.2 0-2.4 2.1-1.3 2.4-.2 M378.2 485.2l1.5 2.3 2.6 .4 2.9 .1 1.5-2.4 M407.8 485.4l-.9-2.5 -1.6-2 -2.2-1.4 -1.6-2.1 M401.5 477.4l-1.8-1.1 -2.1 .3 -1.9 1 -2-.6 M386.7 485.6l1.7-2.4 .7-2.8 2.5-1.4 2.1-2 M407.2 461.6l1.6 2.4 M408.8 464l-2 1.2 -2.2 .5 -.4 2.2 -.1 2.2 -1.6 1.4 -.2 2.1 -.8 1.8 0 2 M395.8 459.8l-1.1 2.4 -1.4 2.2 -1.9 1.7 -2.1 1.6 M393.7 477l-1.4-2.7 -3-.9 -.1-2.9 .1-2.8 M205.3 428l-1.7-1.2 -1.1-1.7 -1.1-1.7 -.5-2 M205.3 428l-1.6 2.1 -1.5 2.2 -1.6 2.2 -.3 2.7 M200.3 437.2l-2.4 0 -1.1 2.1 -1.6 1.4 -.7 2 -1.6-1.8 -2-1.2 -2.2 .6 -2 1.1 M200.9 421.4l-2.4-1.8 -3-.1 M179.2 437.9l2.5-1.3 1.6-2.2 2.4-1.4 2-1.8 2.4-2 -.7-3.1 .5-2.6 .7-2.6 M179.2 437.9l2.2 0 1.8 1.1 1.4 1.7 2.1 .7 M195.5 419.5l-2 2.1 -2.9-.7 M217 430.2l1.8-.8 1.9 .5 1.6-1.1 .5-1.8 M217 430.2l-3 .9 -3.2-.4 -2.8-1.3 -2.7-1.4 M222.8 427l-1.3-2.3 .7-2.5 -.7-2.3 -.2-2.4 .1-2.4 0-2.4 -.1-2.5 -.3-2.3 M210.2 407.8l-1.3 1.7 -.8 2.1 .9 2.3 -1.7 1.9 -2 .9 -1.4 1.7 -1.7 1.3 -1.3 1.7 M192.3 458l-.6-2.2 -.1-2.2 -.5-2.2 .1-2.3 -2.6-.6 -.7-2.6 -.8-2.2 -.4-2.3 M192.3 458l2.1 .3 2.1-.1 M205.7 451.9l-.7 3.2 -2.4 2.1 -3.2-.5 -2.9 1.5 M205.7 451.9l.5-2.2 -1.2-2 0-2.1 .7-2 -.8-2.1 -2-1.1 -2.2-.8 -.4-2.4 M200.6 392.4l-1.9-.1 -1.8-.8 -1.8 .6 -1.5 1.1 -1.1 1.9 -2 .6 -.7 2 .8 1.9 M190.6 399.6l-1 2.7 -1.2 2.5 1.3 2.7 0 2.9 1 2.5 1.1 2.6 1.1 2.6 2.6 1.4 M178.8 437.9l.4 0 M175.6 459.7l3.2-.1 3.1 .8 1.6 .5 1.4 1.1 1.7-.4 1.6-.7 M188.2 460.9l1.4-2.4 2.7-.5 M241.5 383.5l.5 .1 M250 350.9l1.7 2.1 1.9 1.8 2.5 1.2 2.7-.3 M258.8 355.7l-1.9 .4 -.6 1.9 -.5 1.6 .3 1.8 .2 3.2 -.8 3.1 -.3 3.1 .1 3.2 -1.9 2.7 .2 3.3 M253.6 380l-3.2 0 -3.3-.3 -1.9 2.8 -3.2 1.1 M394.5 546.6l-1.2 1.4 -.5 1.7 -1.3 1.4 -1.8 .4 -.1 1.9 1.1 1.6 -.2 2 -1.4 1.4 M394.5 546.6l-2.1-.2 -2.1 0 -1.8 1.3 -2.3 0 -.5-2.1 -1.4-1.8 -2.1-.8 -1.4-1.8 M380.8 541.2l-3.2 0 -1.8 2.7 M375.8 543.9l-.6 1.9 -.7 1.9 -1.3 1.5 -1.1 1.6 1.7 1.5 1.4 1.8 .3 2.5 -1.7 1.8 M389.1 558.4l-2 0 -1.3-1.6 -1.5 1 -1.9 .1 -3 1.4 -2.8 2 M376.6 561.3l-1.7-1.2 -1.1-1.7 M396.2 572l-2-1.1 -2.2-.6 -2.1-1 -1-2.2 -.4-2.2 .4-2.2 -.4-2.2 .6-2.1 M395.2 546.3l-.7 .3 M380.1 525.4l1.4 1.9 1.8 1.5 2.1 1.6 -.4 2.7 -1 2.1 -1.2 1.9 -.1 2.5 -1.9 1.6 M376 576l-1-2.4 1-2.3 2.7-.1 1.3-2.4 -.6-2 -.8-1.9 -.8-2 -1.2-1.6 M376 576l.2 1.7 .9 1.5 1.3 1.1 1.7 .7 M380.1 581l1.7 1.3 2.2-.2 .1 2.3 1.9 1.3 2 0 1.6-1.2 2-.4 1.4-1.3 M459.9 511.2l-2-.8 -2.2-.1 -1.9 1.1 -1.4 1.7 -1.5-1.2 -1.2-1.5 -1.2-1.6 -1.8-.8 M459.9 511.2l-.8 1.8 -1.1 1.6 -.1 2.3 2 1.2 -1.3 1.5 .5 1.9 -.5 1.8 -1.3 1.2 .3 2.2 -1.4 1.7 1.3 1.6 1.7 1.2 .2 1.9 .4 1.8 -.1 2.2 -2 .9 M455.8 536.8l.2-2.1 -1.7-1.1 -.1-1.9 -1.4-1.3 -1.2-1.3 -1.2-1.3 -1.9-.2 -1.5-1.1 -1-3.2 -.8-3.3 -1-1.4 -.4-1.7 -.6-1.7 -1.3-1.1 M441.9 514.1l1.1-1.6 1.5-1.3 .6-1.9 1.6-1.3 M463.3 509.1l-1 2.1 -2.4 0 M444.9 496.7l2.3-1.1 2.4-1.1 2.7-.1 2.2 1.5 2.9-.9 .9-2.8 2.5 1.3 2.8-.8 M444.9 496.7l2.6 2.1 -.4 3.3 -1.1 2.9 .7 3 M466.2 497.1l-.6-2.6 -2-1.8 M434.5 532.3l3.1-.9 3.3-.1 .7 1.7 -.2 1.9 1.6 .9 1.8 .6 2.7 .1 2.8-.1 2.8-.7 2.7 1.1 M432 516.3l2.6 1.1 2.9 .4 3-.9 1.4-2.8 M429.6 494.1l1.9 .5 1.6 1.3 1.5-1.2 1.7-1 1.3 1.5 1.8 .4 2 .3 1.6-1.1 M443 494.8l1.9 1.9 M482 498.9l-.7-1.9 -.5-2.1 -.1-2.1 -.5-2 -.8-2.3 1.6-1.8 -.4-2.3 1.6-1.7 M482.2 482.7l2.9 0 3-.1 2.9-1.3 1.5-2.8 1.7-.7 1.5-1 1.7 .8 1.4 1 2.4 2.3 1 3.1 M251.5 764.7l.6-1.8 1.6-1.1 1.8 .5 1.8-.6 M251.5 764.7l-.7 3 -.3 3 -.9 1.6 .2 1.9 1.5 1 1.3 1.2 M257.3 761.7l1.8 2.8 3.3 .8 M262.4 765.3l.1 2.7 1.3 2.4 -.7 2.6 -1 2.4 M262.1 775.4l-1.8 .5 -1.8 .2 -1.9 .1 -1.5 1.2 M252.6 776.4l2.5 1 M228.5 758.8l3.1 .1 3.1 .2 3.1 .2 3-.6 0 1.9 .9 1.7 1.3 1.5 2 0 1.8-.4 1.7-.5 2.1 0 .9 1.8 M254.7 750.4l1.4 2.1 1.8 1.6 M257.9 754.1l-.8 1.8 -.4 1.9 .6 1.9 0 2 M-177.2 905.4l-.6-2.7 -1.4-2.4 -1.6-2.2 -1.8-2.1 1.4-2.9 1.3-2.8 -2-2.5 -1.7-2.7 .9-2.8 2.1-2.2 1.2-2.8 -.9-3 1.7-.8 1.6-1 1.2 1.8 2.1-.2 1.6-2.9 1.3-3 -.1-2.5 -.8-2.2 -.1-2.4 -.4-2.4 .4-2.5 -.5-2.4 -.3-2.5 1.5-2.2 1.3-2.2 1.6-2 1.4-2.2 1.7-1.9 -.6-2.6 .6-2.6 -1.5-2.3 0-2.7 1-2.8 -1-2.7 1.7-2.2 1.9-2 2.6-1 1.4-2.4 2-1.7 1.2-2.4 2.5-.8 2-1.9 1.7-1.9 1.3-2.3 .9-2.7 2.6-.9 2.3-1.5 .8-2.6 1-2.6 -.1-2.8 1.3-2.5 -.3-2.8 1.5-2.3 1.1-2.5 .6-2.7 1.3-2.5 -1-2.5 -1.1-2.6 -2.1-1.7 -1.1-2.6 -.6-2.7 -.8-2.6 -1.5-2.3 -.8-2.6 .5 1.7 .2 1.7 .2 1.8 .2 1.8 1.8 .6 1.9-.1 1.5 1.2 1.1 1.5 1.7 .9 1.6 .9 1.1-1.8 2.1-.3 1.2 1.4 1.2 1.3 1.7-.5 1.8 .3 1.6-.7 1.7-.7 1.6-.9 .6-1.8 .7-1.7 1.3-1.2 2 0 1.1-1.6 1.3 1.7 .4 2 2 0 2.1 .3 1.7-.4 1.7 .7 1.8 .1 1.6 .9 1.6 1.3 1.6 1.2 2 0 1.9-.7 -.1-2.3 2-1.1 2.1-.1 1.3-1.7 -.6-1.7 .7-1.7 .3-1.8 -1-1.5 1.9-.4 1.3-1.6 -.3-1.9 .5-1.9 1.2-2.7 1.7-2.4 -1-3.1 2-2.6 2.9-.9 2.8-1.1 1.4-2.7 2.1-2.2 .9-2.6 2.4-1.5 2.2-1.5 2.3-1.4 2.3 2 2.9-1.1 2.8 1.1 2.4-1.9 1.1-2.4 1.6-2 1.2-2.4 1.6-2 2.4-1.1 2.7-.2 2.3-1.1 2.4-.9 .1-2.2 1.8-1.2 -.3-2 -1.3-1.6 1.2-1.7 1.9-.2 .9-1.6 1-1.5 2.3 .6 2-1.1 1.5 1.7 1 1.9 .7-1.9 1.6-1.4 1.8-1.2 2.2 .4 -.8 1.8 .2 1.9 1.6 1.4 -.2 2.1 1.5 1.1 1.7 .8 1.7 .8 1.9-.1 1.5 1 1.3 1.2 1.9 .1 1.5-1.1 3.2-.4 3.1-.6 1.4 1.3 1.9-.1 0 1.8 .5 1.7 3.2-.9 2.9 1.5 2.9 .5 2.9 .3 3 .8 1.6 2.7 3.2-.6 2.7-1.8 2.7 1.7 3.1 .8 3-.8 1.9-2.5 1.6-2.9 3.4 0 2-1.9 2.3-1.6 2.7-1 1.8-2.3 2.6-1.8 1.5-2.8 -1-2.9 -.1-3.1 .5-1.9 1.2-1.4 1.4-1.2 1.5-1.1 1.6 1.3 1.9-.5 1.7 .7 1.8 0 1.1-3.2 -1.4-3.1 .5-3.1 1.7-2.8 2.9-.3 2.5 1.6 3 1.1 2.5-1.9 2.7 .7 2.8-.2 2.7-.2 2.7-.4 1.6-2.9 3.2-1.1 2.9 1.4 3.1 .3 3.1 .3 2.7-1.3 -.7-1.9 1.3-1.5 1.7-.4 1.6-.7 2.4 1.7 2.2 2 2.9 1 3 .1 1 2.8 .9 2.7 1.3 2.6 1.5 2.5 2.1 1.8 1.6 2.3 2.1 1.8 1.7 2.1 1.5 2.4 1.2 2.6 -1.2 3 2.2 2.4 2.2 1 1.7 1.8 1.6 2.1 2.6 .1 2 1.4 2.3 .8 2.2 1.5 2.5-.7 1.7-2 2.7-.5 2.3-.9 2.6 .1 2.4 .7 2.4 .5 2.5 .3 2.2 1.1 3 1.3 .7 3.2 2.8 .8 2.9-.2 -1.6 2.5 1 2.8 1.3 2.6 -.7 2.8 .6 2.6 1.6 2.1 -.6 2.6 .8 2.6 2.9 0 1.8 2.2 2.8-.1 1.9 2.1 2-1.8 2.5-.8 2.6-.6 2-1.9 2.4 1.1 2.7 .2 2.8-1.3 2.3 1.9 2.2 1.8 2.8 0 1.7 2.2 2.7 .7 2.8 1.1 2.7-.9 2-2 2.7-1 2.9-.1 2.9 .4 1.6 .8 1.8-.4 1.4 1.4 -.2 1.9 1.4 2.4 .1 2.9 .1 2.8 .8 2.7 3 0 2.6 1.6 1.4 2.6 1.3 2.6 -1.2 2.7 1 2.7 1.4 2.5 -.6 2.8 M256.8 790l.5-1.6 -.4-1.8 -1.1-1.2 -.8-1.5 -.2-3.3 .3-3.2 M265.1 789.2l2-2.6 -1.2-3 .7-2.8 .4-2.8 M267 778l-2.4-1.4 -2.5-1.2 M205.7 451.9l1.9 .7 1.8-.7 1.8 .7 1.3 1.4 1.7-.8 1.8 0 1.8-.1 1.8 .3 M217 430.2l1.9 2.6 1.1 3 -1.9 2.7 -.2 3.4 1.3 2.7 -.2 3 -.8 3 1.5 2.8 M219.6 453.4l.1 0 M222.8 427l1.7 .2 1.8-.4 1.7 .6 1.7 .3 M226 403.4l2.9 .5 2.8-.8 1.2 2.8 2.5 1.7 .6 3 2.8 .9 2.4 1.3 1.2 2.5 M229.7 427.7l1.3-2.1 .8-2.3 .8-2.2 .9-2.3 2.5-.1 2.4-.5 1.7-1.9 2.3-1 M242 383.6l-.7 1.8 .4 1.9 -.7 2 1.2 1.8 1.6 1.4 2.1 .3 -.1 2.2 1.5 1.6 -.4 1.9 .3 1.8 0 2.1 1.7 1.1 -.9 1.8 .8 1.8 0 2 1.4 1.4 M250.2 410.5l-.8 2.4 -2 1.7 M247.4 414.6l-2.6-.2 -2.4 .9 M221.6 453.8l-1.9-.4 M221.6 453.8l2.7-1.1 2.5-1.6 2.8-1.9 3 1.6 M229.7 427.7l1.7 1.1 1.4 1.4 2 .3 2 .4 .2 2.1 -.5 1.9 -.4 2.3 1.9 1.4 M232.6 450.8l1.7-2.9 2.1-2.7 -.4-1.8 .4-1.7 .7-1.6 .9-1.5 M271.2 429.2l.2 .5 M271.2 429.2l-1.6-2 -2.2-1.3 -2.4-1.5 -2.7 .9 -2.6-.6 -2.2-1.3 -1.9 2.4 -3-.5 M271.4 429.7l0 2.5 -2.1 1.4 -1 2.1 .2 2.3 M268.5 438l-2 .5 -2 0 -1.7 1.2 -1.3 1.6 -1.8 .9 -2.1-.2 -1.3 1.5 -1.9 .9 M252.6 425.3l-1.4 1.5 -2 .3 0 1.9 0 1.9 -1.2 3 -.3 3.3 M254.4 444.4l-1.4-2.1 -1-2.3 -2.3-1.2 -2-1.6 M252.6 425.3l-.9-1.5 -.5-1.7 -1.8-.2 -1.5-1 -.7-3.1 .2-3.2 M247.7 437.2l-2.5-.2 -2.4 .8 -2.5 0 -2.3 .8 M168.8 474.5l2 2.2 2.1 1.9 M148.3 504.9l2.2-2.6 2.6-2.1 1.5-1 1-1.6 .3-1.8 -.2-1.8 1.8-.6 1.5 1.1 1.4-1.3 1.9 .3 3.2 .8 3.2 1.1 M168.7 495.4l1.1-1.9 1.2-1.9 .6-2.1 0-2.3 1.9-1.6 1.3-2.3 -1.5-2.1 -.4-2.6 M188.2 460.9l1.7 2.3 -1.3 2.7 -1.1 2.5 1.1 2.5 .4 2.7 1.1 2.5 -1.1 2.5 -1.5 2.3 M172.9 478.6l1.1 1.9 2 .6 1.8 1.2 2.1-.3 2.1 .5 1.6-1.5 2-.8 1.9 .7 M196.5 458.2l1.6 2.6 2.4 1.9 2.9 1.2 2.1 2.3 1.4 2.8 -.5 3.1 1.2 2.8 .3 3.1 M207.9 478l-1.8-2.8 -3.3-.5 -3.2 .4 -2.1 2.4 -2.8-.1 -2.9-.3 -2.7 1.3 -1.2 2.8 M187.9 481.2l-.4-.3 M-25.3 666.4l1.9-1.7 2.4 .8 2.2 .2 2.2 .2 1.4 1.8 .7 2.1 1.1 2.1 2.1 .9 1.8-1.3 2.1 .4 1.9 .8 1.9 .5 2-.1 1.9 .8 1.9-.1 1.9-.3 1.8-.6 1.9-.6 1.4-1.7 2.2 .4 1.7 1.4 2.2-.2 1.8-.9 1.9-.8 2.1 1.1 2.4-.2 2.2 1.2 1.1 2.1 2.2-.6 2.1-.9 1.7-1.6 1.3-1.9 1.4 1.8 1.7 1.4 1.9 1.3 2.3 .1 2.3 .1 1.7 1.5 1.8 1.3 1.7 1.2 2.1-1.1 1-2.2 2-1 1.8-1.3 1.7-1.9 2.1-1.5 2 2.2 2.9-.4 1 2.1 .8 2.2 1.3 2.1 2.4 .6 .4 2.4 0 2.4 1.9 1.4 1.9 1.6 1.7-1.9 1.6-2.1 2.6 .1 2.6-.2 1.9 2 2.6-.7 2.7-.7 1.9 1.9 1.8-2.3 2.1-2.2 -2.2-2.3 .1-3.2 2.9-1.2 .4-3 2.3-1.3 2.6-.6 1.5-2.3 .8-2.6 2.8-.2 2.2-1.8 2.1-1.8 2.8 0 2.4 1.5 2.7-.7 2.5 1.1 2.6 .3 1.2 2.4 2.2 1.6 1.9 2.3 3 .4 .5 2.8 .4 2.7 2.5-1.5 2.8-1 2.8 1.1 1.9 2.4 2.3-1.5 2.2-1.8 2.4 1.4 2.9 .1 -2.3-1.6 -1.2-2.4 -.5-2.6 -.5-2.6 1.6-2.3 .4-2.6 2.4-1.3 1.3-2.4 1.8-.1 1.7-.1 1.6 1.1 .3 1.9 2.7-1.4 2.3-1.9 0-2.8 .7-2.6 3-1 .7-3 1.5-1.5 2-.8 2.1-.7 1-1.9 1.2-2.2 2.1-1.3 2.2 1.3 2.4 0 .9-2.4 2.4-.3 1.6-1.9 2.4 .6 1-2.4 -.7-2.5 1.9-1.6 2.4-.5 M145.4 680l2.1-.8 1.6-1.5 1.6-1.8 2.4 .1 .5-2.2 1.8-1.5 1.7-1.5 1.9-.9 1.9-1.3 1.1-1.9 1.7-1.3 2-1 .7-2.1 .3-2.3 1.8-1.4 1.7-1.5 2.2-.1 1.8-1.1 1.8-1.3 2.1-.5 2-.6 2.2-.2 2.3 .4 1.7-1.5 2.4 1.4 2.4 1 2.8 0 2.3-1.7 3.1-.1 1.3-2.9 -.1-2.7 .9-2.6 M195.6 627.4l2.4 1.7 1.3 2.5 2 1.9 1.7 2.2 M201.4 644.6l.7-2.2 -.3-2.3 -.3-2.5 1.5-1.9 M211.3 668.9l.6-2.2 1-2.2 .3-2.6 2.5-1.1 M201.4 644.6l.5 1.9 1.6 1.3 1.7 .8 1.6 1 1.7-1.7 2.3 .7 .7 2.3 2.3 .7 M215.7 660.8l-.3-2.4 -1.6-2 1.4-2.4 -1.4-2.4 M233.9 675.5l-.1-3.1 1.3-2.8 2.2-2.1 2.2-2.1 M258.7 679.3l.9-2.3 .5-2.4 -1.5-2.1 .2-2.6 -1.7-1.7 -1.6-1.6 -2.2-1.1 -2.1-1.1 M251.2 664.4l-3 .1 -2.9-.6 -3.1 .2 -2.7 1.3 M215.7 660.8l2.8-.3 1.1-2.6 2.6-.2 2.2 1.3 2.4-.3 2 1.6 2.3-.4 2.2-.7 M239.5 665.4l-1.7-1.7 -2.2-.6 -1-2.1 -1.3-1.8 M297.5 691.6l1.7-2.3 1.2-2.5 3.2-1.1 .5-3.2 M278.1 673.6l1.6-1.9 .6-2.3 M280.3 669.4l2.7-1.2 3-.2 2.7-1.1 2.7-.9 M291.4 666l3.2 .7 3.3-.6 .6 1.8 .4 1.7 1.8 .4 1.7 .7 1.9 2.5 .6 3.2 .3 3.1 -1.1 3 M319.4 679.3l-.7-.5 M318.7 678.8l-1.9 1.2 -2-1.2 -1.6 1 -1.7 .9 -1.8 .7 -2 0 -2.1-.5 -1.5 1.6 M280.3 669.4l.7-1.7 -.1-1.7 -.2-1.7 -.1-1.8 -.8-1.5 -.9-1.5 -1.2-1.3 -1.6-.7 -2.9-1.4 -2.7-1.8 -1.6-2.9 -2.5-2.1 M251.2 664.4l2.3-.5 2.3-.5 2.1-1.2 1.4-1.9 -.7-2.3 .1-2.3 .9-2.2 -.1-2.3 M266.4 649.3l-2 1 -.9 2 -2.2 .1 -1.8-1.2 M130.9 484.3l-2.7 .5 -2.8 .2 -1.6-2.4 -2.7-.9 -2.6-.4 -2.4-1 -1.1-2.8 -2.9-.4 M131.3 463.4l-3.3-.4 -3-1.4 M125 461.6l-2.4 1.4 -2.6 .6 -1.3 2.6 -2.5 1.3 -1.6 2.1 -1.5 2.2 .1 2.8 -1.1 2.5 M101.3 479.8l2.4-.3 1.5-1.9 2.2 .1 2.2-.8 M88.8 463.4l2 .6 2-.3 2 0 2 .5 1.9-1.1 2.2-.2 1.7-1.4 .6-2.2 M109.6 476.9l-2-1.6 -2-1.5 -.3-2.7 -1.9-1.9 -1.4-2.3 -.4-2.6 .2-2.7 1.4-2.3 M119.1 535.7l-1.3-1.8 .9-2 -.3-2.1 1.5-1.5 .3-1.9 -.7-1.8 -.5-1.8 -.2-1.9 .2-2.6 -2.3-1.3 .7-2.3 1.8-1.5 -.9-2 .4-2.1 -2.4-.3 -.9-2.3 -1.9-1 -.9-1.9 -.8-1.9 .2-2.1 .1-2.1 1.2-1.6 .4-2 -.6-1.9 -.7-1.8 0-1.9 .8-1.9 -1.3-1.7 -.9-1.8 -.9-1.8 1.4-1.6 -.3-2.1 M109.6 476.9l1.6 .5 M111.2 477.4l.9-.3 M293.9 725.3l-2.6 .2 -1.4-2.1 -2.3 1 -2.1-1.4 M293.9 725.3l-2 2.5 -1.2 2.9 .6 3.2 1.6 2.8 M292.9 736.7l-2.8 0 M290.1 736.7l-2.4-.9 -2.2-1.3 -2.5-1.3 -.9-2.5 M282.1 730.7l1.7-1.5 .9-2 1-2 -.2-2.2 M280 712.1l.5 3.1 1.1 2.9 2.4 2.1 1.5 2.8 M296.3 723.3l-2.4 2 M275.5 739.4l2 .5 2.1 .2 .6 2 .7 1.9 M275.5 739.4l1.5-1.7 1.2-1.9 .1-2.4 .9-2.1 M279.2 731.3l2.9-.6 M280.9 744l1.4-2.8 2.4-1.9 2.6-1.6 2.8-1 M251.6 725.8l1.2-2.8 2.7-1.5 2.3-1.9 2.7-1.4 M251.6 725.8l-.6 2.2 1.3 1.8 .6 2.3 2.3 .7 1.4 1.4 1.3 1.4 1.7 1.1 2 .5 M263.7 737.1l.6-2 .3-2 2-.6 1.5-1.4 .1-1.9 .2-1.9 1-1.6 .6-1.8 M263.7 737.1l-2.1 .1 M260.5 718.2l1.7 2.1 2.1 1.8 2.7-.8 2.8 .4 M269.8 721.7l.2 2.2 M250.2 725.8l1.4 0 M257.6 708.2l1.8 2.1 .4 2.7 1.5 2.5 -.8 2.7 M254.7 743.3l2.7-.2 2.6-.8 .7-2.6 .9-2.5 M267.6 740.1l2-.5 2 .5 2.1 .5 1.8-1.2 M267.6 740.1l-2.4-.9 -1.5-2.1 M279.2 731.3l-2-2.2 -2.5-1.7 -2.3-1.8 -2.4-1.7 M267.6 740.1l-.5 2.9 .9 2.9 .5 2.9 .1 3 M257.9 754.1l2.3-2.1 3 .9 2.6-.9 2.8-.2 M279.8 712.1l-1.5 1.1 -.6 1.7 -1.4 1.2 -1.7 .6 -.3 1.9 -1.8 .9 -1.3 1.2 -1.4 1 M180.6 399.9l.2 2.2 1.2 1.8 -1.3 1.9 .7 2.3 -1 2 -1.9 1 -.5 2.1 -.5 2.1 M161.5 402.4l-.7 2.7 -1.7 2.3 M159.1 407.4l1.5 1.4 .6 2 1.2 1.6 1.6 1.3 .9 1.8 1.5 1.4 1.4 1.4 1.4 1.4 M169.2 419.7l2.2-1.3 1.3-2.2 2.5-.3 2.3-.6 M190.6 399.6l-2.3-.9 -2.4 .4 -2.4-.2 -2.3 .5 M190.6 420.9l-1.7-.7 -1.7-.6 -1.2-1.3 -1.6-1 -1.9 .9 -1.9-.8 -1.4-1.1 -1.7-1 M147 411.2l2.8-1.8 2.6-2 3.3-.3 3.4 .3 M168.1 425.7l-.2-3.1 1.3-2.9 M203.4 270.1l.1 0 M203.5 269.8l0 .3 M184.7 243.1l1.8-1.5 2.2 .3 1.4 1.9 2.2 .4 1.9-.7 2-.1 1.1-1.8 2.1-.3 M203.3 255l2.5-1 1.7-2.1 M199.4 241.3l2.1 2.6 1.5 3 .2 1.9 .8 1.7 1.7 .8 1.8 .6 M223.1 328.8l-2.5-2.1 -1.3-2.9 M115.1 -408.9l1.1 2.8 3 .3 2.2 1.5 2.7 .3 2.3 1.4 2.2 1.7 2.7-.6 2.7-.2 .6 2.6 1.4 2.2 .1 2.6 -.3 2.6 1.5 2.5 -1.4 2.5 .4 2.6 .8 2.4 .5 2.9 -1.2 2.7 2.9 1 1.2 2.8 -.1 2.6 .4 2.5 1 2.3 .8 2.4 -2.3 1.3 -2.7 .5 -.6 2.9 -2.8 1.2 -.5 2.8 -2.5 1.4 -2.4 1.8 .5 3 2.4 0 1.1 2.2 1.8 1.1 1.4 1.6 1.6 1.3 1.6 1.3 2.2 .7 1 2 1.7 1.7 1.4 1.8 -.4 2.3 0 2.4 1.3 1.6 1.6 1.4 1.7 1.3 1.3 1.8 -.4 2 -.3 2.1 -.3 2.1 0 2.1 -1.1 2.3 .1 2.5 1.3 2.2 2.4 1 .3 2.5 -1.6 2.1 -1 2.1 -.6 2.4 2.7 .7 2.7 .7 -1 3.1 2.2 2.4 1.3 2.2 1.6 2 .6 2.9 -2.3 1.9 2.5 1.3 .8 2.7 .7 3 -2.3 2 -2.5 1.7 .1 3.1 -.2 2.7 -1.3 2.4 -.6 3.2 1.6 2.9 2.7 1.5 3.1 .5 0 2.8 -1.3 2.5 .5 2.8 1.8 2.1 1.9 1.9 1.1 2.4 1.6 2.2 2.5 .9 -.5 2.9 -2.7 1.2 -1.3 2.3 -1.6 2 .3 2.8 1.5 2.3 -1.8 2.4 1.1 2.9 -3 .5 -1.6 2.6 -2.8 .2 -2.6 1.3 -2.8 .4 -2.8-.7 -2.9 .4 -2.3 1.7 .1 3 .3 2.9 -2.9 1.4 -1.1 3.1 -.4 2.9 -1.4 2.5 .2 2.9 1 2.7 -1 3.1 -1.1 3.1 -3.4-.3 -3.1 1.3 -1.7-2.7 -3.1-.4 -2.6-1.3 -3 .2 -2.1 1.3 -1.5 1.9 -2.2 1.1 -1.7 1.7 -2.1 1.5 -2.5 .3 -1 2.5 -2.6 .8 1.8 1.8 2.1 1.6 .4 2.8 -1.6 2.2 -.8 2.1 .1 2.3 -.7 2.2 .5 2.2 1.2 2.4 2.1 1.6 -.9 2.5 -1 2.4 -1.4 2.1 -2 1.3 -.5 2.4 .2 2.5 -2.3 .9 -2.4 .9 -2.7 .3 -1.7 2.1 -1.9 1.6 -2 1.6 -2.6 .6 -1.8 1.9 2 2.2 -1 2.8 .3 2.6 -.9 2.4 .3 2.6 .9 2.4 0 2.6 -1 2.5 -2.1 1.5 -2.2 1.4 -1.6 2.3 .2 2.8 -2.3 1.1 -2.3 1 -2.1 1.7 -1 2.4 -.8 2.9 2.2 2 -1.2 2.4 -.3 2.5 -2 2.1 -1.7 2.3 .6 2.9 1.5 2.4 2.6 1.6 1.5 2.7 2.8-.9 3 .5 1.8 2.2 .5 2.8 2 1.8 2.2 1.7 -.4 3.2 -2.6 1.9 2.9 1.8 .3 3.3 -1 2.5 -.3 2.7 -.3 3 2.1 2.1 2.4 .8 2.3 1.1 .8 2.5 2.1 1.7 .5 2.4 .2 2.5 .1 2.5 -1.2 2.3 .7 2.5 2.2 1.3 .2 2.5 -.9 2.2 -1.1 2.5 1.6 2.2 2.7 .5 1 2.5 2.6-.1 1.4 2.3 1.6 2.1 2.6-.3 1.3 1.9 1.2 1.9 .9 2.1 1.1 2.1 2.4 0 2.1 1.1 2 1.5 .6 2.4 2.4 .6 .9 2.4 1.5 1.6 1.1 1.9 2.3 1 2.3 1.1 2-1.5 2.4-1 1.2 2.4 2.1 1.6 2.4-1 2.7 0 2.2 .9 2.4 .5 .1 2.6 1.9 1.8 2.6 .8 .5 2.7 2.2 1.1 2.4-.2 2.2 .9 1.8 1.6 1.1 2.1 1.8 1.6 1.7-2.3 2.9 .5 2.7-.1 2 1.7 1.2 2.3 2.5 0 1.5 1.6 1.4 1.7 1.8 1.3 1.8 1.1 1.5 1.6 1.5 1.6 M200.5 148.8l-2-.6 M200.5 148.8l.9 3.2 -.1 3.2 -1.1 3.1 -.9 3.1 M199.3 161.4l-1.8 .4 -1.5 1.1 -1.8 .3 -1.6 .8 M186.2 159.9l1.4-1.3 .6-1.9 -.9-1.7 .4-2 M187.7 153l1.7-2.8 2.6-1.9 3.2-.4 3.3 .3 M187.7 153l-2-1.3 -.2-2.4 .8-2.4 -1.8-1.8 -2-1 -1.5-1.5 -1.6-2 -2.5 .4 M198.5 148.2l-.1-2.1 -.8-1.9 0-2.1 -1.4-1.7 -2.1-.5 -1.3-1.6 -1-2.2 -2.3-.2 M176.9 141l2.1-2.5 3.3 .2 1.8-2.6 3-.9 M189.5 135.9l-2.4-.7 M518.2 453.7l-1.8 2.4 -2.5 1.7 -1 2.7 -.7 2.9 M518.2 453.7l-1.2-2.2 -.4-2.5 -2.7-.9 -.5-2.9 M513.4 445.2l-1 1.6 -1.7 1 -1.8-.8 -1.9 .1 M507 447.1l-.1 2.8 -1.1 2.6 -.6 2.8 -2.2 1.9 M503 457.2l2.1 1.5 2.7 .5 1.7 2 1.2 2.3 M510.7 463.5l1.5-.1 M529.8 454.8l-.9-1.6 -1.4-1 -1.7 .4 -1.7 .4 -3-.5 -2.9 1.2 M529.8 454.8l-.2 2.5 -1.9 1.7 .9 2.2 .7 2.2 M519.4 469l-1.4-2.3 -2.7 .1 -1.5-1.7 -1.6-1.7 M501.2 476.6l-.7 1.9 .6 1.9 .2 1.9 .9 1.7 M501.2 476.6l2.1-.6 1.9-1.1 .9-2.1 2-1.2 1.5-1.8 1.5-1.7 .1-2.3 -.5-2.3 M638.4 452.1l1.4-1.4 .1-2.1 2.1-.5 1-1.8 1.4-1.6 1.5-1.5 2 .9 2.2 .2 M633.9 441.9l1.1-1.4 1.7-.6 1.1-1.2 1.2-1.3 M639 437.4l1.9-.7 1.9 .5 .5 2 1.5 1.3 2.6 1.9 2.7 1.9 M529.8 454.8l1.9-2.3 2.3-2.1 M538.3 472.6l1.2-1.7 2.1-.1 .5-1.9 1.3-1.4 1.8 .7 1.9-.5 1.7-.9 1.8-.4 .5-1.9 1.5-1.3 0-1.9 .7-1.8 -1.5-1.6 -1.8-1.1 .5-2.1 .4-2.1 M534 450.4l1.5-2.1 2.2-1.6 2.6 .3 2.7 .2 1.1 2.4 1.5 2.2 2.9-1.2 2.4 2 M639 437.4l.3-3.1 .2-3.2 M625.6 428.5l1.1 1.8 2.1 .4 1.7 .8 1.5 1.2 1.6-1.4 1.8-.9 2 1 2.1-.3 M679.8 441.6l-2.8-.4 -2.9 .1 -1.5-2.5 -1.2-2.6 -2.6 0 -2.6 .1 -2.5-.9 -2.1-1.6 -2.6-.2 -2.5-.5 -2.1-1.4 -2-1.6 -2.4-.7 -2.4-.9 -2.6 .6 -2.3-1.3 M639.5 431.1l1.4-1.8 1.8-1.5 M601.4 431l.7-1.7 1.6-1 1.2-1.3 1.1-1.3 0-1.9 1-1.5 .4-1.7 .5-1.7 M601.4 431l2.4 1.5 2.8-.3 2.7-.9 1.3-2.6 2.6-1 2.6 1 2.3 1.5 1 2.6 M619.1 432.8l-2.2-.5 -1.2-1.9 -1.8-1 -1.9-.8 -1.5-1.8 -.2-2.4 1.6-1.8 .4-2.2 M607.9 418.9l2.2 .9 2.2 .6 M699 308.1l-2.2 2.3 -.3 3.2 -1.7 .5 -1.4 1 -.1 1.8 -.2 1.7 M682.2 315.2l2.4 2.3 M693.1 318.6l-2.1-1.2 -1.9-1.4 -2.5-.2 -2 1.7 M674.5 314.8l-1.8 1.4 -.5 2.3 -.7 2 -1.4 1.7 M657 308.8l-.8 2.1 0 2.3 -1 2 -.1 2.3 M655.1 317.5l1.7 2.1 2.2 1.8 2.9 0 2.1 2.1 M670.1 322.2l-3.3-.7 -2.8 2 M474.5 349l1.1 1.9 -1.2 1.9 -1.2 2 1.2 1.9 -1.8 1 -1.2 1.5 -1.5 1.7 -2.1-.1 M474.5 349l-2.6-1.8 -.1-3.1 .4-3 -2-2.3 M460.6 353.2l.5-2.3 -.4-2.4 M460.6 353.2l0 2.5 .5 2.5 2.2 1.3 2.5 .5 M470.2 338.8l-1.4 1 -1.6 .7 -1.3 1.2 -1.2 1.2 -1.2 1.5 .2 2 -1.6 .8 -1.4 1.3 M465.8 360l2 .8 M489.4 364.1l.8-2 1.8-1.2 .3-2.1 .2-2.1 M489.4 364.1l-1.5 3 -3.2 .1 -2.8-.3 -2.8-.2 M479.1 366.7l-2.4-2.3 M476.7 364.4l-.6-2.4 1.8-1.6 2-.8 2.2 0 -1.4-1.7 .6-2.1 0-2.1 1.8-1.3 M492.5 356.7l-2.6 0 -2.2-1.4 -2.4-1 -1.7-2 M483.6 352.3l-.5 .1 M469.2 378.1l-3.1-1.2 -.5-3.4 M469.2 378.1l2.5-.9 1.9 1.6 M473.6 378.8l2.7-1.6 2.5-1.7 .5-3 0-3.1 M479.3 369.4l-.2-2.7 M469.2 362.4l1.3 1.4 -.2 1.9 .8 1.6 -.3 1.7 -1.2 1.5 -1.8 .4 -.9 1.5 -1.3 1.1 M469.2 362.4l2 .1 2-.1 2.4-.1 1.1 2.1 M474.5 349l2.5-.4 2.1 1.3 1.6 1.9 2.4 .6 M469.2 362.4l-1.4-1.6 M494.3 315.5l-1.8 2 -.7 2.6 .9 2.7 -1.2 2.6 1.4 2.2 .5 2.6 .4 2.6 .3 2.6 -1 2.4 -.6 2.5 -2.5 1.1 -1.6 2.1 -2.2 2 -2.8 1 -1.3 2.9 1.5 2.9 M503.6 341.5l-1.4 1.8 -1.7 1.3 -1.4 1.7 -1.5 1.5 -.9 2 -1.1 1.9 -.2 2.2 -.9 2.1 M494.5 356l-2 .7 M460.7 348.5l-1.6-1.6 -1.4-1.9 -2.3-.1 -2.2-.7 M453.2 344.2l-1.2-2.3 .6-2.6 -1.9-2.1 .8-2.8 M282.7 302.8l2.6 1.7 3.1-.3 2.8 .8 2.6 1.4 M282.7 302.8l2.1-1.9 -.7-2.7 .3-2.5 -.9-2.3 2.7 .3 2.7-.5 1.5-2.3 .9-2.6 M301.5 296.6l-1.9 .1 -1.4 1.4 .2 1.9 -.4 1.8 -1.2 3.1 -3 1.5 M301.5 296.6l.6-2.6 -1.8-1.8 -.1-2.4 -1.5-1.9 M291.3 288.3l2.1-.1 1.5-1.3 2.2-.6 1.6 1.6 M204.1 270.3l-.6-.2 M207.4 271l1.6-1.1 1.5-1.2 -.2-1.9 .4-1.9 1.6-.9 .8-1.7 1.3-1.1 1.1-1.4 M207.5 251.9l1.3 .1 M208.8 252l.6 1.9 1.9 .8 1.9-.2 1.5 1.2 M215.5 259.8l.1-2.1 -.9-2 M271.2 429.2l1.5-3.1 -.7-3.3 1.1-2.9 1-3.1 M250.2 410.5l1.2-1.8 2-.6 2 .2 2-.3 1.7-1 2-.1 1.9-.1 1.9-.4 M264.9 406.4l1.1 1.4 1.3 1.2 .7 1.6 .8 1.6 1.4 1.1 1.1 1.4 1.6 .7 1.2 1.4 M501.2 476.6l-2.9-.9 -2.7-1.7 -.5-3.1 -1.6-2.7 M503 457.2l-3-.7 -2.7 1.4 M497.3 457.9l-1.1 2.8 -2.7 1.6 .3 3 -.3 2.9 M424.1 479.2l.5-1.3 M443 494.8l2.1-.6 1.3-1.7 0-2 -.3-2.1 1.6-1.4 -.3-2.1 -.3-2 -1.1-1.6 M446 481.3l-2.8-1.3 -2.4-1.7 .1-3.1 -1.2-2.8 M439.7 472.4l-1.7 1.6 -.9 2.2 -1.7 1.4 -1.8 1.4 -2.2 1.8 -2.5-1.1 -2.3-.7 -2-1.1 M408.8 464l2.7-1.9 3.2 1.3 2.2 1.9 2.1 2 M419 467.3l1.4 2.7 1.2 2.7 2.1 2.2 .9 3 M402.8 443.2l.6-1.9 1.6-1.3 .1-2 .8-1.9 .4-2 1.4-1.4 .7-1.8 .7-1.8 M388 439.7l1.3 2.7 1.4 2.7 M388 439.7l1.9-1.2 1.8-1.5 1.3-2.1 -.7-2.4 .9-2.3 1.7-1.8 -1.1-2.2 -1-2.2 M392.8 424l1.9 .1 1.5-1.2 M409.1 429.1l-1.9 .3 -2-.5 -1-1.6 -1.6-1.1 -2-.8 -.6-2 -1.9 0 -1.9-.5 M284.8 774.6l-2.9-.6 -2.9 .2 -1.5 2.4 -1.5 2.5 M284.8 774.6l1 3.1 -.8 3.2 1.1 3 1.7 2.8 M276 779.1l-1.5 1.4 .6 2.1 1.5 1.2 .5 1.8 M277.1 785.6l1.9 .4 1.8 .7 1.4 1.5 2 .6 M284.2 788.8l1.8-1 1.8-1.1 M270.6 792.6l1.5-2.6 -.4-2.9 2.2-2.3 3.2 .8 M267 778l1.9-.6 2-.4 M270.9 777l2.2 1.8 2.9 .3 M282.5 796.1l.3-2.3 2-1.1 -.1-2 -.5-1.9 M297.4 788.7l-2.3-1.4 -2-1.8 -2.8-.2 -2.5 1.4 M268.6 751.8l1.1 .9 M280.9 744l.4 2.3 .2 2.4 M281.5 748.7l-1.7 0 -1.7 .5 -1.6-.6 -1.7-.2 -1.9 .2 -1.8 .5 -.1 2 -1.3 1.6 M262.4 765.3l2.8 .4 2.9 .6 2.6-1.3 1.9-2.2 M269.7 752.7l.3 2.7 -.4 2.8 1 2.6 2 2 M289.3 435.6l-2.8-.1 -1.3-2.5 -1.8-1.8 -2.2-1 -2.5-.1 -2.4 .4 -2.5 0 -2.4-.8 M289.3 435.6l.4 2.2 -1.1 2 .3 2.2 -.4 2.1 -.1 2.3 -1.5 1.7 .6 2.4 -1.7 1.8 M268.5 438l.1 1.8 .3 1.9 .6 1.8 .4 1.8 .4 1.9 .9 1.7 1.2 1.5 1.5 1.2 M285.8 452.3l-1.7 1.1 -1.8-.9 -1 1.4 -1.6 .9 -2.6-2.1 -3.2-1.1 M190.5 607.9l2.6 .4 2.4-1.2 2.5-.7 1.7-2 1.5-2.1 1.4-2.2 0-2.5 .3-2.6 M190.5 607.9l-1.3 1.8 .7 2.1 1.1 1.6 1.6 1.3 1.7 .7 1.3 1.2 1.7 .5 1.6 .9 M198.9 618l.8-1.9 2-.6 1.7-.7 1.6-1 1.7 1.1 2-.6 1.8 .3 1.8 .3 M212.3 614.9l1.2-2.7 .9-2.8 -1.7-2.4 -2.1-2 -2.2-1.6 -1.1-2.4 .2-2.8 -1.4-2.3 M202.9 595l3.2 .9 M157.6 607.3l2.2-.1 2-.8 2.3-.3 1.5-1.7 2.2 .3 2.1 .4 2.1 0 2.1 .4 1.8-1.5 2.4-.1 2.3 .2 1.9 1.4 1.4 1.9 2.3 .4 2.2-.9 2.1 1 M195.6 627.4l2-2 -.5-2.8 .8-2.3 1-2.3 M216 616.8l-2.1-.5 -1.6-1.4 M216 616.8l1.2 3 2.2 2.4 1.1 3.2 -1 3.2 M219.5 628.6l-2.2 .4 -2.2 .7 -1.9 1.4 -1.7 1.5 -1.5 2 -2.3 .8 -2.3 1.1 -2.4-.8 M230.2 604.7l-2.7 1 -2.4 1.6 -2.8-.4 -2.9-.4 -2.3 2.1 .8 3.1 -1.1 2.5 -.8 2.6 M230.2 604.7l-1.1-2.3 .3-2.6 -2.8 .3 -1.9-2 -.9-2 -1.5-1.6 -1.3-1.7 -.4-2.2 M220.6 590.6l-2 .3 -2-.2 -2.1-.2 -1.8 1.1 -2.1 0 -1.9 1 -.8 2.1 -1.8 1.2 M223 584l-.8-2.5 -2.3-1.4 -.6-2.5 -2-1.6 .9-2.5 .2-2.6 -1.7-2.1 -.9-2.5 M223 584l-.8 1.8 -1.5 1.1 .1 1.9 -.2 1.8 M202.9 595l.4-2.3 .3-2.2 .1-2.4 -1.2-2.1 -2.4-1 -1.1-2.3 -2.3-.9 -2.4 .4 M215.8 566.3l-1.5 2.3 -.6 2.6 3 1 .4 3.1 -1.7 1.8 -2.5 .2 -1.2 2 -1.9 1.4 -1.7 1.6 -1.4 1.9 -2.5 .1 -1.7 1.8 -2.3-.8 -1.6-1.8 -1.7-2 -2.6 .7 M110.3 549.7l1.2 2.1 1.5 2 2.6 .4 1.5 2.3 2.5 0 2.4-.3 2.3 .8 2.3 .9 2.4 .7 2.4 .1 1.3 2.5 2.8 .1 2.4-.9 2-1.5 2.3 1.7 2.6-1.2 2.9 .7 2.7-1 .5-2.9 1.9-2.2 2.4 .5 2.3-1 2.5-1 2.4 1 2.4-.6 2.1-1.5 1.2-2.2 .7-2.3 1.3-2.5 2.8-.1 .2-2.6 2-1.7 M57.2 602.7l1.9-.4 1.2-1.5 -.6-1.9 .8-1.8 2.5-2 2.9-1.6 2.7 2 3.2 .8 1.6 1 1.8 .8 1.1-1.7 2-.4 3-.2 3.1 .1 2.5-1.7 1.7-2.5 2.8 0 2.8-.7 2.7-.5 2.7-.7 .9 2.9 .3 3.1 2.7 1.8 1.5 2.8 1.5 3 3.1 1.5 3.2-.2 3.2 0 1.7 2.4 1.8 2.3 3.1 .2 2.3 2 2.9 1.6 3 1.3 0 3.3 .2 3.3 1-2.4 .8-2.4 1.7-2 1.7-1.9 2.8-.1 1.5-2.4 1.8-2 2.6-.4 1.5-2.4 -.8-2.6 1.9-1.8 1.3-2.2 1.9-1.7 .5-2.5 1.7-1.8 .4-2.5 -1.1-2.8 1.8-2.4 2.6-1.2 .8-2.8 2.9 0 2.2-1.9 2.2-2 0-2.9 2.1-2.2 3 .5 2.2-1.9 .4-2.9 2.9 .3 2.8 1.1 2.4-1.7 1.4-2.6 M175.1 540l1 2.1 2.2 .5 1.9 .9 1 1.9 M181.2 545.4l.2 2.2 -.2 2.1 1.3 1.8 .4 2.2 -2 1.7 .5 2.6 1.5 1.8 .2 2.4 M181.9 564.6l1.2-2.4 M157.6 607.3l1.6 1.1 1.9-.2 .9 1.7 1.7 1 1.6 .9 1.9-.5 1.7 .2 1.8-.2 1.6-.9 1.8-.3 1.9-.3 1.4-1.3 1.5-1.6 -.7-2.1 2-.7 .3-2.2 1.8 .3 1.8-.4 1.8-.5 1.5-.9 .9-1.6 1.4-1.1 .6-1.8 1.6-.9 -.5-1.7 .1-1.7 -.1-1.9 1.2-1.4 .1-3.3 -.2-3.4 M181.9 564.6l.9 3 2.9 .9 1.7 2.7 3.2-.2 2 2.2 .1 2.9 .2 2.8 -.4 2.7 M192.5 581.6l1.8 .6 M144.6 509.6l3.1-1 3.2 .5 2 .7 .3 2.2 1.7-1 1.9 .3 1.7 .4 1.5 1 1.9 .5 1.4-1.4 2.8 1.8 1.9 2.8 M175.1 540l2.6-1.3 1-2.8 -1.4-2.4 -.4-2.8 M168 516.4l1.4 2.1 -.8 2.4 -.5 2.4 1.2 2.1 1.3 2.4 .9 2.5 2.8-1.2 2.6 1.6 M181.2 545.4l2-2 2.7-.6 3.1 0 1.5-2.7 2.7 1.2 2.9 .3 1.7-2.9 3.3 0 M203 535.5l-2.7-.6 -2.9 .4 -.7-2.8 -1.7-2.3 .3-2.8 -1.1-2.6 -2.7-.7 -2.3-1.6 M203 535.5l.1 .3 M189.2 522.5l-1.9 .6 -2.1-.4 -1.7 1.1 -1.3 1.5 -1.2 1.8 -2.1 .3 -1.3 1.5 -.7 1.8 M201.1 538.7l1-1.4 1-1.5 M183.1 562.2l2.7-1 2.7 1 2.8 .4 2.7-.5 2.4-1.4 2.5-1.2 2.9 .3 2.3-1.9 M201.1 538.7l.2 2.5 .7 2.3 .9 2.3 1 2.3 0 2.5 .8 2.4 -.7 2.4 .1 2.5 M215.8 566.3l0-.2 M204.1 557.9l2.1 0 1.7 1 2-.1 1.9 .6 1.6 1.3 .7 1.9 .7 1.8 1 1.7 M207.9 478 M219.6 453.4l-1.9 .7 -1.9 .7 -.9 2 -2 .8 -.7 2.2 1.5 1.7 .7 2.1 -1 1.9 -2.3-.2 -2 .9 -.7 2.2 -1.5 1.7 .9 2 1.5 1.7 -.5 2.1 -.8 2 M207.9 478l.1-.1 M230 473.5l-1.1 2.5 M230 473.5l-.6-2.8 -.4-2.8 -.6-2.9 .9-2.8 -3.2-1.1 -3.2-.8 -.3-1.8 -1.4-1.2 .5-1.7 -.1-1.8 M208 477.9l1.5 1.3 0 2 1.7 .3 1.8-.1 3.3 0 2.7 1.6 2.2-2.1 2.6-1.7 2.5-1.6 2.6-1.6 M207.9 478l-1 3.2 1.2 3.1 1.7 2.7 .8 3 M228.9 476l1.2 1.9 2 1 .7 2.4 2.5 .4 -1.8 1.8 .4 2.4 -.8 2.4 1.5 2 M234.6 490.3l-1.2 1.8 -2.1 .5 -2.1 .5 -1.6 1.3 -2.2 .1 -1.6 1.4 -2 .4 -2.1-.1 M210.6 490l1.6 2.5 2.8 1 2.2 1.6 2.5 1.1 M243.5 528.3l-1.7-1.5 -1.7-1.5 -1.8 1.9 -2.6-.6 -1.2-2.2 -2.5-.5 -1.7 1.8 -2.5 .1 M243.5 528.3l1.5-2.8 2.8-1.3 1.8-2.3 1.4-2.6 M251 519.3l-.1-1.9 -1.5-1.2 .1-1.7 -.5-1.7 -1.7-.9 -.3-1.9 -1-1.5 .1-1.9 M227.8 525.8l.6-2.5 -1.6-2.1 -1.5-1.9 -.1-2.5 M225.2 516.8l3-.9 .7-3.1 2.6-.9 1.9-2 2.7-.6 2.5-.9 3.2-.1 1.4-2.8 M246.1 506.6l-2.9-1.1 M203 535.5l1.7-2.3 1.9-2.2 1.6-2.4 1.4-2.5 -1.9-2.7 -1.3-3.1 2.3-2.5 1.3-3.1 M222.1 538.9l-2.8 .1 -1.7-2.2 -2.4-.2 -2.3-.9 -1.9-2.4 -3 .5 -2.8 .2 -2.1 1.8 M222.1 538.9l1.3-1.2 1-1.6 -.1-1.9 .8-1.8 .9-2.2 -1.5-1.9 1-2.2 2.3-.3 M210 514.7l2.1-.8 2.2-.8 2.2-1.3 2.3 1 M218.8 512.8l1.6 1.3 .9 1.7 1.9 1 2 0 M234.6 490.3l.3 .1 M218.8 512.8l0-2.3 -1.1-2 1.3-1.8 .6-2.2 .1-2.1 .4-2.1 -1.4-1.9 1-2.2 M234.9 490.4l1.1 1.9 1.4 1.6 .9 2 1.5 1.6 .6 2.2 .6 2.1 .9 2 1.3 1.7 M291.4 666l1.4-1 1.6-.8 .5-1.7 .5-1.7 1.3-3 1.4-3 M318.7 678.8l1.3-2.4 1.9-2 -1.7-2.2 -.3-2.8 1.4-2.3 .5-2.7 -2.6-1.5 -.7-2.8 M298.1 654.8l2.6 .6 2.3 1.5 2.1 1.8 2.9 0 2 2.4 2.8 1.5 1.8 .1 1.7 .1 1.1-1.3 1.1-1.4 M365.2 652.5l-3.2-.4 -2.9-1.7 -1.7 .5 -1.3 1.3 -1.9 .2 -1.5-1.3 -3.1-.8 -2.7-1.8 -3.3 .3 -3-1 -1.7 .8 -1.8-.5 -1.3 1.3 -1.9 .2 -.7 1.6 -.8 1.4 -1.5 1.1 -.4 1.8 -1.5 1.1 -.9 1.5 -1 1.5 -1.5 1 -1.7 .6 -1.9-.3 -1.7-.3 -1.7-.6 M343.3 634l-1.7 .5 -1.4 1 -1.3-1.2 -1.7-.5 -1.7 .3 -1.7 .1 -1.4 1.2 -.3 1.8 -1 1.4 -1 1.5 -1.7 .5 -1.5 .9 -1.8 .5 -1.9-.4 -.8-1.8 -1.7-1 M320.7 638.8l1.1 3 1.2 2.8 2.6 2.1 .4 3.4 .6 1.8 -.7 1.8 -1.8 .4 -1.4 1.2 -1.4 2.9 -2.7 1.8 M318.6 660l-.1 .1 M375.8 543.9l-.5-2.7 -2.1-1.8 -1.8-2 -2.7-.7 -2.1 2.1 -1.9 2.2 -2.7-1.5 -3 0 M373.8 558.4l-2.1-.5 -2.1-.4 -2.3-.7 -1.9 1.4 -1.9 1.4 -2.3-.7 -2.2 .1 -2-.8 M357 558.2l2.2-1.6 1.4-2.3 .6-2.8 -1.5-2.5 -.7-2.3 .2-2.4 .4-2.4 -.6-2.4 M376 576l-2.5 .3 -2.5 .5 -2.4-.9 -2.3-1 -2.3-.9 -2.3-.9 -2.4 1.7 -2.6-1.3 M357 558.2l-1.6 1 -.8 1.8 -2.1 .6 -.5 2.1 M352 563.7l0 .4 M356.7 573.5l-3.2-.6 -1.3-3 -.2-2.9 0-2.9 M243.2 625.9l1.5 1.2 .7 1.8 -.4 1.8 .1 1.8 .4 1.8 -.5 1.7 .8 1.6 -.2 1.9 M243.2 625.9l-2.3 2 -1.9 2.5 -3.1 .1 -3 .6 -3 .5 -3 0 -2.5-1.8 -3.1 0 M245.6 639.5l-1.8 .9 -1.5 1.2 -.3 2.1 -1.5 1.5 -1.3 1.7 -1.7 1.1 -2.1 1.1 -2.1-1.3 M233.3 647.8l-3-.8 -2.1-2.4 -2.4-1.9 -2.9-1 M221.3 629.8l-1.4 3 .3 3.2 2 2.6 .7 3.1 M233.3 659.2l-.5-1.7 -.2-1.8 1.2-1.4 1.5-.8 -2.2-2.4 .2-3.3 M259.5 651.2l-2.7 0 -2.6-.5 -.7-2.6 -1.3-2.4 -1.1-2.1 -1.9-1.3 -2.2-.9 -1.4-1.9 M213.8 651.6l1.9-1.1 2 .7 1.8-1.2 .2-2.1 2.2-.3 1.2-1.8 -.1-2.1 -.1-2 M219.5 628.6l1.8 1.2 M304 573.4l2.2 1.6 -.2 2.7 -.4 2.7 2.1 1.8 M304 573.4l-3.2-.8 -2.5 2.1 -2.6-1.4 -2.4-1.8 M307.7 582.2l-2 .9 -1 1.9 -1.5 1.3 -1.7 1.1 -2.2 .4 -1.2 1.9 -.5 2.2 -2.2 .8 M282.7 580.4l1.7-.7 1-1.4 2-.2 .9-1.8 -.6-2.2 1.7-1.7 2.1 .2 1.8-1.1 M282.7 580.4l.6 2.6 1.8 1.9 .4 2.5 -.2 2.5 M285.3 589.9l2.1 1.9 2.5 1.3 2.7-.7 2.8 .3 M230.2 604.7l3.1-.8 3.1 .4 2.9 1.2 2.7 1.6 M243.2 625.9l1.7-2.6 1.3-2.7 M246.2 620.6l-1.3-1.4 -1.3-1.4 0-2.2 -1.9-1 .4-1.9 0-1.9 -.1-1.8 0-1.9 M223 584l2.6-.5 1.8-2.1 2.7 .4 2.4-1.3 2.4 1.1 2.5 .8 2.6-.7 2.6 .1 M242.6 581.8l2.4 1.5 -.1 2.8 1.5 2 1 2.3 -.4 3.2 -2.9 1.5 2.5 1.9 .1 3.2 M242 607.1l1.8-1.5 0-2.4 1.3-1.7 1.6-1.3 M262.2 543.3l2.6-1 .8-2.6 M262.2 543.3l-1.7-1.6 -.9-2.2 -1.9-1.7 -2.5 0 -2.3-.2 -2.1 1 -1.9 1.7 -2.4-.6 M246.5 539.7l-.3-2.9 -.9-2.9 -2.4-2.3 .6-3.3 M251 519.3l2.2 .6 2.3-.5 2.3 .6 1.4 1.9 M265.6 539.7l-1.3-2.8 .3-3.1 -2.7-1.4 -3-.3 0-2.8 -1.4-2.3 1.3-2.4 .4-2.7 M270.8 505.3l1.3 1.7 .5 2.1 -1.5 1.9 .7 2.3 M270.8 505.3l-1.6-.8 -1-1.5 -1.5-1 -.5-1.7 -1.5-1.1 -1.8-.1 -1.6-.7 -1.8 .4 M259.5 498.8l.6 2.6 -2 1.7 -2.4-.2 -2.1 1 -1.7 1.2 -1.8 1 -2.2-1 -1.8 1.5 M259.2 521.9l2-1.3 .3-2.5 2.3-.2 2.2 .5 .9-2 2-.6 1.3-1.4 1.6-1.1 M122.8 440.6l-1.3 2.9 -.7 3.2 -.6 3.1 -.6 3.2 M122.8 440.6l-1.7-2.3 -2.4-1.5 -3 1 -2.5-1.9 M119.6 453l-1.4-1.9 -2.2-.9 -1.7 1.6 -2.4 .2 -2.1 .1 -2 .4 -1 1.9 -1.8 1.2 M113.2 435.9l-1.9 .2 -1.6-.8 -1.1 1.4 -1.1 1.4 -3.1 0 -3 .9 M105 455.6l-.4-1.9 .5-1.8 -1.7-1.4 .4-2.1 -2-.5 -.6-2.1 -.7-1.9 -2-.5 M122.8 440.6 M125 461.6l-.2-2.7 -1.7-2.1 -1.6-2 -1.9-1.8 M110.9 420.3l-.8 2.2 .1 2.5 1.4 2.1 2.4 .7 .9 2 -.3 2.1 -.2 2.2 -1.2 1.8 M103.2 459.3l2-1.3 -.2-2.4 M96.6 425.6l1.4 1.4 -.1 2 .6 1.6 .9 1.6 1.5 1.4 -.4 2 1.5 1.4 -.6 2 M304.7 744.6l-1.6-1.2 -1.9-.5 -2 1.1 -2-1 M304.7 744.6l3.2 .3 2.9-1.5 .1-1.7 -.5-1.8 1-1.4 1.6-.8 M306.7 730.6l1.8 1.6 1.1 2.2 1.5 1.9 1.9 1.4 M306.7 730.6l-2-.4 -1.4 1.5 -1.8 .3 -1.4 1.2 -.7 1.9 -.2 1.9 -1.8 .9 -1.7 .8 M295.7 738.7l1.5 1.9 0 2.4 M314.2 737.9l-1.2-.2 M317.2 749.2l-2.5-.3 -1.4 2.1 -2.1 .4 -2.1 .1 M309.1 751.5l-1.7-1.4 -1.8-1.2 -.2-2.2 -.7-2.1 M306.7 725.6l-.2 2.5 .2 2.5 M292.9 736.7l1 1.5 1.8 .5 M294.9 748.6l1.9-2.4 .4-3.2 M294.9 748.6l-2 2.7 -3.3-.5 -2.8 .4 -2.9 0 M281.5 748.7l1.9 .6 .5 1.9 M309.1 751.5l-1.2 2.8 M312.5 763.8l.7-2.9 -1.1-2.8 -2.5-1.5 -1.7-2.3 M294.9 748.6l2.7 .8 .5 2.8 -.1 2.4 .1 2.4 M307.9 754.3l-3.2 .3 -1.2 2.8 -2.7-.7 -2.7 .3 M199.4 241.3l-.2-1.8 -1.3-1.3 0-1.8 1.2-1.3 2.1-2.5 3.1-1 M204.3 231.6l-2.5-1.4 -1.8-2.2 -2.2-1.9 -2.8-.9 -2.2-2.2 -3.2-.2 -1.1-2.8 -1.5-2.6 M200.3 119.3l1.6 1 1.3 1.3 M203.2 121.6l1.9 .3 1.8-.8 M192.6 120.3l-1.9 1.4 -2.3 .8 .2 2.7 -2 1.7 M186.6 126.9l-.9-1.7 .2-2 -1.2-1.5 -.8-1.7 -1.5-1.6 -2.1 0 -1.9 .6 -1.9 .1 M201.3 131.1l-.2-2.4 .6-2.4 2.1-2 -.6-2.7 M201.3 131.1l-1.7-.8 -1.8-.5 -1.9-.3 -1.7 .9 -1.3 1.8 -2.2 .1 0 2 -1.2 1.6 M187.1 135.2l.5-2.1 -.6-2 .3-2.1 -.7-2.1 M711.1 345.7l-2.8-1 -2.7-1.4 -3 .9 -2.9-1.3 -2.4-1.8 -1.4-2.7 -2.3-1.8 -2.2-2 M711.1 345.7l-1.9-.4 -1.9 .2 -.4-2 -1.3-1.5 -2.2-2.5 -1-3.2 -1-3.1 -.4-3.2 0-3.2 -.8-3.2 M691.4 334.6l1.7-.9 1.3-1.2 .3-2.1 2-.7 -.5-2.1 1.6-1.6 -1.2-1.5 -.6-1.9 M700.2 323.6l-1.9-1.3 -2.3 .3 M710.5 319.9l-1.3 3 -3.3 .2 -2.7 1.9 -3-1.4 M693.1 318.6l1.5 1.9 1.4 2.1 M625.6 428.5l-.7-2.5 1.2-2.4 1.6-1.9 .4-2.5 M612.3 420.4l.8-2.4 1.6-1.9 2.8 .8 2-2 M619.5 414.9l2.6-.3 2.1 1.6 2.8 .3 1.1 2.7 M607.3 418l.6 .9 M607.3 418l1-2.5 -1-2.5 .3-2.6 -1-2.3 1.4-2.2 1.3-2.3 -1.6-2.5 1.1-2.7 M608.8 398.4l1.9 2.2 1.9 2.2 3 .3 2.3 2.1 M619.5 414.9l.1-2.9 1.6-2.4 -1.5-2.3 -1.8-2.1 M642 420l.2 2 .6 1.9 -.2 1.9 .1 2 M642 420l-3.1 .1 -3-.7 -3.1-.6 -2.9-.9 M629.9 417.9l-1.8 1.3 M655.6 306.9l-2.5-1.5 -2.9-.6 -2.8 0 -2.8-.6 M644.6 304.2l-1.7 1 -1.9 0 -1.4-1.6 -2.1 .3 -1.2-1.5 -1.1-1.4 -.4-1.8 -.4-1.8 -1.3-2.8 -1.3-2.7 0-3.2 -1.3-2.9 .6-1.7 .4-1.7 .5-1.8 -1.1-1.6 -1.6-.7 -1.5-.7 -2-.3 -.7-1.9 1.4-2.9 .3-3.2 -1.1-3 -1.6-2.7 -3-.9 -1.7-2.7 -2.7-1.4 -2.7-1.3 .7-2 -1.5-1.5 .6-1.6 .2-1.8 -.9-1.6 -1.7-.9 -1.8-.1 -1.7-.7 -3.1 0 -2.4-1.9 -2.7-1.5 -3.1 .4 -.9-3.3 -3.2-1.2 -2.7-1.5 -3.1-.3 .6-3 1.3-2.8 -1.1-3.1 1.3-3 -.5-1.9 -1.7-1.1 -1.9-.6 -1.9 .6 .8-1.7 .1-1.9 -1.3-1.3 -.9-1.7 2.1-2.7 .5-3.3 -1.7-.7 -1.7-.8 .6-2 -1.3-1.6 -2.4-1.7 -1.8-2.4 0-3 -1.2-2.8 -.1-1.9 -1.1-1.6 1.5-1.2 .8-1.8 .5-3.3 1.9-2.8 -1.3-1.3 -.1-1.8 -.5-1.8 -1.7-.9 -1.7-1.2 -.3-2.2 -2-.5 -1.9 .7 -1.3-2.7 -.5-3 2.1-2.3 .3-3.1 -1.8-2.6 -.3-3.1 2.5-2.2 .1-3.3 M300.1 186.6l1.6 .5 1.8 .3 0 1.7 .9 1.6 1.7 2.6 -.1 3.2 M288.2 182.4l.2 3 -1.2 2.9 -.4 3 1.2 2.8 1.4 2.9 .8 3.1 -2 2.6 -.5 3.2 M306 196.5l-2.2 1.7 -1 2.5 -2.9 0 -2.1 2 -2.5 .8 -2.4 1 -2.6 .3 -2.3 1.2 M288 206l-.3-.1 M296.3 220.2l-1.6-2.2 -2.7 0 .7-2.4 -.7-2.4 -.8-2 -1.8-1.3 -1-1.8 -.4-2.1 M296.3 220.2l2.2-1.8 2.7 1.1 2.8-.2 1.6-2.2 2.1-1.7 2.7 0 1.9-1.8 1.5-2 1.5-2.2 2.1-1.6 1.3-2.4 2.5-1.2 3.4 .2 1.7-2.8 2.9 .6 2.4 1.5 M257.4 204.5l1.1-1.9 .9-2 1.4-1.7 .4-2.3 .9-2 .7-2.1 .9-2 .9-2 M257.4 204.5l.4 2.7 1.7 2.1 -.3 2.9 2.3 1.9 M264.6 188.5l3.1 1.4 3.2 1 .5 2 -.9 1.8 1.7 .9 1.2 1.5 1.8 .2 1.7 .5 .1 1.8 1 1.6 1.6 2.6 2 2.3 M281.6 206.1l-.4 2.2 -.5 2.2 -1.2 1.9 -1.6 1.6 -2.6 .7 -2.1-1.8 -1.4 2 -2.2 1.2 M261.5 214.1l1.9 1 1.9 .7 2.1 .4 2.2-.1 M264 180.4l1.8 1.7 -.6 2.3 -1 2 .4 2.1 M264 180.4l2.6-.5 2.6-.5 2.5 1.3 1.4 2.3 1.7-2 1.4-2.3 2.6-1.2 2.7 1.1 M287.7 205.9l-3 .9 -3.1-.7 M559.9 317.1l-.2 2.9 -.4 2.9 -.9 2.8 -.4 2.9 -.1 3.3 -3.1 1.5 -.6 3.2 -2.9 1.4 M551.3 338l1.4 2.3 1.7 2.2 1.1 2.5 .6 2.6 M572.6 333.1l.5 3 .5 3 -2.2 2.1 -2.1 2.3 M556.1 347.6l1.9-.4 1.7 .9 1.6-1 1.9-.1 1.5-.9 1.4-1.2 1.5-.9 1.7-.5 M548 361.7l1.2-1.4 .2-1.9 1.9 .4 1.7-.9 .3-3.3 2.2-2.5 M565.2 368.5l1.4-1.2 .5-1.8 -1.2-1.5 0-1.9 2.3-2.4 .6-3.3 M555.5 352.1l1.2 1.4 1.9 .3 1.8 .7 1.8-.6 1.6 1.4 1 1.8 2.1 0 1.9-.7 M518.3 355.9l1.3-2.9 1-2.9 -2.1-2.6 .1-3.3 M518.3 355.9l.8 1.6 1.1 1.4 1.6 1.1 1.8-.5 1.3 1.3 .5 1.8 1.8-.2 1.8 .4 M518.6 344.2l1.2 2.5 1.7 2.3 1.6 2.5 2.7 1.1 2 0 1 1.7 1.3 1.3 .1 1.8 3-1.5 3.3-.1 M522.6 337.1l2.4-.5 2.5 .1 1.5 2 1.4 1.9 2.3 .2 2.1 .6 2 1 1.6 1.6 M538.4 344l-1.5 1 -.6 1.7 -1.1 1.3 -1.2 1.3 1.2 1.5 -.4 1.9 -.1 2 1.8 1.1 M538.4 344l1.5-2 M539.9 342l3.3-.9 3.2 1.2 1.7-.4 1.8-.6 .1-1.9 1.3-1.4 M556.1 347.6l-.1 2.3 -.5 2.2 M530.2 330.7l1.6-.8 1.7-.3 1.3 1.3 1.5 1 M530.2 330.7l-1.1-2.9 -.6-3 .8-3 -.9-3.1 M536.3 331.9l2.5-2.2 1.7-2.8 1.8-2.7 2.2-2.5 M528.4 318.7l2.5 0 1.6 2 1.5 1.7 1.7 1.6 2.4 .9 2.3-.8 1.6-1.9 2.5-.5 M522.6 337.1l1.4-2.1 2-1.5 2.6-.7 1.6-2.1 M539.9 342l-2-2.6 1.3-2.9 -2.3-1.8 -.6-2.8 M483.3 282.1l2.1 .6 1.7 1.3 1.2 1.8 1.8 1.2 .5 2 .4 2.1 1.9 1.5 -.2 2.3 .5 2 1.1 1.6 .7 1.9 1 1.7 0 2.3 1.8 1.4 1.4 1.9 -1 2.1 2.3 .6 1.9-1.3 2.1 .4 2.1-.2 2.4 .8 .5 2.4 2.2 .3 1.5 1.7 1.9 .7 1.8 .8 1.7 1.1 1.9 .6 2-.5 2.1-.1 1.5 1.7 2.3-.1 M415.1 362.4l2.3 1.9 2.8-1.1 2.7 .4 2 1.8 M415.1 362.4l-1.2-1.7 M413.9 360.7l-.5-1.7 -.1-1.7 .7-1.6 -.3-1.8 1.7-.9 1.9 .3 1.7-.9 .6-1.9 M419.6 350.5l1.9-.7 2.1-.3 1.8 1.1 2.1 .1 M427.5 350.7l-1 2.8 .7 2.8 2.3 2 -.1 3.1 M424.9 365.4l2.2-2 2.3-2 M378.2 485.2l-1.1-1.3 -1.2-1.2 -1.6-.8 -1.3-1.1 M389.3 467.7l-2.5-.9 -1.9-1.7 -2.6 .1 -2.4 1 M379.9 466.2l-2 .8 -1.9 1.1 -1.3 2 -2.3 .4 -1.8 1.9 .9 2.5 1.8 1.8 -.7 2.5 M373 480.8l-.4-1.6 M359.2 448.5l-1.2 1.6 -1.4 1.6 .6 2 1.1 1.8 .2 1.9 1.1 1.5 0 1.8 -.2 1.8 M359.2 448.5l2.4-1.3 2.3-1.5 3 1.2 2.5-1.9 M359.4 462.5l1.1-2.3 1.6-2.1 2.5 0 2.6 .3 1.7-2.2 2.7 0 1.9 1.8 2.6 .3 M369.4 445l1 1.4 .4 1.7 .4 1.7 0 1.8 0 2.2 1.8 1.2 1.9 .5 2 0 M376.9 455.5l-.8 2.8 M350.5 442.1l.1 2.6 -1.9 1.8 0 2.4 -1.2 2.2 -.5 2.7 -2.7 .8 -1.4 1.9 -1.7 1.7 M350.5 442.1l1.9 2 2.5 1.2 2.3 1.3 2 1.9 M341.2 458.2l2.1 .9 1.7 1.6 2.4-.7 2 1.7 2.1 .6 2 1 1.7 1.6 2.4 0 M357.6 464.9l1.8-2.4 M357.6 464.9l.2 3.1 M379.9 466.2l-.4-2.6 -2.5-.9 .2-2.3 -1.1-2.1 M357.8 468l.1 2.7 .9 2.5 3 .3 1.4 2.7 1.2 2.8 3 .4 2.6-1.3 2.6 1.1 M372.2 435.7l2.2-.1 2.1 .1 1.7 1.2 1.9 1.1 1.9 1 2.1-.4 1.8 1 2.1 .1 M372.2 435.7l-1.1 2.7 1.6 2.5 -1.5 2.2 -1.8 1.9 M389.9 447.5l-1.1 2 -2.3 0 -2 .2 -1.8 .7 -2.3-.3 -2.1 1.1 -1.2 2 -.2 2.3 M392 383.8l-2.8 .3 -2.7 .7 -3.1 .1 -2 2.4 M392 383.8l1.3 2 2.2 .7 .6 2.1 .8 2 1 2.4 -1.6 2 1.4 1.8 .8 2.1 M381.4 387.3l2.4 .6 .6 2.3 .4 2.4 2.3 .7 -.1 2 .1 2.1 -1.2 2 1.2 2.1 M387.1 401.5l2.8 .7 2.7 .7 2.7-1 2.4-1.3 M398.5 398.9l-.8 1.7 M392.8 424l-1.7-1.2 -1.9-1 -2.1-.4 -2-.8 M400.8 406.8l-.6 2.6 1.4 2.3 .1 2.5 1.6 2 -1.8 1.8 -2.4 .8 -.7 2.5 -2.2 1.6 M400.8 406.8l-1.2-1.4 -1.5-1.1 .9-2 -1.3-1.7 M380.8 405.7l-.1 2.5 1.7 1.9 2.3 .6 1.8 1.4 -2 1.6 -.5 2.4 1.2 2.1 -.1 2.4 M380.8 405.7l1.8-1.2 2.1 .3 .8-2 1.6-1.3 M381.2 375l-1.8 2.3 -2.3 1.8 .7 3.1 -1.7 2.8 M381.2 375l-1.7-1.5 -1.3-1.8 -1.8-1.4 -1-2.1 M375.4 368.2l-1.8 1.2 -2.2 .6 -2.3 .1 -2-1.1 M372.7 385.7l1.5-1.3 1.9 .6 M372.7 385.7l-.4-2.2 -1.2-1.9 0-2.4 1.5-1.8 -1.2-1.8 -1.9-1 -2-.7 -1.9-1 M365.6 372.9l-.4-2.4 1.9-1.5 M385.8 374l.5 2.7 1.5 2.5 2.8 .4 2.4 1.4 M385.8 374l2.1-1.9 2.4-1.2 -.8-2.6 .2-2.7 M389.7 365.6l2.6-.1 2.6 .3 2.6 .3 2.5 .4 M393 381l1.6-2.3 2.3-1.6 2.6-1.2 2.8 0 M402.3 375.9l0-2.9 -2.6-1.4 .1-2.5 .2-2.6 M392 383.8l1-2.8 M381.4 387.3l-2.9-.5 -2.4-1.8 M381.2 375l2.4-.3 2.2-.7 M415.1 362.4l.9 2.4 .5 2.6 .5 3 -2.3 1.8 M413.9 360.7l-2.7 .9 -2.5 1.5 -2.3-1.5 -2.6-1.2 M403.8 360.4l-2 .7 -1.6 1.3 .9 2.1 -1.1 2 M403.8 376.8l2.5-1.9 3.1 .1 3-.8 2.3-2 M403.8 376.8l-1.5-.9 M358.1 359.8l-.5 2 -1.8 1.1 -.7 1.9 -1.6 1 -2.1 .6 -2 .9 -.3 2.1 -.9 2 M358.1 359.8l-1.8-2.2 -2.3-1.5 -2-2 -2.7-.9 M349.3 353.2l-1.8 .8 -1.5 1.3 M344.2 370.5l2 .3 2 .6 M344.2 370.5l-.1-1.9 -1.3-1.4 M342.8 367.2l1.4-1 .8-1.6 .9-1.5 1.3-1.1 -1.1-1.6 -1.5-1.4 1.8-1.4 -.4-2.3 M342.8 367.2l-1.8-1.5 -1.8-1.4 -.2-2.3 -.2-2.3 -2.3 .5 -1.9-1.1 -2 1.6 -2.3-1 M346 355.3l-1.6-.7 -1.8 .3 -1.9 0 -1.3 1.4 -1.9-.6 -1.9 .7 -1.4-1.4 -.7-1.9 M330.3 359.7l.6-2 1.8-.9 .4-1.8 .4-1.9 M258.8 355.7l2 .3 1.9-.8 .2-2.3 2.1-.9 1.8-.7 1.8-.2 1.9-.4 1.8 1 M255.2 326.6l-.4 2.3 -2 1.2 -2.1-1.1 -2.1 1 M255.2 326.6l.2 1.7 .4 1.7 1.4 1.2 .7 1.6 2.1-.4 1.3 1.6 .5 1.8 1.3 1.3 1.6 1.4 2.1-.5 1.6 .9 1.7 .9 2.1-1.1 2.3 .6 .4-2.1 1.2-1.9 M272.3 351.7l-.1-2.2 .9-1.9 .9-2.1 -.5-2.2 .1-2.2 1.4-1.7 -.7-2.4 1.8-1.7 M255.2 326.6l.9-2.2 .2-2.3 -.6-2.5 1.5-2 -.7-2.3 .4-2.4 0-2.5 1.7-1.9 M258.6 308.5l1.6 1.9 2.3 1.2 2.7-.8 2.2 1.7 1.5-2 1.9-1.5 1.5-2.3 2.8-.2 M281.2 329l-.1-3 .3-3 -1.1-1.3 -1.7-.7 .5-1.7 -.1-1.8 -2.2-2.2 -2.2-2.4 .7-3.1 -.2-3.3 M281.2 329l-1.4 1.4 -.2 2 M276.1 335.3l2.1-1.1 1.4-1.8 M231.4 264.7l-1.9 1.7 -2.6 0 -2.5-.4 -2.4 .5 M231.4 264.7l1.5 2.1 2.4 1 .8 2.6 -1.4 2.4 M234.7 272.8l-2.9 .7 -2.2 2.2 -1.6 2.6 -2.2 2.1 M222 266.5l-.7 1.9 -1.4 1.6 1 2.1 -.8 2.1 M220.1 274.2l.9 .9 M221.8 276l2.8 1.5 1.2 2.9 M215.5 259.8l1.6 1.7 1.6 1.7 1.6 1.7 1.7 1.6 M219.4 274.3l.7-.1 M223.7 287.7l2.2-.9 M225.9 286.8l-.4-1.8 -1.1-1.4 .8-1.6 .6-1.6 M261.7 274l-2.1 .8 -.2 2.2 M261.7 274l-.9-1.5 -1-1.5 -2-.7 -.3-2 -1.2-1.4 -.9-1.7 .1-1.8 0-1.9 M247 264.1l1.7-1.7 2.4 0 2.2-.6 2.2-.3 M247 264.1l-1.2 2.5 1 2.5 -1.8 2 .5 2.8 M259.4 277l-1.7 1.5 -2.1-.1 -2.1-.5 -1.2-1.9 -1.3-1.3 -1.9-.6 -1.8-.1 -1.8-.1 M289 380.6l.9 1.7 -.3 1.8 -.9 1.7 .8 1.8 M289 380.6l-1.7-.5 -1.8 .3 -1.3-1.2 -1.7-.6 -1-1.4 -1.3-1.1 -1.6-.7 -1.2-1.3 M289.5 387.6l.2 2.3 -.8 2.1 -2.3 .7 -1.1 2.2 M285.5 394.9l-2 1.1 -2.3 .4 -1.5 2.2 -2.7-.1 -1.8-1.5 -2.1-1.1 -2.5 .7 -2.1-1.6 M277.4 374.1l-2.3 .3 -2.1 1.1 -1.5 1.8 -1.9 1.4 -2.6-.4 -2.6 .5 -2.5 1.7 .1 3 M262 383.5l1.5 3 .9 3.2 1 1.7 -.1 1.9 1.3 1.5 1.9 .2 M296.6 366.4l-1.4-2.1 -.6-2.4 -1.5-2 -1.6-1.9 M296.6 366.4l.3 3 -.7 3 -2.1 2.3 -1.5 2.6 M292.6 377.3l-1.8 1.6 -1.8 1.7 M291.5 358l-1.5 1.7 -2.2-.2 -2.1-.1 -1.9 .5 -1.7-1.2 -2.1 0 -2.4-.3 -.8-2.2 M276.8 356.2l.5 2.2 -.2 2.3 .8 2.2 -.7 2.3 -.6 2.6 2 1.8 .6 2.6 -1.8 1.9 M253.6 380l2.3 .2 2.3 .4 1.8 1.6 2 1.3 M276.8 356.2l-3.1-1.5 -1.4-3 M264.9 406.4l.7-2.9 .9-2.8 1.2-2.8 .8-2.9 M328.2 375.9l-1.9-.3 -1.3-1.3 -.1-1.9 -1.4-1.3 -1.2-1.9 -2.3 .2 -1.2 1.7 -1.9 .7 M328.2 375.9l-1.2-1.7 -.4-2 .3-1.9 0-2 .6-1.9 1.1-1.6 0-2 -.1-2 M316.9 371.8l-.6-3.2 -.2-3.3 1.7-2.8 .8-3.2 M328.5 360.8l-2.5 1.1 -2.7-.6 -2.7-.4 -2-1.6 M335.3 378.6l0-2 1.5-1.2 .3-1.8 .2-1.7 1.8 .1 1.8-.3 1.7-.4 1.6-.8 M335.3 378.6l-3.2-.9 -3.2-.6 M328.9 377.1l-.7-1.2 M330.3 359.7l-1.8 1.1 M312.3 357l-1.7 .4 -1.5 .9 -.6 1.7 .2 1.7 -1.4 1.4 -1.9-.2 -.7 1.6 .1 1.8 M312.3 357l3.1-.3 M304.8 366.3l2.6 1.2 1.7 2.3 2.5 2.1 -.6 3.1 M311 375l3-1.5 2.9-1.7 M315.4 356.7l1.8 1 1.4 1.6 M320.2 388.5l0-.8 M320.2 388.5l-1.6 1.1 -1.7 1 -1.8 .7 -1.4 1.5 -.8 1.9 -1.5 1.2 -1.4 1.6 -1.9 .5 M320.2 387.7l-.8-1.8 -.4-1.9 -2 .1 -1.7-1 -2.8-1.8 -2.6-2.1 M308.1 398l-1.3-1.6 -1-1.9 -1-1.9 -1.5-1.5 M303.3 391.1l2.2-2.4 .4-3.3 1.1-3 1.8-2.6 M308.8 379.8l1.1-.6 M328.9 377.1l-1.4 1 -1.6 .8 -1.3 1.2 -1 1.5 -1.6 1.4 -1.9 .6 1.2 2 -1.1 2.1 M311 375l.7 2.4 -1.8 1.8 M292.6 377.3l.8 2.6 2.5 .9 1.7 1.8 2.3 .8 1.4-2.5 2-1.9 2.6 1.1 2.9-.3 M289.5 387.6l1.9 .5 1.8-.9 1.4 1.5 2 0 1.7 .5 1.5 1 1.9 0 1.6 .9 M296.6 366.4l2 .1 2.1 .4 2.1 .1 2-.7 M308 398.8l2.2 .6 1.6 1.7 .2 2.2 .9 2 2.2 .8 2.3 .4 1.6 1.8 0 2.5 M308 398.8l.1-.8 M319 410.8l2.2-2.5 3.3-.4 M320.2 388.5l2 2.2 M322.2 390.7l.2 2.3 -1.1 2.1 -.5 2.2 .8 2.2 0 2.5 1.7 1.6 -.7 2.5 1.9 1.8 M335.3 378.6l.8 2.5 1.5 2.1 1.9 2 -.1 2.8 M353.9 382.8l-.1-2.7 .4-2.5 M353.9 382.8l-2.6 1.9 -2.1 2.5 M354.2 377.6l-2.1-.9 -2.1-1 -1.2-2 -.6-2.3 M339.4 388l1.7-2.4 3-.6 2.4 1.4 2.7 .8 M322.2 390.7l1.9 1 1.1 1.9 2.1 .5 1.6 1.5 1.8-1.5 1.7-1.5 2.2 .9 2.4 .3 M339.4 388l-.2 1.9 .6 1.7 -1.7 .7 -1.1 1.5 M324.5 407.9l.6 0 M325.1 407.9l1.4-1.6 1-1.9 1.5-1.4 1.7-1.2 2-1.7 .1-2.5 2.5 .9 2.1-1.7 M337 393.8l.4 3 M287.4 399.7l-2.2 .5 -1.8 1.4 -1.4 1.9 .5 2.3 .9 1.9 .7 2 -.4 2.1 -.9 1.8 M287.4 399.7l1.6 .7 1.6 .7 .6 1.7 1.4 1.1 3.4 .3 3.3 .6 M299.3 404.8l-.7 2.2 -.6 2.2 -1.1 2 -1 2.1 .6 2.2 1 2.1 1 2.1 1.4 1.8 M282.8 413.6l1.4 2 1.5 2 2.4 .7 2.5 .1 2 1.5 1.3 2.2 2.4 .4 2.5-.2 M298.8 422.3l1.1-.8 M274.1 416.8l1.8-2 1.6-2.1 2.4 1.8 2.9-.9 M285.5 394.9l.8 2.5 1.1 2.3 M308 398.8l-2.3 1.3 -1.9 2 -2.5 .9 -2 1.8 M315.4 419.3l2.3-1.2 .9-2.5 .8-2.3 -.4-2.5 M315.4 419.3l-1.5 2.1 -.6 2.5 -2.6 0 -2.5 .6 -2.1-1.1 -1.6-1.7 -2.3-.4 -2.3 .2 M295.9 432l.2-2.6 1.3-2.2 1.5-2.2 -.1-2.7 M295.9 432l-2-.1 -1.7 1.1 -1.5 1.2 -1.4 1.4 M317 437.2l1.8-.1 1.7 .7 1.2 1.7 2-.3 1.4 1.5 .2 1.9 1.5 1.6 2.1-.3 M317 437.2l-.3-1.7 -.7-1.7 .4-1.8 -.9-1.7 1-1.5 1-1.5 1-1.6 0-1.8 M318.5 423.9l2.5 1.4 2 1.9 2.9-.3 2.6-1.2 1.4 2.7 2.8 .9 3 1.1 2.6-1.7 M328.9 443.9l.8-2 .1-2.2 1.6-1.4 1.3-1.7 1.8-1 1.9-.9 1.3-1.6 1.9-1 M339.6 432.1l-.9-1.6 -.4-1.8 M307.3 445.7l2.7-.1 2.6-.8 2.6 1 1.4 2.5 .9 2.4 1 2.2 .1 2.5 .1 2.5 M307.3 445.7l0-3.1 M307.3 442.6l2-2.1 2.2-1.8 2.6-1.5 2.9 0 M328.8 453.4l1.8-2.1 .2-2.7 -.8-2.4 -1.1-2.3 M328.8 453.4l-1.7 .1 -1.6 .6 -1.6-.7 -1.5-.8 -1.9 2.6 -1.8 2.7 M295.9 432l.9 1.8 1.9 1 1.3 1.4 1.8 .9 1.8 1 .9 1.8 2.2 .5 .6 2.2 M315.4 419.3l1.7 2.1 1.4 2.5 M340.7 417.2l-1.7-1.6 -1.2-2 -2.5-.5 -1.5-2 -2.6 .1 -1.6-2.1 -2-1.4 -2.5 .2 M340.7 417.2l-1.2 1.5 -.2 2 -1.2 1.6 -2.1-.1 0 1.8 .8 1.6 1.2 1.3 .3 1.8 M350.5 442.1l-.1-2.9 -1.5-2.6 M337.6 459.1l1.9-.1 1.7-.8 M337.6 459.1l-2.8-.2 -2.4-1.5 -2.5-1.3 -1.1-2.7 M348.9 436.6l-2.7 .2 -2.5-1.1 -2.7-1.1 -1.4-2.5 M482.2 482.7l-1.8-1.6 -2.3-.1 -.2-2.2 -1.3-1.8 M493.5 468.2l-3.2-.8 -3.3-.2 -3.4-.1 -3.1 1.5 M480.5 468.6l-1.1 2.1 -.1 2.4 -1.5 1.9 -1.2 2 M463.6 492.7l-.2-3.2 .9-3.2 1.4-3 -.5-3.3 M476.6 477l-2.7 1.2 -3 .4 -2.9 .3 -2.8 1.1 M446 481.3l2.3 1 2.4-.9 2.4 .6 2.2-1.4 2.5-1.2 1.7-2.1 2.2 1.7 2.8 .5 M465.2 480l-.7-.5 M439.7 472.4l1.7-1.5 -.2-2.1 M464.5 479.5l.4-2 -.4-1.9 -.3-2 -1.2-1.7 -1.6-1.1 -1.4-1.4 -.8-1.8 -.8-1.8 M441.2 468.8l-.2-3.2 2.2-2.3 2.9 0 2.8-.9 2.8 .3 1.7 2.1 2.5 .3 2.5 .7 M499.3 442.3l2.1-1.8 .5-2.6 .1-2.6 .5-2.5 M499.3 442.3l-2.6 1.1 -2.7 .4 M494 443.8l-2-2.3 -.6-2.9 -2.3-1.7 -2.1-2.1 M502.5 432.8l-1.9-1.9 -2.6 .5 -1.8-1.4 -1.9-1.4 M494.3 428.6l-2.3 .9 -1.8 1.7 -1.1 2.2 -2.1 1.4 M513.4 445.2l1.8-1.8 1.6-1.8 1.4-2.3 -.6-2.6 M507 447.1l-1.6-1.7 -2.2-.8 -1.2-2.3 -2.7 0 M517.6 436.7l-2.1-1.5 -1.9-1.8 -2.2-1.5 -1.9-1.8 M509.5 430.1l-1.7 .8 -1.7 .6 -2.1-.2 -1.5 1.5 M497.3 457.9l-2.5-1.3 -2.8 .2 -.8-2.7 -.8-2.6 M490.4 451.5l0-2.2 .7-2.2 1.3-1.7 1.6-1.6 M409.1 429.1l2.3-.5 M414.9 410.7l-.9 2.1 .2 2.2 1.7 1.4 1.6 1.5 M414.9 410.7l-1.7-1.1 -1.6-.9 -1.8 1.3 -2.1-.8 -1.6-1 -1.9 .1 -2 0 -1.4-1.5 M411.4 428.6l2.4-2.1 .7-3.2 1.6-2.6 1.4-2.8 M380.8 405.7l-1.8 .1 -1.7 .2 -1.3-1.5 -2 .4 M372.7 385.7l-1.3 1.6 M374 404.9l-.6-2.2 .6-2.3 -.7-2.1 .1-2.3 -2.1-1.4 -.7-2.5 .9-2.3 -.1-2.5 M353.9 382.8l2.4 1.6 2.8 .8 1.4 2.8 2.6 1.4 M354.2 377.6l1.1-1.4 .7-1.6 1.6-.7 1.8 .1 3.3 .7 2.9-1.8 M363.1 389.4l2.3-1 1.3-2.2 2 1.9 2.7-.8 M372.2 435.7l0-.2 M348.9 436.6l2.6-.5 2.1-1.5 2.1-1.6 1.7-1.9 M357.4 431.1l1 2.1 2.3 0 2-.2 2 .7 2-.1 1.6 1.3 1.9 .5 2 .1 M385.1 420.6l-3 0 -2 2.3 -2.7 .5 -2.4 1.5 M372.2 435.5l1.5-2.5 -.6-2.9 1.1-2.6 .8-2.6 M283.9 751.2l-.7 3.1 .6 3.1 M272.6 762.8l.4 .2 M283.8 757.4l-3.1 .9 -2 2.5 -2.6 1.8 -3.1 .4 M270.9 777l.5-1.9 .5-1.9 1.9-.7 1.4-1.4 -1.8-1.2 .2-2.2 .1-1.9 -.3-1.8 M284.8 774.6l1.1-1.9 M285.9 772.7l-1.9-.6 -1.5-1.2 -1.9-.7 -1.8-.6 -1.9-.9 -.8-1.9 -1.8-1 -.9-1.8 M273.4 764l-.4-1 M234.9 490.4l1.3-2 .9-2.2 2.5 0 1.9-1.8 2-1 2-1 2.3-.2 2.2-.5 M259.5 498.8l1.1-2.2 .4-2.3 -1.6-2.1 .3-2.5 M259.7 489.7l-1.8 .5 -1.6-.9 -1.5-.9 -1.6-.7 -1.1-1.6 -1.8-.7 .2-1.9 -.5-1.8 M314.2 467l-2 .1 -1.9 .5 -1.9-1.2 -2 1.1 M314.2 467l1.4-2.6 -.7-2.8 2-1.8 1.8-1.9 M307.3 445.7l-.8 2 -1.9 .9 -.9 2 .7 2 -1.1 1.7 -1.9 .7 -1.8 1.1 -2-.6 M297.6 455.5l1 1.7 1.8 1 2.2 .2 1.1 1.8 1.1 1.7 .8 1.8 -.1 2 .9 1.8 M285.8 452.3l1 1.5 1.3 1.3 M297.6 455.5l-2.5-.8 -2.2-1.5 -2 1.9 -2.8 0 M189.4 519.7l-1.9 1.1 -2.2-.6 -1.2-1.7 -1.3-1.7 -1.5-1.3 -1.1-1.7 -.1-2.1 .7-1.9 M189.4 519.7l1.1-2 2.3-.4 1.9-1.4 -.3-2.4 2.2-.8 2.2 .7 2.4-.9 .5-2.4 M198.2 501.3l.7 2.3 1.3 2 1.2 2.1 .3 2.4 M198.2 501.3l-1.7-2.5 -3-.5 -3 .8 -2.5-1.7 M180.8 509.8l.7-2.9 -1.9-2.4 2.5-1.5 1.2-2.6 M188 497.4l-3.1 .4 -1.6 2.6 M189.2 522.5l.2-2.8 M168 516.4l1.5-1.2 .8-1.9 1.7-1 1.2-1.5 2 .5 2 .5 1.6-1.4 2-.6 M210 514.7l-2.4-.6 -1.9-1.5 -1.6-2 -2.4-.5 M210.6 490l-1.2 2.9 1.9 2.5 -1.4 2.3 -2.1 1.7 -2.7 .1 -1.9 1.8 -2.5 .4 -2.5-.4 M187.9 481.2l-1.4 1.9 -1.5 1.9 -2.3 1.5 .4 2.8 -.3 2.6 1.8 1.9 1.9 1.6 1.5 2 M168.7 495.4l1.1 1.8 1.3 1.7 2.1 .6 2 .6 2.1-.1 1.9 .6 2.1 .1 2-.3 M239.3 545.8l-1.3-1.8 -1.6-1.6 -2.2-.5 -2.1-.8 -2.1-.4 -2.2 .2 -2.4-.8 -1.8 1.8 M239.3 545.8l-.8 1.9 1.3 1.6 .4 1.8 .5 1.8 1.2 1.6 -.4 1.9 1.3 1.7 -.9 1.9 M223.6 541.9l-1 2.8 -.1 2.9 -.9 3.2 2.1 2.5 -1.5 2.5 -.5 2.9 -2.3 2 -.6 3 M218.8 563.7l1.5-1 1.8 .1 .4-1.6 .4-1.7 3-.1 2.7 1.3 2.5 .9 2.4 .8 2.6 0 2.4 1.1 M241.9 560l-1.1 2.3 -2.3 1.2 M246.5 539.7l-1.8 1.7 -2.4 .7 -1.4 1.8 -1.6 1.9 M222.1 538.9l1.5 3 M215.8 566.1l1.6-1.1 1.4-1.3 M242.6 581.8l.3-.4 M242.9 581.4l.6-2.5 -.5-2.6 -2.5-1 -.9-2.6 -1.8-1.9 -.9-2.4 1-2.4 .6-2.5 M356.7 573.5l-1.6 3 .4 3.4 0 1.9 .9 1.7 -1.2 1.5 -1.6 1.1 M352 564.1l-1.6 2.8 -2.6 1.8 -.8 1.7 -1.8 .6 -1.8 .3 -1.6-1.1 -2.7 1.3 -2.7 1.2 -1.7-1.1 -1.7 1 -1.1 1.4 -.6 1.7 M331.3 575.7l-1.8 1.9 .9 2.5 M330.4 580.1l-.3 2.4 .9 2.2 .6 2.2 .6 2.3 1.8 1.6 2.4 .4 1.4 2.2 2.5 .4 M340.3 593.8l1.9-.5 1.6-1.1 1.1-1.9 2.1-.4 1.6-1 1.7-.9 1.8-.7 1.5-1.2 M380.1 581l-2.3 1.4 -2.6 .5 -1 2.3 -.6 2.6 -.8 2.4 -.1 2.6 -3 .1 -1.3 2.7 M353.6 586.1l2.2 .8 2.4-.3 1.7 1.7 2.2 .9 -.3 2.7 2.3 1.6 2.5 .3 1.8 1.8 M368.4 595.6l-.8 1.7 -1.3 1.4 .6 1.9 .7 1.7 -.4 1.9 1.2 1.5 1 1.4 .3 1.7 M265 583.4l-1.8-2.2 -2.6-1 -1.8-2.4 -2.8-.7 M265 583.4l1.8-.3 1.5 1.1 1.8-.7 .5-1.8 2.3-2 1.7-2.4 M256 577.1l-1.4-1.9 -.5-2.4 0-2.4 .9-2.3 1.2-1.9 .3-2.3 2.3-1.3 .1-2.6 M274.6 577.3l-.6-1.9 -.2-2 1.3-1.6 .3-2 .7-2.1 -.4-2.2 -1.5-1.5 -1.8-1.2 M272.4 562.8l-3-.3 -2.8-1.2 -.4-1.7 -1-1.4 -1.6-1.2 -1.8 .8 M261.8 557.8l-1.7 .9 -1.2 1.3 M242.9 581.4l1-1.6 1.4-1.3 1.9-.1 1.8-.7 1.7 .8 1.8-.8 1.7-.8 1.8 .2 M246.7 600.2l2.3-.7 2.3 0 2.3 0 2.1-1 2.5-.8 2.3 1.1 2.4-.6 1.7-1.7 M264.6 596.5l2.1-.6 .4-2.2 -.1-1.8 .5-1.9 .4-1.9 -.2-1.9 -2-.8 -.7-2 M282.7 580.4l-1.9-1.2 -1.7-1.6 -2.3-.2 -2.2-.1 M285.3 589.9l-.9 2.2 -.2 2.4 -1.3 2.1 -1.5 1.9 -2.6 .1 -2.5 .4 -1.6 2 -1.5 2.1 M264.6 596.5l2.3 1.9 2.8 .4 2 2 1.5 2.3 M241.9 560l2.1 .4 2.1-.5 2.1 .9 2.2-.5 2.1 .6 2.2 .2 2.1-.6 2.1-.5 M285.2 558.1l-1.8-.1 -1.7 .2 -1.5 1.1 -1.9 0 -1.5 .8 -1.4 1 -1.6 .7 -1.4 1 M285.2 558.1l-.4 2.2 1.4 1.7 2.1 .9 .5 2.2 1.3 1.5 1.6 1.2 .8 1.9 .8 1.8 M262.2 543.3l-1.2 1.7 -1.2 1.8 -2.1 1.2 -.1 2.4 1 2.2 -.4 2.4 1.3 2 2.3 .8 M246.2 620.6l3-.5 2.7 1.4 2.9-.5 2.9 0 3-.3 2.9-.3 2.7 1.3 3 .4 M273.2 603.1l.9 3 M274.1 606.1l-1.9 1.6 .4 2.4 -.7 2.1 -1.6 1.5 -.3 2.1 -1 2 .5 2.1 -.2 2.2 M295.4 592.7l1.3 2.7 .2 3 2.4 1.9 3 .3 -1.5 2.2 -.5 2.7 -2.1 2.2 .9 2.9 M274.1 606.1l2 .8 2.1 .5 2-1.4 2.2 1 2.5 .1 1.3-2.2 -.3-2.5 2.1-1.5 .8 1.7 1.5 1.3 .2 2.2 2 .8 1.3 1.6 2 .2 1.4 1.4 1.9 .5 M302.3 765.7l-.4-2.1 -1-2 -1.6-1.4 -1.9-1.2 M302.3 765.7l-.6 3.2 -1.2 3 M297.4 759l-2.5 1.2 -.5 2.7 -2.5 .6 -2.5-.6 M300.5 771.9l-1 1.5 -1.7 .8 -1.7-.3 -1.7 .1 M289.4 762.9l-2.2 1.5 -.1 2.6 .4 2.3 .4 2.3 M294.4 774l-1.7-1.2 -1.9 .8 -1.5-.9 -1.4-1.1 M312.5 763.8l-2.5-1.8 -3.1-.1 -1.9 2.4 -2.7 1.4 M298.1 757l-.7 2 M308.3 778l-.7-2.7 -1.9-2 -2.8-.1 -2.4-1.3 M283.8 757.4l1.9 1.2 2.2 .2 .8 2 .7 2.1 M297.4 788.7l-1.1-1.8 -.9-1.9 -1.9-1 -1-2 1.2-1.7 .3-2.2 .5-2 -.1-2.1 M285.9 772.7l2-1.1 M215.5 237.5l-.3-1.3 M215.5 237.5l2.7 2 3.3 .8 2.9 1.6 2.4 2.2 M215.2 236.2l2-1.8 .9-2.5 1.7-2.1 2.3-1.3 M226.8 244.1l-.2-2.8 -.4-2.7 2.3-1.7 1.9-2 M230.4 234.9l-.5-1.9 -1.4-1.4 -.6-2.1 -2.1-.6 M222.1 228.5l1.9-.4 1.8 .8 M208.8 252l.6-2 .5-1.9 .9-1.8 .7-1.9 1.3-1.6 1.3-1.5 .1-2.1 1.3-1.7 M204.3 231.6l1.6-.2 M205.9 231.4l-1.1 1.8 1.1 1.7 1.8 .4 1.3 1.3 3.2 .7 3-1.1 M205.9 231.4l-.2-3.2 2.8-1.7 1.1-2.6 1.9-2 M222.1 228.5l-1.7-1.3 -2-.9 -.4-2.2 .7-2.1 M211.5 221.9l2.3 .3 1.3-1.9 2.1 .2 1.5 1.5 M187 217.4l2.6-.1 2.4-.9 2.5-.2 2.5-.7 2.8-1.3 2.5 1.9 2.4-1.1 2.3-1.2 M211.5 221.9l-1.1-2.1 -1.6-1.7 -.8-2.2 -1-2.1 M202.6 188.6l.8 1.8 .6 1.8 1.9 0 1.9 .5 -1.1 1.4 -.2 1.9 .6 1.6 .6 1.7 .3 1.7 .9 1.6 1.3 1.2 1.6 .9 .1 2 .5 1.9 -1.9 .8 -1.3 1.6 M209.2 211l-.2 2.1 -2 .7 M239.7 121.3l-.9 2.4 M236.6 122.4l1.2 1.2 M238.8 123.7l-1-.1 M438.4 390.3l2.2-1.5 2-1.6 M438.4 390.3l-1.8-.6 -1.7-.9 -1.5-1.3 -2 .1 M437.4 374.2l-3.2 .2 -2.2 2.3 M437.4 374.2l2.2 .3 2.2 .4 M441.8 374.9l1.5 3 1.6 2.9 -.6 3.4 -1.7 3 M431.4 387.6l1.3-2.6 -.7-2.8 -.1-2.8 .1-2.7 M414.7 372.2l1.6 1.2 2 .5 .8 2.2 2.2 .5 M424.9 365.4l1.2 2.2 -.7 2.4 1 2.3 -.8 2.3 M421.3 376.6l1.6-2.3 2.7 .3 M429.4 361.4l2.1 1.8 2.8 .2 M434.3 363.4l1.3 2.7 -.7 3 1.5 2.4 1 2.7 M432 376.7l-3.3-.9 -3.1-1.2 M534 450.4l-1.6-2.7 -.7-3 M517.6 436.7l.7-.2 M531.7 444.7l-2-.4 -1.6-1.2 -2.3-.5 -.7-2.2 -1.8-1 -2.1 0 -1.5-1.4 -1.4-1.5 M503.6 341.5l1.1 2.6 -.8 2.7 -1.5 2.3 -.1 2.7 2.4 1.4 2.9 .5 1.7 2.2 .6 2.8 M494.5 356l1 2.4 2.4 1.2 2.1 1.4 1.9 1.7 M501.9 362.7l2.4-.2 1.6-1.8 1.9-1.3 2.1-.7 M489.4 364.1l-.2 2.2 .9 2.1 2 .9 1.5 1.6 M493.6 370.9l2.4 .6 2.2-1.2 1-2.4 2.5-.7 M501.9 362.7l.7 2.3 -.9 2.2 M518.3 355.9l-1.7 1.2 -1.2 1.8 -2.1 .2 -2.1 .3 M511.2 359.4l-1.3-.7 M492.7 375.5l3.1 1.1 1.2 3.1 M492.7 375.5l-2.5 1.8 -3.1-.2 M497 379.7l-.2 2.4 -.1 2.3 -.1 2.5 -2 1.6 M487.1 377.1l-1.1 1.4 -.1 1.9 -1.2 1.2 -1 1.4 M494.6 388.5l-2.3 .2 -2.3-.1 -1.9-1.7 -2.4 .1 M485.7 387l-1.5-1.7 -.5-2.3 M479.3 369.4l.4 3.1 2.7 1.6 2.5 1.3 2.2 1.7 M493.6 370.9l-.5 2.3 -.4 2.3 M473.6 378.8l.9 2.1 1.8 1.5 M476.3 382.4l1.8-.6 1.9 .2 1.9 .2 1.8 .8 M472.6 392.2l.9 1 M472.6 392.2l-.5-2.8 0-3 1.1-3 3.1-1 M473.5 393.2l2.9-.3 1.7 2.4 1.9-2.1 2.8 .2 M482.8 393.4l1.6-1.3 1.7-1.1 -.7-1.9 .3-2.1 M509.5 430.1l-.4-3 .2-3.1 1.2-3.1 -1.3-3.1 M518.3 436.5l2.7-1.6 2.6-1.7 2.4-2.3 .1-3.4 M526.1 427.5l-1.4-2.9 -1.4-2.8 -1.7-.9 -1.1-1.5 -.9-1.9 1.2-1.7 M520.8 415.8l-3-.3 -3 .2 -3.1 .4 -2.5 1.7 M617.9 405.2l2.2-.3 2.1 .8 2.4 1 2-1.7 M629.9 417.9l1.7-1.4 .3-2.2 -.8-1.9 -.3-2.1 M630.8 410.3l-1-1.5 -.5-1.7 -1-1.5 -1.7-.6 M642.2 419.8l.5-1.7 -.3-1.8 .1-1.8 -.9-1.5 -1.8-1.2 .1-2.1 0-1.8 .7-1.7 M642.2 419.8l-.2 .2 M630.8 410.3l2.6-.7 2.5-1 2.4-1.1 2.3-1.3 M642.2 419.8l1.9 .1 1.9-.3 1.9-.5 1.9-.3 .4-2.3 1.8-1.3 2.2 .2 2.1-.7 M640.6 406.2l1.4-2.6 M642 403.6l2.5-.4 M644.5 403.2l2.6 .9 .5 2.7 2.3 .3 2.4-.2 1.6 2.2 2.7 .5 -1 2.5 .7 2.6 M675.6 405.3l-.7 2.5 -2.5 .5 -2.1-.8 -2.2 .1 -2.1 0 -2.1 0 -1.5-1.6 -1.7-1.1 M660.7 404.9l.6 3 -2.4 2 -2.4 1.8 .5 3.1 M626.6 405l.9-2.4 -.4-2.6 1.6-2.2 2.6-.4 M642 403.6l-2-2.1 .9-2.8 -2-2.2 -2.9 .8 M631.3 397.4l2.4-1.2 2.3 1.1 M622.3 388l2.4 2.2 2.1 2.5 2.7 1.9 1.8 2.8 M577.2 370l-3.1-.1 -3 .4 -2.9-.9 -3-.9 M577.2 370l1.8-.7 1.6-1.1 M580.6 368.2l.7-2.6 -.5-2.7 M568.8 356.4l1.7-1.1 1.6-1.3 M580.8 362.9l-2-2.5 -2.8-1.5 -1.7-2.7 -2.2-2.2 M569.3 343.5l-.2 2.8 2.4 1.6 .6 2.3 .4 2.4 M572.1 354l.4-1.4 M655.1 317.5l-1.8 1.7 M644.6 304.2l-2.9 1.5 -3.2-.2 -.5 3.2 -1.2 2.9 M653.3 319.2l-1.6-1 -1.8-.2 -1.7-.6 -1.7-.6 -2 .4 -1 1.7 -1.1 1.4 -1.2 1.4 M636.8 311.6l2.3 2.3 -.9 3.1 1 2.6 2 2.1 M264 180.4l-2.4-2.1 M257.4 204.5l-2.2-.2 -2.2-.6 -2-1.1 -.9-2.2 -2 .8 -2.1 .4 -1.7 1.3 -2 .8 M242.3 203.7l-.3-2.6 .7-2.5 -1-2.6 -2.7-.9 M261.6 178.3l-2.7 .2 -1 2.5 -1.5 2.2 1.4 2.4 -1.9-1.3 -2.3-.3 -2.4-.1 -1.7 1.7 -1.9 .2 -1.2 1.6 -.6 1.8 -1.5 1.2 -1 1.4 -1.4 1.1 -1.4 1.2 -1.5 1 M239.7 233.5l.9-3 M239.7 233.5l-2.3 .6 -2.3 .2 -2.2 1.4 -2.5-.8 M240.6 230.5l-.1-2.8 -.5-2.8 -3-.5 -1.8-2.4 M225.8 228.9l1-2.3 1.5-2 2.2-1.3 2-1.5 M232.5 221.8l2.7 .2 M253.2 222.8l-.2 1.2 M253.2 222.8l-1.9 1.4 -2.2-.8 -2.1 .1 -1.8-1.2 -.2-2.3 .7-2.3 -2-1.2 -1.9-1.4 M253 224l-1.9-.2 -1.8 .4 -1.7 .8 -1.8 .4 -1.8 .7 -.9 1.7 -1.8 .8 -.7 1.9 M235.2 222l.5-2.6 2-1.6 1.2-2.6 2.9-.1 M253.2 222.8l.8-2.1 -1.4-1.7 1.6-1 1.4-1.2 2.8-1.9 3.1-.8 M242.3 203.7l-1.8 1.1 .1 2.1 M241.8 215.1l-.1-2.2 .5-2.1 0-2.2 -1.6-1.7 M446.4 350.1l-.6 1.6 -.6 1.7 .9 1.6 -.6 1.8 M446.4 350.1l0-2.9 -1.3-2.7 -2.1-2 -2.6-1.3 M445.5 356.8l-.5 0 M445 356.8l-1.7-1.2 -1.8-1.3 -2-.7 -2.2 .3 -1.7-1.3 -2.2-.3 -2.2-.8 -.7-2.2 M440.4 341.2l-1.5 1.4 -.1 2 -1 1.7 .1 1.9 -1.9 .3 -1.9-.6 -1.5 1.3 -2.1 .1 M446.4 350.1l.7-2.3 2-1.5 1.8-1.6 2.3-.5 M451.5 334.4l-1.9 2.7 -2.9 1.6 -3 1 -3.1 .7 M440.4 341.2l.2-.8 M458.1 321.1l-1.9-.1 -1.4 1.3 -1.8 .3 -1.7 .5 -1.6-1.1 -2 .1 -1.6 .9 -1.9 0 .1 2.1 -.9 1.9 -.7 2 -1.5 1.6 -2-1 -2.1 1 -1.8 1.2 -2.2-.1 M440.6 340.4l-2.5-2.3 -3.3-.3 -1.6-2.8 -.1-3.3 M445 356.8l-1.8-.4 -1.6 .6 -1.3 1.2 -1 1.4 -1.2 1.3 -.4 1.8 -1.8 0 -1.6 .7 M427.5 350.7l1.7-1.3 M430.5 349.3l-1.3 .1 M444.4 373.8l2.4-1.2 2.4 1.2 2.4 .1 2.2 1.2 M444.4 373.8l-.8-2.4 -1.3-2.1 -.7-2.5 -1.7-1.9 1-2.4 .6-2.5 1.9-1.8 2.2-1.3 M455.9 365.8l-.3 2.3 -.4 2.3 -.4 2.3 -.7 2.2 M455.9 365.8l-2.4-2.2 -1.1-3 -2.1-2.4 -3.1-1 M454.1 374.9l-.3 .2 M447.2 357.2l-1.6-.3 M445.5 356.8l.1 .1 M441.8 374.9l2.6-1.1 M465.6 373.5l-2.9-.7 -2.9 .8 -3-.2 -2.7 1.5 M465.8 360l-1.6 2.9 -3.3 .1 -2.4 1.6 -2.6 1.2 M460.6 353.2l-2 0 -1.4 1.3 -1.8-.3 -1.8 .1 -1.6 .8 -1.6 .5 -1.7 .7 -1.5 .9 M358.1 359.8l1.9-.1 1.9 .1 M367.1 369l-1.6-1.7 -1-2.1 .8-2.6 -1.9-1.9 M361.9 359.8l1.5 .9 M401.4 354l.9 1.5 1.3 1.3 .2 1.8 0 1.8 M401.4 354l-.6-2.2 1-2 .2-2.2 1.1-1.8 M419.6 350.5l-1.4-1.7 -1.4-1.6 M416.8 347.2l-1.5-.9 -1.3-1.3 -1.8-.1 -1.8-.1 -1.7 .1 -1.7 0 -1.7 .2 -1.7 .1 M403.1 345.8l.5-.6 M302.3 349.9l-1.7-1.1 -1.8 1 M302.3 349.9l1.7-.7 1.6-.8 1-1.6 1.8-.7 .9-1.7 -.2-1.9 1.4-1.2 .4-1.9 M298.8 349.8l.2-2.5 -1.5-1.9 0-2.8 -2.3-1.3 M295.2 341.3l3.1-.4 2.3-2.2 1.3-2.9 2.7-1.8 M310.9 339.4l-.5-2.4 -1.1-2.2 -2.6 1.1 -2.1-1.9 M312.3 357l-.3-1.7 -.9-1.6 -1.7-.4 -1.8-.2 -2.7-1.4 -2.6-1.8 M291.5 358l1.7-2.4 .8-2.8 1.7-2.6 3.1-.4 M315.4 356.7l1-2.3 -1-2.2 2-1.4 .7-2.3 M318.1 348.5l-1.5-2.1 -2-1.8 .5-2.8 -1.9-2.3 M313.2 339.5l-2.3-.1 M279.6 332.4l1.1 2.2 2.3 .9 1.6 2.1 2.6-.3 2 1.2 1.5 1.7 2.3 .3 2.2 .8 M330.9 296.6l2.5-1.8 3 .8 2.7-.4 2.8-.2 M330.9 296.6l-2.1-1.4 .2-2.5 M341.9 295l.5-3.2 -1.7-2.7 .9-3.1 2.5-1.9 M329 292.7l1.1-2.3 -.7-2.5 1.8-1.6 .7-2.4 M331.9 283.9l3.2-.5 3-1.4 3.1 .7 2.9 1.4 M331.9 283.9l-.9-2.7 -1.1-2.6 -2.4-1.5 -2.2-1.8 M358.3 272.2l-1.8-1.1 -2.1 0 -2 0 -1.9 .3 -1.7 1.6 -2.2 0 -2-.6 -2-.5 -2-.5 -1.7-1.2 -1.9-.9 -2.1 .3 -2-.1 -2-.4 -2.4-.4 -1.5 1.8 M327 270.5l-1.2 2.3 -.5 2.5 M296.3 220.2l-.1 .1 M273 224.3l-1.1-2.2 -2-1.3 .5-2.4 -.8-2.3 M273 224.3l2 .4 1.9 .4 .6 2.3 2.3 .5 1.9 .3 1.9 0 1.9-.4 1.9 .5 M296.2 220.3l.9 1.8 -.7 1.9 -1.2 1.4 -1 1.6 -1.3 1.3 -1.8 .5 -1.9-.2 -1.8-.3 M214.7 255.7l3.2 .5 3.1 .2 2.3-2.3 1.2-2.9 M231.4 264.7l.5-2.1 1.3-1.7 M233.2 260.9l-2.2-1.1 -1.9 1.4 -1-1.8 -1.2-1.7 -.1-1.9 -1.6-1.1 .7-2 -1.4-1.5 M247 264.1l-.8-2.6 -2.6-.5 -2.2-1.2 -.9-2.3 M234.7 272.8l2.5-.3 1.5 1.9 1.9 1.4 2.2-.1 M245.5 273.9l-2.7 1.8 M233.2 260.9l2.2-1.3 .4-2.6 2.2 1.7 2.5-1.2 M226.8 244.1l.4 1.2 M227.2 245.3l-2.1 2.6 -.6 3.3 M268.2 234.1l.8-2.6 .8-2.6 1.2-2.6 2-2 M268.2 234.1l-1 1.7 -1.4 1.2 -1.9 .1 -1.8-.8 M253 224l-.1 3 .3 2.9 2.1 2.2 2.3 1.9 M262.1 236.3l-2.2-1.3 -2.3-1 M257.2 258.4l-1.1-1.6 -1-1.8 -.5-1.9 .1-2.1 M257.2 258.4l2.2 .5 2 .9 2.1-.5 2-1.1 M254.7 251l1.5-1.9 2.2-1.2 1-2.6 2.8-.3 M262.2 245l2.3 1.8 2.8-.3 1.3 2.3 1.5 2.2 M265.5 258.2l1.7-1.3 1.2-1.9 .7-2 1-2 M282.7 302.8l-1.6-.4 -1.8-.1 -1.4 .9 -1.2 1.2 M276.7 304.4l-1.8-1.6 -.7-2.2 -1.8-1.4 -2.3-.7 .6-2.1 1.2-2 -1.2-2.3 1.6-2.1 M291.3 288.3l-2.2-1.7 -1.6-2.2 M272.3 290l1-2.5 1.9-1.8 M287.5 284.4l-3.1 .4 -3.1-.1 -1.8-.2 -1.5-1.1 -.8 1.8 -2 .5 M222.3 305.7l3.1 .3 2.2-2.2 2.8-1.2 2.9 .9 M225.9 286.8l1.4 1 1.7 .6 1.4 1 1.4 1.1 M231.8 290.5l.4 1.7 .6 1.6 -.9 1.5 -.1 1.8 -.9 1.6 .8 1.8 .1 1.8 1.5 1.2 M242.8 275.7l1.2 2.6 -.8 2.6 -.9 2.5 -.3 2.6 M231.8 290.5l3.1-1.3 1-3.3 3.1-.3 3 .4 M234.9 326.4l2.3-1.5 .5-2.8 .5-2.5 .5-2.5 2-2.3 .7-2.9 -.9-2.9 -2.5-1.9 M238 307.1l-2.8-1.2 -1.9-2.4 M320 303l.7 2 .7 1.9 -1.3 1.7 -.5 2.1 M320 303l-1.6-1.2 -.7-1.8 -1.2-1.7 -1.9-.6 M314.6 297.7l-2.5 1.7 -2.9 .8 M309.2 300.2l-.6 2 0 2.1 -1 1.9 0 2.1 M307.6 308.3l1.3 1.7 1.1 1.9 1.2 1.7 1.2 1.8 M312.4 315.4l2-1.5 2.4 .3 1.3-1.9 1.5-1.6 M330.9 296.6l-.2 1.8 -.8 1.7 M316.6 290.3l1.7 .6 1 1.6 1 1.6 1.8 .5 1.3-1.4 1.9-.6 1.9-1.1 1.8 1.2 M316.6 290.3l-.5 2.2 -2.1 1.1 .2 2 .4 2.1 M329.9 300.1l-2.7-.3 -2.3 1.4 -2.5 .7 -2.4 1.1 M301.5 296.6l2.2 .6 1.3 1.9 2.1 .5 2.1 .6 M293.8 306.4l1.9 2.6 M295.7 309l1.7 .5 1.7-.1 1.5 .9 1.2 1.2 .7-1.7 1.8-.8 1.5-1.1 1.8 .4 M341.9 295l2.3 1.4 .6 2.7 M344.8 299.1l-1.1 2.7 .6 2.9 -1.2 2.8 -2.7 1.3 M329.9 300.1l1 3.2 1.8 2.8 M340.4 308.8l-1.7-1.2 -1.9-.8 -2.1-.1 -2-.6 M319.6 310.7l2-1 2.1 .8 2.1 .7 .9 2.1 M332.7 306.1l-1.1 2.5 0 2.7 -2.2 1.6 -2.7 .4 M311.7 318.6l.1 2 1.3 1.5 M311.7 318.6l-1.7 1.2 -2 .3 -2 .4 -2-.4 -1.5-1.8 -2.3-.8 -2.1 .8 -1.9 1.3 M313.1 322.1l-1.9 .2 -1.8 .4 -1.6 1.1 -1.6 1.1 -.7 1.9 -1.5 1.3 .8 2 -.5 2 M304.3 332.1l-1.3-1.5 -.1-2 -1.6-.9 -1.4-1.3 -2.1-.2 -.9-1.9 -1.8-.1 -1.8-.5 M296.2 319.6l-2.2 1.5 -.7 2.6 M295.7 309l-.9 2.8 -1.2 2.6 2.2 2.2 .4 3 M312.4 315.4l-.7 3.2 M281.2 329l1.7 .8 1.8-.7 1.3-1.1 1.7-.5 1.7-1.4 0-2.1 1.9-.4 2 .1 M304.6 334l-.3-1.9 M275.1 306.5l1.6-2.1 M373.5 309.9l2 .6 2 .1 .9-1.8 1.5-1.4 -.2-1.9 .8-1.8 1.8-.7 1.2-1.4 -.6-1.7 .5-1.8 -.7-1.5 -.4-1.7 .4-2.1 -1-1.8 1.4-1.5 1.8-.9 1-3 .5-3.1 1.8-2.7 .4-3.2 -1.4-2.8 -.4-3.2 -1.8-.9 -.1-1.9 .3-1.7 .4-1.7 M373.5 309.9l-.1 2.4 -2 1.1 -2-.3 -2 .4 M367.4 313.5l-1.7-.2 -1.5-.9 M364.2 312.4l-1.1-1.7 -1.9-.6 -1-1.6 -.7-1.7 .3-2.3 1.4-1.7 -1.5-1.5 -1.2-1.8 M358.5 299.5l2.1-2 2.4-1.6 2.6-1.4 2.8-.7 2.2-2.3 -.5-3.2 0-3.3 2.9-1.6 1.2-2.8 -.3-3.1 .6-2.9 .1-3 3.2 0 2.8-1.8 1.2-2.9 2.6-2 M344.8 299.1l2.1-.1 1.6 1.2 1.3-1.4 1.4-1.3 1.5 .9 1.2 1.2 1.8-.7 1.6 1.2 M357.3 300.1l1.2-.6 M409.8 450.3l2.7 .5 2.3-1.4 1.5-2.6 2.9 .2 M419 467.3l-.9-1.8 .1-2.1 -.1-2.2 1.4-1.6 1.1-1.8 2-.9 1.8-1.5 2.2 1 M426.6 456.4l-.8-3.1 -1.2-3 -2.7-1.6 -2.7-1.7 M411.4 428.6l2.1 .5 .7 2.1 .2 2 1.1 1.6 2 .4 1.3 1.5 1.8 .3 1.9 .5 M419.2 447l.4-2.8 2.4-1.6 .5-2.5 0-2.6 M480.5 468.6l.5-2.5 .3-2.6 -1.4-2.1 -1.7-1.9 M459.8 460.9l-1.5 2.2 .1 2.7 M459.8 460.9l2.7 .6 2.1-1.9 2.7-1 .6-2.8 M467.9 455.8l2.1 2 2.6 1.1 2.7 .9 2.9-.3 M490.4 451.5l-3.3 .3 -3.2 1.1 M483.9 452.9l-2.1 .9 -1.7 1.6 -.9 2.1 -1 2 M486.4 434.7l-.3-1.7 -1-1.4 -1.8 .5 -1.7-.9 -.9-2.8 -.6-2.9 M486.4 434.7l-2.7 .9 -2.8 .4 -1.8 2.1 -1.2 2.6 M477.9 440.7l-1.9 .5 -1.7-1.1 M474.3 440.1l-.5-1.7 -.7-1.8 -1.3-1.2 -1.2-1.5 .1-1.9 -1.4-1.4 -1.2-1.5 .1-1.9 M480.1 425.5l-3-1 -3.2 .1 -3 1 -2.7 1.6 M493.7 417.1l-2.1-1.4 -2.5 0 -2 1.5 -2.4 .7 M493.7 417.1l-2 2.6 1 3.2 .9 2.8 .7 2.9 M484.7 417.9l-2.3 1.2 0 2.5 -.6 2.3 -1.7 1.6 M487 434.8l-.6-.1 M483.9 452.9l-2.1-.4 -2-.6 -.3-2.1 -1.2-1.7 .3-1.9 .1-1.8 .7-2.1 -1.5-1.6 M466.9 446.6l1.7-1.8 2.3-1.1 2-1.6 1.4-2 M466.9 446.6l-1 2.3 -.4 2.5 1.2 2.2 1.2 2.2 M473.5 393.2l.6 1.6 1.4 1.1 -.7 1.6 0 1.8 -.8 3.1 .2 3.1 M482.8 393.4l1.2 1.9 1.7 1.4 -.5 2.6 2 1.6 M487.2 400.9l-1.8 .3 -1.1 1.6 -1.8-.7 -1.8 .6 -1.7 .7 -1.4 1.1 -.3 1.9 -1.2 1.3 M474.2 405.5l1.9 2.2 M449 400.7l2.7-1 2.4 1.6 1.7 2 2.5 .9 M449 400.7l.6-2.9 1.2-2.8 -.5-2.9 .6-3 M460.2 402.7l-1.9 1.5 M460.2 402.7l1.9-2.6 2.2-2.4 -.4-3.2 -.4-3.3 M463.5 391.2l-1.9-2.7 M461.6 388.5l-2.3-2.4 -3.3-.2 M456 385.9l-3 .9 -2.1 2.3 M472.6 392.2l-2.5-1.1 -1.8-2.1 -2.9 0 -1.9 2.2 M474.2 405.5l-2-.4 -2.1-.1 -1.8-1.3 -.6-2.1 -1.1 2 -2.3 .8 -2.4 .1 -1.7-1.8 M469.2 378.1l.7 1.9 -1 1.6 -.5 1.8 -.6 1.7 -1.6 .8 -1.7 .6 -1.6 .8 -1.3 1.2 M453.8 375.1l-1.6 2.8 .4 3.1 1.9 .1 1.2 1.4 .2 1.7 .1 1.7 M442.6 387.2l2.4-.9 1.8 1.7 2.4-.6 1.7 1.7 M476.1 409.5l0-1.8 M476.1 409.5l-1.3 1.2 -.6 1.7 -1.9 .6 -.4 1.9 -1.3 1.3 -1.8 .4 -.7 1.7 -1.6 .8 M458.3 404.2l1.1 1.5 .7 1.6 -1 1.5 -.9 1.5 M458.2 410.3l2.3 1.9 1.9 2.4 2.4 2 1.7 2.5 M417.5 417.9l3.1 .3 3.1-.5 3 1.5 3.2-.6 M422.5 437.5l2.7-.9 2.4 1.7 2.3-1.2 1.9-1.7 M431.8 435.4l-.3-2.7 2-1.7 M433.5 431l-1.7-1.1 -2-.4 .2-2.3 -1.7-1.4 0-1.9 .5-1.7 .1-2 1-1.6 M439.7 400.8l2.1 .8 2.1 .8 M439.7 400.8l-2.7 .2 -1.1 2.3 -2.3-.4 -2.2 1 M443.9 402.4l1.2 1.6 .7 1.8 -1 1.6 -1.1 1.6 -.1 1.7 -.2 1.7 .8 1.5 .6 1.6 M431.4 403.9l-.7 3 .2 3.1 1.2 1.4 1.1 1.3 -.5 1.8 -.8 1.6 M431.9 416.1l1.3 1.5 1.9-.4 1.6 .8 1.7 .1 1.8-.3 1.7-.2 1.4-1 1.5-1.1 M438.4 390.3l-.3 2.6 0 2.8 -.6 2.9 2.2 2.2 M449 400.7l-3.1-.7 -2 2.4 M458.2 410.3l-.8 1.8 -1.8 .9 -1.6 1.5 .6 2.1 -1.9 0 -1.5 1.1 -1.8 .5 -1.8-.3 M447.6 417.9l-1.1-1.5 -1.7-.9 M367.4 408.1l-.1-1.9 0-2 .9-2.1 -1.4-1.8 -2.1 .1 -1.6-1.5 -2-.5 -1.5-1.3 M367.4 408.1l-1.4 1.1 -.9 1.5 -.6 1.6 -.9 1.5 M360.3 415.2l1.6-.9 1.7-.5 M360.3 415.2l-1.3-1.5 -1.5-1.3 -.8-1.8 -1.7-1.1 -1.3 1.7 -2.1 .7 -2-.9 -2.1 .5 M347.5 411.5l.3-1.8 -.4-1.7 -.9-1.6 0-1.7 M346.5 404.7l.2-2.7 .9-2.5 2.6-.6 2.4-1.2 M352.6 397.7l1.8-.6 1.6-1 1.5 1.6 2.1-.6 M374 404.9l-1.7 .6 -1.6 1 -1.5 1.1 -1.8 .5 M363.1 389.4l-2.1 1.1 -.3 2.4 -1.2 1.9 .1 2.3 M375 424.9l-2-.9 -2.1-.5 -2.1-.7 -2-.9 -1.4-1.7 -.9-2 -.5-2.2 -.4-2.2 M357.4 431.1l-.2-2.2 .7-2 1.4-1.6 1.1-1.9 .4-2 0-2.1 .2-2.1 -.7-2 M340.7 417.2l2.4-1.2 2.7 .4 1.2-2.4 .5-2.5 M337.4 396.8l2.5 1.9 1.2 3 2.7 1.4 2.7 1.6 M349.2 387.2l1.9 2.3 -.3 3 .7 2.7 1.1 2.5 M269.1 456.3l1.4 1.5 .1 2.1 -.8 1.8 0 1.9 .2 1.9 .2 1.8 .1 1.9 -.4 1.8 M269.1 456.3l-1-2.2 -2.4-.2 -1.9 1.2 -2.1-.1 -1.9-.5 -1.7-1 -1.9-.5 -2 .5 M269.9 471l-2.7 .6 -1.9 1.8 -2.6 .2 -2.6 .3 -2.7-.5 -1.6-2.3 -2.6-.4 -2.4-.8 M254.2 453.5l.3 3.2 -2.6 1.7 -2.1 1.6 -2.5 1.2 M250.8 469.9l-2-2.2 -1.3-2.5 M247.5 465.2l.4-2 -.6-2 M254.4 444.4l-.3 2.3 .5 2.3 .5 2.3 -.9 2.2 M273.9 451.6l-2.1 2.7 -2.7 2 M232.6 450.8l2.3 .9 2 1.4 2.5 .6 2.5-.4 1.2 2.1 .6 2.5 1.9 1.6 1.7 1.7 M230 473.5l2.6 1.8 3-1.3 1.3-2.5 1.8-2.2 2.2-1.4 2.6 .1 2.8-.2 1.2-2.6 M250 481.7l.5-3.1 -1.4-2.9 1.5-2.7 .2-3.1 M295.5 480.5l-.1-2.1 M295.5 480.5l-1.1 2.2 -2.3 .9 -2.4 0 -2.1 1.1 -.5 2.4 -1 2.2 -2.5 .5 -1.8 1.7 M295.4 478.4l-2.5-2.3 -2.5-2.2 -1.6-1.1 -2 0 -.6-1.8 -.8-1.6 M285.4 469.4l-1.9 .1 -1.6 1 -1.9 .1 -1.8-.6 -1.9-.7 -2 .5 -.6 2.1 -2.1 .9 M281.8 491.5l-1.8-.5 -1.7-.9 -2-.4 -.9-1.9 -.4-2.2 -2-.6 -1.2-1.5 -.7-1.7 M271.1 481.8l.9-2.3 -.9-2.2 .3-2.3 .2-2.2 M288.1 455.1l-1.4 1.5 .6 2 -.3 1.8 -.1 1.8 .5 2 -1.1 1.6 .6 2.1 -1.5 1.5 M306.4 467.5l-2.1 .6 -1.5 1.5 -1.5 1.7 .2 2.3 -1.9 .6 -1.7 1 -1.9 1.1 -.6 2.1 M269.9 471l1.7 1.8 M281.7 496.4l-1.4 1.2 -1.3 1.3 -.1 2.1 -1.6 1.1 -1.5 1.2 -1.3 1.4 -1.8 .4 -1.9 .2 M281.7 496.4l.4-2.4 -.3-2.5 M259.7 489.7l0-2.1 1.4-1.4 1.5-1.3 1.2-1.5 2-.7 1.3-1.7 1.9 .8 2.1 0 M375.4 499.1l-2.1 .3 -2.2 .1 -2.1 .7 -1.6 1.5 M373 480.8l-2.1 2.6 -3.4-.6 -2.8-.5 -2.8-.8 -2.8 1.6 -2.4 2.2 1 3.1 -.4 3.2 M367.4 501.7l-1.1-1.6 -.5-1.9 -1-1.7 -.4-1.9 -1.1-1.9 -2.2-.2 -1.9-.4 -1.9-.5 M333.3 548.8l-.8-3 M333.3 548.8l-1.3 2.1 .7 2.4 -.1 2.6 -2.3 1.2 -1.9 1.4 -1.4 1.8 -.7 2.2 -.6 2.2 M332.5 545.8l-1.9-1.4 -2-1.2 M328.6 543.2l-2.8-1.8 -3.3 .3 -2.7 1.6 -2.3 2.1 -2.6 1.8 -3.1-.9 -2.7 .8 -2.8 .4 M325.7 564.7l-1.9-.9 -2-.8 -1.6-1.6 -2.3 .1 -2.1 .1 -1.9 1.1 -2.2-1.1 -2 1.4 M309.7 563l-2.3-1.1 -2.3-1 -.8-2.4 -1-2.2 1-2.1 .8-2.2 1.3-2.1 -.1-2.4 M352 563.7l.6-1.8 -.8-1.7 -.9-1.5 -.7-1.5 -1.6-.8 -1.7 0 -1.7-.6 -1.2-1.3 -.8-1.7 -1.5-1.1 -1.2-1.4 -.2-1.9 -1.8-.4 -1.8-.6 -1.6 1 -1.8 .4 M331.3 575.7l-1.8-.7 -1.9-.2 -1.7-1 -.7-1.9 1.2-1.6 -.1-2 .6-1.9 -1.2-1.7 M304 573.4l2.8-1.6 1.7-2.7 1.2-2.9 0-3.2 M330.4 580.1l-2 1.7 -2.6 .2 -2.5-.1 -2.3-1 -2.6-.4 -2.6 .4 -2.8 1.1 -.4 3 M312.6 585l-2.2-1.9 -2.7-.9 M346.5 607.4l-1.9-.3 -1.3-1.5 -1-1.5 -1.3-1.4 -1-1.6 -.6-1.8 1.1-1.7 -.5-2 M346.5 607.4l-2.3 1.5 .3 2.7 -1.4 1.8 -1.1 2 -.6 2.3 -1.4 2 .8 2.3 -.4 2.4 M340 595.6l-1.7-.3 -1.8 .5 -1.7 0 -1.7 .2 -1.7 .3 -1.8 .2 -1.5 1 -1.8-.1 -.1 2.2 -1.8 1 -1.7 .7 -1.7 .8 -.4 2 -1.9 .6 -.9 1.5 -.8 1.6 M340.4 624.4l0-2.2 -2-1 -1.7-.8 -1.8-.6 -1.2-1.4 -1.5-1 -1.7-.7 -1.8-.5 -1.6-.9 -1.9 0 -1.7-.6 -1.7-.5 -1.8-.3 -1.7-.5 -1.4-1.2 -1.7-.8 M315.2 611.4l.9-1.9 .9-1.7 M340.3 593.8l-.3 1.8 M369.7 608.8l-1.8-.4 -1.8 .4 -1.8-.6 -.9-1.7 -2.1-2.6 -2.9-1.8 -2.8 1.9 -2.5 2.1 -1.8 .6 -1.7-.6 -1.4 1 -1.7 .3 M312.6 585l0 3.1 .4 3.1 2.1 2.2 1.9 2.5 -.2 3 .6 2.9 1.2 3.1 -1.6 2.9 M314.1 633.9l1.3 1.6 1.7 1.3 1.2 2.1 2.4-.1 M314.1 633.9l1.3-2.8 2.3-2.1 -.7-3 -1.6-2.7 -.2-3 1.4-2.8 -1.7-2.4 -2.2-2.1 M312.7 613l2.5-1.6 M312.7 613l-3 .7 -3.1 .2 -2.6-2.1 -3.3 .4 M300.7 612.2l-1.6-1.6 M290.8 627.2l-2.2-1.8 -1.6-2.5 -2.3-2.1 -3.1 .5 -2.9 .9 -1.4 2.5 -2.3 2 -2.9 0 M290.8 627.2l1.1 1.6 1.1 1.6 1 1.7 .3 2 1 2.1 2.3 .6 -.3 2.1 .5 2.1 M297.8 641l-.8 3.3 -1.5 3 M295.5 647.3l-1.6-.5 -1.5-.9 -1.8 0 -1.6 .7 -1.8 .3 -1.2 1.4 -1.8 0 -1.6-1 -1.5-1 -1.7-.9 -1.8-.8 -.7-1.8 -1.8 .6 -1.9 0 -1.6 1 -1.7 .7 M269.9 645.1l.2-2.3 -.4-2.3 1-2.2 -.2-2.4 -.8-2.5 1.3-2.2 1.5-2 -.4-2.5 M300.7 612.2l-.1 2.4 -.6 2.3 -1.7 1.6 -1.6 1.8 -1.5 1.8 -2.1 1 -2 1.6 -.3 2.5 M269.3 622.1l1.9 2 .9 2.6 M314.1 633.9l-2.5-1.1 -2.5 1 -1.6 2 -1.4 2 -2 1.2 -2.3 .1 -2.4 0 -1.6 1.9 M298.1 654.8l-1-1.8 -1.1-1.7 .2-2 -.7-2 M266.4 649.3l2.1-1.8 1.4-2.4 M217.1 209.6l.2 2.5 2.1 1.2 1 1.9 .7 2 M217.1 209.6l1.6-1 .8-1.6 1.1-1.5 .5-1.7 M221.1 203.8l1.7-.4 M222.8 203.4l1.7 2 2.7 .2 1.5 1.9 1.6 1.9 M230.3 209.4l-1.2 1.6 .6 2 -.9 1.6 -.7 1.7 M221.1 217.2l1.8 .7 1.8-.1 1.7-.8 1.7-.7 M209.2 211l2 1.3 2.3 .2 2.3-.9 1.3-2 M218.7 222l2.2-1.9 .2-2.9 M202.7 188.6l1.8 2.7 3.2 .8 1.5 2.7 2.1 2.2 1.8 2.8 1.4 3 3.2 1 3.4 0 M202.7 188.6l2.1-.5 1.8-1.1 1.6-1.6 .1-2.2 1.6 1.3 1.8 .7 2.1-.9 1.9 1.2 1.6 1.1 1.3 1.3 1.9-.5 1.7 1.2 1.6-1.4 1.3-1.6 1.9 .7 2.1 .5 M229.1 186.8l1.1 1.7 .7 1.9 M230.9 190.4l-1.2 1.5 -1.3 1.4 -.2 2.1 -1.4 1.5 -1.4 1.3 -1.2 1.5 -1.1 1.7 -.3 2 M239 195.1l-2.5-.1 -1.7-2 -1.9-1.4 -2-1.2 M240.6 206.9l-1.8 2.5 -3.1-.2 -2.7-.9 -2.7 1.1 M232.5 221.8l-1.1-1.4 -1.1-1.4 -1.4-1.2 -.8-1.5 M236.6 140.4l1.7-1.2 1.8-1.1 -.3-2.1 .7-2 .1-1.9 .8-1.8 .6-1.8 -.3-1.9 M236.6 140.4l1.6-1.1 1.9 .1 1.1 1.7 2.1 .1 1.8-.9 2.1 .4 1.4 1.4 .8 1.8 1.3-2 2.3-.3 1.9 1 1.9 1.1 -.2 2.2 1 1.9 2.3 0 1.7 1.5 M261.6 149.3l.2-.3 M261.8 149l-2-1.3 -.8-2.3 M251.8 135.9l-2.8-1.1 -2-2.1 -1.1-2.7 -.7-2.8 M245.2 127.2l-1.6-1.3 -1.9 .7 M262.8 148.4l-1 .6 M259 155.3l.7 2.2 -.2 2.3 -1.5 1.8 -1.3 1.9 -1.3 2.1 1.1 2.2 1 1.9 .5 2.2 M259 155.3l1.6-.9 .7-1.7 -.2-1.7 .5-1.7 M261.6 178.3l-1.7-1.1 -1.3-1.4 -.2-2 -.4-1.9 M248.7 125l-2 .8 -1.5 1.4 M238.8 123.7l1.3 1.6 1.6 1.3 M259 155.3l-1.6-.8 -1.7-.4 -1.8-.8 -1.6 1.3 .6-2.2 -1.6-1.6 -2 0 -1.8-1 -1.1 1.3 -1.5 1 -1.2 1.2 -.9 1.5 -1.7-.1 -1.7 .1 -1.7 0 -1.7 .4 M236 155.2l-1.2-1.9 -1.3-1.9 -1.9-1.7 .2-2.5 M236.6 140.4l-2.7 1.1 M231.8 147.2l1.8-2.6 .3-3.1 M237.8 123.6l-2.7 0 -1.3 2.4 -2.3 .6 -2.4-.5 -.5 2.5 -1.6 2 -2.6-.3 -2.3 1.5 M233.9 141.5l-2-.4 -1.9-.9 -2.1-.1 -1.8-1.1 -.4-2.1 -1.3-1.7 -1.1-1.7 -1.2-1.7 M205 165.2l.1 2.7 2.4 1.3 .1 2.4 1.3 2.1 -2.3 1.2 -.9 2.4 -.2 2.5 -1.3 2.1 M205 165.2l1.7-1.7 1.7-1.8 2.4 0 2.4-.6 M213.2 161.1l.2 3.1 1.4 2.8 2.6 1.6 1.8 2.6 M204.2 181.9l1.9-1.4 2.3-.8 1.1-2.1 2.1-1.3 2.5-.1 1.7-1.8 .7-2.6 2.7-.6 M199.3 161.4l2-.7 1.8 1.2 1.8 1.1 .1 2.2 M431.4 387.6l-2.2 1.8 -2.6 1 M431.4 403.9l-.7-.3 M426.6 390.4l1 1.5 .4 1.8 .1 1.8 -.3 1.7 .2 1.8 1 1.5 .8 1.6 .9 1.5 M414.9 410.7l.8-1.8 1.4-1.3 .1-2.1 1.8-1.2 M429.9 418.6l2-2.5 M419 404.3l1.4 1 1.4 1 1.6 .5 1.7 .4 2.5-2.3 3.1-1.3 M531.7 444.7l.5-3 1.2-2.8 .6-3.3 3-1.6 M526.1 427.5l2.3 1 2.3-1 M530.7 427.5l1.5 1.8 .9 2.1 1.7 1.7 2.2 .9 M537 434l2.7-.5 2.1 1.8 1.8-1.8 1.7-1.9 2 .9 2 .9 2.2-.7 2.2 .8 2.2-.4 2.1 .5 2.5-.1 1.3-2.1 2 1.4 2.6 .2 1.4-2.1 2.2-1.2 M607.3 418l-3.3-.5 -3.3-.2 -1.6 2.8 -2.1 2.6 -1.3-2.8 -2.6-1.4 -2.1-2.1 -3-.6 -2.2-1.8 -2.3-1.6 -2.6 1.1 -2.5 1.3 -2.5-.2 -2.2-1 -2.5-.7 -2.4 .6 M519.2 378.7l-1.8-.4 -1.7-.3 -1.9 .4 -1.6-1.3 -1.2 1.3 -1.5 1.1 -1.9 .9 -.1 2.1 M519.2 378.7l-1.7-1.6 -.5-2.4 .6-2.3 -.3-2.3 M517.3 370.1l-2.6-1.1 M514.7 369l-2.3-.7 -2.2 1 -1.6 1.6 -2 1 M506.6 371.9l-.8 1.9 -1.5 1.3 -.6 2 .8 2 M504.5 379.1l2.1 1.2 .9 2.2 M529 362.8l-2 0 -1.9 .4 -2-.5 -2 .5 -1.4 1.4 -.6 1.9 -1.1 1.7 -.7 1.9 M511.2 359.4l.2 3 2.7 1.3 .4 2.6 .2 2.7 M501.7 367.2l.1 2 1.1 1.7 2.1-.5 1.6 1.5 M497 379.7l1.7-.9 2-.1 1.9-.4 1.9 .8 M520.8 415.8l1.9-2.3 1.7-2.3 M530.7 427.5l-.5-2.3 1.1-2.1 2.1-.6 2.1-.8 .4-2.2 2-.7 .4-2.1 1.9-.9 M524.4 411.2l1.9 1.2 1.3 1.8 2.4-.5 1.8 1.7 2-1.3 2.2 .7 2 .9 2.2 .1 M573.7 405.4l-.9-2.5 1.6-2.2 -.2-2.5 -1.6-1.9 .1-2.4 -1.2-2.1 -.4-2.3 -.3-2.3 2.4-1.3 2.5-1.1 1.6-2.2 1.6-2.2 .8-2.7 -1.4-2.5 -2.1-2.3 1-2.9 M533.8 374l.4-3.1 1.8-2.6 -.3-3.1 -1.3-2.9 M533.8 374l-.5 2.2 .4 2.1 1.7 1.4 1.5 1.6 2.1-.2 2-.5 1.8 1.2 1.9 .9 1.5 1.6 1.4 1.6 -.2 2.2 -1.2 1.9 1 1.6 1.3 1.5 1.8 .7 1.7 .8 M494.6 388.5l1.5 2.7 M507.5 382.5l-1.2 1.9 -.1 2.2 -.1 2.3 1.8 1.5 M507.9 390.4l-1.4 1.3 -1.8 .1 -1.4-1.2 -1.4-1.1 -2.5 2.2 -3.3-.5 M493.8 417.1l-.7-2.1 .5-2.2 -.9-2 -1.7-1.3 -.8-1.9 -.6-2 1.4-1.9 -.2-2.2 M493.8 417.1l3.1 .7 3.2-.1 2.7-1.9 3.2-.6 M506 415.2l-.9-1.8 1-1.7 -1.3-1.1 -1.3-1.3 1.6-2.9 1.8-2.7 M506.9 403.7l-1.6-1.1 -1.2-1.5 -1.9 0 -1.8 .6 -1.3-1.4 -1.9 .1 -1.4-1.4 -1.9 .5 M490.8 401.5l1.7-.8 1.4-1.2 M487.2 400.9l1.9-.2 1.7 .8 M493.7 417.1l.1 0 M484.7 417.9l1-1.8 -1.1-1.8 -1.3-1.1 -1.7-.8 -2.6-1.6 -2.9-1.3 M509.2 417.8l-.9-2.1 -2.3-.5 M496.1 391.2l-.3 2.1 -.5 2.1 -.3 2.2 -1.1 1.9 M664 323.5l.7 2.1 .6 2.2 -1.2 1.9 -.6 2.2 M653.3 319.2l.6 1.7 .8 1.6 -.8 1.6 -.2 1.8 .4 2.1 1.7 1.3 -1.2 1.5 -.6 1.9 M654 332.7l2.4-.5 2.4 .4 2.3-.4 2.4-.3 M670.1 322.2l-.6 1.8 -.6 1.7 1.7 1.4 -.4 2.1 1.5 1.4 2-.5 .9 1.7 1.8 .7 M663.5 331.9l1.1 2.7 2.7 1.1 M667.3 335.7l2.2 .4 2.2 .6 1.6-1.5 1.9-1.2 M676.4 332.5l-1.2 1.5 M684.6 317.5l-.4 1.9 -1.5 1.2 -.8 1.7 -.6 1.7 -1.2 1.5 -.2 2 1.1 1.8 -1 1.9 M676.4 332.5l1.8-.5 1.8-.8 M691.4 334.6l-2.2 .8 M680 331.2l1.9 1.9 2.6 .4 2.3 1.1 2.4 .8 M715.4 349.8l-2.1 0 -1.6 1.5 -2-.3 -2 0 -2.1-.7 -1.7 1.4 -2 .3 -1.7 1.2 -2.1 1 -2.2 .6 -2.3-.1 -2.3 .2 -2.4-.7 -1.7-1.8 -.6-2.4 -1-2.2 M689.2 335.4l-.4 3.3 -1.9 2.8 -1.3 1.3 -1.2 1.4 .6 1.8 .6 1.8 M685.5 379.1l-.5-1.8 .2-1.9 -1.5-1.2 -.8-1.7 -.9-1.6 -1.7-.7 -1.9-.7 -.5-2 M677.9 367.5l.3-1.8 M699.9 366.8l-3.4 0 -2.5 2.3 -2.4-2 -2.5-1.9 -3.4-.5 -2 2.7 -2.3-2.2 -3.2 .5 M644.5 403.2l2.6-.1 1.6-2.1 2.3-1.4 -.2-2.8 M660.7 404.9l-.5-2.1 -1.7-1.2 1-1.9 -.8-2 M658.7 397.7l-2-.3 -2 .3 -1.9-.6 -2-.3 M685.5 379.1l-2.3 .5 -2.3 .5 -2.4 .4 -1.9 1.5 M677.9 367.5l.6 3.1 -2.5 2 -2 2.1 -2.8 .3 M676.6 382l-1.9-2.2 1-2.7 -2.9 .3 -1.6-2.4 M662.3 369.6l.5 2 1.8 .9 1 1.6 1.6 1 M662.3 369.6l0-2.2 .7-2 1.8-1.3 1.3-1.7 M678.2 365.7l-.3-.7 M666.1 362.4l3.2-.6 3.2-.6 2.7 1.9 2.7 1.9 M667.2 375.1l2 .2 2-.3 M580.6 368.2l.9 1.6 1 1.3 1.8-.2 1.7-.1 M586 370.8l.5 2.9 .6 2.9 1 2.8 .1 3 2.9 1.7 2.9 1.6 .1 3.3 .7 3.3 M614.6 388.9l-.7-2.2 -2-1.1 1.6-1.8 -.5-2.4 .1-2 1.4-1.5 .6-1.9 -.5-2 M628.6 375.8l-.7 2.6 -1.2 2.3 -.4 2.7 -1.3 2.3 M628.6 375.8l-2.3-.5 -2.4-.4 -.8-2.3 -1.8-1.6 M621.3 371l-.9 2 -1.6 1.4 -2.1 .3 -2.1-.7 M229.1 186.5l1.5-1.6 1.8-1.4 2.1-1 1-2 .1-2.6 .6-2.4 1.6-2.4 2.9 .2 M229.1 186.5l-1-2.4 -.8-2.4 .6-2.6 1.6-2.2 -1.8-1.6 -2-1.4 -2.3-.8 -1.9-1.5 M240.7 173.3l-.6-2 .3-2.1 -1.4-1.5 -.6-1.9 -1.6-1.5 -2.2 .1 -1.9-.9 -2 .8 M221.5 171.6l2.7-1.7 3.1-.4 1.3-2.8 2.1-2.4 M258 171.9l-2-1.6 -2.5 .3 -2.5 .4 -1.9-1.7 -2.8 .2 -2.6-.7 -1.1 2.5 -1.9 2 M229.1 186.8l0-.3 M219.2 171.2l2.3 .4 M236 155.2l-2.3 1.5 -2.3 1.4 .9 2.9 -1.7 2.5 M230.6 163.5l.1 .8 M216.3 152.3l2.6 1.1 2 1.8 -.5 2.7 1 2.6 2.5 .3 2.4 .4 2.3 .9 2 1.4 M216.3 152.3l.4 2.6 -.1 2.5 -2 1.6 -1.4 2.1 M432.5 331.5l-3.1 .6 -2 2.5 M432.5 331.5l.7-2.9 2.7-1.3 .5-2.7 .1-2.7 1.5-2.7 -1.8-2.6 .6-2.7 1.7-2.1 -1.8-.8 -1.5-1.1 .4-2.1 -1.3-1.6 .6-1.9 -.5-1.9 1.3-1.4 1.5-1.2 -2 0 -1.3 1.4 -1.5-1.1 -1.3-1.2 -2.2-2.2 -2.9-1.4 M427.4 334.6l-2.1-.6 -2.2-.4 -2.2-.2 -2.2 .4 M426 295.3l-3.3-.6 -3 1.4 -.4 1.7 0 1.8 -1.3 1.2 -1.4 1 -1.3 2.5 -1.2 2.6 -1.4 2.5 -1.4 2.6 -.7 3 1.1 2.9 1.2 1.4 0 1.8 -1.2 1.3 -1 1.4 1.6 2.5 2 2.2 1.6 2.5 2.1 2.1 M418.7 333.8l-.7-.7 M429.2 349.4l-1.9-1.3 -.9-2 -1.8-1.4 -.7-2.1 2.9-.3 1.2-2.7 -1.8-2.3 1.2-2.7 M433.1 331.7l-.6-.2 M416.8 347.2l0-1.8 -.1-1.7 .1-1.7 -.4-1.7 -.9-1.8 .4-2.1 1.6-1.1 1.2-1.5 M373.6 355.4l.7-1.9 -1.2-1.7 .4-1.7 .6-1.7 M373.6 355.4l.7 2.5 2 1.7 2.4 .7 2.5 .3 M374.1 348.4l3.3 .6 2.4-2.4 2.9 .3 2.9 .6 M384.8 359.9l1.9-2.8 .6-3.4 M384.8 359.9l-1.8 .3 -1.8 .4 M387.3 353.7l-1.3-2.9 -.4-3.3 M375.4 368.2l1.8-1.9 .1-2.6 2.5-.9 1.4-2.2 M363.4 360.7l1.7-2.7 2.1-2.5 1.9 .1 1.3 1.3 1.4-1.4 1.8-.1 M401.4 354l-1.4-1.6 -2.1 .5 -1.7 .7 -1.9-.1 -1.8 .6 -1.7-.7 -1.8 0 -1.7 .3 M389.7 365.6l-1.4-1.5 -.5-1.9 -1.1-1.7 -1.9-.6 M387.4 342.9l2 .3 1.9 .7 1.7 1.6 2.2-.8 2 .2 1.9 .7 2-.1 2 .3 M387.4 342.9l-.6 2.4 -1.2 2.2 M360.6 335.5l-.6 2.1 -.1 2.2 -.2 2.3 -1.8 1.5 M360.6 335.5l1.9-1.1 2.2-.4 M364.7 334l-1.3 1.5 -.1 1.9 1.3 1.3 1.1 1.5 2.8 1.6 3.2 .5 M357.9 343.6l1.8 .5 1.7 .8 .9 1.7 1.1 1.5 M363.4 348.1l2.4 .1 1.5-1.7 2-.8 2.1-.4 M371.4 345.3l.3-3 M349.3 353.2l1.6-1.3 -.4-2.1 .5-1.9 -1.1-1.6 M349.9 346.3l2.2-.6 1.4-1.9 2.2 .1 2.2-.3 M361.9 359.8l1.7-2.9 -1.3-3 .3-3 .8-2.8 M374.1 348.4l-1.1-1.7 -1.6-1.4 M387.4 342.9l-1.1-2.6 -.1-2.8 M371.7 342.3l1.3-1.3 1.4-1 1.7 1.1 1.8-.8 1.9-2.6 1.4-2.9 M381.2 334.8l2.7 1 2.3 1.7 M406.8 317.2l2.2 .8 .3 2.3 1 1.9 .2 2 .4 2 .7 1.9 -.5 2 .2 2 M406.8 317.2l-2.2 1.1 -.3 2.4 -.2 2.2 -1.8 1.4 -2.4 0 -1.8 1.6 -1 2 -1.5 1.7 M395.6 329.6l.1 .7 M395.7 330.3l2.9 1 .6 3 2.4 1.1 2.4 1.2 M411.3 332.1l-2.3 .6 -2.3 .1 -1.7 1.7 -1 2.1 M418 333.1l-1.6-.5 -1.7-.2 -1.6-1.1 -1.8 .8 M416.8 271.6l-1.7 1.4 -2.3 .1 -.9 2 -2 1.1 -1.2 2.1 -1.5 1.8 1.2 2.1 .9 2.3 -1 1.6 -1.7 1 -2 .1 -1.7 1.1 -1.5 1.6 -2.1-.6 -1.8 .6 -1.6 1 -.2 1.9 .6 1.8 -.5 1.9 -1.3 1.4 -.6 1.7 -1.2 1.4 -.1 1.8 -.8 1.7 -.5 1.8 -1 1.5 -.1 1.8 -.4 1.7 .2 1.9 -.8 1.8 -1 1.6 -1.3 1.2 M386.9 317.8l2.1 1 1.3 2 2.2 .7 2.3-.4 1.8 1.7 -.6 2.4 -.1 2.2 -.3 2.2 M403.6 345.2l-2.1-1.7 .4-2.7 .7-2.2 1.4-2 M386.2 337.5l2.5-1.6 2.3-1.9 2.6-1.5 2.1-2.2 M313.2 339.5l1.5-1.2 .6-1.8 1.6-.9 1.5-1.1 M313.1 322.1l.7 .5 M318.4 334.5l-.7-3.1 -1.5-2.9 -.7-3.1 -1.7-2.8 M300.3 286.2l1-1.7 0-1.9 -.6-1.7 -.7-1.7 -.3-1.7 -.1-1.8 .5-1.7 .4-1.7 M300.3 286.2l2-.6 1.8 .9 1.7 1 1.9 .3 1.4-1.4 1.8-1.1 1.9 .8 2.1-.3 M314.9 285.8l.7-1.6 1.5-1 .7-1.6 -.3-1.8 M317.5 279.8l-.9-1.6 -1.7-.6 -1.3-1.2 -1.7-.5 -1.8-1 0-2.1 -2 0 -.9-1.9 M300.5 272.3l1.6-.4 1.6-.8 1.7 .3 1.8-.5 M298.7 287.9l1.6-1.7 M316.6 290.3l0-2.6 -1.7-1.9 M325.3 275.3l-2.4 1.2 -.7 2.6 -2.3 .7 -2.4 0 M236.4 246.5l1.6 2.7 2.2 2.1 -.4 3.1 .7 3.1 M236.4 246.5l2.8 .2 1.4-2.4 .8-2.2 1.6-1.9 M240.5 257.5l2.5-2.2 1.5-3 2.6-2.1 3.2-.9 M250.3 249.3l-1.9-1.5 -2.1-1.3 1.3-2.4 -.7-2.6 M243 240.2l2.1 .1 1.8 1.2 M240.5 257.5 M227.2 245.3l2.6-.8 1.9 2 2.4 .5 2.3-.5 M239.7 233.5l.7 1.8 .8 1.6 .7 1.8 1.1 1.5 M255.5 261.5l1-1.4 .7-1.7 M254.7 251l-2.3-.5 -2.1-1.2 M262.2 245l-.5-2.2 .2-2.1 -.1-2.2 .3-2.2 M257.6 234l-1.8-.8 -2 .2 -1.7 .9 -1.5 1.2 0 1.9 -.8 1.8 -1.5 1.1 -1.4 1.2 M283.5 253.8l-2.5 1.4 -2.8 .5 M283.5 253.8l1.3-1.8 -.2-2.3 -1.3-1.7 -1.8-1.2 1-1.6 .6-1.7 1.7-1 .5-1.9 M278.2 255.7l.1-3.1 -2.6-1.6 -2.7 .9 -2.6-.9 M270.4 251l1-1.6 0-1.9 1.7-.8 1.8 .1 1.3-2.9 .9-2.9 M277.1 241l1.6-1.9 2.4-.2 2.1 .8 2.1 .9 M268.2 234.1l3.2-.1 2.9 1.4 1.4 2.8 1.4 2.8 M270.1 251l.3 0 M286 240.1l-.3-1.7 -.9-1.6 0-1.9 -1.6-1.1 1.1-1.5 1.8-.6 -.1-2 1.4-1.4 M286 240.1l-.7 .5 M276.3 263.2l-1.7 1.1 -1.8 .6 -2-.2 -1.9-.5 M276.3 263.2l3 .2 2.4 1.7 1.5 2.6 -.6 3 M282.6 270.7l-.7 2.8 -1.7 2.3 -2.9-1.5 -2.7 1.8 M274.6 276.1l-1.3-2.6 -2.8-.9 -2.6-.3 -2.7 .4 M265.2 272.7l1.4-1.9 .5-2.3 .9-2.2 .9-2.1 M265.5 258.2l-.2 1.9 .9 1.7 1.6 .8 1.1 1.6 M278.2 255.7l.9 2 -1.3 1.9 -.5 1.9 -1 1.7 M261.7 274l1.6-1.2 1.9-.1 M245.5 288.5l-.4 2.3 -.6 2.2 .9 2.5 2.6 .7 .7 1.9 .1 2.1 .8 2 -.7 2 M245.5 288.5l1.9-1.3 2 1 1-1.8 2-.5 2-.2 1.8 1.1 1.7-.7 1.9-.5 M260.2 286.2l-.4-.6 M260.2 286.2l.5 2.8 -1.6 2.5 1.7 2.3 -.2 2.9 -2.3 1.6 -1.7 2.2 -.6 2.7 -.4 2.8 M255.6 306l-1.8 .9 -2.1 .2 -2-.9 -.8-2 M242 286l2.3 .5 1.2 2 M238 307.1l2.7-1.2 2.4-1.7 2.9 .9 2.9-.9 M259.4 277l.1 2.2 .8 2.1 -.6 2.1 .1 2.2 M272.3 290l-.1-2.2 -1.9-1 -1.8 1 -1.9-.7 -3.2-.4 -3.2-.5 M275.2 285.7l.8-2.6 -1.6-2.2 -.8-2.4 1-2.4 M258.6 308.5l-1.4-1.3 -1.6-1.2 M357.3 300.1l-1.9 .8 -.2 2.1 -1.4 1.1 -1.8 .3 1.1 1.6 -.7 1.9 -1.5 1.4 .5 2 M364.2 312.4l-1.5 2.4 -2.3 1.7 -2.9 .1 -2.2 2 M355.3 318.6l-2-1.2 -1.3-1.8 .3-2.2 -.9-2.1 M340.4 308.8l1 2.1 M351.4 311.3l-2.7 .5 -2.3-1.4 -2.5 .5 -2.5 0 M426.6 456.4l2.3-.3 2.4-.1 2.4 .5 2.3-1.1 M431.8 435.4l1.4 2.3 -.6 2.6 1.9 2.1 2.8-.5 M437.3 441.9l.7 1.7 .2 1.7 -.4 1.7 0 1.8 -1.1 1.7 -1.8 1.1 -.1 2.1 1.2 1.7 M441.2 468.8l-1-2.8 -1.4-2.5 1.5-3.1 -1.8-2.8 M459.8 460.9l-1.2-2.8 -1.4-2.7 -3.3-.2 -2.2-2.3 M451.7 452.9l-2.3 .8 -.3 2.4 -2 1 -.6 2.1 -2 1.4 -2.4-.5 -2.6-.1 -1-2.4 M438.5 457.6l-2.5-2.2 M456.8 441l1.5-2.4 2.9 .1 2.3-.8 1.8-1.7 -.1-2.5 -.2-2.5 1.6-2 .7-2.5 M456.8 441l-1.7 1.1 -2-.6 M448.6 425.3l.3-.5 M448.6 425.3l1.1 2 1.4 1.9 2.2 .9 1.3 2 -1.5 1.8 -.7 2.3 .4 2.3 -.7 2.3 M448.9 424.8l2.2-.1 2.3-.4 2.2 .4 1.9 1.3 2-1.5 2-1.6 2.4 .7 2.3 1.3 M467.3 426.7l-1.1-1.8 M453.1 441.5l-1-.7 M466.9 446.6l-2.4-1.7 -2.9-.6 -2.3-1.8 -2.5-1.5 M468.2 427.2l-.9-.5 M451.7 452.9l2.4-2.2 .5-3.3 -.1-3.1 -1.4-2.8 M433.5 431l1.6-1.6 2.1-.5 2.1 .4 2.1-.2 1.9-.7 1.7-1.2 1.9-.7 1.7-1.2 M447.6 417.9l.3 1.8 .2 1.7 .8 1.6 0 1.8 M437.3 441.9l1.8 1 2 .2 1.9-.4 1.7-1.1 2.4 0 1.5 1.8 1.7-1.5 1.8-1.1 M466.5 419.1l-.8 2.8 .5 3 M375.4 521.2l-1.9-.1 -2-.2 M367.4 501.7l-1.2 1.3 -1.1 1.4 -2 .3 -.6 1.9 .8 1.6 .9 1.5 0 1.8 .3 1.7 M371.5 520.9l-2.2-1.4 -2-1.8 -1.8-2 -1-2.5 M359 539.5l-1.4-2.4 M371.5 520.9l-2.5 1.3 -2.4 1.6 -2.2 1.7 -2.6 1.1 -2.6 1.8 -.2 3.2 -.3 2.9 -1.1 2.6 M332.5 545.8l1.5-3 3.4-.1 2.5-1.9 .3-3.1 2.6-1.3 2.8-.2 2.5-1.4 2.9-.2 M357.6 537.1l-1.8-.6 -1.8 .2 -2.1-.2 -.9-1.9 M357.8 468l-2.2 .2 -2.2 .5 -1 2.2 -2.2 .8 -.7 2.1 -.6 2.1 0 2.1 -.1 2.2 M357.3 491.6l-.9 0 M348.8 480.2l1.6 1.1 2 .2 2 .8 .3 2.2 .7 1.7 -.1 1.9 .4 1.8 .7 1.7 M216.2 151.8l.7-.6 M216.2 151.8l-3.1 .4 -2.1-2.5 -2.3-1.5 -2.6-1.2 M216.9 151.2l-1.1-2.6 -1.1-2.7 .8-2.7 -.4-2.9 1.7-2.3 1.2-2.5 2.2-1.7 1.9-2 M206.1 147l0-2.5 -.4-2.4 .6-2.4 .6-2.3 M206.9 137.4l2.1 .2 1.7-1.1 1.7-1 1.4-1.3 2.1-1 2.2 .9 .4-2.3 1.8-1.5 M220.3 130.3l1.8 1.5 M216.3 152.3l-.1-.5 M231.8 147.2l-1.4 1.6 -2.2-.1 -1.8 .9 -2-.3 -1.6 1.3 -1.9 .7 -2-.1 -2 0 M200.5 148.8l3-.4 2.6-1.4 M222.1 131.8 M201.3 131.1l.6 2.2 1.4 1.7 2 .8 1.6 1.6 M217.9 124.5l1.5 .9 1 1.4 0 1.8 -.1 1.7 M419 382.8l.5 2.3 .8 2.1 1.8 1.5 1.8 1.3 M419 382.8l-2.8 .6 -2.8-.3 -1.9 2.6 -3.2-.5 M423.9 390l-1.9 1.7 -1.3 2.1 -2.4 .8 -1.7 2 M416.6 396.6l-2.8 .4 -2.4-1.6 -1.6-2.5 -2.9-.4 M406.9 392.5l-.3-1.9 -.4-2 .8-1.9 1.3-1.5 M421.3 376.6l-.7 3.3 -1.6 2.9 M426.6 390.4l-2.7-.4 M403.8 376.8l1.6 1.8 1.4 2 .6 2.4 .9 2.2 M419 404.3l-.3-2 -.1-2.1 -1-1.8 -1-1.8 M398.5 398.9l1.5-2.3 2.2-1.6 2.5-.8 2.2-1.7 M524.4 411.2l.8-2 -.4-2.2 -.9-1.9 -.1-2.1 M506.9 403.7l1.8-1.9 M523.8 403l-1.8-.3 -2 0 -1.9-.2 -1.9 .3 -2.2 .5 -1.5-1.7 -1.9 .5 -1.9-.3 M507.9 390.4l1.1 1.2 M509 391.6l.2 2.6 .6 2.5 -.4 2.6 -.7 2.5 M641.2 321.7l-.9 2.6 -1.9 2 M638.4 326.3l2.1-.5 1.6 1.5 1 1.9 2.2 .1 .6 1.9 .7 1.8 -1.1 1.7 .3 2.1 M654 332.7l-2 2.8 M645.8 336.8l1.8 .6 1.7 .5 1.6-.9 1.1-1.5 M663 345.4l1-2.7 2.2-1.7 .9-2.6 .2-2.7 M663 345.4l-1.9 0 -1.7-.7 M652 335.5l.7 3.1 .9 3.2 1.8 1.1 .3 2 1.9 .6 1.8-.8 M666.3 350.1l3.2-1 3.3-.5 2.5-2.1 2.3-2.4 M666.3 350.1l.1 .8 M666.4 350.9l1.4 1.8 2.1-.4 .9 1.8 1.7 1.1 1.9-.4 2-.1 1.2 1.7 2 .6 M677.6 344.1l1 2.1 1.5 1.8 2.4 .5 2.3-.1 M679.6 357l1.9-2 2.2-1.7 M684.8 348.4l-2 2.1 .9 2.8 M663 345.4l2.3 1.8 1 2.9 M675.2 334l1.4 2.6 -1.3 2.7 1 2.4 1.3 2.4 M666.1 362.4l-1-3 -1-3 M664.1 356.4l2-2.4 .3-3.1 M677.9 365l1-2.3 -1.6-2 1.1-1.9 1.2-1.8 M685.6 347.8l-.8 .6 M699.9 366.8l-1.8-2.3 -1.5-2.6 -2.9-.6 -3 0 -2.5-1.3 -2.3-1.6 -1-2.6 -1.2-2.5 M662.1 393.6l.4-1.8 -.1-1.8 1-1.7 -.7-1.9 M662.1 393.6l2.3 1.5 2.5 1.2 2.9-.9 2.5 1.6 M662.7 386.4l3-1.4 3 1.5 3.1 1.1 3-1.3 M672.3 397l.5-2 .5-2.1 1.2-1.8 1.9-1 M676.4 390.1l-.9-1.9 -.7-1.9 M675.6 405.3l-1.2-1.9 -1.4-1.9 .1-2.3 -.8-2.2 M658.7 397.7l1.7-2.1 1.7-2 M676.6 382l-.6 2.3 -1.2 2 M662.2 385.5l.5 .9 M662.2 385.5l1.5-2.7 2.3-1.9 .3-3 .9-2.8 M775.2 419l.5-2.1 -.8-2.1 .4-2.2 .6-2 0-2.3 -.8-2.1 -.5-2.5 -2.4-.7 -2.1-1 -2.2 .3 -1.8-1.5 -2.3 .4 -.9-2.1 -1.2-1.9 -1.2-2.3 -2.6 .1 -1.8-1.8 -2.5 0 -2.5-.7 -.9-2.5 -2.4 .2 -2.4-.4 -2.8 .2 -1.2 2.6 1-2.2 -.2-2.4 -.9-2.2 -1.5-1.8 -2.2-1.2 -.3-2.5 -1.9-1.1 -1.8-1.4 -2 .7 -2.1-.4 -2 1.3 -2.1-1.1 -2.3 .5 -.7 2.3 -1.1 1.8 -1.1 1.7 -1.6 1.5 -1.8 1.4 -1.9 1 -2.1 .8 -2.1-.6 -2.1-.8 -2.2-.9 -1.2-2.1 -1.9 .4 -1.8-.7 -1.9-.1 -1.9 0 -1.9 .1 -1.7 .9 -1.8 .7 -1.6 .9 -1 1.9 -1.5 1.6 -2.1-.4 -2.1 .6 -1.9-.3 -1.9-.2 -2 .9 -1.8-1.1 M628.6 375.8l1.8-.1 1.6-.9 2.1-.3 .8-1.9 M625 385.7l1.9-.3 2-.2 2 .2 1.8 .8 2-.3 1.8-.9 2-.3 1.9 1.1 M634.9 372.6l2.3 .7 2.4 .1 M639.6 373.4l.8 2 -1.1 1.9 2.3 .1 1.1 2 1.4 1.7 -.9 2.1 -.9 1.9 -1.9 .7 M650.8 396.8l-1.4-2.1 0-2.5 -1.7-1.8 -.7-2.4 M662.2 385.5l-1-2.3 -1.8-1.7 -2.4 .8 -2.5-.2 M654.5 382.1l-1.5 1.9 -1.9 1.4 -2.2 1.1 -1.9 1.5 M636 397.3l.8-3.1 2.5-2 -.3-3.2 1.8-2.6 M647 388l-3.3-.1 -2.9-1.5 M640.8 386.4l-.4-.6 M634.9 372.6l-1.2-2.7 -1-2.8 -1.2-2.7 -2.3-2 M621.3 371l-1.2-2.3 .6-2.5 1.5-1.9 1.1-2.1 M629.2 362.4l-2.8 .4 -2.8-.8 M623.3 362.2l.3-.2 M380.8 333.9l.3-2.2 1.9-1.1 .3-2 1.3-1.6 .2-2.3 1-2.1 -1.8-1.4 -1.4-1.8 M380.8 333.9l-1.6-.9 -1.8-.2 -1.9 .5 -1.7-.8 -1.4-1.5 -2 0 -.9-1.6 -1.4-1.3 M369.5 323.4l-1.5 2.5 M369.5 323.4l1.7-.6 1.9 .4 .7-1.9 2.1-.2 1.7-.6 1.5-1 1.8 .3 1.7-.4 M382.6 319.4 M368.1 328.1l-.1-2.2 M381.2 334.8l-.4-.9 M386.9 317.8l-2.3 .5 -2 1.1 M364.7 334l1.9-.7 1.6-1.2 -1.1-2 1-2 M367.4 313.5l-.3 2.6 .2 2.6 1.4 2.2 .8 2.5 M354.9 320.8l.4-2.2 M354.9 320.8l1 1.7 1.8 .7 1.8 .3 1.8 .1 1.9 .1 1.8 .1 1 1.8 2 .3 M373.5 309.9l1.7 .6 1.5 .7 1.1 1.4 .7 1.6 2.3 2.4 1.8 2.8 M326.7 313.3l.4 1.7 -.4 1.7 1.4 1.1 1 1.5 M313.8 322.6l1.7-.8 1.8-.3 1.2-1.3 1.4-1.2 1.1 1.5 1.5 1.1 1.9 .1 1.6 1 M329.1 319.3l-1.3 1.9 -1.8 1.5 M300.3 272.2l-.8-2.2 .8-2.1 .5-2.2 1.1-1.8 -2.3-.7 -1.1-2.2 -.9-2.1 -.3-2.2 M300.3 272.2l-1.9-1 -2.1 .6 -2-.9 -.9-1.9 -1.9 .5 -1.3 1.5 -2 .2 -1.7 1 M286.5 272.2l-1.6-1.3 M284.9 270.9l-1-1.9 .8-1.9 -.5-1.8 -.2-1.9 1.7-1 1.7-.9 1.1-1.6 1.2-1.6 M289.7 258.3l2.2 .3 2.1 1.1 1-2.3 2.3-.7 M287.5 284.4l-.9-3 .6-3.1 -.8-3 .1-3.1 M300.5 272.3l-.2-.1 M282.6 270.7l2.3 .2 M283.5 253.8l1.7 .9 1.3 1.5 1.4 1.3 1.8 .8 M286 240.1l2.6 .6 2.5 1 2-2.1 2.9-.3 3 0 2.4 1.9 .9 2.7 .4 2.9 M297.3 256.7l1.2-1.5 .5-1.8 1.1-1.6 2-.3 M302.7 246.8l-1 2.2 .4 2.5 M307.2 270.9l2-1.7 1.8-2.1 -.5-3 2.2-2.1 M302.1 251.5l1.2 1.9 2.3-.2 1.9 1.3 -.1 2.2 .8 1.8 1.4 1.4 1.4 1.2 1.7 .9 M337.6 459.1l.2 2.5 .3 2.5 1.9 1.8 1.2 2.2 -1.8 1.6 -1.6 1.9 -1.1 2.2 -1.7 1.8 M348.8 480.2l-2.6-1.9 -2.9 1.4 -2.7-.3 -2.8 0 M335 475.6l1.6 1.7 1.2 2.1 M314.2 467l.1 2.5 .7 2.4 1.8 1.7 2.4 .8 M335 475.6l-1.9-.8 -2 .4 -1.8-1.5 -2.1 .8 -1.3 2.3 -2.7 0 -1.6-1.8 -2.4-.6 M285.1 523.7l-1.8 2.8 -.3 3.4 -1.1 1.6 -1.6 1.1 .1 2 1.1 1.7 M285.1 523.7l1.8-1.3 1.2-1.9 2.2-.2 2-.9 M292.3 519.4l1.8 1.9 2.5 .9 2.7 .7 2.3-1.5 0 2.8 .7 2.6 2.6 .7 2.3 1.6 M281.5 536.3l.1 1.8 .7 1.7 -.2 2.1 1.8 1.2 1.2 1.4 1.6 .9 1.8 .4 1.6 1 M307.2 529.1l.3 2.7 -1.5 2.3 -.7 2.9 -3 .8 -.8 2.7 2 2.1 .7 2.5 1.6 2 M290.1 546.8l1.8 1.1 1.9 1.1 2.1 .4 2 1 2-.7 1.9-1 2-.7 2-.9 M265.6 539.7l2.6 .3 1.4 2.2 2.6 1.1 2.2-1.6 1.2-2 1.7-1.6 1.9-1.4 2.3-.4 M271.8 513.3l1.8 1.2 1.8 1.2 2.4-.4 1.8 1.6 1.8 1.4 2 1.1 1 2.1 .7 2.2 M281.7 496.4l1.6 2.1 2.4 .9 2.6-.1 2.4 1.1 3.2-.7 2.3 2.3 .7 2.8 .5 2.8 M297.4 507.6l-2.2 0 -1 1.8 -.6 1.8 .3 1.9 -.9 3.1 -.7 3.2 M285.2 558.1l-.6-1.7 .5-1.8 .3-1.7 -.6-1.7 1.2-1.5 .4-1.9 1.8-.7 1.9-.3 M306.3 547.5l-.5-.4 M534.6 394.7l-2.6-.4 -1.8 1.9 -1.4 2.2 -2.5 .5 M534.6 394.7l-.9-2.2 -2.2-.6 -1.4-1.6 -1.7-1.3 -1.6-1.5 -.8-2.1 -.8-2.1 .6-2.2 M526.3 398.9l-1.8-2.7 -3.2-.8 -1.5-2.7 -1.9-2.4 M517.9 390.3l1.9-2 1.8-2.1 -1.1-2.7 .8-2.8 M525.8 381.1l-2.3 .7 -2.2-1.1 M523.8 403l0-2.8 2.5-1.3 M533.8 374l.1 3.3 -2 2.6 -3.1 .4 -3 .8 M509 391.6l2.3-.5 2-1.2 2.4-.6 2.2 1 M519.2 378.7l2.1 2 M645.8 336.8l-1.3 1.7 -.5 2.1 M659.4 344.7l-1.8 .3 -1.3 1.4 -1.7 .1 -1.8 .3 -1.1 1.3 -1.2 1.2 -1.1 1.5 -1.4 1 M644 340.6l-.5 1.9 1.1 1.5 1.7 .5 1.3 1.1 1.1 3.1 -.7 3.1 M638.4 326.3l-2.4 1.7 -2.9-.2 M629.5 338.4l1.7-2.4 2-2.2 -1.2-1.3 -.7-1.7 1.1-1.4 .7-1.6 M629.5 338.4l1.4 2.8 2 2.3 M644 340.6l-2.5 2.2 -2.2 2.6 -1.8 .3 -1.8-.1 -1.3-1.2 -1.5-.9 M629.2 362.4l2.2-1.7 2.7-.4 1.4-2.3 .8-2.6 M623.6 362l.2-3.1 1.7-2.5 -1-2.8 -1.8-2.5 M622.7 351.1l2.2-1.1 2.5 .5 2.1-1.4 2.4-.5 M631.9 348.6l-.4 2.3 1.8 1.6 .7 2.3 2.3 .6 M664.1 356.4l-2.8-1.1 -2.8 1.2 -2.6 1.1 -2.7 .8 M648 351.8l-.4 1.6 M653.2 358.4l-.7-2 -2-.6 -1.2-1.5 -1.7-.9 M632.9 343.5l-.6 2.5 -.4 2.6 M636.3 355.4l2.7-.4 2.2 1.6 M647.6 353.4l-1.6 .9 -1.4 1.2 -1.5 1.1 -1.9 0 M602.6 359l0 3.1 2.7 1.5 2.7-.6 2.7 .4 M602.6 359l-1.5 1.6 -1 1.9 -2.1 .5 -2 1 M595.9 364.6l2.3 2 2.9 .4 -1.5 2.9 1.9 2.8 M595.9 364.6l.1-.6 M601.5 372.7l2.4 0 2.3-.1 2.8-.3 1.1-2.5 M610.1 369.8l-.3-3.3 .9-3.1 M586 370.8l2.6-1.9 3.1 0 1.4-1.4 -.5-1.9 1.6-.6 1.7-.4 M594.8 392.3l.2-2.7 -.2-2.7 1.2-2.4 1.5-2.2 .6-2.7 2.1-1.8 .2-2.7 1.1-2.4 M580.8 362.9l.8-3.1 .8-3 3.3-.4 2.8-1.5 M588.5 354.9l1.7 .5 1.6 .4 1.4 1.4 -.6 2 2.9 1.5 .5 3.3 M614.6 374l-2.4-1.9 -2.1-2.3 M623.3 362.2l-2.1-1.6 -2.5-.9 -2.3 1.9 -2.8-.5 M613.6 361.1l-1.9 .6 -1 1.7 M629.5 338.4l-2.9 1.1 -2.8-1 M622.7 351.1l-2.1-.2 -2.1 .3 -1-1.8 -1.1-1.8 M623.8 338.5l-2.4 1.8 -1.9 2.3 -.6 3.1 -2.5 1.9 M613.6 361.1l.1-1.9 -.6-1.7 -.7-1.8 -1.3-1.3 .7-1.6 .6-1.6 1.1-1.6 0-1.8 M616.4 347.6l-2.9 .2 M602.7 354.4l1 2.3 -1.1 2.3 M602.7 354.4l2.1-2 2.8-.8 1.6-2.4 2.5-1.5 M611.7 347.7l1.5 0 M613.2 347.7l.3 .1 M596.5 329.1l.7 1.8 .8 1.8 1.7 1.6 2.1-.6 1.1 1.8 0 2.1 -1.8 1.1 -.8 1.9 M596.5 329.1l-1.9 2.3 -2.3 1.9 .8 2.9 -.4 3 -1.9 2.3 -.3 3 -2.3 1.7 -2.6 1.2 M600.3 340.6l-1.4 2.1 -1.1 2.3 -1.6 2.1 .2 2.6 M596.4 349.7l-.9 2.4 -2.6 .3 -2.3 .8 -2-1.4 M588.6 351.8l-.9-2.1 -2-1.2 M585.6 347.4l.1 1.1 M602.7 354.4l-.6-2.1 -1.7-1.4 -2.1-.4 -1.9-.8 M611.7 347.7l-.6-1.9 -.6-1.9 -1.4-1.4 -1-1.8 -2.3 .6 -1.6 1.7 -2.7 0 -1.2-2.4 M588.5 354.9l.1-3.1 M572.5 352.6l1.8-.9 1.6-1.4 .9-1.8 1.1-1.8 1.9 .7 2 .3 1.9 .5 2 .3 M572.6 333.1l.1 3.1 2.7 1.5 2.7 .3 2.5 .9 .6 2.8 2.6 1.1 1.5 2 .3 2.6 M625 308.5l0 1.9 -.7 1.9 -1.1 1.6 -1.3 1.4 0 2 0 1.9 1.2 1.6 .3 1.9 M623.4 322.7l-1.5 2.3 -2.6 1.2 -2.8-.2 -2.2 1.9 M613.2 347.7l-.3-2.7 1.3-2.3 1.7-2.4 -1.4-2.6 -2.1-2 .8-2.8 -1.9-2.1 .7-2.8 M636.8 311.6l-2.7-1.7 -3.1-.2 -3-.3 -3-.9 M633.1 327.8l-1.9-2.2 -2-2.1 -2.7-1.6 -3.1 .8 M623.8 338.5l-.7-1.8 -1.7-.9 -1.4-1.1 -1.1-1.5 -1.5-1.8 -2.4 .6 0-2.1 -.7-2 M339.1 330.5l.6-2.4 .1-2.5 -.4-2.5 -.7-2.4 M339.1 330.5l2 .7 1.9 1 2 1 2.1 .4 M347.1 333.6l3.1-.9 2.4-2.2 M339.2 320.2l1.6 1.5 1.8 1.1 1.9 1 1.5 1.7 2.3 1 2.2-1.4 1.1-2.1 2.2-1 M339.2 320.2l-.5 .5 M352.6 330.5l.5-2.1 -.2-2.2 .9-2 0-2.2 M349.9 346.3l-2.1-2.2 M347.8 344.1l1.1-2.7 -1.5-2.5 -.4-2.6 .1-2.7 M360.6 335.5l-1.9-1.6 -2.5-.4 -1.7-1.6 -1.9-1.4 M354.9 320.8l-1.1 1.2 M341.4 310.9l-1.6 1.9 -.5 2.5 -.6 2.5 .5 2.4 M329.1 319.3l2.4 .4 2.3 1.1 2.4-.3 2.5 .2 M337.1 332.1l-2.5-1.7 -2.2-2 -2.9 .9 -2.6 1.6 M337.1 332.1l.6 3.2 -.9 3.1 -.7 3.2 -1.9 2.6 M329.1 344.6l1.3 1.5 2.1-.4 M329.1 344.6l.4-3.3 -2-2.5 -.5-1.7 -.5-1.7 -1.6-.7 -1.8 0 M323.1 334.7l2.1-1.8 1.7-2 M332.5 345.7l1.7-1.5 M326 322.7l1.6 1.7 1 2.1 -1.8 1.8 .1 2.6 M339.1 330.5l-2 1.6 M347.8 344.1l-1.5-1.3 -1.6-1.2 -1.9 .6 -1.8 1 -1.5 1 -1.8 .3 -1.7-.7 -1.8 .4 M318.1 348.5l.7-1.6 1.2-1.3 1.6 .7 1.8-.4 2.6-1.7 3.1 .4 M333.5 353.1l.7-1.8 0-2 -1.3-1.6 -.4-2 M318.4 334.5l2.3 0 2.4 .2 M296.2 220.3l.5 1.7 1.1 1.4 1.2 1.3 1.7 .7 -1.5 3 -.9 3.3 3 1.3 3.2-1.1 2.5 2 1.7 2.7 M302.7 246.8l1.2-1.3 1-1.4 1.2-1.3 1.6-.8 M308.7 236.6l-.8 2.6 -.2 2.8 M308.7 236.6l1.7-1.8 2.4 0 2.1-.9 2-.8 2.4-.7 2.1 1.2 2.2-.7 2.3-.2 1.7-1.4 1.6-1.6 2.4-1.2 0-2.6 1-1.9 1.6-1.7 1.1-1.9 1.8-1.4 M356.4 491.6l-.7 2.3 -2.4 .5 -.9 2.1 -2.2 .6 -1.8 1.2 -1.9 1.2 -.7 2.1 -.4 2.2 M337.8 479.4l-2.3 1.3 -1.5 2.3 -1.4 2.2 -1.5 2.1 2.1 2.2 .2 3.1 -1.1 2.7 -1.5 2.5 M330.8 497.8l1.8 1.3 .9 2.1 2.2-.3 2.1 .5 1.5 1.6 1.9 .9 2.1 .5 2.1-.6 M364.5 513.2l-2 .6 -2 .7 -2.4 .5 -1.5-1.9 -1.9 .8 -2.1 .1 -1.6-1.8 -2.3 .6 M345.4 503.8l1.1 2.2 -.2 2.5 .8 2.4 1.6 1.9 M328.6 543.2l-1-3.1 2.3-2.3 -2.3-1.9 -.4-3 .5-3 1.5-2.7 -1.6-.8 -1.7-.2 0-1.8 -.8-1.6 M307.2 529.1l2.4 .7 2.4-.5 1.8-1.6 1.7-1.6 2.6 .2 1.7-1.9 1.1-2.1 1.4-1.8 M325.1 522.8l-2.1-.4 -.7-1.9 M351 534.6l-1.8-1.4 -1.1-1.9 1.5-1.9 -.4-2.3 -1.6-1.2 -.8-1.9 -1.1-1.6 -.5-1.9 M325.1 522.8l2.9-.9 1.8-2.3 2.2-2 2.5-1.5 3.1-1.1 3.3 .8 .8 1.7 -.1 1.9 1.8 .5 1.8 .6 M345.2 520.5l.6-2.1 1.3-1.7 1.9-1.5 -.3-2.4 M297.6 507.5l3-.4 2.9-.9 2.8 1.2 2.7 1.3 3.1 .4 2.2 2.3 2.9 .1 3-.3 M297.6 507.5l1.5-2.4 1.7-2.2 -.4-2.8 -1.5-2.4 -.7-2.8 1.6-2.5 3.1-.1 1.4-2.8 M304.3 489.5l3.1 .7 2.3 2.1 2.3-2 2.7-1.5 M314.7 488.8l2 .5 2.1 .3 1.1 1.9 1.5 1.4 1.6 1.3 1.4 1.5 .7 1.9 .7 1.9 M320.2 511.2l1.8-.7 1.2-1.6 -1.2-1.7 .7-2 1.7-.9 1.6-1 .2-1.9 -.4-1.9 M297.4 507.6l.2-.1 M322.3 520.5l.3-2.5 -1.4-2.2 -.7-2.2 -.3-2.4 M295.5 480.5l2.5 2 1.7 2.7 -.4 2 1.7 1.3 1.5 1 1.8 0 M319.2 474.4l-.8 1.8 -.8 1.8 -1.6 1.3 -1 1.7 -1.5 1.7 .4 2.2 .6 1.9 .2 2 M330.8 497.8l-2.4 1.2 -2.6 .5 M642.3 371.6l1.8 .4 1.7 .5 1.5 .9 1.3 1.2 .6 1.7 1.6 1.1 1.9 .2 1.1 1.6 M642.3 371.6l.2-.3 M642.5 371.3l2.6-1.5 2.4-1.9 2.6-1.9 3.2 .1 M653.8 379.2l1.2-2.5 2.1-1.7 .7-2.6 1-2.5 M658.8 369.9l-1.8-1.3 .2-2.3 -1.8-1.3 -2.1 1.1 M639.6 373.4l2.7-1.8 M654.5 382.1l-.7-2.9 M641.2 356.6l1.3 1.5 .4 1.9 .6 1.9 .1 1.9 0 2.2 -1.8 1.4 -.4 2.1 1.1 1.8 M653.2 358.4l1 2 1.4 1.8 -1.2 1.9 -1.1 2 M662.3 369.6l-1.7 0 -1.8 .3 M340.8 254.8l-2.4 .9 -2.3-1.3 -2.2 1.2 -1.3 2.1 -2.3 .1 -1.8 1.4 -1.6 1.7 -2.4 .1 M340.8 254.8l-.8-2.9 1.2-2.7 -3-.4 -1.7-2.6 -1.4-2 -.3-2.4 -.4-2.4 -1-2.2 M333.4 237.2l-1.9 1 -1.5 1.6 -.8 2 -.9 2 -1 1.9 -1.8 1.2 -1.2 2 -2.2 .5 M322.1 249.4l2.2 2.3 1.3 3 .1 3.2 -1.2 3 M324.5 261l0-.1 M372.3 266.2l-1.4-1.8 -1.6-1.6 -2.1-1 -2.4 .3 -1.7-1.4 -1.1-2 -2.3-.3 -2-1 -2.2-.9 -1.7-1.5 -2-1.2 -2-1.1 -2.4 .2 -2.4-.3 -2.1 1 -2.1 1.2 M327 270.5l-1.7-2 -1-2.4 1-2.5 -.8-2.6 M337.1 219l.9 2.4 -1 2.3 -1 2.2 -1 2.1 -2.5 1.4 -.7 2.8 1 2.4 .6 2.6 M307.7 242l1.4 1.7 .9 2.1 2 1.1 2.3-.1 2.1 0 2 .7 1.7 1.2 2 .7 M312.7 262l2.8-1 3-.6 3 .4 3 .1 M182.8 119.1l2.3 .6 2.1 .9 2.4-.1 2.3-.1 .8-1.4 1.5-.4 1.4-.1 1.2-.9 1.5 .1 1.2 .9 1.4 .1 1.4 .4 1.4 .2 1 1 .9 1 .6 1.2 1.3 .3 1.3-.3 1.3 0 1.2 .5 1.5-.3 1.6 0 1.4 .7 1.4 .7 1.5 .3 1.3 .9 1.5 .3 1.5 0 2-.5 2 .6 2.1-.1 1.7-1.3 2.1 .2 2.2-.4 1.7-1.3 1.8-1.1 1.9-.7 1.9-.8 2-.7 2-.4 2-.8 2-.9 1.8-1.1 1.9-1.1 .3-1.3 .5-1.2 1.4-.3 .9-1.1 2.4-.3 2.3-1 2.1-1.2 2.3-.6 1.2-2.2 2.2-1.1 0-1.5 1.2-.7 1.2-.5 1.2-.4 1.8-1.5 2.4-.6 1.8-.2 1.7-.6 1.6-.6 1.4-1.2 M284 97.6l.9 1.8 1.2 1.6 .7 1.9 -.2 2 .8 1.1 .2 1.4 .7 1.1 .3 1.4 1.2 1.1 .7 1.4 -1.2 1.1 -.1 1.7 1.1 .8 .6 1.2 1.4 .2 1 1 1 .9 .4 1.3 .2 1.3 .7 1.1 1.4 2 2 1.3 2.1 1.3 2.3 .6 1.2 1.1 1.3 1 1.2 1.1 1.5 .7 .4 2.2 -.5 2.1 -1.2 1.8 -1.3 1.7 -.6 1.3 -1.2 .8 -1.3 .6 -.8 1.2 .8 1.9 1 1.8 .4 2 .4 2 1 1 .5 1.4 0 1.4 -.2 1.4 M246.4 120.4l.2 1.5 0 1.6 1.2 1 1.1 1.1 .4 1.7 1.4 1 1.3 1 .8 1.5 0 1.7 -.1 1.7 -.1 1.7 -1.1 1.4 1 1.3 1.1 1.2 1.4 1 .4 1.7 2.1 .6 1.5 1.6 1.2 1.7 1.7 1.3 1.1 .8 1.4 .3 1.3 .2 1.3 .4 1.3 .8 1.2 .9 -.2 1.5 .4 1.5 1.1 1.3 .6 1.5 .9 1.4 1.3 1 -.9 1.4 -.4 1.7 -1.6 .7 -1 1.4 -.7 1.3 .3 1.4 -.1 1.3 -.8 1.2 M158 285.8l1.3 0 1.4 .2 1.3 .1 1.3-.5 1.3-.5 .8-1.1 1-.9 .7-1.2 1.3 .7 1.3-.8 1.3-.1 1.4 .1 1.3-.2 1.3-.2 1.1-.7 1.4-.1 1.5 .1 1.5-.2 1.4-.1 1.5 .1 1.4-.6 1.6 .3 1.2-1 1.6 .1 1.8 1.1 1.6 1.3 1.2 1.9 -.8 2.2 2.4 .3 1.9 1.4 1.6-1.7 1.9-1.3 1.3-.7 1.4-.4 1.2 .9 1.4 .4 1.4-.1 1.1-1 1.4 .5 1.2-.9 2-.7 1.7-1.3 2-.6 2.1 0 1.4 .6 1 1 1.4 0 1.4-.3 M143.8 307.8l1.5 .7 .2 1.7 .5 1.4 .4 1.4 -2 .2 -.7 1.9 .2 1.8 -1.4 1.3 -2 1.2 -1.9 1.4 .8 1.8 -1.2 1.5 -.5 1.6 -.4 1.6 1.7 .8 1.7 1 1.3 1.5 .5 1.9 .3 2.4 -.6 2.2 .1 1.3 -.3 1.3 .9 .9 .9 .9 -.2 1.3 .1 1.4 -.9 1.1 .1 1.4 .2 1.3 0 1.3 .1 1.4 .6 1.2 1.5 .5 1.5-.1 1 1.1 1.1 1.1 1.6 .7 1.6 .7 1.9 .1 1.4 1.1 1.3 1.4 1.2 1.5 .2 2 1.2 1.6 1.3 1.3 1.3 1.3 M98.4 357.1l2.1-1.1 2.3 0 2.3-1 2.3 .8 2 .3 2 0 1.8 .7 2 .3 1.2-.6 .8-1 1-.8 1.1-.6 1.1-.8 1.3-.4 1-1 .3-1.3 .4-1.2 .6-1.1 1.2-.3 1.3 .1 2.1 0 2.2-.1 1.1 .6 1.3 .2 1 .8 .8 1 2.4-.1 2.5 .1 2 .5 1.9 .8 M142.5 318.2l1.4 1.3 1.4 1.3 1.8-.6 1.8-.7 1.9-.6 1.9-.5 2-.5 2 .3 1.9 1.2 2.3 .2 2 1 1.6 1.5 1.2 1.4 1.5 1.1 1.1 1.5 1.4 1.2 1.3-1.1 1.7-.4 1.6 .2 1.7-.2 1.3-1.2 1.7-.6 .6-1.5 .5-1.7 1.5 0 1.5-.2 .8-1.2 1.2-1 1.7 0 1.3-1.1 1 1.4 1.4 .8 1.7-1.3 1.7-1.2 2.2-.3 2.1 .2 2 1 1.4 1.7 2.2 0 2.2-.1 1.3-1.6 1.5-1.5 .6-2.1 1.8-1.3 .4-2.2 -.5-2.1 -1.1-1.8 -1.4-1.7 2.1-1.2 1.7-1.5 1.7-1.8 2.3-.7 1.7-1 2-.4 1.7-1.5 -.2-2.2 M193 285.8l-.4 2.3 -.7 2.3 -1 2.2 -.4 2.3 -1.5 1.4 -2.1-.1 -1.5 1.1 -1.4 1.4 -1.3 2 0 2.5 -.5 2.3 .5 2.3 .2 2.3 .3 2.3 1.6 1.7 1.8 1.5 .5 2.3 -1.8 1.6 M169.7 327.3l1.5 1.2 .2 1.8 -.3 1.8 -.1 1.7 1.3 1.4 1.8 .2 1.8 .3 1.6 .7 1.9 .4 .5 1.8 0 1.9 1.5 1 1.3 1.5 1.8 1.1 0 2 .8 1.9 1.1 1.1 1.3 .7 1.5-.3 1.2-1 1.4-.2 1.2-.4 1.3 .4 1.3-.3 1.8-.9 1.9 .5 .2-2 1.3-1.5 1.5-1.1 1-1.6 1.7-.8 1-1.7 1.6-1.4 2.1-.6 2.2-.6 1.9 1.4 M161.9 366.2l2.2-.3 1.9-1.3 1.9-1 1.8-1.3 1.8-1.3 1.7-1.4 2-1.1 2.3-.1 1.3-.5 1.4 .1 .4-1.3 .4-1.3 2.5 .1 1.8 1.6 .5-2.3 .1-2.3 1.6-1.6 1.7-1.6 M159.3 363.6l1.3 1.3 .7 1.7 .7 1.7 -.1 1.8 1.2 1.4 1.1 1.5 -.1 1.8 .4 1.8 1 1.5 .5 1.6 .4 1.7 .7 1.6 -1.5 1.2 -1.5 1 -1 1.6 -1.2 1.4 -1.3 1 -1.4 .8 -.9 1.4 -1.6 .7 -1.9 .8 -1.1 1.8 1 1.8 -.6 2.1 M125.6 388.2l1-1.6 .4-1.9 1.9 0 1.9-.4 2-.3 1.8-.8 2 .5 2-.7 2.1 .7 1.8-1.1 1.9-.9 2 .1 -.2-1.4 .4-1.4 1.3-.6 1.3-.7 2.4 .5 2.5-.3 1.2-2 2-1.3 1.9-1.3 1.4-1.9 M167.1 383l1.6-1.6 2-1.3 2.2 .6 2 1.1 1.9-.9 2 0 .9-1.8 1.7-1.2 1.1-.8 1.4 .2 1-1 1.4 0 -.1-1.4 0-1.4 .6-1.2 1.1-.9 .6-1.8 .9-1.7 .4-2.2 2-.8 1-1.3 1-1.2 .6-1.6 1.2-1.1 1.3 0 1.4-.1 1.2 .6 1.3 .5 1.4-.6 1.2 1 1.3-.8 1.3 .7 1.7 1.2 2 .5 2.1 0 2-.4 2.1 .3 2 .3 1.9 1 1.8 1 M174.9 381.8l.2 2 .9 1.7 1.5 1.3 1.3 1.4 1.7 1.6 1.3 1.9 -.4 2.3 -1.3 2 -1.6 1.8 -2 1.4 -.4 2.5 -1.2 2.1 -1.1 1.7 -.4 2 -2.2 0 -1.5 1.5 M189.2 349.3l-.4 2.4 .5 2.4 1.9 1.4 1.8 1.6 2 .6 .6 2" fill="none" stroke="#ffffff" stroke-width="1.05" stroke-opacity="0.97" stroke-linejoin="round"/>
<path d="M381 368l-3 2 -1 0 .2 .8 -1.2 4.2 -3.8 4 5 5.5 2.3 3.5 3.7 1.5 1 0 2.3-5 .5-3.5 .8-1.2 .2-5 .8-1 -1.3-1 -1.5-2.8z" fill="#f0dfd6" stroke="#fde8dd" stroke-width="0.9" stroke-linejoin="round"/>
<path d="M374 344.2l-1.2 .8 -4.3 .5 -2.5 1 -.8 8.5 1.3 4.5 6.7-3.3 2.3-.2 3.3 1 1.2-.8 1 0 0-1.4 -3.8-5 .6-.3 .4-1.7z" fill="#f0dfd6" stroke="#fde8dd" stroke-width="0.9" stroke-linejoin="round"/>
<path d="M361.5 367.2l1.3 7.8 3.2 2.5 4 .3 2.2 1 3.6-3.8 1.2-4.8 -3.5-.4 -8-3.8z" fill="#f0dfd6" stroke="#fde8dd" stroke-width="0.9" stroke-linejoin="round"/>
<path d="M377.5 349.8l3.7 5 0 1.2 2.3 1 5.3 .5 4-1.5 2.4 0 1.3-2.8 0-.7 -1 0 -2.7-1.5 -2.8-.8 -1-.7 -.8-1.5 -2.2 .2 -1.2-.4 -4.8-.3 -1.5 .3 -.5 1.7z" fill="#f0dfd6" stroke="#fde8dd" stroke-width="0.9" stroke-linejoin="round"/>
<path d="M391.2 343.8l-3.7-3.3 -1.7-3 -1 1 -5.6 1 -4.7 2 0 1.5 -.7 1 4.4 3.5 4.6-.3 3.7 .8 1.7-.2 0-1 .8-1.3z" fill="#f0dfd6" stroke="#fde8dd" stroke-width="0.9" stroke-linejoin="round"/>
<path d="M396 516.5l-5.8-1.5 -5.7 1.2 -6.7-2.4 2.4 4 1.3 8 2.7 7.2 1 7.2 -3.4 5.8 -10.8 10.8 -2.5 5 -.5 6.4 3.8-.2 13.7-3.5 4-2.7 1.5-3.8 1.8-1.8 2.4 0 2 1.8 2.8-2.8 5-1.2 2.2-7 1-1.2 3.3-2 0-2.6 .5-1 -7-2.7 -4-4.5 -.2-1 -2.6-.8 -2.4-3.4 -2-4.6 -.3-2.2z" fill="#ead4c8" stroke="#fde8dd" stroke-width="0.9" stroke-linejoin="round"/>
<path d="M370.2 452.5l-.2 10.7 4 2.6 3.5 1.2 11.7 2.8 8.8 0 1.8 .4 3.7 0 2.5 .8 2.8-4 -3.6-6.8 .3-4.4 2-5.8 -.7-2.8 -2.3-4.2 -.7-3 -3.8 .2 -1.8-.4 -10.2-.3 -6.8 1.5 -4 2 -3.2 5 -2.5 2.5z" fill="#ead4c8" stroke="#fde8dd" stroke-width="0.9" stroke-linejoin="round"/>
<path d="M444 508.5l-3.5 1.7 -3 2.3 -2.3 5 -2 2.7 -6 2.8 1.3 6 0 6 -1.3 7 1.3 .8 1 2.2 6.5-1.2 3.8-3.8 4.2-2 9-8.5 .2-3.7 1-2.8 -2-2.5 -1.7-3.7z" fill="#ead4c8" stroke="#fde8dd" stroke-width="0.9" stroke-linejoin="round"/>
<path d="M622.5 401l-5.5 3 -2.8 2.5 -4 2.3 -1.2 .2 -1.5-.5 -1.5 1 -2 .3 -1.2 2 -1.6 1 5.8-1 1 3 -.2 3.7 -3.6 .3 -3 1.2 -1-6.5 -.4 .5 0 2.5 -1.3 4.5 2.5 4.2 1.2 1.3 .3 2 -.5 2.5 3.8 5 1.4 1.2 0 .8 1.3 1.8 1.7-1.6 2.6 0 1.4-2.7 .3-1.7 1-1.3 .3-2 -1.3-1.5 .7-3.2 1.6-1.8 4-2.5 4.7-4.7 0-10z" fill="#ead4c8" stroke="#fde8dd" stroke-width="0.9" stroke-linejoin="round"/>
<path d="M242.2 315.8l-3.7-2.3 -1.3 1.3 -1 5.7 -4 5.7 -7.7 2.8 -5.7 4.8 -3.8 2 -2.2 2.2 2.7 5.5 3.5 1.7 3.5 1 11.3 1 7.4-2.7 0-9.7 1-5.3 0-8 .6-1.7z" fill="#ead4c8" stroke="#fde8dd" stroke-width="0.9" stroke-linejoin="round"/>
<path d="M232 583l-2.8 1.5 -2.7 5.3 -1.3 4.4 -.2 6.8 5.5 4.5 13.3 4.7 .2-1.2 1.2-1.2 -.7-1.8 0-1.5 .5-.7 .8-5 .7-2.3 1.3-1.3 0-2.4 -.6-1.3 .3-4.7 -.7-4.3 -9-1z" fill="#ead4c8" stroke="#fde8dd" stroke-width="0.9" stroke-linejoin="round"/>
<path d="M272.2 572.5l-15.7 1.7 -5-.4 -3.5 7 -1.2 1.2 1 4.8 0 8.2 14.4-1.8 5.3-2 3.5-.4 .5-2.6 0-4.2 .7-2.2 -.4-2.6z" fill="#ead4c8" stroke="#fde8dd" stroke-width="0.9" stroke-linejoin="round"/>
<path d="M272.2 606.2l-7.7-4 -2.7 .3 -7.3 2.3 -5.7 3.2 -1.3 .2 -2-.7 -1.3 1.5 -.4 1.5 1.2 1.5 0 3.2 3.2 4.8 4.3 2.8 1.3 1.4 .2 1.3 2 0 4.2-1.3 1.3-4.7 1.7-2.7 6-2.3 3.6-.5 -.6-3z" fill="#ead4c8" stroke="#fde8dd" stroke-width="0.9" stroke-linejoin="round"/>
<path d="M215 649l-1.8 4.5 -7.2 7.3 1.8 3.2 .7 3 1.3 2.5 3.4 3.3 3.3 2.2 5.5-3.5 4.5-2.3 3-.7 0-6.5 -5.3-5.2 -1.7-3.6 -2.3-3z" fill="#ead4c8" stroke="#fde8dd" stroke-width="0.9" stroke-linejoin="round"/>
<path d="M400.8 531.8l.4 1.2 3.8 4.2 7.2 3 1-1 1.3-.2 2 .8 3.3-.8 2 .8 2.7 2.7 .5-.5 2 0 1.2-7 -.2-8.5 -1-3.5 -4.2 1 -2.6-.2 -1.2-.8 -3.8-4 -1.4 2.5 -3.3 2.7 -2.3 3 -2.7 2 -2.7 1.3 -1.3 1.3z" fill="#ead4c8" stroke="#fde8dd" stroke-width="0.9" stroke-linejoin="round"/>
<path d="M261.8 664l-3.6 2 -4.2 3.8 -6.2 3.7 -1.8 2.3 .2 2.7 2 5.3 6.6 5.2 2.7 0 2.7 1.5 3-4 2.3-2 1.7 0 1-2 -.7-1 0-1.5 1-2.2 1-8 -4 .4 -2.5-1 -1.2-2 0-1.4 .4-.8z" fill="#ead4c8" stroke="#fde8dd" stroke-width="0.9" stroke-linejoin="round"/>
<path d="M260.2 624.5l-3 1 -3.2 .3 -.8 1.7 -2 1.5 -4.7 2.5 -4.7 3.3 -8.6 3.7 1.3 2.7 3.5 .8 4.5 1.8 6.3 5.2 2.7-2.5 2.5-1.5 1-4 1.8-3.2 2.7-2 3.5-3.6 -1.5-3z" fill="#ead4c8" stroke="#fde8dd" stroke-width="0.9" stroke-linejoin="round"/>
<path d="M699.8 288.5l-.8 7.3 3.2 6.7 3.3 3.5 .7 1.2 0 1 6.3-1 2.5-3.2 4.5-8 1.5-6.2 -8 .2z" fill="#ead4c8" stroke="#fde8dd" stroke-width="0.9" stroke-linejoin="round"/>
<path d="M254.5 689l-6.5-5.2 -2-5.3 -.2-2.5 -3.3 1.5 -3.3 3 -6.7 2.7 -2.7 1.8 -.8 1.2 -1.2 .8 0 3.5 1.4 2.3 1.8-.6 1.2 .3 6.3 4.5 5.3-1.2 5-4z" fill="#ead4c8" stroke="#fde8dd" stroke-width="0.9" stroke-linejoin="round"/>
<path d="M337.2 361.5l-5.2-1.3 -4.5 2.8 -3.5 .8 -3.5 1.7 -1.3 4 -1.4 10.5 7.7 0 1.7-4 1.8-1.8 3-.7 4-.3 3.8-6.4z" fill="#ead4c8" stroke="#fde8dd" stroke-width="0.9" stroke-linejoin="round"/>
<path d="M484.5 358.2l-1 5.3 1 1 .7 3 0 3 4.3 .5 3 1.2 1.7 3.6 2.3-.6 4-2.2 0-12 1.3-1 -.3-2.8 -9 .3 -3.5 .7 -2.8-1.4z" fill="#ead4c8" stroke="#fde8dd" stroke-width="0.9" stroke-linejoin="round"/>
<path d="M415.8 352l-3.8-1.5 -5.8-1 -1.2 .3 -.8 1.4 -1 .8 -6.4 .8 -1.3 3.4 1.5 1.6 1 4 4.5 8 2.7 .2 4.8-4 .8-2 -2-3 .4-2 6-5.5z" fill="#ead4c8" stroke="#fde8dd" stroke-width="0.9" stroke-linejoin="round"/>
<path d="M712.5 307.5l-6.3 1 -1 2 -6.7 3.3 -1.5 2.7 -.8 3.3 4.8 4.2 5.5 2.5 3.7-1 3.3 0 -2.5-4.3 -1-5.4 0-2.6z" fill="#ead4c8" stroke="#fde8dd" stroke-width="0.9" stroke-linejoin="round"/>
<path d="M225.5 623l-8-1.2 -4 1 -3.5 1.7 0 3.5 1.2 5.5 5.3 3.3 2.7-1.3 3.8-.7 1.5-3.6 2.3-3z" fill="#ead4c8" stroke="#fde8dd" stroke-width="0.9" stroke-linejoin="round"/>
<path d="M392.2 324.2l0 4 1.3 2.3 -.3 2 10 2 5.6-1 0-4 2-3.7 .4-2.6 -1 .3 -6.2-1.3 -5.5-.2 -2 .2z" fill="#ead4c8" stroke="#fde8dd" stroke-width="0.9" stroke-linejoin="round"/>
<path d="M289 675l-2 3.2 -3 3.3 .2 4.3 -1 1.4 -1.2 .6 0 1 1.5 0 5.7 3 6.3-2 .7-3.3 1.3-2.5 -3-5z" fill="#ead4c8" stroke="#fde8dd" stroke-width="0.9" stroke-linejoin="round"/>
<path d="M212.5 688l1.3 5 6 4.2 5.7 1 3-4.7 .7-.5 -1.7-2.5 0-3.5 -2.5 0 -4.8-3z" fill="#ead4c8" stroke="#fde8dd" stroke-width="0.9" stroke-linejoin="round"/>
<path d="M473.2 378.8l-3.7-.3 -1.5 1.5 -1.8 4 -3.4 1.8 -2.8 .7 -.5 3 0 5.5 .5 3 3.8-1.8 8-7.7 2.4-.3 0-7.4z" fill="#ead4c8" stroke="#fde8dd" stroke-width="0.9" stroke-linejoin="round"/>
<path d="M445.2 379.5l-2.4 1.5 -2.8 .5 -.2 1 -1.8-.5 -1.2 2.2 -7.6 10 1.3 2 5.5-.7 5-2.5 3.5-5 4-3 -3.3-3.2z" fill="#ead4c8" stroke="#fde8dd" stroke-width="0.9" stroke-linejoin="round"/>
<path d="M356 329l-3.8 1.2 -5 2.6 -.2 .4 1.2 3.3 3 4.3 2 2.2 3.8 2.2 3-1.7 1.5-4.7 -5-9.6z" fill="#ead4c8" stroke="#fde8dd" stroke-width="0.9" stroke-linejoin="round"/>
<path d="M272.5 309.5l.3 8.5 2 2.5 1.4 3.5 5.3 1.2 1.3-8 -1.8-3.4 -1-4.3z" fill="#ead4c8" stroke="#fde8dd" stroke-width="0.9" stroke-linejoin="round"/>
<path d="M386.5 335.8l-.5 1.7 1.8 3 3.4 3 8.3-1.7 1 .2 .5-1.5 0-5.3 .8-.2 0-.5 -8.8-1.7 -1.2 1.2z" fill="#ead4c8" stroke="#fde8dd" stroke-width="0.9" stroke-linejoin="round"/>
<path d="M267.5 684.5l1.3 .5 1 1.5 -.3 4 4 4 5.3-1.5 1.2-3.5 2-1.3 -.2-.4 -.6 .2 -2-.8 -3.2-4.4 -4.2 1 -2.6-.3 -1-.7z" fill="#ead4c8" stroke="#fde8dd" stroke-width="0.9" stroke-linejoin="round"/>
<path d="M271 283.8l-1.2 3.4 .7 3.3 4.5 8.7 2.5-7.4 -.3-4.6 -1-3.4z" fill="#ead4c8" stroke="#fde8dd" stroke-width="0.9" stroke-linejoin="round"/>
<path d="M194.5 627.5l-3.7 0 -2.8 .7 3.2 11.8 2.8-.5 2.5-5.7z" fill="#ead4c8" stroke="#fde8dd" stroke-width="0.9" stroke-linejoin="round"/>
<path d="M408.8 333.8l-5.6 1 -1.2-.3 0 .5 -.8 .2 0 5.3 -.4 1.5 1.7 1.5 2.5 4.7 0 1.3 2.2-.3 .6-.7 -.3-8.7 1.7-5z" fill="#ead4c8" stroke="#fde8dd" stroke-width="0.9" stroke-linejoin="round"/>
<path d="M263 656.8l.5 4 -.3 1.4 -1.2 2 .5 .6 1-1 6-.6 0-6.4z" fill="#ead4c8" stroke="#fde8dd" stroke-width="0.9" stroke-linejoin="round"/>
<path d="M521.2 391l-1.7 3 -.5 5.5 -2.2 4.3 -2.3 6.2 6.7 0 0-3.8 .6-2.2 -.6-5 3.8-2.2 -1.5-1.3 .5-1.7z" fill="#d5a58f" stroke="#fde8dd" stroke-width="0.9" stroke-linejoin="round"/>
<path d="M471 343.8l-1.5 4.4 .3 2.6 2.7 1 3 3 4.5 2.2 4 1.2 2.5-1.7 0-2 3.5-4.7 1.8-1.6 -4-3.2 -2.8-.8 -2.8 0 -1.2-.7 -1.5 .5 -1-.8 -2.5-.2 -2.8 1.2z" fill="#d5a58f" stroke="#fde8dd" stroke-width="0.9" stroke-linejoin="round"/>
<path d="M492.5 382.5l-3.7 4.7 .4 1.8 -.2 3.8 1.8 4.2 1.4 .5 3 0 3.8-1 3-1.5 3-10.5 -.8-.5 -5.7-.8 -4.5 .6z" fill="#d5a58f" stroke="#fde8dd" stroke-width="0.9" stroke-linejoin="round"/>
<path d="M474.5 387.8l-.3 2.4 3.6 6 4 2.6 4 3.4 1.4-1 3.6-3.7 -2-4.7 0-5 -1.3-1.6 -1-.2 -3.3 2.2 -6.7-1z" fill="#d5a58f" stroke="#fde8dd" stroke-width="0.9" stroke-linejoin="round"/>
<path d="M469.5 351.2l-.7 1.3 .2 3 -.8 1.3 -.7 3.7 2.5 3.3 2.8 2 4 1.4 6.4-3.7 1-5 -4.2-1.3 -4.5-2.2 -3-3 -2.5-1z" fill="#d5a58f" stroke="#fde8dd" stroke-width="0.9" stroke-linejoin="round"/>
<path d="M465 361.8l0 1.4 .8 1.3 -.8 4.7 0 3 .5 .6 5.3-.8 4.2 3 4.2-1.8 3.8-2.4 2-.3 0-3 -1.2-3.7 -.8 0 -2.2 1.7 -.8 0 -3.2 2 -3-1 -2.8-1.7 -2-1.8 -1.8-2.5 -1.2 .3z" fill="#d5a58f" stroke="#fde8dd" stroke-width="0.9" stroke-linejoin="round"/>
<path d="M492.5 382.2l1.5 1.3 4.5-.5 7 1.2 4.7-3.7 2-2 .3-1 -2-2.3 -3.3-.4 -2.4-1.3 -1.6 .5 -2.4-1 -1.8 1.5 -3.2 1.3 -1.3 0 -.5 .4 -1.5 3.8z" fill="#d5a58f" stroke="#fde8dd" stroke-width="0.9" stroke-linejoin="round"/>
<path d="M532.8 435.8l-.8-.6 -5 1 -11.8 5.6 5.6 5.2 4.2-1.8 5.8-.7 2.7-5.3z" fill="#d5a58f" stroke="#fde8dd" stroke-width="0.9" stroke-linejoin="round"/>
<path d="M529.2 350l-2-2.5 -.4 .3 -1.6-.8 -2.4 .8 -2.3-.3 -2.7 .5 -2.6 1.2 -1.7-.2 1.3 3.5 .7 4.5 1.7 .5 2.3 2 4-3.3 1.3 0 .7-2 2.3-2 1.4-.4z" fill="#d5a58f" stroke="#fde8dd" stroke-width="0.9" stroke-linejoin="round"/>
<path d="M500.8 345l-2.6 2.8 -4.2 1.2 -2.2-.5 -1 .7 -4 5.3 0 2 2.2 1.5 3.5-.8 9-.2 .5-8.8 -1-1.4z" fill="#d5a58f" stroke="#fde8dd" stroke-width="0.9" stroke-linejoin="round"/>
<path d="M465 372.5l-.5 .5 -2.5 .2 -1.5 1.3 -2.7 .7 -.8 5.6 2 3.7 3.2 .5 1.3-.2 3.3-2.3 1-2.5 1.4-1.5z" fill="#d5a58f" stroke="#fde8dd" stroke-width="0.9" stroke-linejoin="round"/>
<path d="M485.5 371l-2.5 0 -3.8 2.5 -4.4 1.7 0 2.3 -1.3 1.3 7.7 3.4 3.6-1.4 .7-2.8 -.5-3.8z" fill="#d5a58f" stroke="#fde8dd" stroke-width="0.9" stroke-linejoin="round"/>
<path d="M485.8 371l-.6 2.5 .6 4.5 -.8 3.5 1.5 4.3 2.3 1.2 3.4-4.5 0-2.5 1.8-4.2 -1.5-3.3 -3-1.3z" fill="#d5a58f" stroke="#fde8dd" stroke-width="0.9" stroke-linejoin="round"/>
<path d="M474 379.5l.5 1.3 -.3 3.4 .6 3.3 1.7-.5 6.7 1 3-2 -1.4-5 -3.6 1.5 -2.7-1 -3.3-2z" fill="#d5a58f" stroke="#fde8dd" stroke-width="0.9" stroke-linejoin="round"/>
<path d="M454.5 378.5l-4 1.3 -.7-.3 -.6 .5 0 5 3.3 .8 2.5-2z" fill="#d5a58f" stroke="#fde8dd" stroke-width="0.9" stroke-linejoin="round"/>
<path d="M525.2 396.8l-3.7 2.2 .5 5 -.5 2.2 0 4.6 -.7 2.7 3.4 3.5 5.3 2.2 4.5-1.7 2.8-4.3 2.7-2 .7 0 .3-.4 -.7-.8 .2-4 -4.2-3.2 -3.6-.8 -2-1 -1.2-1.2 -1.2-.3 -2-1.7z" fill="#cb917a" stroke="#fde8dd" stroke-width="0.9" stroke-linejoin="round"/>
<path d="M607 412l-6 1 -.5 .5 .7 6.3 3-1.3 3.6-.3 0-3.4z" fill="#cb917a" stroke="#fde8dd" stroke-width="0.9" stroke-linejoin="round"/>
<path d="M414.2 394l-.4 .2 .7 3.8 -1.3 4 .6 6.8 -.8 1 .2 1 .8-3.6 .8-8.2 .4-.5 -.4-1 .7-.7zM406.5 390.5l-10 .3 -3.3 1.7 -1.2 1.5 0 .5 3.8 2.7 1.2 1.8 1 11 1.2 .8 .6-.8 -.6-4 .6-14.8 7 0z" fill="#b5654a" stroke="#fde8dd" stroke-width="0.9" stroke-linejoin="round"/>
<path d="M412.2 390l-1.2 1.8 -2.8 .7 -.7-.3 -.3-1 -7.2 0 -.5 8.8 .5 10 -.5 1.2 2.7 3 4.3 1 5.5-3.2 1.2-.2 -.4-1.6 .7-1.4 -.5-6.8 1.2-4.8 -.7-2.2 .5-1.2 -.5-2z" fill="#b5654a" stroke="#fde8dd" stroke-width="0.9" stroke-linejoin="round"/>
<path d="M407.5 383.8l-2.5-3.3 -1.5 .3 -2.7-.6 -3-1.4 -2 1.2 -2.3 .5 -5.7-.5 -1.3 5.2 -2.3 4.6 1 .7 1.3 2.5 2.7 1.2 2.6 0 1.4-2 3.3-1.7 9.7-.3 -.2-3z" fill="#b5654a" stroke="#fde8dd" stroke-width="0.9" stroke-linejoin="round"/>
<path d="M540.2 411.5l-.7 0 -2 1.3 -3.5 5 -4.2 1.4 -.8 .8 3.5 6 1 5.2 0 4 .7 2.8 3.8 2.5 2-6 2-4 0-4.3 -2.2-3.7 -1-3.7 .2-1.8 2-2.5 -.8-1.7z" fill="#b5654a" stroke="#fde8dd" stroke-width="0.9" stroke-linejoin="round"/>
<path d="M435.8 378.8l-2-1 -2.8-.6 -7.2 .6 0 5 -2 11.2 .2 4.2 3.2-.7 3-2.7 3.6-5.6 6-7 .4-1z" fill="#b5654a" stroke="#fde8dd" stroke-width="0.9" stroke-linejoin="round"/>
<path d="M424.5 324l-.3 3 -2 4 -.4 3.5 -5 .5 2.7 6.2 2.3 0 2.7-1.2 3.5 1.8 2.2 2.2 4.3-.2 3-1.6 .5-.7 -1.8-2.3 -5.4-5.2 -4-9.8z" fill="#b5654a" stroke="#fde8dd" stroke-width="0.9" stroke-linejoin="round"/>
<path d="M521 374.8l-4 3.2 0 .8 2.2 4.7 3 4.3 1 4.4 1 1.8 2.8-3.8 5.8-2.7 1.7-2.5 -.3-3.5 .6-.7 -.8-.8 -3.5-.8 -4.3 0 -2.4-4z" fill="#b5654a" stroke="#fde8dd" stroke-width="0.9" stroke-linejoin="round"/>
<path d="M447.8 352.2l-.3 1.3 6.5 6.3 2.8 0 8.2 1.7 1-1 1.5-.3 .5-3.4 .8-1.3 -.3-3 1-2 -4.7 0 -1.8 1.3 -6.5-.8 -.7-.8 -2.8 1 -4.2 0z" fill="#b5654a" stroke="#fde8dd" stroke-width="0.9" stroke-linejoin="round"/>
<path d="M413.5 321.5l-2 1.7 0 1.3 -2.5 5 -.2 3.7 .4 1 7.3 .8 .5-.5 4.5 0 .5-3.5 2-4 .2-3 -5.2-2.5z" fill="#b5654a" stroke="#fde8dd" stroke-width="0.9" stroke-linejoin="round"/>
<path d="M519.2 359.5l-2-1.7 -1.7-.6 -3.7 2.6 -5.6 1 -4.4-.6 -1 .8 0 11.8 2.4 1 .8-.3 .2-4.5 1.3-.8 9.3-1 4.2-1.2 1-1z" fill="#b5654a" stroke="#fde8dd" stroke-width="0.9" stroke-linejoin="round"/>
<path d="M467.5 337l-3.7 1 -4 3 -2.8-.5 -.8 .3 .6 4.7 -.8 4.5 .5 .8 6.5 .7 1.8-1.3 4.4 0 0-2 1.6-4.7 -1-1 0-2.5z" fill="#b5654a" stroke="#fde8dd" stroke-width="0.9" stroke-linejoin="round"/>
<path d="M422.5 375.8l-2 1 -1.7 .2 -4.3 3.8 -1.7 2.7 -.8 3.3 .2 3 1.3 1.2 .5 2.5 1.8 3 4.4 1.3 .3 .4 1-2.2 .3-4 1.7-9.2 0-5.3z" fill="#b5654a" stroke="#fde8dd" stroke-width="0.9" stroke-linejoin="round"/>
<path d="M422.8 355.2l-1.3 7.6 4 3.4 2.3 3 8.4-1.2 4.8-2 -1-2.8 -1.5-.2 -6.3-4.8 -2.2-2.7 -2 .3 -2.2-.8z" fill="#b5654a" stroke="#fde8dd" stroke-width="0.9" stroke-linejoin="round"/>
<path d="M523.5 369l-1.7-3 -1.8-.8 -1.5 1.3 -3.7 1 -9.3 1 -1 .5 -.3 3.5 .3 .7 2 1 4 .8 2 2.2 2 .8 2.3 0 4-3.2 2.4-2.8z" fill="#b5654a" stroke="#fde8dd" stroke-width="0.9" stroke-linejoin="round"/>
<path d="M419.5 341.5l-1.3 1.7 -1.7 4.8 0 3.8 4.5 1.7 1.5 1.5 3.3-.2 2.2 .7 2-.3 1.2-1.7 -3.4-4.7 2.2-4.8 -2-2 -3.5-1.8 -2.7 1.3z" fill="#b5654a" stroke="#fde8dd" stroke-width="0.9" stroke-linejoin="round"/>
<path d="M428 348.5l1.5 2.7 2 2.3 6.5-1.5 3.2 0 5.8 1.8 .8-2 1-.8 -8-5.5 .2-.7 -.5-1.6 -2-1.4 -4 2.2 -4.5 .2z" fill="#b5654a" stroke="#fde8dd" stroke-width="0.9" stroke-linejoin="round"/>
<path d="M502 348.5l-.2 11 .4 .7 4 .3 5.6-1 3.4-2.3 -.7-4.7 -1.3-3.5 -5 .5z" fill="#b5654a" stroke="#fde8dd" stroke-width="0.9" stroke-linejoin="round"/>
<path d="M409.5 334.8l-1.7 5 .2 8.7 -.5 .7 4.5 1 3 1.6 1.2 0 0-3.8 1.8-4.8 1.2-1.7 -.4-2 -2.3-4.3z" fill="#b5654a" stroke="#fde8dd" stroke-width="0.9" stroke-linejoin="round"/>
<path d="M447.5 368.2l-3.5-.7 -2.8-1.5 -5 2.2 0 5.8 -.7 4.5 3 2.7 2.7 0 4-2 0-2.2 1-2.5z" fill="#b5654a" stroke="#fde8dd" stroke-width="0.9" stroke-linejoin="round"/>
<path d="M447.2 353.8l-1.2 2.4 -5.5 5.8 -.3 1.2 1 2.6 2.8 1.4 3.8 1 6.4-1.4 .6-2.6 -.8-2.4 0-1.8z" fill="#b5654a" stroke="#fde8dd" stroke-width="0.9" stroke-linejoin="round"/>
<path d="M461.8 373l-2.3-1 -5-5.2 -5 1.4 -1.5 0 -2.5 8.8 0 2.2 3.5 .3 2.2-.5 6-3.8 4.3-1.4z" fill="#b5654a" stroke="#fde8dd" stroke-width="0.9" stroke-linejoin="round"/>
<path d="M412.2 373.2l-3.2 0 -.5 1.8 -1.5 1.5 -1.8 3.5 .3 1 2.3 2.8 -1.6 3.4 .3 3 1 1 .3 1 3.2-.7 1-1.5 -.2-3.2 1.2-4.3 1.2-1.7 4.3-3.8 -3.3-2.8z" fill="#b5654a" stroke="#fde8dd" stroke-width="0.9" stroke-linejoin="round"/>
<path d="M430.5 354.5l-.3 1.3 2 2.2 6.3 4.8 1.5 .2 .2-1 5.6-5.8 1-2.2 -4.3-1.5 -4.5-.3 -6.8 1.6z" fill="#b5654a" stroke="#fde8dd" stroke-width="0.9" stroke-linejoin="round"/>
<path d="M422.5 355.2l-1.5-1.4 -5-1.8 -.5 1.5 -5.7 5 -.8 2.5 2 3.2 10.2-1.4z" fill="#b5654a" stroke="#fde8dd" stroke-width="0.9" stroke-linejoin="round"/>
<path d="M454.2 360l0 1.8 .8 2.4 -.2 2.6 4.7 5 2.5 1.2 2.5-.2 1-7.3 -.7-3.7 -6.6-1.6z" fill="#b5654a" stroke="#fde8dd" stroke-width="0.9" stroke-linejoin="round"/>
<path d="M436 368.2l-8.2 1.3 -4.6 5 -.4 1.3 .7 1.4 3.5 .3 1.2-.5 2.8 0 4.2 1.2 .8-4.2z" fill="#b5654a" stroke="#fde8dd" stroke-width="0.9" stroke-linejoin="round"/>
<path d="M402.2 369.8l-1.2 2.2 -3.5 1.5 -1.3 1.3 .6 2.4 .7 1.3 3.3 1.5 3.2 .5 1-.3 1.8-3.7 1.4-1.5 .6-1.8 -3.8-3z" fill="#b5654a" stroke="#fde8dd" stroke-width="0.9" stroke-linejoin="round"/>
<path d="M388.5 374.2l-.5 5.6 5.5 .4 2.3-.4 1.4-1 -1.2-4.3 -2.5 0 -1.3-1 -1.7 .5 -1.5-.2z" fill="#b5654a" stroke="#fde8dd" stroke-width="0.9" stroke-linejoin="round"/>
<path d="M465.8 373l1.7 3 2 2.2 4 .3 1-1 0-2.3 -2.3-2.2 -1.4-.8z" fill="#b5654a" stroke="#fde8dd" stroke-width="0.9" stroke-linejoin="round"/>
<path d="M427.2 323.5l-.4 .5 1.7 3.2 2.5 6.8 5.5 5.2 1.7 2.3 2.6 1.5 3-3.2 .4-4.6 1.3-1.2 -.7-1 -.3-2.5 -2-2 0-3.5 -11.5-2.8z" fill="#8a2e08" stroke="#fde8dd" stroke-width="0.9" stroke-linejoin="round"/>
<path d="M445.5 334.2l-1 1 -.5 4.6 -3.2 3.4 .4 1.6 -.2 .7 8 5.5 4 0 2.5-.8 .5-.4 .5-4.3 -.3-5 -1-.5 -2.7-3 -4.3-1.8 -1.7-.2z" fill="#8a2e08" stroke="#fde8dd" stroke-width="0.9" stroke-linejoin="round"/>
<path d="M427.5 369.2l-4.5-5.2 -1.5-1 -1 0 -.7 .5 -8.6 .7 -1 1.8 -5 4.2 3.6 2.8 3.4 0 3 1 2.3 2.2 2.3 .6 2.7-1.3 1.3-2.3 3-2.4z" fill="#8a2e08" stroke="#fde8dd" stroke-width="0.9" stroke-linejoin="round"/>
<path d="M385.6 442.6l1.3 13 2.6 5.2 -1.3 9" fill="none" stroke="#fde8dd" stroke-width="0.9"/>
<path d="M389.5 460.8l15.6-1.3" fill="none" stroke="#fde8dd" stroke-width="0.9"/>
<path d="M370 456.9l7.8 1.3 9.1-2.6" fill="none" stroke="#fde8dd" stroke-width="0.9"/>
<path d="M544.6 443.3l2-.7 1 1.8 -.2 2.1 -.4 1.6 1.4 1.4 -.3 1.6 .1 2 .7 1.9 -.1 2 .9 1.9 -.5 1.5 .5 1.7 -.4 1.5 0 2 -.4 1.9 .1 2 .7 1.9 -1 1.4 .2 1.7 -2.3 .4 -2.4 .7 -1.5-.4 -1.6 .1 -1.5-.5 -1.6-.3 -2.3 1.5 -1.6-.2 -1.5-.5 -1.5 .3 -1.6 0 -2-1.1 -1.2-2.4 -1.5 1.6 -.8-2.3 .9-1.3 .3-1.5 1.5-1.1 1.6 2.3 1.9-2.3 1.5-.5 1.6-.3 1.4-.6 1.4-.6 1.1-1.2 .8-1.5 .6-1.5 .2-1.6 1.6-2.3 1.5-2.4 0-2.1 1.2-1.8 .2-2.1 .9-1.8 .5-1.9z" fill="#8e8e8e" stroke="#8a8a8a" stroke-width="1"/>
<path d="M520.5 452.3l1.2 2.3 1.5 2 2.4 1.5 1.9 1.6 .8 2.3 -1.6 1.6 -1.5 1.1" fill="none" stroke="#8a8a8a" stroke-width="1.6" stroke-linecap="round"/>
<path d="M123 394.7l1.8 .9 2.1 0 1.9-.1 2-.3 2-.6 2.1-.6 2.1 .5 1.6 1.5 1.3-.6 1.4 .2 1.3-.1 1.2-.8 1 1.7 2 0 1.6 .8 1.8 .1 .8 1.1 .7 1.3 1.3 .5 1.1 1 1.4 1.1 1.6 .9 1.8-.1 1.7-.6 1.2 .7 1.3 .2 1.5-.4 1.2 .8 0-1.2 -.3-1.1 1.3-.3 .3-1.3 1.1 .6 .8 .9 -.1 1.2 0 1.2 .5 1.2 .3 1.3 .1 1.4 -.1 1.3 1.8 1.2 2.1 .1 .2 1.6 .4 1.7 .9 1.5 -.2 1.7 -.2 1.6 1 1.2 .7 1.4 1.1 1 1.4 .5 .7 1.2 .8 1.2 1 .9 1.6 .7 1.5 1 2-.6 1.4 1.5 1.4-.3 1.3 .5 1.4 .4 1 1 M333.4 286.4l-.9-.9 -1.3 .4 -1-.3 -1-.6 -1.1-.4 -1.2-.2 -.6-1 -.7-.9 -.7-.9 -1.2-.3 -.7-.8 -.9-.6 -.7-1.1 -1-.8 -1.3 .2 -1.2 .4 -.9-1.9 -1.6-1.3 -2.1 .1 -1.9-.8 -1.6-1.1 -1.2-1.6 -1.7-1.2 -2 0 .4-2 .9-1.9 -1.7-.5 -1.4-1.1 -1.7-.7 -1.7-.3 -.3-2 -1.3-1.6 -2-.5 -1.6-1.1 -1.3 .5 -1.1 1.1 -1.4 .1 -1.4-.4 -1.3 1 -.9 1.5 -1.3 1.2 -1.7 .2 -.3-1.7 -1.1-1.3 -1.2-1.1 -1.3-1.1 -.8-1.5 -.6-1.6 .7-1.7 -.6-1.7 1.5-.9 .6-1.6 .9-1.3 .9-1.4 -1.1-1.4 -1.3-1.3 -1.3-1.2 -1.4-1.2 M277.7 242.3l1.3-1.7 .1-2.1 .3-2 -.5-2 .3-1.7 .9-1.6 -.9-1.5 -.3-1.7 .1-2 1-1.7 1.8-1 1-1.8 1-.7 1.2-.3 1.2 .4 1.3-.3 .8-.9 1.1-.6 1.3 .1 1.2-.3 1.7 1.3 2.2 0 1.9-.9 2-.4 1.8-1.2 2.1-.1 1.9 .9 2 .4 M228.4 194.3l.7 1.1 .5 1.2 1 1.1 0 1.4 .9 .8 1.2 .7 1.2 .6 1 .8 1.7 1.1 .5 2 .2 2 1.4 1.4 1 1.6 .7 1.8 .8 1.7 1.4 1.4 1.2 .8 1.3 .7 1.4 .5 1.3 .6 1.1 1.5 1.4 1.2 1.1 1.5 1.6 1 .5 1.6 .9 1.4 1 1.4 1.5 .8 1.1 .7 .3 1.2 1 .8 .2 1.2 1.3 .9 .2 1.5 1.4 .5 1 1 .7 1.2 1.2 .8 1.6 .4 .4 1.5 1.7-.5 1.7 .2 1.7 .5 1.4 1.1 2 .6 1.9 .7 M223 189.2l2.1-.4 2.1 .1 1.1-1.8 1.2-1.8 .5-1.5 -.6-1.4 .6-1.3 .5-1.4 1-1 .3-1.4 1.4-.8 .2-1.6 1.1-.5 1.3-.1 1.1-.6 .7-1.1 .5-1.2 1.1-.7 .1-1.2 .6-1.1 1.3-1.1 1.6-.4 1.6-.3 1.6 .4 1.4-.8 1.6-.3 1.2-1 1.3-.9 1.2 .6 1.4-.2 1.4 .2 1.2-.6 .9 1.5 1.2 1.2 2 .2 1.1 1.5 .7 .9 1 .6 1.1 .1 1.1 .3 .9 .7 .9 .7 1 .3 1.1 .3 1.9-.6 2 .4 2-.7 1.9 .9 .9 .9 1.3-.4 1.2 0 .8 1 .1 1.1 .8 .9 .5 1 .9 .7 1.5 1.2 1.6 1 1.6 1 1.8 .7 1.4 .6 1.3 .9 1.2 .9 1.2 .9 M223 189.2l1.3 1.1 .9 1.6 1.4 1.1 1.6 .6 M188.2 252.6l1.3 .1 .7-1.1 .9 .6 1 .5 1.9 .7 1.9 .5 1.9 .5 2.1-.2 2.1-.3 1.7 1.3 1 .7 .6 1 1.2-.1 1.1-.6 1.8-.9 2.1-.1 1.8 .1 1.9 .1 1.6 .9 1.2 1.5 .8 1.2 .9 1.2 .5 1.4 .4 1.4 1.7-.2 1.5-1 1.1-1.2 .9-1.5 1.9-.5 2 .1 1.9-.6 2-.3 1.6-.6 1.6-.6 1.5-.9 1.7-.5 1.9-.5 1.2-1.6 .6-1.9 1.5-1.2 1.6-.9 1.8 0 1.4-1.2 1.7-.5 1.2-1.4 1.1-1.5 1.6-.9 1.3-1.3 .9-1.5 .8-1.6 .9-1.6 0-1.8 -.6-1.3 -.3-1.5 -.7-1.3 -1-1.1 M202.4 256.5l-.2 1.7 .8 1.6 -.2 1.7 .9 1.5 .5 1.6 -.3 1.6 -.1 1.7 -.1 1.6 .4 1.3 .5 1.2 1.3 0 1.3 .5 .8-1 1.1-.6 1.2 .2 1.2-.3 1.7 .3 1.7 .6 1.4 1.1 1.7 .6 1.9-.2 1.7 .9 .8 1.6 .8 1.6 1.1 1.8 .8 1.9 .2 2.1 .5 2 .3 1.9 1.1 1.6 1.1 1.6 1.4 1.3 1.1 1.5 1.1 1.5 1.2 1.5 1.8 .7 1 1.3 .6 1.5 1.3 1 .9 1.4 0 1.4 -.2 1.3 -.8 1.1 -.3 1.4 1.2 1.4 1.4 1.2 .2-1.8 .5-1.8 1.1-1.7 2.1 .1 1.5-.7 1.7 0 1.7-.3 1.6-.3 1.4-.4 1.4 .6 1-1.1 1.4-.4 .9 1.6 0 1.8 1.2 1.4 1.8 .4 .7 1.5 .1 1.7 1 1.6 -.5 1.7 1.2-.9 1.1-1 1.4 .6 1.5 0 .3-1.2 .6-1 1-.7 .7-1 M277.7 242.3l-1.2 .1 -1 .4 -.6 1.1 -.8 .8 -.8 2 -.8 2 -1.8 1.2 -1.4 1.6 -1.1 1.8 -.9 1.9 -1 .6 -.8 .8 -.3 1.1 .2 1.2 -.5 1.1 -.9 .8 .1 1.1 .6 1.1 -.5 1.3 -.5 1.2 .5 1.3 -.2 1.4 .6 1.2 .5 1.3 -.1 1.4 -.3 1.3 1 .8 .6 1.2 -.4 1.2 -.2 1.3 .9 1 -.4 1.3 -.3 1.1 .1 1.2 1 .9 1.1 .9 1.2 .8 .6 1.3 .5 1.3 -.9 1 -.4 1.2 -.2 1.1 .9 .8 .7 .9 1.4 .2 .6 1.2 -.4 2.1 -.3 2 .5 2.1 1.5 1.6 .2 1.7 -.3 1.7 -.7 1.5 -.5 1.6 -.5 1.4 -1.1 .9 -1 1 -1.3 .6 -.6 1.7 -.2 1.8 .8 1.7 1.3 1.3 1.6 1.4 1.9 .9 -.4 1 0 1.1 0 1.2 .8 .9 1.6 .6 .8 1.5 -.1 1.5 .3 1.6 -1.8 .5 -.5 1.8 -1.2 1.2 -.4 1.6 .8 1.2 .5 1.4 M273.8 338.2l2.1-.2 1.7-1.3 1.9-.8 2-.3 1.1-.7 1.1-.7 1.4 .3 1 .9 1.1 0 1.1-.2 1.2-.1 1.1 .5 .8 1.2 .5 1.4 .3 1.2 1.1 .6 1 .6 1.2 .2 .9-.7 1.1-.4 1.1-.1 1.1-.1 .7 .9 .7 .9 1.2-.3 1 .6 2 .8 2.2-.3 -.2 1.1 -.4 1.1 .9 .7 .6 1 1.8 .9 1.2 1.7 .1 2 .4 1.9 -.9 .8 -.5 1 .7 1 .2 1.1 -.2 1.3 0 1.3 -1.4 .1 -1 .9 -.2 1.1 0 1.1 -.2 1.2 -.9 .8 M269.9 351.2l-1.3 .4 -1.2 .6 -1.3 .5 -1.4 0 -.8 1.1 -.8 1.2 -1.1 .8 -1.2 .6 -.9 .8 -.7 .9 -1.4 0 -.8 1 -1.2 .4 -1 .6 -.8 .8 -1 .7 M273.8 338.2l-.2 1.7 -.7 1.5 -.7 1.6 .3 1.7 0 1.8 -1 1.6 -1.1 1.4 -.5 1.7 M187.9 428.4l1.5 .2 1.5 .1 1.4 .9 .7 1.4 1 1.6 1.7 .7 1 1.6 .2 1.8 M196.9 436.7l-.2 1.6 .2 1.7 1.3 .9 1.3 1 -.2 1.1 -.3 1.1 -1 .6 -.3 1.2 0 1.2 -.4 1.1 -1.1 .4 -.6 1.1 -.8 .8 -.8 .9 -1 .7 -1.2 .2 .9 1.2 -.6 1.4 .3 1.3 .6 1.2 .2 1.9 -.2 2 .8 2 -.8 1.9 M193 465.2l-2 .7 -1.9 1.2 -1.8 1.2 -2 .8 .8 1.5 .4 1.6 .2 1.7 -.1 1.7 1.2 .4 1.1 .4 1.1 .6 1.1 .3 1.2-.7 1.3 .5 1-.8 1-.7 -2.1-.1 -1.3 1.7 -1.4 1.3 -1.6 1 -.9 .9 -.9 .9 -.3 1.5 -1.4 .4 -1.2 .6 -.8 1 -1.3 .3 -1 .9 1.1 1.1 1.5 .2 .9 1.2 .4 1.4 0 1.4 1.2 .6 .5 1.1 .9 .8 0 1.3 -.4 1.3 -1.2 .4 -1 .9 -1.6-1.1 -1.3-1.4 -1.8 .4 -1.8 .8 -1 1 -.5 1.5 -.9 1.1 -.2 1.5 -.6 1.9 0 2 .5 1 .3 1.1 -.7 1 -.8 .8 -1.3 .1 -1.3 .5 -1.4 .1 -1.2 .6 -.9-1.1 -1.2-.7 -.7-1.2 -1.1-.9 -1.1 .5 -1 .6 -1 .6 -.8 .9 M182.8 620.6l1.3 .4 1.2 .6 1.3 .3 1.4 0 1.3 .5 1.2 .4 1.5-.5 1.2 .9 .8 1.8 1.8 .8 .9 1.9 -.2 2 .9 1.9 -.3 2 -.2 1.8 -.1 1.8 -1.2 1.4 -1.1 1.4 -1.3 .6 -1.3 .7 M195.8 623.2l.5-1.5 1.2-.9 .4-1.4 .5-1.4 -.2-1.7 .7-1.6 -.1-1.7 .9-1.5 -.8-1.2 -.9-1.2 -.6-1.3 -1.2-.9 -1.1-1.2 -.4-1.6 .2-1.6 .9-1.4 1-1.3 1.4-1 1.7-.2 1.1-1.4 2-.6 1.8-.8 1.8-1.2 2.1 0 1.7-.6 1.4-1 1.6-.9 1.8-.1 1.1-.9 1.2-.6 1.4-.1 1.4-.2 1.3-.3 1.3-.5 1.3-.2 1.4 .3 1-.9 1.2-.8 .6-1.3 1.1-.9 -.5-1.7 -.9-1.4 -.2-1.7 .3-1.7 1-.8 1.2 .1 1.1-.6 1.1-.2 1.2 .3 1.1 .5 1.2-.4 1.2-.2 1.2 .1 1.2 .4 1.2 .2 1.2-.2 .9 .9 .8 1 1.3 .1 1.3 .1 .4-1.3 .4-1.3 -.1-1.3 .6-1.3 1.2-.7 1.1-.9 1.3-.8 .2-1.5 1.2 .3 1.1 .2 1.1-.7 .5-1.1 M272.3 570l.4 1.7 .9 1.6 .8 1.5 .5 1.7 -1 1.7 -1.2 1.4 -1 1.6 -.7 1.8 1.1 1.8 .8 1.9 .3 2.1 -.9 2 -1.2 .4 -.9 .8 .1 1.2 -.1 1.2 .3 2.1 .5 2 -1 1 -.5 1.4 -1.5 .2 -.9 1.3 1.8 .6 1.4 1.4 1.9 .5 1.4 1.4 1 .6 .6 1 -.1 1.2 -.1 1.1 -.7 1 -1 .6 .1 1.2 .2 1.1 -1.4 .1 -1.4-.5 -1.4 .3 -1.1 .8 -1.3 .6 -1.3 .3 -1.4 .2 -1.1 .8 -.7 1.9 .1 2 .6 1 .1 1.1 -.5 1.1 -.9 .7 .5 1 .6 1.1 .7 .9 1.1 .5 0 1.2 -.3 1.1 -.8 .9 -.5 1.1 -.7 1.4 -1.3 .8 -1.5 .2 -1.4-.8 .2 1.4 -.9 1 .1 1.4 -1 1 .7 1.7 -.6 1.7 1.3 1.3 -.1 1.8 -.4 1.3 -.7 1.2 .3 1.4 -.5 1.3 .8 1.5 1.2 1.1 .7 1.4 1.2 1.2 -.6 1.2 -.7 1.2 -.3 1.4 .3 1.4 .9 1.6 -.2 1.9 1.5 1.2 .4 1.8 2 .6 2-.7 1.9 .6 1.9 .8 M273.6 614.1l1.2 .3 1.2-.1 1 .6 1.2 .3 1.2 .2 1 .6 1.1 .7 1.2 0 1.1-.9 1.1-.9 1.4-.4 1.4 .3 1.3 .2 1.4-.2 1.4-.2 1.2 .8 1.3-.3 1.3-.4 1.3-.2 1.3-.5 1.6-.4 1.3 1 .8-1.3 1.5-.5 M210.8 692.5l1.5 1.2 1.3 1.4 1.6 .9 1.8 .7 .9 .7 .8 .8 1.1-.1 1.1 .2 1.1 1.9 1.2 1.7 1.6 1.2 2.1 .1 -.2 2 .7 1.9 1.5 1.1 1.6 .9 1.7 .8 1.4 1.3 1.8 .2 1.7 .6 1.3 1.2 1.4 1.1 1.1 1.1 1.1 1.2 1.6-.2 1.4 1 1.3 .9 1.4 .5 .7 1.6 1.8 .2 M245 717.4l-.2 1.1 -.2 1.1 -.9 .8 -.2 1.2 -.6 2.1 1.4 .5 .4 1.4 1 .9 .3 1.3 .9 1.7 1.6 1.1 1.9 .2 1.9 .1 .8 1.1 .3 1.3 .7 1.3 1.3 .5 -.6 1.3 -.9 1.1 .3 1.4 .1 1.4 1 1.1 .8 1.2 1.1 1.1 1.3 .7 .2 1.6 .2 1.7 -.9 1.3 -.6 1.6 .7 1.2 1.2 .6 1.3 .4 1 1 1.5 .5 1.6-.4 .8-1.4 1.3-.8 -.1 1.6 .3 1.5 1 1.4 -.2 1.7 0 2.2 .5 2.1 .2 1.1 0 1.2 -.8 .9 -.9 .8 .6 1.4 1.2 1 .6 1.4 .7 1.4 -1.1 1.5 .4 1.7 -.5 1.6 -.9 1.4 .2 2 -.9 1.7 -1 1.7 -.4 1.9 .5 1.5 .7 1.5 .1 1.6 -.2 1.6 -.4 1.6 .5 1.6 -.6 1.5 -.6 1.5 1.1 .5 .6 1.1 .5 1.2 1.3 .4 .4 1.2 .1 1.2 -.4 1.1 -.4 1.2 M250.2 720.6l1.5 .7 1.6 .2 1.3-1.2 1.8 .3 1.8-.7 1.9 .2 .9-1.6 1.6-1.1 2.1 0 2.1 .3 2.2-.3 1.9-1 .7-1.6 1.4-1 1.1-1.7 2 .2 .6-1 1.1-.4 .7-.9 .7-.9 -1.9 0 -1.3-1.4 -1.3-1.2 -1.7-.5 .1-1.7 1-1.4 .5-1.5 .5-1.6 1.2-1.2 1.5-.9 .8-1.5 .6-1.6 1.8-.5 1.9 0 1.1-1.5 1.5-1.1 1.6 .3 1.5 .7 1.4 .9 1.7 .2 .8 .8 1.1 .5 1.2 .1 1 .7 M295.8 695.7l.6-1.7 .6-1.6 1.3-1.3 1.7-.6 2 0 2 .2 .4-2.1 1.8-1.2 1-.7 1-.6 .5-1.1 1.1-.6 1.1 .7 1.2 .3 1.2 .3 1.2-.4 1.1-.5 .7-.9 1.1-.1 1.2-.3 1.1-.1 1.1-.2 .8-.8 1.2-.2 1-1.1 1.5-.4 .2-1.4 .3-1.4 1.3 .6 1.4 .2 1.2-.6 1.4-.1 1.5-.9 .6-1.7 .9-1.4 1.2-1.2 1.1-.4 1.2-.1 1.4 .3 .4 1.3 M295.8 695.7l.8-2 .7-2 .1-2.2 .5-2.1 .2-1.6 0-1.6 -.2-1.5 0-1.6 -1.6-.9 -1.6-1.1 -.8-1.7 -1.2-1.5 -1.6-.9 -1.3-1.3 -.9-1.7 -1.4-1.2 -.8-1.3 -.7-1.3 -1-1.2 -.6-1.4 -1.3 .6 -1.3 .3 -1.3 .6 -1.3 .5 -1.7 .3 -1.3 1.1 -1.6 .2 -1.6 .5 -1.6-.4 -1.5-.6 M444 538.1l-1.1 .2 -1.1 .1 -1.1 .5 -.6 1 -1.4 1 -1.7-.2 -.8 1.5 0 1.6 -1.7 0 -1.6 .2 -1.9-.2 -1.3 1.3 -1.2-.9 -1.5-.2 -1.2-.8 -1.3-.7 -1.1-.9 -1.2-.7 -.6-1.3 -1-1 -2 .4 -1.9 .9 -1.2-.8 -1.4-.5 -1 1.1 -.6 1.3 -.3 1.5 -.7 1.3 -1.1 .5 -.7 .9 -1.3 .2 -.7 1 -.3 1.1 -.4 1.1 -1 .5 -.9 .7 0 2.2 0 2.1 -1.1 .8 -1.3 .6 -1.4-.1 -1.4 0 -.8 1.8 -1.8 .8 -1.5-1.1 -1.1-1.5 -1.3-.7 -1.3-.6 -.1 1.2 .5 1 .2 1.2 -.1 1.1 -.4 1.2 -.4 1.2 -1 .7 -1.3 .2 -1 .6 -1.1 .5 -.5 1.3 -1.3 .2 -1.2 1 -1.4-.5 -1.4 .2 -1.2 .6 -1.4-.8 -1.4 .7 -1.4 .4 -1 1 -1.9-.3 -1.7 .8 -1.8 .6 -1.8 .2 M368 568.4l.2-1.6 .6-1.6 .1-1.7 -.2-1.6 .4-1.4 .4-1.5 .6-1.4 1.2-.9 .6-1.9 1.3-1.4 2-.3 1.3-1.6 1.5-1 1.1-1.5 1.6-1 1-1.6 .8-1.9 1.7-1 .7-1.8 .7-1.8 -.9-1.4 -.5-1.7 .1-1.7 0-1.7 -.9-1.9 -1-1.8 .1-2.1 -.8-2 -1-1.8 0-2 -.6-2 .3-2 -1-.9 -1.3-.4 -.5-1.3 .2-1.3 1.8 .2 1.9 0 1.2 1.4 1.6 1 1.4 .5 1.5 0 1.1-1 1.2-.8 1.7-.3 1.6 .8 1.6 .5 1.6 .3 1.3 1.3 -.9-.7 -1.2-.1 -1-.3 -1.1-.3 -1.1-.5 -.6-1.1 -.1-1.1 -.5-1.1 -1.2-.8 -1.1-1.1 -.5-1.4 .3-1.5 -.8-1.3 -.3-1.5 .4-1.4 .6-1.3 -.5-2 .2-2.1 .6-1.9 1-1.8 -.3-1.6 .9-1.4 .8-1.3 1.2-.9 2.1-.4 1.7-1.2 2.1-.1 1.9-.9 2 .3 2-.3 2.1 0 1.7-1.3 1.3-1 .9-1.4 0-1.8 1.6-1 .9-.9 .2-1.3 .5-1.2 1-.8 .1-1.3 -.6-1.1 .1-1.3 .4-1.2 .9-.9 .6-1.2 1-.8 .3-1.3 .5-1.2 .7-1.1 -.3-1.3 .2-1.3 1-1.8 1.3-1.6 1.2-1.8 1.7-1.2 1.3-1.5 1.7-.9 1.4-1.5 2.1 0 .6-1.2 1-.9 -.1-1.4 -.2-1.3 1.1-.8 1.3 0 .9-1.1 .6-1.1 1.1-1.8 .2-2.1 M368 568.4l-1.3 .8 -1.4 .5 -1.6 .3 -1.4-.8 -1.4 0 -1.2-.7 -1.3-.1 -1.3 0 0-1.7 -.4-1.6 -.6-1.6 -.3-1.6 -1.1-.4 -1-.7 -1.1-.5 -.7-1 -1-1.5 -1.7-.6 -.9-1.4 -.3-1.7 -.9-1.6 -1.2-1.5 -1.9-.6 -1.2-1.5 -1-.9 -1-1 -1.1-.8 -.8-1.1 M338.9 545.1l1.5-1.6 1.2-1.8 -.3-2.2 .2-2.2 2.1-.6 .4-2.1 1.5-1.1 1.2-1.4 1.6-.8 1.4-1.1 1.7-.9 1.8 .2 -.8-1 -1.3 .3 -1-.6 -.6-.9 .6-1.1 .6-1.1 -.8-1 -.6-1.1 -1.3-1 -1.1-1.2 -1.1-1.3 -1.7-.4 -.3-2.1 -1-1.8 .4-1.6 .4-1.6 .9-1.6 -.4-1.7 .3-2 .5-2 .5-2.1 1.3-1.6 -.4-1.1 .1-1.2 -.5-1.1 -.5-1.1 .4-1.1 .1-1.2 .2-1.2 -.7-1.1 .7-1.2 .2-1.3 -.2-1.4 .7-1.2 .6-1.3 -.2-1.4 -.8-1.2 .3-1.4 1.1-.4 1.1-.1 1.1-.6 .5-1.1 0-1.1 .1-1.1 .5-1 .1-1.1 1-1.8 1.5-1.3 .9-.8 1.1-.3 .1-1.1 0-1.2 1-1.3 .2-1.7 -.6-1.5 -.8-1.4 .2-1.6 1.2-1.1 -.2-1.5 .3-1.5 1.2-1.5 .8-1.7 1.3-1.5 1.9-.5 M368 568.4l.3 1.7 .1 1.7 1 1.5 .6 1.6 -1.5 1.5 -1 1.8 -1.4 1.6 -1.2 1.6 -1.4 1.1 -1.7 .6 -1.6 .8 -1.8 .1 -1.1 1.7 -1.5 1.4 -1.9 .5 -2 .3 -1.7-.2 -1.7 .3 -1.3 1.2 -1.8 0 -1.8-.2 -1.7-.5 -1.2 1.4 -1.8 .6 -1.7 .8 -1.2 1.4 -1.8 1 -.5 1.9 -1.7 1.3 -1.9 1 -2.1-.3 -2.1 .6 -2.1 .2 -1.6 1.3 -2-.3 -2 .1 -.8 1 -.9 .9 -.8 1.1 -.9 .8 -1 .9 -1.2 .5 -1 .8 -1.2 .5 -.6 1 -.7 1 -.8 .9 -1.2 .3 -1 .8 -.2 1.2 -.9 .8 -1.1 .5 M429.5 320.2l.5 2 -.4 2.1 -1.2 1.7 -1.5 1.4 -.2 1.2 -1 .7 .5 .9 .3 1.1 1.7 1.1 1.3 1.5 1.1 1.2 .7 1.5 1.2 1.1 .9 1.4 -1.4 1.3 -1.1 1.4 -.9 1.7 -1.8 .8 .5 1.3 .1 1.3 .4 1.3 .3 1.3 1.1 .5 1.1 .2 1.1 .4 1.1 0 .5 1.1 .4 1.1 .7 .9 .5 1 .8 1.5 .5 1.6 1.3 1.1 1.3 1 -.3 2 .3 1.9 -1.8 .7 -1.4 1.2 -1.6 1.3 -.4 1.9 -1.3 .6 -1.5 .4 -1.3 .6 -1.1 1 -1.5 .8 -1.5 1 -1.7-.4 -1.8-.1 -1.1 1 -1.4 .6 -1.3 .5 -1.4 .5 -.7 1 -.9 .8 -.1 1.2 -.9 .9 -.6 1.9 -.5 1.9 .4 2 -.6 2 .6 2 -.1 2.2 .7 2 1.4 1.6 -1.1 1.5 -1.5 1.1 M398.4 394.9l.3 1.1 .2 1.2 .8 1 -.4 1.2 -.1 1.2 -.3 1.1 -.2 1.2 -.3 1.1 -.7 1.7 .6 1.7 .8 1.5 .6 1.6 1.4 .5 1.3 .7 .2 1.5 1 1.1 1.4-.2 1.3 .2 1.1-.8 1.3-.5 1-.9 .6-1.3 1.4-.5 .9-1.1 1.1-1.9 -.7-2 .6-1.9 .3-2 .3-2 -.3-1.9 M398.4 413l-1.9 .3 -1.1 1.6 -1.8 0 -1.7 .7 -2 .6 -1.9-1 -2-.5 -1.9 .9 -2.1 .2 -1.7 1.2 -2-.3 -2 .2 -1.3-.3 -1.2-.6 -1.4 .2 -1.3-.6 1 1.8 -.1 2.1 .5 1.9 -.1 2 1.6 .7 1.6 .6 1.6 .8 1.7 .5 .4 1.6 1.2 1.3 1.6 .7 .7 1.6 .5 1.1 -.4 1.2 -.6 1 -.5 1.1 -.9 .7 -.5 1 -.6 1 -.9 .7 -1.2 1.7 -1.1 1.8 -1.5 1.4 -1.4 1.6 -1.3-.1 -1.2 .5 -.5 1.2 -1.1 .7 -1.3 0 -1 .8 -.7 1.1 -.7 1 -2 0 -1.9 .5 -2-.2 -1.8 1 M413 397.9l2-.1 1.9 .7 1.7 .3 1.1 1.3 1.4-.8 1.6-.3 1.4 1.2 1.8-.4 1.2-1.1 1.4-.8 1.3 1.6 2-.3 1.5 1.1 1.7 .8 .6 1.3 1.4 .3 .8 1 1.1 .7 1.7-.9 .9-1.7 1-.8 .5-1.1 1.2-.3 1.2-.4 1.3 .5 1.3-.2 1.2 .9 .1 1.4 1.9-.8 2 .1 .9-.6 .8-.8 1-.6 1.2 .1 2-.5 1.9-.8 1.3-.9 1.6-.1 1.4-.7 1.6-.2 .7-1.4 .2-1.6 1.2-.4 1.2 .3 .6-1 .9-.8 1.8 1.2 2.1 .7 1.2 .5 .8 1 .9 1 -.3 1.4 .9 .8 .9 .6 1 .5 1 .7 .7 1.1 .9 1 1.1 .6 1.2 .5 .5-1.5 1.5-.4 1.7-1.2 1.5-1.4 1.2-.3 1.1 .4 1.2 .2 1.1-.3 1.4-1 1.8-.3 1.6-.8 1.7-.5 0-1.1 .2-1.2 .5-1 -.1-1.2 .9-1 .5-1.1 .2-1.3 .3-1.2 .7-1.1 .8-1 1.3-.5 .5-1.3 1.2-1.8 2-.8 1.1-.4 .9-.9 1 .6 1.2 .3 1.1 .3 1.2 .1 M414.3 397.9l.1 1.2 .2 1.2 -.5 1 -.5 1.1 .9 1.6 .3 1.8 -1.3 1.3 -.5 1.8 1.3 1 .6 1.6 .8 1.2 1.4 .3 .7 1.1 .4 1.3 .9 1.2 .1 1.5 1.1 .9 1.1 .9 .6 1.4 1.3 .7 1.3 .6 1.3 .6 .2 1.1 .6 1 .6 .9 .6 .9 .3 1.3 .3 1.3 .6 1.2 .1 1.4 1.6 .3 .7 1.4 .6 1.4 .3 1.4 .7 1 .8 .9 1.2 .5 1.2 .2 -.2 1.6 -.4 1.6 -1.1 .9 -.6 1.3 -1.1 .8 -1.1 .9 -.8 1.2 -1.4 .1 -.5 1.3 .1 1.3 M429.2 450.4l-.7 1.1 -.6 1.1 -1.5 .3 -.5 1.4 -1.2 .7 -1.3 .7 -1 1.3 -1.6-.1 -1.1 .6 -1 .8 -.5 1.2 0 1.3 -.3 1.4 -.8 1.1 -.1 1.3 -.1 1.4 -.1 2.2 -1.2 1.8 M429.2 450.4l.8 .9 .5 1.1 1.1-.5 1.2 .1 1.2 .3 1 .7 1.3-.2 1.3 0 1.3-.3 1.3-.1 M494.5 458.1l-1.3 .1 -1.3-.3 -1.3-.4 -.7-1.2 -1.1-.8 -.9-1 -1.2-.5 -1.3-.4 -1.2-.6 -1.1-.7 -.8-1.2 -1.4-.3 -1.1-.4 -1.2 0 -1.1-.3 -1.2-.2 -.7 1.4 -1 1.1 .7 1.4 .1 1.6 -.2 1.6 .3 1.6 .1 1.8 -1.1 1.3 -1.7 .4 -1 1.4 -1.1-.6 -1-.7 -1.2-.8 -1.3 .3 -1.2-.9 -1.3-.8 -1.5 .1 -1.4 .7 -1.1-.7 -1.4 0 -.9 .9 -1.1 .7 -1.4-.3 -1.3 .1 -1.4-.3 -1.4 .5 .1-1.2 .2-1.3 .3-1.4 1.2-.6 .4-1.2 -.5-1.1 .4-1.1 -.3-1.2 -1.6-.1 -1.5-.3 -1.6 .2 -1.6 .2 -1.7 1 -1.8 .9 -1.9-.5 -1.9-.4 M527.4 347.6l.7 1.5 1.3 1.1 -1.2 1.2 -.8 1.4 -1.1 .6 -1.1 .6 -.5 1.2 -1.1 .8 -1.2 .1 -1 .6 -.4 1 -.7 .9 -1.1 1.5 .5 1.8 .8 1.5 .5 1.7 1.5 1.5 1.1 1.8 0 1.6 0 1.6 -.9 1.7 -1.7 .9 -1.1 .8 -.9 1.1 -.8 1.9 -.5 2 1 2 1 1.9 .5 1.1 .5 1 .7 1 .9 .8 .3 1.3 .6 1.2 .9 1.3 -.5 1.4 -.6 1.3 .6 1.3 M519.9 390l-.7 1.2 0 1.5 0 1.3 -.2 1.4 -.2 1.4 .2 1.4 -.2 1.4 -.7 1.3 -1.3 .7 -.9 1.2 -.5 1.5 -1 1.1 -2-.2 -1 1.7 -.4 1.7 -1.1 1.4 -1.1 1.2 -1.5 .4 -1.5 .2 -1.3 .9 -1.1 1 -.9 1.2 -1.4 .5 -1.2 .9 -1.4 .4 -1.3 .4 -1.3 .7 -1.4 .3 -1.3 .7 -1.3 .8 -1.5 0 -1.4 .4 -1.6 .6 -1.1 1.2 -1.8 .2 -.9 1.6 -1.6-.4 -1.1-1.2 -1.6 .5 -1.2 1.1 -1 1.4 -1.6 .6 -1.1 1.4 -1.7 .2 .2 1.2 0 1.2 0 1.4 -1.1 .8 1.2 .7 .4 1.3 1 .7 1 .9 1.5 .5 1.3 .8 1.5 .3 1.2 1.1 1.3 .4 1.4 .1 1.4-.1 1.3 .5 .4 1.3 1.1 .8 .1 1.2 .2 1.3 .7 .9 1.1 .6 .9 .6 1 .6 .7 .9 .8 .8 .8 .8 .4 1.1 .1 1.2 .2 1.1 .1 1.2 .5 1.1 -.2 1.9 -.7 1.7 M494.5 458.1l.9 1.1 .8 1.2 1.5-.6 1.3 1 1 1.2 1.5 .3 1.2 .9 .9 1.2 1.2 .6 .6 1.2 1.4 .5 .4 1.4 1.5 1.2 1.2 1.5 0 1.3 0 1.4 M621.3 334.2l1.2-.2 1.3 0 1.2 .5 1.3-.2 1.2 .6 1.3 .3 1.3-.3 1.2-.7 1.4-.8 1.5 .7 1.6-.5 1.2 1.1 1.3 1 1.5 .5 1.4-.8 1.5-.4 1.5 .7 1.1 1.1 1.3-1.2 1.8 .5 1.5 .3 1.5 0 1.2-1 1.5-.4 1.9-.4 1.9-.1 1.4-1.5 2-.3 2-.4 1.1-1.8 .2-1.9 1-1.6 .2-1.5 .7-1.2 1.5-.3 .8-1.4 1.2-.7 1.4-.3 1.3-.1 1.4-.2 1.1-.5 1.2-.2 1-.7 1-.7 1-.7 1-.6 1.2-.3 1.1-.5 1-.9 1.3 .2 1.2-.5 .4-1.2 .8-1.1 1.4-.3 1.2 .5 1.2 .4 .2-1.4 1-1 1.3-.2 1.1-.9 1.3-.2 1.2 .6 1.2 .4 1.3-.2 1.7-.9 1.7-.8 2-.2 1.7-.9 1.5-.4 1.2-1 1.5-.5 1.5 .5 -1.7 1.2 -.9 1.9 -.7 .9 -.4 1 .7 1 .2 1.1 .1 1.9 1 1.6 -.6 1.8 .9 1.8 0 1.5 .2 1.5 1.3 .8 1.4 .5 .5 1.5 -.5 1.4 M570 367l.9-.7 .8-.9 .7-.8 1-.7 .9-.7 .9-.6 .9-.7 1-.6 1.1-.7 1.2 .6 1.2 .2 1 .6 1-.7 1.2-.1 1.2-.3 .7-1 1.1 .2 1.1 .3 1.1 .4 .9 .8 .9 .8 1.2-.1 1.1 .2 1.1 .2 1.6 1.3 1.5 1.3 2 .6 2-.3 1.2 .3 1.1 0 .6-1.2 1.2-.3 1.3-1.8 1.8-1.3 1-1.9 2.1-.8 2-.5 2-.2 1.8 .4 1.9 .2 1.7 .6 1.7 .8 .2 1.9 -1 1.6 1 1.7 -.2 1.9 1.6 .4 1.7 .3 1.5 .8 1 1.3 .9 1.6 .4 1.9 1.8 .7 1.1 1.6 .5 1.9 1.8 .8 .7 1.7 1.3 1.3 -1.4 1.4 M694.1 335.6l-.9 1.4 -1.5 1 -1.6 .8 -1.7-.3 -1.2 1.4 -1.7 .6 -1.8 .5 -1 1.7 -1.5 .9 -1.3 1.3 -1.6 .8 -1.3 1.3 -1.7 .8 -1.3 1.4 -.2 1.9 -1.1 1.6 -1.1 .6 -.7 .8 -1 .7 -.7 1 -.9 1 .3 1.3 -.4 1.3 -1.2 .5 -1.9 .9 -1.8 1 -1.6 1.4 -1.9 .9 -1.2-.4 -1.2 .3 -.8 .9 -.8 .9 -1 1.9 -.7 2.1 -.5 1.6 -.4 1.6 -.2 1.8 -1.7 .8 .8 1 .4 1.3 .8 .9 .8 1 1.7-.6 1.7-.8 1.1-1.4 1.2-1.4 1.6-.8 1.3-1.3 1.4-1.1 1.5-1.1 1.1 .1 1.1-.2 1.1-.4 1-.5 2.1 .6 2.1 .4 1.4-.4 1.5 0 1.4 .2 1.4 .2 M654.1 379.8l-1.4 1.4 -1.9 .6 -.8 1.8 -.1 1.9 -.8 1.7 -.8 1.8 -1.4 1.6 .1 2.1 .1 1.1 .2 1.1 .6 1.1 -.2 1.2 -.5 1 -.7 .9 .1 1.3 -1 .8 0 1.7 -.3 1.7 -1.2 1.3 -1.4 1 1.6 .5 1.6 .7 -.1 1.7 .9 1.5 1.5-.1 1.5-.3 1.5-.1 1.5 .4 M625.6 416.9l.6-1.1 -.2-1.2 -.2-1.2 .1-1.1 .6-1.1 .8-.8 .3-1.2 .9-.8 1.1-1 1.4-.8 .9-1.2 .8-1.3 1-.9 .8-1.1 1.5 .2 1-1.1 1.8 1 1.7 1.2 .2 1.1 .2 1.1 .7 .9 1.1 .4 M622.7 401.2l.8 1.6 -.3 1.7 1.2 1.2 1.2 1.2 -.3 1.2 -.2 1.3 .1 1.3 .4 1.2 -.1 1.5 1.1 1 -.2 1.4 -.8 1.1 M635.6 382.7l.1 1.4 .8 1.1 .9 .9 1 .9 .7 1.9 -1.1 1.7 -.1 1.9 -.9 1.6 0 1.8 .2 1.7 -.6 1.8 .4 1.8 M193 465.2l1.5-.7 1.7-.4 1.7 .3 1.6-.6 1.2 1 .3 1.4 .3 1.4 .7 1.3 1.1 .4 1.2 .1 .7 .9 .4 1.1 1.2 1.7 1.9 1 2.2-.2 2.1 .2 1.7 1.3 1.8 1.3 2 .4 2.1-.2 2 .6 1.7 1.3 1.9 .8 1.9 .7 2.1-.2 1.9-.8 1.6 1.4 2 .8 2.2-.2 2-.7 1.6 .6 1.2 1.3 -.1 1.6 -.1 1.7 1.6 .8 1.6-.7 1.6 .3 1.6-.4 1.4-.5 1.4-.6 .2-1.5 .9-1.3 .5-1.6 1.4-1.1 1-1.2 1-1.3 1.9-.5 1.9-.6 1.5-1.2 1.2-1.6 1.8 .2 1.7-.8 1.8-.6 1.2-1.4 .7 1 1.1 .6 1.3-.1 .8 1.1 -.5 1.4 .7 1.4 -.9 1.1 -.6 1.3 1.1 1.7 1.8 .7 1.9-.1 1.7-1 1.1 0 1.2-.1 .6-1 .8-.8 2.1-.1 2 .7 1.5-1.5 2.1-.7 2.1 .2 2-.6 2.1-.4 1.6-1.5 2.1-.3 2 .9 1.7-1.2 2-.8 2.1 .3 2 .4 1.8-.9 2-.1 2-.4 2 .1 1.9 .2 1.2 1.4 1.8 .2 1.6 .8 1.1 .3 1.1 .3 1.2-.1 1.1-.5 1 .7 1.3 0 1.1-.2 1.1-.5 1.8 .4 1.4 1.1 1.6 .5 1.7 .6 1.3 1.4 1.7 1 1.6 1 1.9 .5 M198.2 435.2l2-.5 1.7-1.3 2 .4 2 .1 -.1-1.4 1.2-.7 1-.6 1.1-.6 .9-.8 .9-.6 .8-.9 .7-.9 .5-1.2 .9-.9 -.8-1.1 0-1.3 .1-1.2 -.3-1.1 .7-1 .2-1.2 -.2-1.1 -.1-1.2 .1-1.1 -.4-1.2 -1.1-.8 -.6-1.2 .3-1.3 .7-1.2 -.9-.9 -1.3-.4 -1.1-.7 -1-.7 -.2-1.5 -.9-1.2 .6-1.3 .9-1.1 -.8-1.7 -.5-1.8 .7-1.7 1.4-1.3 -.1-1.6 .2-1.7 -.3-1.6 .7-1.6 1.7 .3 1.6-.9 1.5-.7 1.7 0 .8-.8 .8-.9 1.2 0 1.1 .4 .9 1.3 1.3 .9 -.8 1.4 -.1 1.6 1.4 0 1.2 .5 1.3 .5 1.3 .3 1.6 .6 1.5 .7 1.7 0 1.7 0 -.2 1.7 .7 1.6 .7 1.5 .1 1.7 .6 1.9 0 2.1 -1.7 1.2 -1.5 1.3 1.1 1 .7 1.3 -.5 1.4 0 1.5 -1.3 .7 -1 1.1 -1.5 0 -1.4-.5 -1.3 1.3 -1.3 1.3 1 .9 .3 1.3 1.3 .3 1.3 .1 -.2-1.3 -.3-1.2 .4-1.3 1.3-.6 .8-.9 1.3 .1 .7-1 1.2-.3 1.8-.7 1.3-1.5 1.8-.6 1.6-1.1 .9-1.9 .4-2 1.1 .5 1.2-.3 1-.5 1.2-.2 .6 1 1.1 .4 .3 1.3 1.2 .4 2-.8 2.2-.3 .7 .9 .7 .9 1.1 .4 1.1 .2 -.9-1.7 .3-1.8 1.7-1.1 .2-1.9 -1.1-1.8 .3-2.1 .3-2 -.8-1.9 .7-2.1 .8-2 .8-.8 .7-.9 .4-1 .5-1 2.1-.3 1.9-.7 1.6-1.4 2.2-.2 .6-1.2 .1-1.3 .2-1.3 .4-1.3 -1.3-.2 -1.3-.6 -1.2-.7 -1.4 .2 -2 1 -2-.9 -2.2-.3 -1.6 1.5 -1.5-1.2 -1.6-1 -1.8-.7 -1.6-1 -.4-1.7 -1-1.4 -.3-1.7 .4-1.7 .9-1.3 -.1-1.6 1.1-.9 .7-1.4 1.2-.3 .7-1.1 1.1-.4 .9-.8 M307.1 360l-1.1 1.4 -.8 1.6 -.4 1.7 -.3 1.8 -1.8 1 -1.6 1.4 -1.1 1.9 -2 .9 -1 1 -.8 1.1 -1.1 .8 -1 1 0 2 .6 1.9 -.7 1.8 .1 2 -1.4 .9 -.9 1.4 .1 1.9 -1.7 1 .4 2 -.9 1.9 -.1 2 .6 1.9 .5 1.9 1 1.6 1.9 1 .5 2 1.2 1.6 1.4 1.4 2 .1 1.9-.5 1.7 .4 1.7-.4 1.6 .4 1.5 .9 0-1.7 .4-1.6 .1-1.7 .8-1.5 -1.6-1.2 -1.1-1.6 -.7-1.8 -.5-1.9 .3-1.2 -.3-1.1 -.7-.9 -.7-1 -.2-1.1 -.4-1.2 -.6-1.1 -1.3-.2 -.4-1.6 -.2-1.6 -.2-1.6 -.5-1.6 1.6-.9 .5-1.8 1.4-.8 1.7-.4 -.3 1.6 1.2 1.2 .5 1.5 1.2 .9 1.8-1.3 1.7-1.3 2.1 .2 2.2-.2 2.1 .5 1.5 1.6 1.4 1.5 1.5 1.5 1.7 .6 1.7-.3 1.4-1.1 1.7-.5 1.1-.6 .9-.8 1.2 .1 1.2-.4 .3-1.3 1.2-.6 .9-.7 .9-.8 1.3 .7 1.3 .6 1.5 .3 1.1 1 -.4 1.2 -.4 1.2 1.3 .7 1.3 .5 1.5 .3 1.1 1.1 1.3-.4 1.3-.1 1.2-.7 1.4-.1 1 1 1.1 .8 .4 1.5 1.4 .6 1.1 .9 1.4 .1 1.3 .5 1.4-.2 1.3-1 .7-1.5 .7-1.5 1.1-1.2 1.1-.3 1.1-.5 .9 .7 1 .7 1.9-1 1.8-.9 1.1 .2 1.2-.1 1-.8 1.2 .1 1 .7 1.2 .4 .4 1.1 .7 1 1.9 1.1 1.1 1.8 1.9 .9 1.6 1.4 .2 1.2 .7 1 .3 1.4 1.4 .3 1.4-.5 1.2-.7 1.2 .9 1.4 .3 1.4-.3 1.4 .2 .9 1.2 1.5 .2 M338.2 545.5l-1.4 .7 -1.4-.7 -1.2 .6 -1.2 .7 -.5-2 0-2.2 -.9-1.8 -1.1-1.8 1.2-1.8 .2-2.1 -1.1-1.8 -.3-2.1 -.1-1.8 -.9-1.5 -1.6-.8 -1.3-1.1 -1.7-.2 -1.5-.5 -1.7-.4 -1.6-.2 -2 .3 -1.8 .8 -2 .6 -2-.4 -1.1-1.3 -.8-1.6 -1.7-.3 -1.6-.7 -1.3-1.4 -1.9 0 -1.6-.8 -1.7-.4 -1.8-.3 -1.7-.5 -1.5-.8 -1.5-1 -.8 1.8 -1.7 1 -.1 1.8 0 1.9 .8 1.7 .1 1.9 -1.8 .9 -.4 2 -1.6 .9 -1.7-.5 -1.3 1.3 -1.8-.4 -1.1 1.2 -.9 1.3 -.9 1.4 -1 1.3 .4 1.7 -.3 1.7 .7 1.5 .5 1.6 -1.3 1.4 -1.3 1.4 -.7 1 -1 .5 .3 1.1 .1 1.1 -1.2 1.2 -.3 1.8 -1.6 .6 -.8 1.6 -1.3-.4 -1.3 0 -1.3 .4 -1.3 0 -1.1 1.6 -1.3 1.3 -1.4 1.2 -1.4 1.3 M524.6 330.6l1.1-1 1.5 .3 1.3 .5 1.3-.5 1.3-.1 1.2-.6 1.4 .7 1.3-.9 2 .4 1.9-.8 1.2-.3 1.2 .6 1.1 .6 1.1 .4 M567.4 341l-.4 1.3 -.6 1.2 -.3 1.4 .7 1.2 -1.2 .8 -1 1 .6 1.3 -.3 1.5 -1.2 1.8 -.1 2.1 M263 560l-.9 1 -1 1 -.7 1.2 -.7 1.2 -1.4 .2 -1.1 .9 0 1.4 -.6 1.3 -1.2 1.8 M273.4 554.6l-.5 2 -.5 1.3 .9 1.1 1 .9 .2 1.3 -.4 1.4 -.6 1.4 .5 1.3 .5 1.4 -.4 2.1 -1.8 1.2 M260.6 655.6l3.3-.6 3.2-.7 3.3 .5 3.2 .8 0 3.3 -.8 3.2 -3.1 2.6 1.3 3.9 -3 0 -3.1-.6 -3 .1 -.9-2.4 -.8-2.5 -.9-2.4 .4-2.7z" fill="none" stroke="#7c7c7c" stroke-opacity="0.9" stroke-width="1.7" stroke-linejoin="round" stroke-linecap="round"/>
<path d="M521.2 391l-1.7 3 -.5 5.5 -2.2 4.3 -2.3 6.2 6.7 0 0-3.8 .6-2.2 -.6-5 3.8-2.2 -1.5-1.3 .5-1.7z" fill="#d5a58f" fill-opacity="0.5" stroke="#fde8dd" stroke-width="0.9" stroke-linejoin="round"/>
<path d="M471 343.8l-1.5 4.4 .3 2.6 2.7 1 3 3 4.5 2.2 4 1.2 2.5-1.7 0-2 3.5-4.7 1.8-1.6 -4-3.2 -2.8-.8 -2.8 0 -1.2-.7 -1.5 .5 -1-.8 -2.5-.2 -2.8 1.2z" fill="#d5a58f" fill-opacity="0.5" stroke="#fde8dd" stroke-width="0.9" stroke-linejoin="round"/>
<path d="M492.5 382.5l-3.7 4.7 .4 1.8 -.2 3.8 1.8 4.2 1.4 .5 3 0 3.8-1 3-1.5 3-10.5 -.8-.5 -5.7-.8 -4.5 .6z" fill="#d5a58f" fill-opacity="0.5" stroke="#fde8dd" stroke-width="0.9" stroke-linejoin="round"/>
<path d="M474.5 387.8l-.3 2.4 3.6 6 4 2.6 4 3.4 1.4-1 3.6-3.7 -2-4.7 0-5 -1.3-1.6 -1-.2 -3.3 2.2 -6.7-1z" fill="#d5a58f" fill-opacity="0.5" stroke="#fde8dd" stroke-width="0.9" stroke-linejoin="round"/>
<path d="M469.5 351.2l-.7 1.3 .2 3 -.8 1.3 -.7 3.7 2.5 3.3 2.8 2 4 1.4 6.4-3.7 1-5 -4.2-1.3 -4.5-2.2 -3-3 -2.5-1z" fill="#d5a58f" fill-opacity="0.5" stroke="#fde8dd" stroke-width="0.9" stroke-linejoin="round"/>
<path d="M465 361.8l0 1.4 .8 1.3 -.8 4.7 0 3 .5 .6 5.3-.8 4.2 3 4.2-1.8 3.8-2.4 2-.3 0-3 -1.2-3.7 -.8 0 -2.2 1.7 -.8 0 -3.2 2 -3-1 -2.8-1.7 -2-1.8 -1.8-2.5 -1.2 .3z" fill="#d5a58f" fill-opacity="0.5" stroke="#fde8dd" stroke-width="0.9" stroke-linejoin="round"/>
<path d="M492.5 382.2l1.5 1.3 4.5-.5 7 1.2 4.7-3.7 2-2 .3-1 -2-2.3 -3.3-.4 -2.4-1.3 -1.6 .5 -2.4-1 -1.8 1.5 -3.2 1.3 -1.3 0 -.5 .4 -1.5 3.8z" fill="#d5a58f" fill-opacity="0.5" stroke="#fde8dd" stroke-width="0.9" stroke-linejoin="round"/>
<path d="M532.8 435.8l-.8-.6 -5 1 -11.8 5.6 5.6 5.2 4.2-1.8 5.8-.7 2.7-5.3z" fill="#d5a58f" fill-opacity="0.5" stroke="#fde8dd" stroke-width="0.9" stroke-linejoin="round"/>
<path d="M529.2 350l-2-2.5 -.4 .3 -1.6-.8 -2.4 .8 -2.3-.3 -2.7 .5 -2.6 1.2 -1.7-.2 1.3 3.5 .7 4.5 1.7 .5 2.3 2 4-3.3 1.3 0 .7-2 2.3-2 1.4-.4z" fill="#d5a58f" fill-opacity="0.5" stroke="#fde8dd" stroke-width="0.9" stroke-linejoin="round"/>
<path d="M500.8 345l-2.6 2.8 -4.2 1.2 -2.2-.5 -1 .7 -4 5.3 0 2 2.2 1.5 3.5-.8 9-.2 .5-8.8 -1-1.4z" fill="#d5a58f" fill-opacity="0.5" stroke="#fde8dd" stroke-width="0.9" stroke-linejoin="round"/>
<path d="M465 372.5l-.5 .5 -2.5 .2 -1.5 1.3 -2.7 .7 -.8 5.6 2 3.7 3.2 .5 1.3-.2 3.3-2.3 1-2.5 1.4-1.5z" fill="#d5a58f" fill-opacity="0.5" stroke="#fde8dd" stroke-width="0.9" stroke-linejoin="round"/>
<path d="M485.5 371l-2.5 0 -3.8 2.5 -4.4 1.7 0 2.3 -1.3 1.3 7.7 3.4 3.6-1.4 .7-2.8 -.5-3.8z" fill="#d5a58f" fill-opacity="0.5" stroke="#fde8dd" stroke-width="0.9" stroke-linejoin="round"/>
<path d="M485.8 371l-.6 2.5 .6 4.5 -.8 3.5 1.5 4.3 2.3 1.2 3.4-4.5 0-2.5 1.8-4.2 -1.5-3.3 -3-1.3z" fill="#d5a58f" fill-opacity="0.5" stroke="#fde8dd" stroke-width="0.9" stroke-linejoin="round"/>
<path d="M474 379.5l.5 1.3 -.3 3.4 .6 3.3 1.7-.5 6.7 1 3-2 -1.4-5 -3.6 1.5 -2.7-1 -3.3-2z" fill="#d5a58f" fill-opacity="0.5" stroke="#fde8dd" stroke-width="0.9" stroke-linejoin="round"/>
<path d="M454.5 378.5l-4 1.3 -.7-.3 -.6 .5 0 5 3.3 .8 2.5-2z" fill="#d5a58f" fill-opacity="0.5" stroke="#fde8dd" stroke-width="0.9" stroke-linejoin="round"/>
<path d="M525.2 396.8l-3.7 2.2 .5 5 -.5 2.2 0 4.6 -.7 2.7 3.4 3.5 5.3 2.2 4.5-1.7 2.8-4.3 2.7-2 .7 0 .3-.4 -.7-.8 .2-4 -4.2-3.2 -3.6-.8 -2-1 -1.2-1.2 -1.2-.3 -2-1.7z" fill="#cb917a" fill-opacity="0.5" stroke="#fde8dd" stroke-width="0.9" stroke-linejoin="round"/>
<path d="M607 412l-6 1 -.5 .5 .7 6.3 3-1.3 3.6-.3 0-3.4z" fill="#cb917a" fill-opacity="0.5" stroke="#fde8dd" stroke-width="0.9" stroke-linejoin="round"/>
<path d="M414.2 394l-.4 .2 .7 3.8 -1.3 4 .6 6.8 -.8 1 .2 1 .8-3.6 .8-8.2 .4-.5 -.4-1 .7-.7zM406.5 390.5l-10 .3 -3.3 1.7 -1.2 1.5 0 .5 3.8 2.7 1.2 1.8 1 11 1.2 .8 .6-.8 -.6-4 .6-14.8 7 0z" fill="#b5654a" fill-opacity="0.5" stroke="#fde8dd" stroke-width="0.9" stroke-linejoin="round"/>
<path d="M412.2 390l-1.2 1.8 -2.8 .7 -.7-.3 -.3-1 -7.2 0 -.5 8.8 .5 10 -.5 1.2 2.7 3 4.3 1 5.5-3.2 1.2-.2 -.4-1.6 .7-1.4 -.5-6.8 1.2-4.8 -.7-2.2 .5-1.2 -.5-2z" fill="#b5654a" fill-opacity="0.5" stroke="#fde8dd" stroke-width="0.9" stroke-linejoin="round"/>
<path d="M407.5 383.8l-2.5-3.3 -1.5 .3 -2.7-.6 -3-1.4 -2 1.2 -2.3 .5 -5.7-.5 -1.3 5.2 -2.3 4.6 1 .7 1.3 2.5 2.7 1.2 2.6 0 1.4-2 3.3-1.7 9.7-.3 -.2-3z" fill="#b5654a" fill-opacity="0.5" stroke="#fde8dd" stroke-width="0.9" stroke-linejoin="round"/>
<path d="M540.2 411.5l-.7 0 -2 1.3 -3.5 5 -4.2 1.4 -.8 .8 3.5 6 1 5.2 0 4 .7 2.8 3.8 2.5 2-6 2-4 0-4.3 -2.2-3.7 -1-3.7 .2-1.8 2-2.5 -.8-1.7z" fill="#b5654a" fill-opacity="0.5" stroke="#fde8dd" stroke-width="0.9" stroke-linejoin="round"/>
<path d="M435.8 378.8l-2-1 -2.8-.6 -7.2 .6 0 5 -2 11.2 .2 4.2 3.2-.7 3-2.7 3.6-5.6 6-7 .4-1z" fill="#b5654a" fill-opacity="0.5" stroke="#fde8dd" stroke-width="0.9" stroke-linejoin="round"/>
<path d="M424.5 324l-.3 3 -2 4 -.4 3.5 -5 .5 2.7 6.2 2.3 0 2.7-1.2 3.5 1.8 2.2 2.2 4.3-.2 3-1.6 .5-.7 -1.8-2.3 -5.4-5.2 -4-9.8z" fill="#b5654a" fill-opacity="0.5" stroke="#fde8dd" stroke-width="0.9" stroke-linejoin="round"/>
<path d="M521 374.8l-4 3.2 0 .8 2.2 4.7 3 4.3 1 4.4 1 1.8 2.8-3.8 5.8-2.7 1.7-2.5 -.3-3.5 .6-.7 -.8-.8 -3.5-.8 -4.3 0 -2.4-4z" fill="#b5654a" fill-opacity="0.5" stroke="#fde8dd" stroke-width="0.9" stroke-linejoin="round"/>
<path d="M447.8 352.2l-.3 1.3 6.5 6.3 2.8 0 8.2 1.7 1-1 1.5-.3 .5-3.4 .8-1.3 -.3-3 1-2 -4.7 0 -1.8 1.3 -6.5-.8 -.7-.8 -2.8 1 -4.2 0z" fill="#b5654a" fill-opacity="0.5" stroke="#fde8dd" stroke-width="0.9" stroke-linejoin="round"/>
<path d="M413.5 321.5l-2 1.7 0 1.3 -2.5 5 -.2 3.7 .4 1 7.3 .8 .5-.5 4.5 0 .5-3.5 2-4 .2-3 -5.2-2.5z" fill="#b5654a" fill-opacity="0.5" stroke="#fde8dd" stroke-width="0.9" stroke-linejoin="round"/>
<path d="M519.2 359.5l-2-1.7 -1.7-.6 -3.7 2.6 -5.6 1 -4.4-.6 -1 .8 0 11.8 2.4 1 .8-.3 .2-4.5 1.3-.8 9.3-1 4.2-1.2 1-1z" fill="#b5654a" fill-opacity="0.5" stroke="#fde8dd" stroke-width="0.9" stroke-linejoin="round"/>
<path d="M467.5 337l-3.7 1 -4 3 -2.8-.5 -.8 .3 .6 4.7 -.8 4.5 .5 .8 6.5 .7 1.8-1.3 4.4 0 0-2 1.6-4.7 -1-1 0-2.5z" fill="#b5654a" fill-opacity="0.5" stroke="#fde8dd" stroke-width="0.9" stroke-linejoin="round"/>
<path d="M422.5 375.8l-2 1 -1.7 .2 -4.3 3.8 -1.7 2.7 -.8 3.3 .2 3 1.3 1.2 .5 2.5 1.8 3 4.4 1.3 .3 .4 1-2.2 .3-4 1.7-9.2 0-5.3z" fill="#b5654a" fill-opacity="0.5" stroke="#fde8dd" stroke-width="0.9" stroke-linejoin="round"/>
<path d="M422.8 355.2l-1.3 7.6 4 3.4 2.3 3 8.4-1.2 4.8-2 -1-2.8 -1.5-.2 -6.3-4.8 -2.2-2.7 -2 .3 -2.2-.8z" fill="#b5654a" fill-opacity="0.5" stroke="#fde8dd" stroke-width="0.9" stroke-linejoin="round"/>
<path d="M523.5 369l-1.7-3 -1.8-.8 -1.5 1.3 -3.7 1 -9.3 1 -1 .5 -.3 3.5 .3 .7 2 1 4 .8 2 2.2 2 .8 2.3 0 4-3.2 2.4-2.8z" fill="#b5654a" fill-opacity="0.5" stroke="#fde8dd" stroke-width="0.9" stroke-linejoin="round"/>
<path d="M419.5 341.5l-1.3 1.7 -1.7 4.8 0 3.8 4.5 1.7 1.5 1.5 3.3-.2 2.2 .7 2-.3 1.2-1.7 -3.4-4.7 2.2-4.8 -2-2 -3.5-1.8 -2.7 1.3z" fill="#b5654a" fill-opacity="0.5" stroke="#fde8dd" stroke-width="0.9" stroke-linejoin="round"/>
<path d="M428 348.5l1.5 2.7 2 2.3 6.5-1.5 3.2 0 5.8 1.8 .8-2 1-.8 -8-5.5 .2-.7 -.5-1.6 -2-1.4 -4 2.2 -4.5 .2z" fill="#b5654a" fill-opacity="0.5" stroke="#fde8dd" stroke-width="0.9" stroke-linejoin="round"/>
<path d="M502 348.5l-.2 11 .4 .7 4 .3 5.6-1 3.4-2.3 -.7-4.7 -1.3-3.5 -5 .5z" fill="#b5654a" fill-opacity="0.5" stroke="#fde8dd" stroke-width="0.9" stroke-linejoin="round"/>
<path d="M409.5 334.8l-1.7 5 .2 8.7 -.5 .7 4.5 1 3 1.6 1.2 0 0-3.8 1.8-4.8 1.2-1.7 -.4-2 -2.3-4.3z" fill="#b5654a" fill-opacity="0.5" stroke="#fde8dd" stroke-width="0.9" stroke-linejoin="round"/>
<path d="M447.5 368.2l-3.5-.7 -2.8-1.5 -5 2.2 0 5.8 -.7 4.5 3 2.7 2.7 0 4-2 0-2.2 1-2.5z" fill="#b5654a" fill-opacity="0.5" stroke="#fde8dd" stroke-width="0.9" stroke-linejoin="round"/>
<path d="M447.2 353.8l-1.2 2.4 -5.5 5.8 -.3 1.2 1 2.6 2.8 1.4 3.8 1 6.4-1.4 .6-2.6 -.8-2.4 0-1.8z" fill="#b5654a" fill-opacity="0.5" stroke="#fde8dd" stroke-width="0.9" stroke-linejoin="round"/>
<path d="M461.8 373l-2.3-1 -5-5.2 -5 1.4 -1.5 0 -2.5 8.8 0 2.2 3.5 .3 2.2-.5 6-3.8 4.3-1.4z" fill="#b5654a" fill-opacity="0.5" stroke="#fde8dd" stroke-width="0.9" stroke-linejoin="round"/>
<path d="M412.2 373.2l-3.2 0 -.5 1.8 -1.5 1.5 -1.8 3.5 .3 1 2.3 2.8 -1.6 3.4 .3 3 1 1 .3 1 3.2-.7 1-1.5 -.2-3.2 1.2-4.3 1.2-1.7 4.3-3.8 -3.3-2.8z" fill="#b5654a" fill-opacity="0.5" stroke="#fde8dd" stroke-width="0.9" stroke-linejoin="round"/>
<path d="M430.5 354.5l-.3 1.3 2 2.2 6.3 4.8 1.5 .2 .2-1 5.6-5.8 1-2.2 -4.3-1.5 -4.5-.3 -6.8 1.6z" fill="#b5654a" fill-opacity="0.5" stroke="#fde8dd" stroke-width="0.9" stroke-linejoin="round"/>
<path d="M422.5 355.2l-1.5-1.4 -5-1.8 -.5 1.5 -5.7 5 -.8 2.5 2 3.2 10.2-1.4z" fill="#b5654a" fill-opacity="0.5" stroke="#fde8dd" stroke-width="0.9" stroke-linejoin="round"/>
<path d="M454.2 360l0 1.8 .8 2.4 -.2 2.6 4.7 5 2.5 1.2 2.5-.2 1-7.3 -.7-3.7 -6.6-1.6z" fill="#b5654a" fill-opacity="0.5" stroke="#fde8dd" stroke-width="0.9" stroke-linejoin="round"/>
<path d="M436 368.2l-8.2 1.3 -4.6 5 -.4 1.3 .7 1.4 3.5 .3 1.2-.5 2.8 0 4.2 1.2 .8-4.2z" fill="#b5654a" fill-opacity="0.5" stroke="#fde8dd" stroke-width="0.9" stroke-linejoin="round"/>
<path d="M402.2 369.8l-1.2 2.2 -3.5 1.5 -1.3 1.3 .6 2.4 .7 1.3 3.3 1.5 3.2 .5 1-.3 1.8-3.7 1.4-1.5 .6-1.8 -3.8-3z" fill="#b5654a" fill-opacity="0.5" stroke="#fde8dd" stroke-width="0.9" stroke-linejoin="round"/>
<path d="M388.5 374.2l-.5 5.6 5.5 .4 2.3-.4 1.4-1 -1.2-4.3 -2.5 0 -1.3-1 -1.7 .5 -1.5-.2z" fill="#b5654a" fill-opacity="0.5" stroke="#fde8dd" stroke-width="0.9" stroke-linejoin="round"/>
<path d="M465.8 373l1.7 3 2 2.2 4 .3 1-1 0-2.3 -2.3-2.2 -1.4-.8z" fill="#b5654a" fill-opacity="0.5" stroke="#fde8dd" stroke-width="0.9" stroke-linejoin="round"/>
<path d="M427.2 323.5l-.4 .5 1.7 3.2 2.5 6.8 5.5 5.2 1.7 2.3 2.6 1.5 3-3.2 .4-4.6 1.3-1.2 -.7-1 -.3-2.5 -2-2 0-3.5 -11.5-2.8z" fill="#8a2e08" fill-opacity="0.5" stroke="#fde8dd" stroke-width="0.9" stroke-linejoin="round"/>
<path d="M445.5 334.2l-1 1 -.5 4.6 -3.2 3.4 .4 1.6 -.2 .7 8 5.5 4 0 2.5-.8 .5-.4 .5-4.3 -.3-5 -1-.5 -2.7-3 -4.3-1.8 -1.7-.2z" fill="#8a2e08" fill-opacity="0.5" stroke="#fde8dd" stroke-width="0.9" stroke-linejoin="round"/>
<path d="M427.5 369.2l-4.5-5.2 -1.5-1 -1 0 -.7 .5 -8.6 .7 -1 1.8 -5 4.2 3.6 2.8 3.4 0 3 1 2.3 2.2 2.3 .6 2.7-1.3 1.3-2.3 3-2.4z" fill="#8a2e08" fill-opacity="0.5" stroke="#fde8dd" stroke-width="0.9" stroke-linejoin="round"/>
<path d="M259.5 283.8l5.2-1.3 3.9 3.9 -.5 6.4 -6 1.3 -3.9-3.9z" fill="#e3e6ea" stroke="#ffffff" stroke-width="1.4"/>
</g>
<path d="M154.3 78.9l1.7-.6 1-1.4 .6-1.6 .6-1.6 1-1.9 1.8-1.2 1.8-1.1 1.8-1 .2-1.7 1.2-1.3 1.3-1.1 1.2-1.1 2-.3 1.9-.8 1.8-1.1 2.1-.3 1.6-.3 1.7-.3 1.5-.9 1.7 .2 -.5-1.4 -.8-1.2 .9 .6 1 .6 1-.5 1-.4 2 .4 1.9-.7 1.8-.6 1.5-1.2 1.5-1.2 1.7-.9 1.2 .2 1.2-.2 1.1-.5 1.1-.6 1.1-.5 1-.8 1.2-.1 1.2-.1 1.8 1 1.8 .9 2 .8 2.1-.1 2-.5 1.9-.6 2-.2 1.9-.8 1.8 1 1.5 1.4 1.2 1.7 .7 1.9 .8 1.8 .7 1.9 1.7 1 2 .4 1.1 .2 .8 .9 .7 .9 1 .5 1.1 .4 1.1 .1 1.1 .2 .9 .7 .6 1.1 1.2 .6 1.2-.1 1.2 .6 1.1 .5 1.1 .5 .5 1.1 .9 .9 1.1 1.8 1.3 1.5 1.7 1.3 1 1.9 .4 1.2 .1 1.2 1.1 .7 .5 1.1 .8 1 1 .6 1.1 .7 .2 1.3 2.1 .2 1.8 1 2 .7 1.9 .7 1.3 .6 1.4 .6 1 1.1 1.5 .3 -.2 1.4 .6 1.3 .5 1.2 .4 1.3 1.1-.7 1.2 .6 1.1-.2 1.2-.2 1.1-.1 1.1 .4 1.2 .2 1.1 0 .6-1 .8-.9 1.2-.2 1.1 .3 2-.6 2.1-.2 1.1-.4 1.2-.4 .7-1 .8-.9 .8-1 1.2-.1 1.2-.4 .7-1 1.9-.7 1.8-1.1 2-.5 2.1 .5 1.6-.4 1.7 0 1.4 1.1 1.8-.2 1.3-.8 1.5-.4 1.2-1 1.2-.9 1.8 .3 1.8 .4 1.6 1 1.3 1.4 2.1-.1 1.8 1 1.9-.4 2 0 1.2 .5 1.1 .8 .6 1.2 1 .9 1 .8 1.2 .6 .9 .9 1.3 .3 .5 1.7 -.6 1.7 .6 1.7 1 1.4 -.2 1.5 .9 1.2 .3 1.4 .2 1.3 -.6 1.3 -.5 1.3 -.8 1.1 -.8 1.2 -.5 1.8 -1.1 1.4 -1.1 1.5 -.4 1.8 -1.8 1.1 -2 .9 -1.4 1.5 -1.3 1.7 -1.2 1.3 -.6 1.8 -.5 1.6 -.3 1.8 -2 .4 -1.9 .9 -.1 2.1 -1 1.9 -.5 2 -1 1.8 -2.1-.2 -2.1 .6 -1.8 1.1 -1.8 1.1 -1.3 1.1 -1.1 1.2 -1.7 .3 -1.1 1.3 .1 1.7 -.4 1.7 .8 1.5 .8 1.5 1.5 .3 1.1 1 .6 1.3 .7 1.3 .6 2 .7 1.9 .7 1.6 1.5 .9 1.4 1 1.6 .4 .1 1.4 -.2 1.4 1 1 .4 1.4 -1.4 1.3 .4 1.9 -.3 1.6 0 1.7 1.2 1.1 1.4 1 .2 1.8 1.1 1.3 -.9 2 -1.7 1.4 -1.7 .7 -1.8 .3 -1.8 .6 -1.2 1.5 -2.1 .3 -1.8 1 -.6-1.1 -1.3-.3 -1-.5 -1-.7 -.9-1.9 -.4-2 -1.5 .1 -1.4-.5 -1.5 .3 -.8 1.4 -.4 1.1 -.9 .9 -.6 .9 -.7 1 .7 1.3 .8 1.2 .6 2 .5 2 .3 2.1 1.2 1.7 1.3 .8 1.2 1 .6 1.6 1.5 .8 .6 1.5 .4 1.7 -.5 1.7 -1.2 1.2 .1 1.2 .2 1.1 .2 1.2 .8 1 .1 1.1 .2 1.2 -.4 1.1 .1 1.2 .5 1.1 .4 1.1 .6 1.1 1.1 .6 1-1.3 -.2-1.6 .9-1.1 .9-1.2 1.3 1.3 1.4 1.2 1 1.6 1.5 1.1 .9 1.8 .7 1.8 1.9 .7 1.7 .9 1.3 .6 1.1 1 1.5 0 1.2 1 .8 .8 1.1 .4 1 .5 .6 1 1.3-.3 1.2-.4 .9 1 .9 .9 .6 1.9 1.1 1.6 1.7 1 1.8 .7 1 .6 .9 .5 1.1 .4 .6 1 1.1 .3 .9 .6 1.1 .2 1.1 .3 .9 1.4 1.4 1 1.6 .4 1.3 1.1 1.2 1.1 .8 1.3 1.6 .3 1.6-.2 -1.6 1 -1.5 1.1 -1.1 1.5 -1 1.6 -1.9 .9 -1.3 1.6 -.6 2 -.1 2 -.4 1.3 .3 1.3 -.5 1.1 -.4 1.2 -.8 1.1 -1 .8 -1.2 .6 -1.2 .4 -.9 .7 -.5 1 -.4 1.1 -.7 .8 -.5 1 -.7 1 0 1.1 -.2 1.1 -1.3 1.4 -1.2 1.4 0 1.8 -.1 1.9 -.4 1.7 -.7 1.6 -1.3 1.4 -.2 1.8 1.5 0 1.5-.5 1.1-1 1.1-1.1 .7 1.1 .9 .9 .7 1.1 .9 1 .9 1 1.4 .2 .9 1 1.4 .1 1.5 .6 .7 1.5 1.4 .8 1.6-.3 1.3 .7 1.1 1 1.4 .4 1.4 .5 .7 1.6 1.4 1 1.4 .9 1.7 .4 .8 .9 1.1 .5 1 .6 1 .7 1.2 .3 1.1 .6 .9 .8 .9 .8 1.8 1.2 1.9 1 .9 .9 1.2 .6 .4 1.2 .4 1.2 1.2 .4 1.3-.2 1.2 .2 1.2-.4 2.1 .7 1.9 1.1 1.1 .2 1.1 .3 .6 1 1 .6 1.9 .5 2-.1 1.9 .8 2 .1 .3 1.2 .8 .9 .8 .9 .7 .9 2.1-.2 2 .8 1.6 1.4 2 .6 1.6-.4 1.6-.2 1.7 .3 1.6-.3 1.8 .2 1.4-1.1 1.6 .3 1.7-.1 1.4 .3 1.4 .7 1 1.1 1.4 .5 .6-1.2 .9-1 1.2-.6 1.2-.6 1.6 .6 1.6 .6 1.6 .6 1.7 .3 1.7 .2 1.6 .2 1.5 .9 1.7 0 .3 1.6 -.1 1.7 0 1.8 1.1 1.3 1.8 .8 1.9 .7 .4 1.9 1 1.8 1.5 1 1.5 1 1.8 .1 1.7 .5 1.1 .9 1 1 1.2 .9 1.3 .5 .6-1.3 .4-1.5 1.4-.4 1.5 0 1.7-.3 1.5-1 1.1 1.2 1.5 .7 .1 1.3 -.2 1.4 .3 1.3 .5 1.2 1.3 .3 1.3 .4 1.6-.6 1.6-.7 1.2-.1 1.1 .3 1.1 .7 1.2-.3 1.8 .7 2 0 1.8-.4 1.5 1 1.4 1.3 1.8 .7 2.1 .1 1.8 1.2 1.9-.7 2-.6 .8-1.4 1.2-1.2 .8 1.5 .5 1.7 1.2 .7 1.3 .6 1.2-.3 1.1 .5 1.2 .2 1.1 .3 2-.2 1.9-.5 2.1 .5 1.8-1.1 1.9-.5 2-.2 1.8-.6 1.8 .4 1.3-1.3 .3-1.3 -.2-1.3 .1-1.3 .5-1.2 -.2-1.3 -.6-1.2 .1-1.4 0-1.3 -.4-1.3 -.1-1.3 -.6-1.2 -.2-1.4 -.3-1.3 -.2-1.3 -.1-1.3 0-1.3 .4-1.3 .1-1.3 .2-1.3 -.1-1.3 .2-1.4 .7-1.1 -.1-1.4 .5-1.3 1-1.8 .3-2.1 -.6-1.6 -.7-1.6 2-.6 1.9-.7 1-.7 1.1-.5 1.3-.2 1.2 .1 1.4-1.3 1.8-.7 1.2 0 .9 .7 .9 .7 .9 .6 .9 1.9 1.7 1.3 .2 1.3 .2 1.3 .1 1.3 -.5 1.3 -1 1 0 1.5 .2 1.4 -.5 1.3 -.1 1.2 .6 1.1 0 1.2 .2 1.1 .9 1 1 .9 -.9 1.5 -1.7 .4 .4 1.3 .3 1.3 .3 1.8 .9 1.5 1.3 1.5 2 .4 1.2 1.2 1.4 .8 2 .1 1.9 .5 2-.3 1.9 .3 1.2-.2 1.2 .4 .5 1.1 1 .7 1.9 .6 1.9 .7 1.9-.7 2 .4 2.1 .1 1.8-1.1 1-.6 .6-1.1 1.1-.2 1.2-.1 1.7-.5 1.6-.8 1.5 1.2 1.7 .8 1.9 .4 2 .2 1.2 .5 1.3 .6 1.3-.3 1.4-.1 1.5-.9 1.7 .1 1.7-.2 1.7 .3 -1.4-.6 -1.5 .1 .9 1.5 1.8-.1 1.5 0 1.5-.4 1.4-.5 1.5 .3 1.4-.5 1.4-.3 1.3 .5 1.3 .6 1.4 .4 1.4 .2 .6-1.5 1-1.1 1.4-.7 1.6 .1 .4-1.4 0-1.4 1.4-.5 1-1 -.3-2.1 -.6-2.1 -.2-1.1 -.5-1 .3-1.1 -.1-1.1 -.2-1.7 -1.2-1.2 -1.4-.8 -1.5-.6 -1.5 0 -1.4-.6 -1.4-.2 -1.4-.6 .1-1.9 -.3-1.8 -.6-1.7 -.6-1.8 .9 .7 .9 .7 1.1 .4 1.1 .5 1.1-.4 1.1 0 1.1-.4 1.2 0 1.1-.3 1.1-.2 1 .3 1.2-.2 2.1-.7 2.1-.4 1.4 0 1.2-.8 1.3-.3 1.2-.5 .9-1.2 .1-1.5 1.2-.8 1.3-.6 .3-1.3 .2-1.4 1.2-.7 1.1-.8 1-.7 .8-.9 1.2-.2 .9-.9 1.1 .6 1.3-.1 1.2-.1 1.1-.6 0-2.1 .6-1.9 1.9-.8 1.8-.9 .9-.8 .6-1.1 .2-1.3 .6-1 1.2-.4 1.2 .1 1.2 .1 1.2 .1 2.1-.4 2.2-.3 1.1-.4 1-.5 1.1 0 1.1 .2 1.5-1.5 1.3-1.6 -.3-1.1 .4-1.1 .6-.9 .7-.9 1.4-1.1 1.2-1.4 1.7-.6 1.4-1.2 1-1.8 1.9-.8 1-1.7 1.8-.9 1.6 .8 1.1 1.5 1.3 1.1 1.8 .4 1.7 1.2 1.9 .8 2 .8 1.5 1.4 1-1.6 1.8 .1 1.4-.7 1.5-.6 1.4-1.2 1.7-.6 1.1-1.5 1.5-1 1-.6 1.2-.1 1.1-.3 1-.5 1.1-.5 .8-1 1.2-.3 1.2 .4 1 1.2 1.5 .6 1.1 1 .6 1.5 1.1-.4 1.1-.4 1.1 .2 1 .6 -.5 1.8 -.9 1.6 -1.3 1.4 -1.6 .9 1.2-.1 .8-.8 1.2-.2 1.1 .2 1.2 .1 .9 .8 1.1 .1 1.1-.1 1 1.6 .7 1.8 -.4 1.9 .1 1.9 -.2 1.1 -.4 1 -.9 .6 -1 .5 -1.8 1 -1.4 1.5 2.1 .5 2 .9 1.5 1.5 1.6 1.4 1.8-.6 1.8-.4 1.9 .4 1.6 1.1 1.7 1.1 1.7 1.1 1.9 .7 1.8 .8 1.5 .5 1.5 .7 .5 1.5 .2 1.6 -.3 2 -.8 1.9 -.9 2 -1.7 1.2 -1.3 1.2 -1 1.6 -1.2 1.4 -.8 1.6 -1.1 1.3 0 1.7 -1.1 1.2 -.6 1.5 1.5 1.5 1.4 1.6 .7 .9 .7 .8 -.2 1.2 .2 1.1 -1-.6 -1-.7 -1.1 .4 -1.2-.5 -.8-1.4 -1.4-.7 -1-1.1 -1.1-1.1 -1.4-.5 -1.5 0 -1.6 .1 -1.2 1 -1.8 .5 -1.9-.1 -1.7 .5 -1.7 .8 -1.7-.1 -1.7-.5 -.6 1.8 -1.7 .8 -1.4 .1 -1.4 .3 -.6 1.3 -.9 1.1 -.5 1.5 -1.4 .9 -1.3 .8 -1.1 1.1 -1.3 1.2 -1.6 .9 -1.3 1.2 -1.5 1 -1.2 .6 -.8 1 -1.1 .6 -1.2 .6 -.5 1.5 -1.1 1.1 .3 1.6 -.1 1.5 .1 1.9 -.4 1.8 -.5 1.7 -.6 1.8 -.9 1.7 .1 1.8 .8 1.7 0 1.9 -1.5 1.1 -1.5 1.1 -1.2 1.5 -.1 2 -.8 1.3 -1.3 .9 -1.3 .9 -.9 1.2 -1.1-.4 -1-.6 -1.1-.2 -1.1-.2 .2 1.5 .4 1.4 .9 1.2 -.1 1.6 1.2 1.6 1.2 1.6 .1 1.9 .4 2 -.4 1.3 .5 1.3 -.8 1 -1 .9 -.8 1.1 0 1.3 -1.1 .6 -.7 1.1 -1.4 1.4 -.8 1.8 -.5 1.9 -.1 2 -.4 1.9 -.3 2 -1.2 1.5 -1 1.7 -.6 1.1 -1 .8 -.4 1.1 -.7 1 -.3 1.2 -.4 1.2 -.2 1.2 -.7 1 -1.3 .6 -1.2 .8 -1.4-.1 -1.4 0 -1.4-.4 -.8-1.2 -1.3-.5 -1.2-.6 -2.1-.4 -1.2-1.7 -2 0 -1.8-.8 -.2 2 .8 1.9 -1 1.6 -1 1.7 .5 2.1 .7 2.1 .2 2.1 0 2.2 -1 .7 -.6 1 -.4 1.1 -.3 1.2 -.5 1.1 -.1 1.2 -.3 1.1 .4 1.2 0 1.2 -.1 1.2 .2 1.2 .2 1.2 -.8 1 -.7 1 -1 .7 -.7 1 .2 2.2 .3 2.1 .8 .9 .2 1.2 .1 1.1 -.2 1.1 .4 1.2 0 1.2 .4 1.3 -.5 1.1 -.3 1.4 -.5 1.2 -1.1 .7 -1.2 .5 -2 0 -1.9 .7 -.6 1.9 -1.2 1.6 -.9-1.3 -.6-1.5 -.9 .8 -1 .4 -1.2 .2 -1.1 0 -.3-1.1 -.6-1 0-1.1 -.3-1.1 -.2-1.2 .6-1.2 -.6-1.1 -.9-.8 -.7-.9 -.5-1 -.3-1.2 .5-1.1 -.1-2.1 -.1-2.2 1.2-.8 .3-1.5 .3-1.3 -.3-1.4 -1.2-.7 -1.3-.5 -.6-1.2 -.6-1.2 -.8-.9 .1-1.2 .7-1 -.3-1.2 0-1.1 -.1-1.2 -.6-.9 -.5-1 0-1.1 -.5-1.1 .4-1 .3-1.1 -.2-2.1 0-2.2 -.5-1 -.4-1.1 -.2-1.1 -.3-1.1 -1.2 1 -.8 1.3 -1.2 1 -1.1 1 -1.2 1.4 -1.6 .8 -1.7 .7 -1.2 1.4 -.8 1.7 -.2 1.9 1.2 1.5 -.2 2 -.9 1.3 -.3 1.7 -.8 1.3 -.8 1.4 -1.2 .2 -1.2-.1 -1 .6 -.9 .8 -1.2-.8 0-1.5 -.9-.9 -.8-1.1 -1-.9 -.8-1.2 -1-.9 -.6-1.3 .2-1.5 .3-1.5 -.4-1.5 -1-1.2 -1.4-.4 -.6-1.3 -.6-1.3 -.2-1.3 .2-1.8 .8-1.7 .4-1.8 0-1.8 1.2-1 1.3-.8 .9-1.2 .9-1.3 1.9-.2 1.5-1.1 1.9 .7 1.8-.8 1.4-1.1 1.7-.7 1.1-1.5 1.5-1 1.5-.5 1.3-1.1 1.3-.9 1.6-.4 .5-1.9 1.4-1.4 -.2-1.9 -.2-1.9 1-.7 .3-1.2 0-1.2 .1-1.2 1.9 .3 1.2-1.5 1.6-.8 1-1.4 .7-1.4 .6-1.5 1.7 .4 1.3-1.2 -1.8 .5 -1.6 1.1 -1.9 .8 -1.8-1 -1.1-.6 -1.1-.1 -.8-.9 -1.1-.6 -.7 1.2 -1.3 .6 -1.2-.6 -1.3-.4 -1.4 .7 -1.5 0 -1.6 0 -1.4 .8 -1.5-.2 -1.4-.7 -1.2-.9 -1.4-.6 -1.4-.5 -1.4-.3 -1.4-.6 -1.4-.4 -1.3 .9 -1.5 .1 -1.5 0 -1.5 .3 -1.5 .2 -1.3 .7 -1.4-.5 -1.5-.3 -1.5 0 -1.4-.4 -1.4-.1 -1.4-.2 -2.1-.7 -2.1-.3 -1.1 .4 -1.1 0 -1.1-.2 -1.1-.1 -1.1-.2 -1-.6 -1.1-.3 -1.1 .2 -.9-.7 -1.1-.4 -1.2 .3 -1.1 .3 -.5-1.5 .4-1.5 -.8-1.3 -.5-1.4 1-1.6 1.7-.6 -.3-1.8 .5-1.7 -.7-1.1 -.4-1.3 -1-.8 -.8-1.1 -.4-1.6 -1.3-1 -.4-1.5 .1-1.6 .4-1.8 -1.9-.6 0 1.7 -1.1 1.3 -1 1.3 -.5 1.5 -1.7-.6 -1.6-.7 -1.5-1.1 -1.7-.8 -.2-1.5 -1.1-1.1 -1.6-1.1 -1.7-.9 -1.4-1.4 -.5-1.8 -1.4-.1 -1.2-.6 -1 1.6 -.9 1.7 -1.5-1.1 -1.8-.2 -1.1-.6 -.9-.6 -.7-1 -.5-1.1 -.9-.8 -1.1-.5 -1.1-.8 -.8-1.1 -.7 .9 -.6 1 .7 1.5 1.2 1.1 -1.3 1 -1.3 1 -.9 .7 -.7 .9 -.9 .7 -.7 .9 -.6 1 -.9 .7 -.6 1 .1 1.2 .9 1.5 -.3 2 -.4 1.9 1.5 .6 1.1 1.3 1.1 .1 1 .7 .9 .5 .9 .7 .9 1.9 1.7 1.3 1.5 0 1.3 .7 .3 1.4 .8 1.2 2 .2 1.9 .4 .4 1.7 .9 1.5 1.6 .6 1 1.4 -.6 1.3 -.7 1.3 -2 .3 -1.2-1.6 -1.2-.3 -1.2 .1 -1-.9 -1.2-.2 -1.7-.3 -1.5 .9 .3 1.3 -.3 1.3 .1 1.3 -.1 1.3 -.5 1.7 -1.5 .9 -1.1 .4 -.8 .9 -1.8 .2 -1.5 1.1 -.9 1.9 -1.6 1.4 -1 .7 -.3 1.2 1.6 .9 .9 1.7 1 .6 .8 .9 1.2 .2 .9 .9 1.9 1.1 2 .8 2.1 .2 1.8 1.1 1 1.3 1.6 .7 .6 2 -.2 2 .4 1.8 .5 1.8 -.6 1 -.6 .9 -.6 1 -.9 .7 -.1 1.2 .1 1.2 .5 1.1 .4 1.1 .2 1.4 1.2 .8 .8 1.1 .5 1.2 -.3 1.4 .1 1.4 -.3 1.3 -.4 1.4 1.4-.3 1.5-.2 1.3 .6 1.2 .8 0 1.2 0 1.1 -.2 1.2 -.7 1 .8 1.7 -.1 1.9 -.6 1.9 .8 1.8 .2 1.8 .5 1.8 0 1.8 .2 1.8 0 1.9 -.1 1.8 .2 1.9 .8 1.7 1.2 1.7 -.8 2 .2 1.8 .4 1.8 .1 1.9 .9 1.7 -.6 1.8 -.4 1.8 -1 .9 -1.3-.3 -1.1 .7 -1.2-.4 -1.2 .7 -1.4 .4 -1.4 .4 -1.4-.6 -1.3-.8 -1.4-.6 -1.4 .6 -1.4 .5 -1.4 .2 -1.4 .1 -1.3-.4 -1.3-.5 -1.2-.5 -1.2-.6 -1-1 -1.2-.6 .1-1.3 0-1.3 1.1-.7 .7-1.2 -1.3 1.2 -1.5 1.1 -1.8 .4 -1.8 0 -1.4 .8 -1 1.2 -1.5 .5 -1.6 .2 -1.2-.2 -1.2 .1 -1 .6 -1.1 .4 -1.1 .7 -1.2 .6 -.8 1.1 -1.4 .4 -1.5 .4 -1.4 .7 -1.2 1 -.5 1.5 -.8 1.1 -.3 1.4 -1.3 .3 -1.2 .8 .1 1.4 -1 .9 -.5 1.1 -.4 1.2 .7 1 .5 1.1 .3 1.2 .3 1.2 1.1 .7 1.1 .7 .7 1.1 .7 1.1 -1.5 0 -1.2 .9 -1.3 .9 -1.4 .9 -.8 1.2 -1.3 .6 .2 1.4 .1 1.4 -.7 1.3 -1.3 .6 -.6 1.2 -.2 1.4 -.9 .7 -1 .5 -.8 .9 -.9 .7 -1.1 .7 -1.3 .5 -.7 1.2 -.5 1.2 -1.5-.1 -1.3 .7 -1.1 1.2 -1.6 0 -.9 1.2 -1.5 .6 -1.5 .1 -1.5-.1 -1.6 .2 -1.3 .8 -1.3 .9 -1.3 .8 -1.6 .3 -1.6 .2 -1.3 1 -.9 1.3 -1.2 .7 -.8 1 -1.2 .7 -1.3 .3 -1.3 .5 -1 .9 -1.2 .9 -.2 1.5 -1 1.6 -1.6 1 -1.8 .8 -1.3 1.3 -.5 1.1 -1.1 .6 -1 .5 -.9 .8 -.2 1.3 -.5 1.1 -1.3 .3 -1 .8 -.9 .7 -.8 .9 -.8 .8 -.6 1 -1.1 .4 -.9 .8 -.6 1 -.8 .9 -.1 1.2 -.5 1.1 -.6 1.1 -.4 1.2 -1.2 .3 -1 .7 -.5 1.2 -.9 .9 -1.4 1.2 -1.3 1.3 -1.1 1.5 -1.4 1.2 -2 .3 -1.8 .7 -1.5 1.4 -1.2 1.5 .3 1.9 -1.6 1.2 -1.1 1.3 -1.5 .8 -1.5 .7 -1.6 .6 -1 1.3 -1.1 1.3 -1.7 .9 -1.4 1.2 -1.6 .9 -1.7 .9 -2.1 .6 -2 .5 -1.1 1.9 -1.3 1.7 -1.8 .4 -1.5 1 -1.2 1.3 -.7 1.7 -.8 .9 -.7 .9 -.6 1 -.5 1.1 -.2 1.6 -.2 1.6 .9 1.5 -.5 1.7 -1.7 .9 -.9 1.7 -1.1 .9 -1.4 .7 -1.3 .6 -1.4 .4 -1.7 1.3 -2 .6 -2 .4 -2.1 .3 -2 .4 -2.1 .2 -1.9 .8 -1.7 1.2 -.9 1.5 -.3 1.7 -1.1 1.3 -1.6 .7 -1.3 1.7 -1.8 1.1 -.8 2 -1.3 1.7 -1.8 1.2 -2.1 .1 -1-1.1 -.3-1.5 -1.2 .7 -1.4 .1 -1.3 .3 -1.3 .2 -1.1 1 -1.3 .5 -.7 1.2 -.8 1.2 -.8 1.5 -1.1 1.1 -1 1.3 -1 1.3 -1.1 1.4 -.4 1.8 -.3 1.7 -.8 1.6 -.2 1.4 -.3 1.3 -.8 1.3 0 1.4 .6 1.5 .8 1.6 .8 1.5 -.2 1.7 .4 1.7 .4 1.6 -.2 1.7 .9 1.5 .2 1.7 .7 2 .2 2.2 -1 1.8 -1.2 1.8 .7 1.6 1.3 1.3 -.1 1.7 0 1.8 .8 1.5 .4 1.7 .2 1.7 .6 1.6 -.1 2 .3 1.9 .1 2 -.3 1.9 -.1 2.2 -1.5 1.5 .6 2 -.3 2.1 -1.3 .5 -.7 1.2 -.4 1.2 -.7 1.1 -.4 1.3 .2 1.3 .1 1.3 .6 1.2 -1.4 1.4 -.4 1.9 -1.1 1.5 -.9 1.7 -.8 1 -.8 1 0 1.3 .7 1.1 -.4 1.1 -.8 .8 -1 .5 -.8 .9 -.4 2 -1 1.8 0 2 .1 2 .7 .9 1 .6 .3 1.1 -.2 1.1 -.6 2 .1 2.1 -.3 2 0 2.1 .2 2.1 1.4 1.6 -.2 1.9 -.2 2 -.2 1.9 .2 2 .5 1.9 -.3 2 .4 1.9 .3 1.9 -1.8-.9 -1.7 1.2 -1.7-.6 -1.8 .3 -1.3 .6 -1.1 .9 -1.3 .8 -1.5-.2 -1.4 .7 -.6 1.5 -1 1.1 -.9 1.1 -1.3 1.5 -1.6 1.2 -.7 1.8 -.3 2 -.2 2 -1.8 1.1 -.4 1.8 -1 1.6 .2 1.1 -.2 1.2 .6 1 1 .6 1.7 .8 1.7 .8 1.9-.2 1.7-.9 1 .8 .8 1.1 1 .9 1.1 .6 -1.7-.1 -1.5-.9 -1.7 0 -1.6-.3 -1.9 .7 -2 .5 -2-.6 -1.9-.6 -.8 .8 -.6 1 -1.1-.1 -1.1 .4 -2.1 .7 -2.1-.2 -1.1 1.5 -1.5 1.1 -.6 2 -2 .6 -1.5 1.2 -1.3 1.5 .8 1.8 -.5 2 -1 1.5 -.6 1.7 -.4 1.8 .7 1.7 -1.2-.2 -1.2 .1 -1.3-.1 -1.1 .7 -1 1 -1 1.2 -.9 1.2 -1.3 .7 -1.2 .6 -1.2 .8 -1.4 0 -1.4 .1 -1.4 .1 -1.3 .3 -1.1-.9 -1.3-.4 -1.3-.3 -1.2-.5 -.5-1.3 -1.2-.6 -1.1-1.3 -1.4-.9 -.6-1.6 -1-1.4 -1.2-1.6 -1.3-1.6 -1.2-1.7 -1.5-1.3 -.9-1.6 -1-1.6 -1.6-1.1 -.7-1.9 -1.3-1.7 -.6-2.1 .3-1.2 -.8-.9 -.7-.9 -1-.5 -.7-1.3 -1.3-.9 .3-1.5 .2-1.5 -1.1-1.3 -.2-1.7 .4-1.6 -.3-1.6 -.6-1.5 -.6-1.5 -.1-1.6 -.2-1.6 -1.2-1.5 .8-1.8 -.5-1.7 -1.2-1.2 -.5-1 -.8-.8 -.4-1.1 -.6-1 -.6-1.1 -.9-.9 .3-1.2 .4-1.2 -1.1-.6 -.4-1.1 -.3-1.1 -.7-1 .1-1.2 .3-1.1 -.6-1.1 -.4-1.1 -1.6-1.4 -1.1-1.8 -.7-2 .3-2.1 .2-1.3 -.4-1.2 -.7-1 -1.1-.7 -.6-1 -.9-.8 -.5-1.1 -.1-1.2 -1.1-1.6 -1.6-1.1 -.8-1.7 -.7-1.8 -.1-2.1 -.2-2.2 -2-.9 -1.8-1.1 -1-1.8 0-2.1 -.9-1.8 -1.3-1.5 -.3-1.2 -.1-1.2 .2-1.3 -.4-1.2 -1.1-.7 -1.1-.5 -.8-1 -.5-1.2 -.4-1.1 -.6-.9 0-1.2 -.3-1.1 -.1-1.1 0-1.2 -.8-.9 -.9-.8 -.8-.9 -.9-.7 -.8-.9 -.2-1.2 -.1-1.2 .4-1.1 .3-1.1 0-1.2 -.1-1.2 -.4-1.2 -.1-1.2 .2-1.2 -.3-1.2 -.5-1.1 -.3-1.2 -.6-1.1 0-1.3 .4-1.3 -.7-1.1 -.6-1.2 -.9-1 -1.1-.7 -.4-1.3 .2-1.4 -.7-1 -.8-.8 -.6-1 -.5-1.1 -.4-1.1 -.5-1 -.4-1.1 -.2-1.2 -1-.8 -.8-1.1 -.8-1.1 -.1-1.3 -.2-1.3 -.7-1.2 -.8-1.1 -1-.8 -.8-1.6 -.3-1.7 -.5-1.6 -1-1.5 -1.4 0 -1.1-.7 0-1.4 -.8-1.1 .3-1.2 -.5-1.1 -.4-1.1 0-1.2 .4-1.2 -.2-1.2 -.6-1 -.7-.9 -.6-1 -.4-1.1 -.6-1.1 -1.2-.3 -1-1 -1-1.1 -.9-1.2 -.4-1.4 .6-1.4 .2-1.6 -.9-1.2 -.5-1.5 .3-1.5 .6-1.5 0-1.6 -.9-1.3 -.9-1.3 -.5-1.5 -1.3-.7 -1.2-1 .6-1.3 -.4-1.4 -.2-1.5 -.9-1 -1.1-1 0-1.5 -.8-1.2 .2-1.4 .9-1.2 .1-1.5 -.1-1.4 -.2-1.4 -.5-1.3 -.8-1.2 -.6-1.3 -.8-1.1 -.7-1.9 .2-2 -.9-1.9 .3-2 -.4-1.8 -.5-1.8 .6-1.6 -.5-1.7 -.2-1.6 .6-1.6 -1.2-.3 -.6-1 -1.2-1.8 -1.1-1.8 .5-1 .8-.9 -.3-1.1 0-1.2 .6-1.1 0-1.2 -.2-1.2 -.7-1.1 -.1-1.1 .1-1.2 -.5-1.1 -.5-1 -.8-1.4 -1-1.2 -.5-1.1 -.3-1.2 .7-.9 .6-1.1 -1.4-1.7 -1.2-1.8 -.5-1.1 0-1.1 0-1.2 -.3-1.1 .1-1.2 .3-1.2 -.3-1.1 -.6-1.1 .4-2 1-1.8 -.4-2 -.2-2 .6-1.8 -.6-1.7 1.5-1.2 .3-1.8 1-.7 .2-1.3 .9-.8 .5-1.1 -.9-1.9 -1.3-1.7 .6-2 .3-2.1 -.2-1.8 -.7-1.6 -1-1.5 -.7-1.6 -.1-1.8 -.4-1.8 -.4-1.9 -1.7-1 -.2-1.2 -.9-.7 .6-.9 .4-1.1 -.7-2 .8-1.9 .8-.8 1-.5 1.1-.2 1-.6 -2 0 -1.9-.5 -.1-1.7 .3-1.7 -.4-1.7 -1.1-1.4 -.6-1.6 .2-1.7 .4-1.5 0-1.7 1-.7 1.2 .1 .9-.8 1.1-.4 1.3 .1 .9-.9 1.1-.2 1.1-.3 -.6 1.4 -1.5 0 -1.3-.7 -1.3 .4 -1.3 .4 -1.3-.2 -1.4 0 -1.2 .5 -1.1-1.5 -1.5-1.1 -1.4 .9 -1.4 1 0 1.7 -.3 1.6 -.2 1.4 -1 1.1 0 1.3 -.3 1.4 1 1.4 .7 1.6 .6 1.7 -.3 1.8 .6 1.7 -.2 1.7 -.9 1.5 -.7 1.6 -.6 1.5 -.7 1.5 -.8 1.4 -.5 1.6 -1.8 .3 -1.7 .7 -2 .4 -1 1.7 -2.1 .5 -1.9 .9 -1.8 1.2 -2 .7 -1.2 .4 -1-.9 -1.1 .3 -.9 .6 -1.5 1.5 -2.1 .7 -2 .3 -2 .3 -1.7 1.2 -2.1 .1 -1.8 .1 -1.7-.1 -1-1.8 -2-.1 -1.9-.2 -1.8-.6 -1.4-1.2 -1.3-1.3 -.4-1.4 -1.3-.6 -1.2-.5 -1.2-.5 -.9-.9 -.8-1 -.7-1.2 -1.3-.4 -.9-1.1 -.8-1.1 -.9-1.1 -1.3-.6 -1.2-.7 -.8-1.2 -.5-1.4 -1.4-.6 -1.4-.5 -1.3-.7 -1.6-.2 -1.3-.8 .2-1.7 0-1.6 -1.3-1.1 -1.1-1.2 -.9-.9 -1-.9 -1.1-.7 -1-.8 -.5-1.3 -1.1-.7 -.4-1.3 -.5-1.2 -1.2-1 -.5-1.5 -.9-1.2 -.5-1.5 1.2-1.8 .6-2 2.1 .3 1.8 1 .9 .7 .9 .8 1 .6 1.1 .4 2-.7 2-.3 1.9-.8 1.9-.7 2-.4 1.9-1 1.1 .5 1.2 0 .5-1.1 1.1-.6 2.1-.2 2.1-.2 .9-1.9 1.4-1.6 .7-1.6 .7-1.6 .7-1.6 .5-1.7 .6-1.1 .6-1.1 1-.9 .3-1.3 -1.5 .1 -1.5 .2 -1.5 .8 -.6 1.5 -1.7-.3 -1.7 .5 -1.6 .7 -1.5 .9 -2.1 .4 -1.9 1.1 -1.7 1.4 -2.1 .5 -2.1-.1 -1.8-1 -1.8-.9 -2.1-.1 -.9-.6 -.9-.7 -1.1-.3 -.9-.5 -1-.6 -.8-.7 -1.1-.2 -1.1-.3 -1.5-1.2 -1.7-.8 -1.7-1 -1.6-.9 -1.6-.7 -1.2-1.4 -.5-1.7 -1.1-1.4 -.4-1.6 -.2-1.6 -.4-1.7 .3-1.6 -2 0 -1.9 .8 -1.9-.6 -2-.2 -.6-1.7 .6-1.6 1-1.4 -.2-1.8 1.1-1.2 1.6-.5 1.4-.6 1.6-.3 1.1 .4 1.1 .4 .9 .8 .7 1 0-.4 1.1-1 1.5-.3 .1-2.1 .8-2 -.4-1.1 -.6-.9 .2-1.2 .5-1 1.2-1.1 1.7 0 1.5-.1 1.5 .4 1.4 0 1.3 .3 1.3 .4 1.2 .6 1.9 .9 2.1-.1 1.9-.5 1.9-.8 1.2 1.1 1.4 .7 1.9-.8 2 .4 1.9 .4 2 0 1.2-1.5 .1-1.9 1.4-.9 1.7-.5 1.7-.5 1.7 .1 1.6-.6 1.4-1 1.7-.2 1.7 .5 .3 1.2 1 .9 1.2 .3 1.1 .4 1.3 .1 1.1 .5 1.2-.3 1.2-.3 .8-1.1 1.2-.4 -.1-1.3 -.4-1.3 .1-1.3 .4-1.3 1.1-.5 1-.6 1.1-.5 .7-1 -1.3-1.3 -1.3-1.3 .3-1.2 -.3-1.1 -.6-1 -.4-1.1 -.2-1.2 -1.2-.6 -.8-.7 -.7-.9 -.7-1 -.2-1.2 -.7-1 -.3-1.1 -.4-1.2 -.2-1.1 .2-1.2 -.3-1.2 -1.1-1.4 -1-1.5 -.1-1.8 -.4-1.8 -1.3-.1 -1.3 .3 -1.3-.8 -1.3 .6 -1.5-.1 -1.4-.6 -1.2-.8 -1-1.1 -1.3-1.4 -1-1.6 -.7-1.8 -.9-1.7 1.5-.7 .1-1.7 -.2-1.4 -.1-1.4 -.1-1.1 -.1-1.2 -.9-.7 -.7-.9 .7-.9 .7-.8 .1-1.1 .3-1.1 -1.3-.7 -1.6-.1 -1-1.1 -1.3-.7 -1.7 .2 -1.7-.2 -1.4-1.1 -1.7-.2 -1.1-.4 -1.1-.6 -1-.6 -.7-1 0-1.3 -.5-1.2 -.1-1.3 -.2-1.3 1.3-1 1-1.2 -.1-1.8 1.2-1.2 1.3-1.6 1.3-1.7 .5-.9 .2-1.2 .9-.5 1-.6 .9-1 .4-1.3 .6-1.2 .2-1.3 .6-1.2 .7-1.1 1.4-.5 .4-1.5 .7-1.9 .6-2 1.5-1.3 1.6-1.3 1.3 .1 1.3-.2 1.1-.8 1-.9 1.1 .6 1.2-.1 1.2 .4 1.1 .4 .1 1.1 .2 1.1 -.1 1.1 .3 1.1 .9 .7 1 .6 .9 .8 1.1 .5 1.5-.7 1.6-.5 1.7 0 1.7-.1 2.1-.1 2-.6 1.7-1.2 2-.7 1.2-.9 1.5-.6 1.5-.3 1.4-.8 1.5 .2 1.5 .2 1.5-.6 1.6 .2 .4-1.1 .1-1.1 .2-1.1 .1-1.2 .9-.7 .6-1 .4-1.2 1.2-.4 1-.6 1-.6 .5-1.1 .4-1.1 .4-1 0-1.2 .1-1.1 .5-1 .9-1.7 .6-1.8 .7-1.9 1.6-1.1 1.1-.3 1-.3 1-.6 1-.3 1.1-.4 1.2-.1 .7-.9 .7-1 1.3-.4 .9-.9 1.2-.6 1.1-.7 .9-.9 .8-.9 1-1 .6-1.1 1-1 .5-1.3 -.1-1.4 .6-1.2 0-1.5 .9-1.1 1-1 1.3-.6 .6-1.4 .6-1.4 .9-1.5 -.5-1.6 .8-1 1-.8 1.3-.2 1.3-.1 1.1-.8 .7-1 .4-1.3 -.1-1.3 1.1-.4 1.2 .2 .7-.9 .7-.9 2-.7 2.1 .1 -.6-1.9 -.8-1.8 -.3-2 .4-2 .7-.8 .8-.9 .6-.9 .4-1 .9-.8 .3-1.1 -.2-1.2 .4-1.1 -.7 .9 -.4 1.1 -.1 1.1 -.3 1.1 1.1-.6 .9-.8 .5-1.1 .5-1.1 1.2-.3 1-.7 1.1-.8 .2-1.3 1.5-1.5 .8-2 .3-1.1 .5-1 1.2-.1 .9-.8 .3-1.5 .4-1.4 .9-1.2 1-1.1 .8-1.2 -.2-1.4 -.4-1.3 -.3-1.4 0-1.3 -.4-1.3 -.1-1.3 -.7-1.2 -.1-1.2 .6-1.1 -.3-1.2 -.5-1.1 -.4-1.1 -.1-1.2 .2-1.2 .6-1 2.1-.1 1.5-1.5 1-1.7 .5-1.9 .6-1 1.1-.4 1.1 .2 1.1 0 2.1-.4 1.8-1 1.3-.4 1.4 0 1.2-.6 1.3-.3 1.2-.5 .3-1.2 .7-1 .4-1.1 -1-.9 -1-1 -.8-1.1 -1.1-.9 -1.4 0 -1.2-.8 -1.2-.7 -1.4 .2 -1.8-1.1 -2-.6 -2-.2 -2-.7 .5-1.7 -.3-1.7 -1-1.4 -.4-1.7 -1.8-1.1 -2.1-.2 -1.3 .1 -1.2 .6 -1.3-.4 -1-.9 -1.2-.1 -1-.6 -1.1-.6 -1-.7 -1.1-.6 -1.2-.3 -1.1-.8 -1.3 .1 -1-.8 -1.1-.6 -1.1-.6 -1.2-.3 -.5-1.6 -1-1.3 -1.1-1.3 -1.3-1 -.5-1.3 -.7-1.2 -.2-1.3 .1-1.4 0-1.4 .4-1.3 .3-1.3 .6-1.2 0-1.4 .8-1.2 -.1-1.4 -.1-1.3 -.6-1.2 -.4-1.3 -.1-1.4 -.8-1.1 -.5-1.3 .1-1.4 0-1.3 -.5-1.3 -.3-1.3 -.4-1.3 -.7-1.2 -.3-1.3 -.1-2 1.8-1 -.7-1.7 .3-1.8 .1-1.2 .5-1 .8-.9 .9-.7 1-.4 1-.4 1.2 0 1-.6 1.1-.5 1-.5 1.1-.5 1-.6 1-.8 1.1-.4 1.1-.7 .4-1.2 .2-1.3 -.2-1.3 -.7-1.3 .7-1.3 -1.4-1.5 -1.1-1.8 -.9-2 -1.8-1.1 -.5-1.9 -.7-1.8 -1.2-1.6 -1.5-1.2 -1-.5 -1.2 .1 -1.1-.4 -.7-.9 -2-.9 -1.8-1.3 -2-.2 -1.7-.9 -1.6-1.3 -1.2-1.5 -2-.3 -1.7-1.1 -2-.2 -2 .3 -1.8-.1 -1.6-.8 -1.2-1.3 -.6-1.7 .3-2z" fill="none" stroke="#858585" stroke-width="1.6" stroke-linejoin="round"/>
<path d="M57.5 411.3l2 2 1.5 .7 1.6-.3 .7 2.3 1.6 .4 -2.3 1.6 -1.6 .7 -1.5 .8 -1.6 .4 -1.2-.8 -1.1 1.6 -.8 1.9 -2 1.2 -1.9-1.2 .4-2.7 .2-1.6 .2-1.5 1.9-2 2-1.5z" fill="#8a8a8a" stroke="#8a8a8a" stroke-width="0.8"/>
<path d="M642 671.3l.3 2.3 1.4 1.8 .5 2.2 .1 2.3 -1.2 2.2 .9 2.4 -.9 2.2 -.2 2.3 -.4 2.2 -.4 2.3 -.1 2.3 .2 2.7 -1.2 2.5 -.2 2.7 -1.2 2.2 -1.1 2.3 -.8 1.9 1 2.2 -1.7 1.8 .4 2.1 .2 2.4 -1.4 2.1 .1 2.3 -1.2 2.2 -1.1 2.3 -.7-2 -1.6-1.4 -.6-2.6 0-2.7 .2-2.6 -.1-2.2 1.7-1.7 .2-2.1 .5-2 .3-2.9 1.2-2.7 -.6-2.2 -.4-2.3 .1-2.3 .3-2.3 .7-2.2 .4-2.4 .7-2.2 .8-2.2 -.6-2.5 1.7-2 -.1-2.4 1.8-1.9 .5-2.6z" fill="#e6d3cc" stroke="#8c8c8c" stroke-width="1.7" stroke-linejoin="round"/>
<path d="M643.1 704.8l1.8 3.4 -1.4 8 -2.2-3.4 .2-4.6z" fill="#8c8c8c" stroke="#8c8c8c" stroke-width="1"/>
<path d="M627.2 741.1l3.4-2.7 2.7 2.7 -.4 5 -4.6 1.4 -1.5-3z" fill="#e6d3cc" stroke="#8c8c8c" stroke-width="1.2"/>
<circle cx="657.1" cy="641.8" r="0.8" fill="#8a8a8a"/>
<circle cx="662.8" cy="704.8" r="1.2" fill="#8a8a8a"/>
<circle cx="624.3" cy="722.3" r="1.2" fill="#8a8a8a"/>
<circle cx="637.0" cy="779.2" r="1.9" fill="#8a8a8a"/>
<circle cx="657.4" cy="796.0" r="1.0" fill="#8a8a8a"/>
<circle cx="646.5" cy="801.2" r="2.0" fill="#8a8a8a"/>
<circle cx="654.4" cy="805.7" r="2.5" fill="#8a8a8a"/>
<circle cx="651.7" cy="809.1" r="2.2" fill="#8a8a8a"/>
<circle cx="157" cy="746.5" r="0.8" fill="#8a8a8a"/><circle cx="181.5" cy="740.7" r="0.8" fill="#8a8a8a"/>
</svg>
</body></html>
